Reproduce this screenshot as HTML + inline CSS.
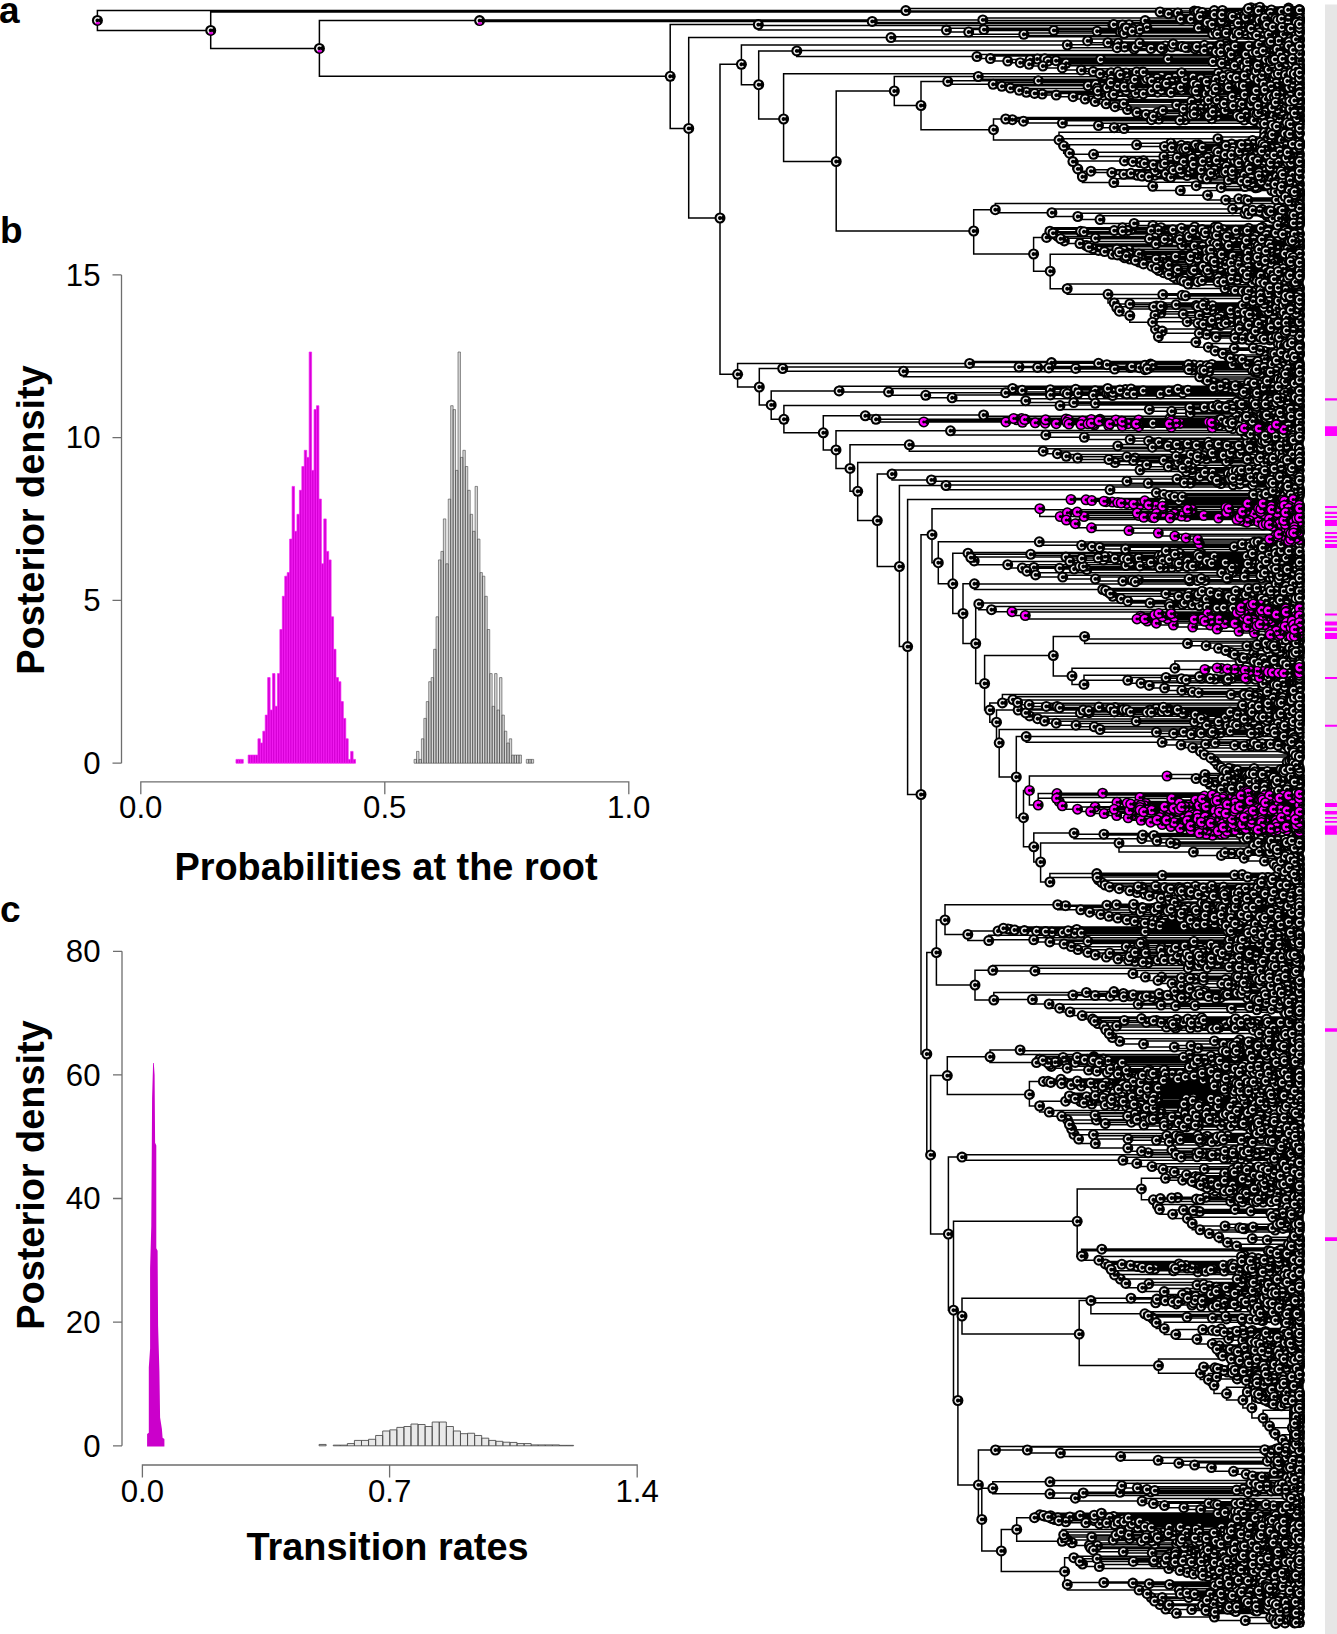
<!DOCTYPE html>
<html><head><meta charset="utf-8"><title>figure</title>
<style>html,body{margin:0;padding:0;background:#fff}svg{display:block}text{fill:#000}</style></head>
<body><svg width="1337" height="1634" viewBox="0 0 1337 1634">
<defs>
<marker id="n" markerUnits="userSpaceOnUse" markerWidth="13" markerHeight="13" refX="0" refY="0" viewBox="-6.5 -6.5 13 13" overflow="visible"><circle r="5.5" fill="#000"/><path d="M2.01 -1.81A2.7 2.7 0 1 0 2.01 1.81" fill="none" stroke="#ececec" stroke-width="1.5"/></marker>
<marker id="m" markerUnits="userSpaceOnUse" markerWidth="13" markerHeight="13" refX="0" refY="0" viewBox="-6.5 -6.5 13 13" overflow="visible"><circle r="5.5" fill="#000"/><path d="M2.11 -1.77A2.75 2.75 0 1 0 2.11 1.77" fill="none" stroke="#ff00ff" stroke-width="2.5"/></marker>
<marker id="w" markerUnits="userSpaceOnUse" markerWidth="13" markerHeight="13" refX="0" refY="0" viewBox="-6.5 -6.5 13 13" overflow="visible"><circle r="5.5" fill="#000"/><path d="M2.01 -1.81A2.7 2.7 0 1 0 2.01 1.81" fill="none" stroke="#ececec" stroke-width="1.5"/><path d="M-1.6 2.3A2.8 2.8 0 0 0 2 2" fill="none" stroke="#e000e0" stroke-width="2.2"/></marker>
</defs>
<rect width="1337" height="1634" fill="#fff"/>
<text x="-1" y="22.6" font-family="Liberation Sans, sans-serif" font-weight="bold" font-size="37">a</text>
<text x="0" y="243" font-family="Liberation Sans, sans-serif" font-weight="bold" font-size="37">b</text>
<text x="0" y="922" font-family="Liberation Sans, sans-serif" font-weight="bold" font-size="37">c</text>
<path d="M121.5 274.9V763.2M121.5 274.9h-9M121.5 437.6h-9M121.5 600.4h-9M121.5 763.2h-9" stroke="#6e6e6e" stroke-width="1.3" fill="none"/>
<path d="M140.8 794.2V781.8H628.8V794.2M384.8 781.8V794.2" stroke="#6e6e6e" stroke-width="1.3" fill="none"/>
<text x="100.5" y="285.7" text-anchor="end" font-family="Liberation Sans, sans-serif" font-size="31.2">15</text>
<text x="100.5" y="448.40000000000003" text-anchor="end" font-family="Liberation Sans, sans-serif" font-size="31.2">10</text>
<text x="100.5" y="611.1999999999999" text-anchor="end" font-family="Liberation Sans, sans-serif" font-size="31.2">5</text>
<text x="100.5" y="774.0" text-anchor="end" font-family="Liberation Sans, sans-serif" font-size="31.2">0</text>
<text x="140.8" y="818" text-anchor="middle" font-family="Liberation Sans, sans-serif" font-size="31.2">0.0</text>
<text x="384.8" y="818" text-anchor="middle" font-family="Liberation Sans, sans-serif" font-size="31.2">0.5</text>
<text x="628.8" y="818" text-anchor="middle" font-family="Liberation Sans, sans-serif" font-size="31.2">1.0</text>
<text x="386" y="879.5" text-anchor="middle" font-family="Liberation Sans, sans-serif" font-weight="bold" font-size="37.9">Probabilities at the root</text>
<text transform="translate(43.5 520) rotate(-90)" text-anchor="middle" font-family="Liberation Sans, sans-serif" font-weight="bold" font-size="37.9">Posterior density</text>
<path d="M235.96 763.2v-3.8h2.44v3.8zM238.40 763.2v-3.8h2.44v3.8zM240.84 763.2v-3.8h2.44v3.8zM248.16 763.2v-8.1h2.44v8.1zM250.60 763.2v-8.1h2.44v8.1zM253.04 763.2v-8.1h2.44v8.1zM255.48 763.2v-8.1h2.44v8.1zM257.92 763.2v-24.4h2.44v24.4zM260.36 763.2v-20.2h2.44v20.2zM262.80 763.2v-32.0h2.44v32.0zM265.24 763.2v-48.1h2.44v48.1zM267.68 763.2v-85.6h2.44v85.6zM270.12 763.2v-53.2h2.44v53.2zM272.56 763.2v-89.6h2.44v89.6zM275.00 763.2v-56.9h2.44v56.9zM277.44 763.2v-89.6h2.44v89.6zM279.88 763.2v-133.7h2.44v133.7zM282.32 763.2v-166.9h2.44v166.9zM284.76 763.2v-187.0h2.44v187.0zM287.20 763.2v-190.6h2.44v190.6zM289.64 763.2v-224.1h2.44v224.1zM292.08 763.2v-276.8h2.44v276.8zM294.52 763.2v-231.9h2.44v231.9zM296.96 763.2v-248.9h2.44v248.9zM299.40 763.2v-272.9h2.44v272.9zM301.84 763.2v-296.7h2.44v296.7zM304.28 763.2v-312.9h2.44v312.9zM306.72 763.2v-305.8h2.44v305.8zM309.16 763.2v-411.2h2.44v411.2zM311.60 763.2v-292.8h2.44v292.8zM314.04 763.2v-353.6h2.44v353.6zM316.48 763.2v-357.5h2.44v357.5zM318.92 763.2v-264.1h2.44v264.1zM321.36 763.2v-199.4h2.44v199.4zM323.80 763.2v-244.3h2.44v244.3zM326.24 763.2v-211.8h2.44v211.8zM328.68 763.2v-203.3h2.44v203.3zM331.12 763.2v-146.4h2.44v146.4zM333.56 763.2v-113.9h2.44v113.9zM336.00 763.2v-85.6h2.44v85.6zM338.44 763.2v-81.5h2.44v81.5zM340.88 763.2v-61.6h2.44v61.6zM343.32 763.2v-44.8h2.44v44.8zM345.76 763.2v-24.4h2.44v24.4zM348.20 763.2v-3.8h2.44v3.8zM350.64 763.2v-11.8h2.44v11.8zM353.08 763.2v-3.8h2.44v3.8z" fill="#d600d6" stroke="#f520f5" stroke-width="0.7"/>
<path d="M531.20 763.2v-3.8h2.44v3.8zM528.76 763.2v-3.8h2.44v3.8zM526.32 763.2v-3.8h2.44v3.8zM519.00 763.2v-8.1h2.44v8.1zM516.56 763.2v-8.1h2.44v8.1zM514.12 763.2v-8.1h2.44v8.1zM511.68 763.2v-8.1h2.44v8.1zM509.24 763.2v-24.4h2.44v24.4zM506.80 763.2v-20.2h2.44v20.2zM504.36 763.2v-32.0h2.44v32.0zM501.92 763.2v-48.1h2.44v48.1zM499.48 763.2v-85.6h2.44v85.6zM497.04 763.2v-53.2h2.44v53.2zM494.60 763.2v-89.6h2.44v89.6zM492.16 763.2v-56.9h2.44v56.9zM489.72 763.2v-89.6h2.44v89.6zM487.28 763.2v-133.7h2.44v133.7zM484.84 763.2v-166.9h2.44v166.9zM482.40 763.2v-187.0h2.44v187.0zM479.96 763.2v-190.6h2.44v190.6zM477.52 763.2v-224.1h2.44v224.1zM475.08 763.2v-276.8h2.44v276.8zM472.64 763.2v-231.9h2.44v231.9zM470.20 763.2v-248.9h2.44v248.9zM467.76 763.2v-272.9h2.44v272.9zM465.32 763.2v-296.7h2.44v296.7zM462.88 763.2v-312.9h2.44v312.9zM460.44 763.2v-305.8h2.44v305.8zM458.00 763.2v-411.2h2.44v411.2zM455.56 763.2v-292.8h2.44v292.8zM453.12 763.2v-353.6h2.44v353.6zM450.68 763.2v-357.5h2.44v357.5zM448.24 763.2v-264.1h2.44v264.1zM445.80 763.2v-199.4h2.44v199.4zM443.36 763.2v-244.3h2.44v244.3zM440.92 763.2v-211.8h2.44v211.8zM438.48 763.2v-203.3h2.44v203.3zM436.04 763.2v-146.4h2.44v146.4zM433.60 763.2v-113.9h2.44v113.9zM431.16 763.2v-85.6h2.44v85.6zM428.72 763.2v-81.5h2.44v81.5zM426.28 763.2v-61.6h2.44v61.6zM423.84 763.2v-44.8h2.44v44.8zM421.40 763.2v-24.4h2.44v24.4zM418.96 763.2v-3.8h2.44v3.8zM416.52 763.2v-11.8h2.44v11.8zM414.08 763.2v-3.8h2.44v3.8z" fill="#d6d6d6" stroke="#4a4a4a" stroke-width="0.62"/>
<path d="M122 951.3V1445.8M122 951.3h-9M122 1074.9h-9M122 1198.5h-9M122 1322.1h-9M122 1445.8h-9" stroke="#6e6e6e" stroke-width="1.3" fill="none"/>
<path d="M142.4 1477.4V1465H637.2V1477.4M389.6 1465V1477.4" stroke="#6e6e6e" stroke-width="1.3" fill="none"/>
<text x="100.5" y="962.0999999999999" text-anchor="end" font-family="Liberation Sans, sans-serif" font-size="31.2">80</text>
<text x="100.5" y="1085.7" text-anchor="end" font-family="Liberation Sans, sans-serif" font-size="31.2">60</text>
<text x="100.5" y="1209.3" text-anchor="end" font-family="Liberation Sans, sans-serif" font-size="31.2">40</text>
<text x="100.5" y="1332.8999999999999" text-anchor="end" font-family="Liberation Sans, sans-serif" font-size="31.2">20</text>
<text x="100.5" y="1456.6" text-anchor="end" font-family="Liberation Sans, sans-serif" font-size="31.2">0</text>
<text x="142.4" y="1501.5" text-anchor="middle" font-family="Liberation Sans, sans-serif" font-size="31.2">0.0</text>
<text x="389.6" y="1501.5" text-anchor="middle" font-family="Liberation Sans, sans-serif" font-size="31.2">0.7</text>
<text x="637.2" y="1501.5" text-anchor="middle" font-family="Liberation Sans, sans-serif" font-size="31.2">1.4</text>
<text x="387.5" y="1560" text-anchor="middle" font-family="Liberation Sans, sans-serif" font-weight="bold" font-size="37.9">Transition rates</text>
<text transform="translate(43.5 1175) rotate(-90)" text-anchor="middle" font-family="Liberation Sans, sans-serif" font-weight="bold" font-size="37.9">Posterior density</text>
<polygon points="147.1,1446.5 147.1,1434 148.8,1432.7 148.8,1367.4 150.1,1348.6 150.1,1268.3 151.3,1225.7 152.1,1097.7 153.1,1063 153.8,1063 154.6,1075 155.1,1142.8 156.3,1145.4 156.3,1248.2 157.6,1250.8 158.1,1326 159.4,1371.2 160.1,1417.6 161.9,1428.9 162.6,1437.7 164.4,1439 164.4,1446.5" fill="#cb00cb"/>
<path d="M319.07 1445.8v-1.35h7.07v1.35zM333.21 1445.8v-0.67h7.07v0.67zM340.28 1445.8v-0.67h7.07v0.67zM347.35 1445.8v-2.24h7.07v2.24zM354.42 1445.8v-5.38h7.07v5.38zM361.49 1445.8v-5.38h7.07v5.38zM368.56 1445.8v-6.51h7.07v6.51zM375.63 1445.8v-10.32h7.07v10.32zM382.70 1445.8v-14.81h7.07v14.81zM389.77 1445.8v-15.93h7.07v15.93zM396.84 1445.8v-18.40h7.07v18.40zM403.91 1445.8v-19.30h7.07v19.30zM410.98 1445.8v-21.76h7.07v21.76zM418.05 1445.8v-21.31h7.07v21.31zM425.12 1445.8v-19.30h7.07v19.30zM432.19 1445.8v-23.78h7.07v23.78zM439.26 1445.8v-23.78h7.07v23.78zM446.33 1445.8v-19.30h7.07v19.30zM453.40 1445.8v-14.81h7.07v14.81zM460.47 1445.8v-12.12h7.07v12.12zM467.54 1445.8v-12.56h7.07v12.56zM474.61 1445.8v-10.32h7.07v10.32zM481.68 1445.8v-7.63h7.07v7.63zM488.75 1445.8v-5.38h7.07v5.38zM495.82 1445.8v-4.49h7.07v4.49zM502.89 1445.8v-3.59h7.07v3.59zM509.96 1445.8v-3.37h7.07v3.37zM517.03 1445.8v-2.24h7.07v2.24zM524.10 1445.8v-2.24h7.07v2.24zM531.17 1445.8v-0.90h7.07v0.90zM538.24 1445.8v-0.90h7.07v0.90zM545.31 1445.8v-0.90h7.07v0.90zM552.38 1445.8v-0.90h7.07v0.90zM559.45 1445.8v-0.45h7.07v0.45zM566.52 1445.8v-0.45h7.07v0.45z" fill="#e9e9e9" stroke="#505050" stroke-width="0.9"/>
<rect x="1325" y="4.5" width="12" height="1630" fill="#e6e6e6"/>
<path d="M1325 398.2h12v2.2h-12zM1325 426.3h12v9.7h-12zM1325 505.9h12v2.2h-12zM1325 511.8h12v2.2h-12zM1325 516h12v1.9h-12zM1325 520h12v6.1h-12zM1325 531.9h12v2.2h-12zM1325 536h12v2.2h-12zM1325 540h12v2.0h-12zM1325 544h12v4.1h-12zM1325 613.4h12v2.1h-12zM1325 621.5h12v3.9h-12zM1325 627.4h12v3.7h-12zM1325 633h12v6.0h-12zM1325 676.9h12v2.0h-12zM1325 724.8h12v2.0h-12zM1325 803h12v3.9h-12zM1325 811h12v3.5h-12zM1325 816.9h12v1.9h-12zM1325 820.9h12v1.9h-12zM1325 825.4h12v9.3h-12zM1325 1028.2h12v3.6h-12zM1325 1237.3h12v3.8h-12z" fill="#ff00ff"/>
<path d="M97.4 10.6V30.4M97.4 10.6H905.8M97.4 30.4H210.7M905.8 8.5V11.1M905.8 8.5H1248.5M905.8 11.1H1194.3M1248.5 7.8V9.2M1248.5 7.8H1251M1248.5 9.2H1302.6M1251 7.2V8.4M1251 7.2H1259.9M1251 8.4H1256.6M1259.9 7V7.4M1259.9 7H1302.6M1259.9 7.4H1302.6M1256.6 8.1V8.7M1256.6 8.1H1288.6M1256.6 8.7H1302.6M1288.6 7.9V8.3M1288.6 7.9H1302.6M1288.6 8.3H1302.6M1194.3 10.4V11.8M1194.3 10.4H1222.4M1194.3 11.8H1302.6M1222.4 9.8V11M1222.4 9.8H1288M1222.4 11H1246.7M1288 9.6V10.1M1288 9.6H1302.6M1288 10.1H1302.6M1246.7 10.7V11.4M1246.7 10.7H1250M1246.7 11.4H1302.6M1250 10.5V10.9M1250 10.5H1302.6M1250 10.9H1302.6M210.7 12V48.4M210.7 12H1160M210.7 48.4H319.4M1160 12V16.2M1160 13.8H1168.5M1160 16.2H1302.6M1168.5 12.8V14.7M1168.5 12.8H1196.2M1168.5 14.7H1214.2M1196.2 12.5V13.2M1196.2 12.5H1202.2M1196.2 13.2H1302.6M1202.2 12.3V12.7M1202.2 12.3H1302.6M1202.2 12.7H1302.6M1214.2 14.1V15.2M1214.2 14.1H1216.8M1214.2 15.2H1230.6M1216.8 13.8V14.5M1216.8 13.8H1269.2M1216.8 14.5H1302.6M1269.2 13.6V14M1269.2 13.6H1302.6M1269.2 14H1302.6M1230.6 14.9V15.5M1230.6 14.9H1302.6M1230.6 15.5H1235.6M1235.6 15.3V15.8M1235.6 15.3H1302.6M1235.6 15.8H1302.6M319.4 20.6V76.3M319.4 20.6H479.6M319.4 76.3H670.2M479.6 19.9V21.4M479.6 19.9H982.8M479.6 21.4H872.2M982.8 17.9V20.6M982.8 17.9H1264.5M982.8 20.6H1145.1M1264.5 17.2V18.6M1264.5 17.2H1286.5M1264.5 18.6H1275.6M1286.5 17V17.4M1286.5 17H1302.6M1286.5 17.4H1302.6M1275.6 18.1V19M1275.6 18.1H1284.7M1275.6 19H1277.3M1284.7 17.9V18.3M1284.7 17.9H1302.6M1284.7 18.3H1302.6M1277.3 18.8V19.2M1277.3 18.8H1302.6M1277.3 19.2H1302.6M1145.1 20.2V21M1145.1 20.2H1277.6M1145.1 21H1302.6M1277.6 19.9V20.6M1277.6 19.9H1287.8M1277.6 20.6H1302.6M1287.8 19.7V20.1M1287.8 19.7H1302.6M1287.8 20.1H1302.6M872.2 21.4V23.6M872.2 22.4H1207.2M872.2 23.6H1302.6M1207.2 21.9V22.9M1207.2 21.9H1213.4M1207.2 22.9H1237.9M1213.4 21.6V22.1M1213.4 21.6H1302.6M1213.4 22.1H1302.6M1237.9 22.6V23.1M1237.9 22.6H1302.6M1237.9 23.1H1302.6M670.2 24.6V128.4M670.2 24.6H758.3M670.2 128.4H688.7M758.3 24.6V30.1M758.3 25.4H1269.1M758.3 30.1H946.4M1269.1 24.6V26.3M1269.1 24.6H1278.5M1269.1 26.3H1271.3M1278.5 24.2V24.9M1278.5 24.2H1281M1278.5 24.9H1302.6M1281 24V24.4M1281 24H1302.6M1281 24.4H1302.6M1271.3 25.5V27M1271.3 25.5H1288.4M1271.3 27H1272.6M1288.4 25.3V25.8M1288.4 25.3H1302.6M1288.4 25.8H1302.6M1272.6 26.5V27.5M1272.6 26.5H1278.4M1272.6 27.5H1302.6M1278.4 26.2V26.9M1278.4 26.2H1302.6M1278.4 26.9H1288.5M1288.5 26.7V27.1M1288.5 26.7H1302.6M1288.5 27.1H1302.6M946.4 28.2V32M946.4 28.2H1273.6M946.4 32H968.7M1273.6 28V28.4M1273.6 28H1302.6M1273.6 28.4H1302.6M968.7 29.6V34.3M968.7 29.6H983.9M968.7 34.3H1023.8M983.9 28.9V30.4M983.9 28.9H1302.6M983.9 30.4H1053.8M1053.8 29.5V31.2M1053.8 29.5H1273.5M1053.8 31.2H1097.1M1273.5 29.3V29.8M1273.5 29.3H1302.6M1273.5 29.8H1302.6M1097.1 30.7V31.7M1097.1 30.7H1126.9M1097.1 31.7H1137.4M1126.9 30.4V31.1M1126.9 30.4H1215.5M1126.9 31.1H1302.6M1215.5 30.2V30.6M1215.5 30.2H1302.6M1215.5 30.6H1302.6M1137.4 31.5V32M1137.4 31.5H1302.6M1137.4 32H1302.6M1023.8 33.1V35.5M1023.8 33.1H1226M1023.8 35.5H1302.6M1226 32.4V33.7M1226 32.4H1302.6M1226 33.7H1239M1239 33.1V34.4M1239 33.1H1265M1239 34.4H1246.8M1265 32.8V33.3M1265 32.8H1302.6M1265 33.3H1302.6M1246.8 34V34.8M1246.8 34H1251.9M1246.8 34.8H1253M1251.9 33.7V34.2M1251.9 33.7H1302.6M1251.9 34.2H1302.6M1253 34.6V35.1M1253 34.6H1302.6M1253 35.1H1302.6M688.7 37.6V218M688.7 37.6H891M688.7 218H720M891 36.8V40.9M891 36.8H1233.6M891 40.9H1087.6M1233.6 36.3V37.3M1233.6 36.3H1269.8M1233.6 37.3H1302.6M1269.8 36V36.7M1269.8 36H1302.6M1269.8 36.7H1285M1285 36.4V36.9M1285 36.4H1302.6M1285 36.9H1302.6M1087.6 39V42.7M1087.6 39H1289.1M1087.6 42.7H1107.8M1289.1 38V40M1289.1 38H1292.4M1289.1 40H1290.3M1292.4 37.8V38.2M1292.4 37.8H1302.6M1292.4 38.2H1302.6M1290.3 39.2V40.9M1290.3 39.2H1292.8M1290.3 40.9H1302.6M1292.8 38.6V39.8M1292.8 38.6H1302.6M1292.8 39.8H1293.4M1293.4 39.3V40.2M1293.4 39.3H1295.9M1293.4 40.2H1293.4M1295.9 39.1V39.5M1295.9 39.1H1302.6M1295.9 39.5H1302.6M1293.4 40V40.4M1293.4 40H1302.6M1293.4 40.4H1302.6M1107.8 42.1V43.3M1107.8 42.1H1262.9M1107.8 43.3H1118.2M1262.9 41.6V42.6M1262.9 41.6H1282.2M1262.9 42.6H1302.6M1282.2 41.3V42M1282.2 41.3H1302.6M1282.2 42H1289M1289 41.7V42.2M1289 41.7H1302.6M1289 42.2H1302.6M1118.2 43.1V43.5M1118.2 43.1H1302.6M1118.2 43.5H1302.6M720 64.3V374.3M720 64.3H741.4M720 374.3H737.6M741.4 45V84.7M741.4 45H1067.3M741.4 84.7H758.7M1067.3 44.7V47.7M1067.3 44.7H1271.7M1067.3 47.7H1117.1M1271.7 44V45.4M1271.7 44H1302.6M1271.7 45.4H1274.6M1274.6 45V45.8M1274.6 45H1277.1M1274.6 45.8H1302.6M1277.1 44.7V45.4M1277.1 44.7H1294.4M1277.1 45.4H1302.6M1294.4 44.5V44.9M1294.4 44.5H1302.6M1294.4 44.9H1302.6M1117.1 46.3V49M1117.1 46.3H1302.6M1117.1 49H1134.2M1134.2 48.5V49.5M1134.2 48.5H1150.9M1134.2 49.5H1302.6M1150.9 48V49M1150.9 48H1161.2M1150.9 49H1302.6M1161.2 47.4V48.6M1161.2 47.4H1188.1M1161.2 48.6H1302.6M1188.1 47V47.9M1188.1 47H1198.5M1188.1 47.9H1210.2M1198.5 46.8V47.2M1198.5 46.8H1302.6M1198.5 47.2H1302.6M1210.2 47.7V48.1M1210.2 47.7H1302.6M1210.2 48.1H1302.6M758.7 50.9V119M758.7 50.9H796.8M758.7 119H783.6M796.8 50.6V56.6M796.8 50.6H1204.1M796.8 56.6H976.9M1204.1 50V51.2M1204.1 50H1302.6M1204.1 51.2H1212.8M1212.8 50.7V51.8M1212.8 50.7H1263M1212.8 51.8H1216.1M1263 50.4V50.9M1263 50.4H1302.6M1263 50.9H1302.6M1216.1 51.3V52.3M1216.1 51.3H1302.6M1216.1 52.3H1220.7M1220.7 51.8V52.8M1220.7 51.8H1302.6M1220.7 52.8H1224.2M1224.2 52.5V53.1M1224.2 52.5H1272.8M1224.2 53.1H1302.6M1272.8 52.2V52.7M1272.8 52.2H1302.6M1272.8 52.7H1302.6M976.9 54.5V58.6M976.9 54.5H1231.1M976.9 58.6H990.4M1231.1 54.2V54.9M1231.1 54.2H1245.8M1231.1 54.9H1302.6M1245.8 53.8V54.5M1245.8 53.8H1278.5M1245.8 54.5H1302.6M1278.5 53.6V54M1278.5 53.6H1302.6M1278.5 54H1302.6M990.4 56.1V61.1M990.4 56.1H1258.9M990.4 61.1H1007.7M1258.9 55.4V56.8M1258.9 55.4H1302.6M1258.9 56.8H1266.3M1266.3 56.2V57.4M1266.3 56.2H1273.1M1266.3 57.4H1273M1273.1 55.8V56.5M1273.1 55.8H1302.6M1273.1 56.5H1285.6M1285.6 56.3V56.7M1285.6 56.3H1302.6M1285.6 56.7H1302.6M1273 57.2V57.6M1273 57.2H1302.6M1273 57.6H1302.6M1007.7 59.6V62.7M1007.7 59.6H1030.1M1007.7 62.7H1020.2M1030.1 58.8V60.3M1030.1 58.8H1044.8M1030.1 60.3H1302.6M1044.8 58.1V59.5M1044.8 58.1H1302.6M1044.8 59.5H1100.6M1100.6 59.1V59.9M1100.6 59.1H1167.9M1100.6 59.9H1302.6M1167.9 58.8V59.4M1167.9 58.8H1282.4M1167.9 59.4H1302.6M1282.4 58.5V59M1282.4 58.5H1302.6M1282.4 59H1302.6M1020.2 61.2V64.3M1020.2 61.2H1224.9M1020.2 64.3H1029.1M1224.9 60.8V61.6M1224.9 60.8H1302.6M1224.9 61.6H1240.3M1240.3 61.2V61.9M1240.3 61.2H1302.6M1240.3 61.9H1247M1247 61.7V62.1M1247 61.7H1302.6M1247 62.1H1302.6M1029.1 62.6V66M1029.1 62.6H1302.6M1029.1 66H1042.9M1042.9 64V67.9M1042.9 64H1228.6M1042.9 67.9H1062.3M1228.6 63.6V64.4M1228.6 63.6H1272M1228.6 64.4H1302.6M1272 63.2V63.9M1272 63.2H1292.3M1272 63.9H1302.6M1292.3 63V63.5M1292.3 63H1302.6M1292.3 63.5H1302.6M1062.3 65.7V70.1M1062.3 65.7H1234.5M1062.3 70.1H1081.3M1234.5 64.8V66.6M1234.5 64.8H1302.6M1234.5 66.6H1244.2M1244.2 66.2V67.1M1244.2 66.2H1255.5M1244.2 67.1H1302.6M1255.5 65.8V66.6M1255.5 65.8H1267.3M1255.5 66.6H1302.6M1267.3 65.5V66.2M1267.3 65.5H1279.2M1267.3 66.2H1302.6M1279.2 65.3V65.7M1279.2 65.3H1302.6M1279.2 65.7H1302.6M1081.3 68.7V71.6M1081.3 68.7H1288.1M1081.3 71.6H1093.2M1288.1 67.7V69.6M1288.1 67.7H1291.2M1288.1 69.6H1290.9M1291.2 67.5V68M1291.2 67.5H1302.6M1291.2 68H1302.6M1290.9 69.1V70.2M1290.9 69.1H1293.6M1290.9 70.2H1302.6M1293.6 68.6V69.5M1293.6 68.6H1295.9M1293.6 69.5H1293.6M1295.9 68.4V68.9M1295.9 68.4H1302.6M1295.9 68.9H1302.6M1293.6 69.3V69.8M1293.6 69.3H1302.6M1293.6 69.8H1302.6M1093.2 71.2V72M1093.2 71.2H1273.5M1093.2 72H1302.6M1273.5 70.9V71.6M1273.5 70.9H1278.9M1273.5 71.6H1302.6M1278.9 70.7V71.1M1278.9 70.7H1302.6M1278.9 71.1H1302.6M783.6 73.8V161.5M783.6 73.8H1100M783.6 161.5H836.2M1100 73V74.6M1100 73H1126M1100 74.6H1136.5M1126 72.7V73.3M1126 72.7H1181.6M1126 73.3H1302.6M1181.6 72.5V72.9M1181.6 72.5H1302.6M1181.6 72.9H1302.6M1136.5 74.3V75M1136.5 74.3H1275M1136.5 75H1302.6M1275 74V74.6M1275 74H1294.3M1275 74.6H1302.6M1294.3 73.8V74.2M1294.3 73.8H1302.6M1294.3 74.2H1302.6M836.2 91V231M836.2 91H894.3M836.2 231H973.7M894.3 76.5V105.5M894.3 76.5H978.3M894.3 105.5H921M978.3 76.5V79.3M978.3 76.8H1223.1M978.3 79.3H1111.1M1223.1 75.7V77.8M1223.1 75.7H1244.3M1223.1 77.8H1236.4M1244.3 75.5V75.9M1244.3 75.5H1302.6M1244.3 75.9H1302.6M1236.4 76.9V78.6M1236.4 76.9H1238.9M1236.4 78.6H1302.6M1238.9 76.4V77.5M1238.9 76.4H1302.6M1238.9 77.5H1244.7M1244.7 77.1V77.9M1244.7 77.1H1277.6M1244.7 77.9H1248.2M1277.6 76.8V77.3M1277.6 76.8H1302.6M1277.6 77.3H1302.6M1248.2 77.7V78.2M1248.2 77.7H1302.6M1248.2 78.2H1302.6M1111.1 79.1V79.5M1111.1 79.1H1302.6M1111.1 79.5H1302.6M921 81.4V129.7M921 81.4H947.7M921 129.7H993.5M947.7 80.7V84.3M947.7 80.7H1038.3M947.7 84.3H993.1M1038.3 80.2V81.1M1038.3 80.2H1258.1M1038.3 81.1H1151.6M1258.1 80V80.5M1258.1 80H1302.6M1258.1 80.5H1302.6M1151.6 80.9V81.4M1151.6 80.9H1302.6M1151.6 81.4H1302.6M993.1 82.4V86.3M993.1 82.4H1132M993.1 86.3H1001.9M1132 81.8V82.9M1132 81.8H1302.6M1132 82.9H1171.8M1171.8 82.3V83.5M1171.8 82.3H1302.6M1171.8 83.5H1193.8M1193.8 83V84.1M1193.8 83H1228.4M1193.8 84.1H1302.6M1228.4 82.7V83.4M1228.4 82.7H1302.6M1228.4 83.4H1276.2M1276.2 83.2V83.6M1276.2 83.2H1302.6M1276.2 83.6H1302.6M1001.9 84.5V88.1M1001.9 84.5H1302.6M1001.9 88.1H1010.4M1010.4 85.8V90.3M1010.4 85.8H1088M1010.4 90.3H1019.2M1088 85.2V86.4M1088 85.2H1214.4M1088 86.4H1157.3M1214.4 85V85.4M1214.4 85H1302.6M1214.4 85.4H1302.6M1157.3 86.1V86.8M1157.3 86.1H1213.6M1157.3 86.8H1302.6M1213.6 85.9V86.3M1213.6 85.9H1302.6M1213.6 86.3H1302.6M1019.2 88.4V92.3M1019.2 88.4H1097.1M1019.2 92.3H1026.4M1097.1 87.4V89.4M1097.1 87.4H1208.2M1097.1 89.4H1153.7M1208.2 87.2V87.7M1208.2 87.2H1302.6M1208.2 87.7H1302.6M1153.7 88.7V90M1153.7 88.7H1174.3M1153.7 90H1181.8M1174.3 88.3V89M1174.3 88.3H1198M1174.3 89H1302.6M1198 88.1V88.6M1198 88.1H1302.6M1198 88.6H1302.6M1181.8 89.7V90.4M1181.8 89.7H1264.5M1181.8 90.4H1302.6M1264.5 89.5V89.9M1264.5 89.5H1302.6M1264.5 89.9H1302.6M1026.4 91.2V93.4M1026.4 91.2H1098.1M1026.4 93.4H1034.6M1098.1 90.8V91.6M1098.1 90.8H1302.6M1098.1 91.6H1119.4M1119.4 91.3V91.9M1119.4 91.3H1302.6M1119.4 91.9H1130.8M1130.8 91.7V92.2M1130.8 91.7H1302.6M1130.8 92.2H1302.6M1034.6 92.6V94.1M1034.6 92.6H1302.6M1034.6 94.1H1042.2M1042.2 93.1V95.1M1042.2 93.1H1302.6M1042.2 95.1H1056.2M1056.2 93.5V96.7M1056.2 93.5H1302.6M1056.2 96.7H1073.1M1073.1 94.5V99M1073.1 94.5H1276.3M1073.1 99H1085.1M1276.3 94.2V94.9M1276.3 94.2H1294.4M1276.3 94.9H1302.6M1294.4 94V94.4M1294.4 94H1302.6M1294.4 94.4H1302.6M1085.1 96.3V101.6M1085.1 96.3H1270.5M1085.1 101.6H1095.1M1270.5 95.5V97.1M1270.5 95.5H1292.6M1270.5 97.1H1274.3M1292.6 95.3V95.8M1292.6 95.3H1302.6M1292.6 95.8H1302.6M1274.3 96.4V97.7M1274.3 96.4H1290.2M1274.3 97.7H1276.7M1290.2 96.2V96.7M1290.2 96.2H1302.6M1290.2 96.7H1302.6M1276.7 97.3V98M1276.7 97.3H1294.2M1276.7 98H1302.6M1294.2 97.1V97.6M1294.2 97.1H1302.6M1294.2 97.6H1302.6M1095.1 99.4V103.8M1095.1 99.4H1251.5M1095.1 103.8H1106.1M1251.5 99V99.8M1251.5 99H1254.6M1251.5 99.8H1302.6M1254.6 98.7V99.4M1254.6 98.7H1293.2M1254.6 99.4H1302.6M1293.2 98.5V98.9M1293.2 98.5H1302.6M1293.2 98.9H1302.6M1106.1 101V106.7M1106.1 101H1287.4M1106.1 106.7H1115M1287.4 100.5V101.4M1287.4 100.5H1294.4M1287.4 101.4H1289.8M1294.4 100.3V100.7M1294.4 100.3H1302.6M1294.4 100.7H1302.6M1289.8 101.2V101.6M1289.8 101.2H1302.6M1289.8 101.6H1302.6M1115 103.7V109.6M1115 103.7H1123.6M1115 109.6H1127.4M1123.6 102.3V105.1M1123.6 102.3H1242.7M1123.6 105.1H1176.6M1242.7 102.1V102.5M1242.7 102.1H1302.6M1242.7 102.5H1302.6M1176.6 104.5V105.7M1176.6 104.5H1205M1176.6 105.7H1302.6M1205 103.7V105.2M1205 103.7H1225.6M1205 105.2H1302.6M1225.6 103.2V104.2M1225.6 103.2H1237.2M1225.6 104.2H1241.8M1237.2 103V103.4M1237.2 103H1302.6M1237.2 103.4H1302.6M1241.8 103.9V104.6M1241.8 103.9H1302.6M1241.8 104.6H1246.4M1246.4 104.3V104.8M1246.4 104.3H1302.6M1246.4 104.8H1302.6M1127.4 106.9V112.4M1127.4 106.9H1270.8M1127.4 112.4H1136.8M1270.8 106.1V107.6M1270.8 106.1H1302.6M1270.8 107.6H1272.1M1272.1 106.8V108.3M1272.1 106.8H1294.4M1272.1 108.3H1274.3M1294.4 106.6V107M1294.4 106.6H1302.6M1294.4 107H1302.6M1274.3 107.7V109M1274.3 107.7H1278.3M1274.3 109H1277.4M1278.3 107.5V107.9M1278.3 107.5H1302.6M1278.3 107.9H1302.6M1277.4 108.6V109.3M1277.4 108.6H1285.2M1277.4 109.3H1302.6M1285.2 108.4V108.8M1285.2 108.4H1302.6M1285.2 108.8H1302.6M1136.8 110.4V114.5M1136.8 110.4H1162.8M1136.8 114.5H1146M1162.8 110V110.9M1162.8 110H1276.5M1162.8 110.9H1224.3M1276.5 109.7V110.2M1276.5 109.7H1302.6M1276.5 110.2H1302.6M1224.3 110.6V111.1M1224.3 110.6H1302.6M1224.3 111.1H1302.6M1146 112.7V116.3M1146 112.7H1157.5M1146 116.3H1153.2M1157.5 111.8V113.5M1157.5 111.8H1212.6M1157.5 113.5H1183.8M1212.6 111.5V112M1212.6 111.5H1302.6M1212.6 112H1302.6M1183.8 112.4V114.7M1183.8 112.4H1302.6M1183.8 114.7H1197.6M1197.6 113.7V115.6M1197.6 113.7H1253.8M1197.6 115.6H1302.6M1253.8 113.1V114.3M1253.8 113.1H1294.4M1253.8 114.3H1259.7M1294.4 112.9V113.3M1294.4 112.9H1302.6M1294.4 113.3H1302.6M1259.7 113.8V114.8M1259.7 113.8H1302.6M1259.7 114.8H1262.5M1262.5 114.5V115.1M1262.5 114.5H1266.3M1262.5 115.1H1302.6M1266.3 114.2V114.7M1266.3 114.2H1302.6M1266.3 114.7H1302.6M1153.2 116V116.5M1153.2 116H1302.6M1153.2 116.5H1302.6M993.5 119V139.9M993.5 119H1005.7M993.5 139.9H1059M1005.7 117.5V119.7M1005.7 117.5H1302.6M1005.7 119.7H1012.4M1012.4 118.3V121.2M1012.4 118.3H1279.1M1012.4 121.2H1023.4M1279.1 117.9V118.6M1279.1 117.9H1302.6M1279.1 118.6H1288.1M1288.1 118.4V118.8M1288.1 118.4H1302.6M1288.1 118.8H1302.6M1023.4 119.3V123.1M1023.4 119.3H1302.6M1023.4 123.1H1062.4M1062.4 120.7V125.5M1062.4 120.7H1255.2M1062.4 125.5H1098.5M1255.2 119.9V121.4M1255.2 119.9H1285.3M1255.2 121.4H1265.5M1285.3 119.7V120.2M1285.3 119.7H1302.6M1285.3 120.2H1302.6M1265.5 120.8V122M1265.5 120.8H1294.4M1265.5 122H1270.4M1294.4 120.6V121M1294.4 120.6H1302.6M1294.4 121H1302.6M1270.4 121.7V122.4M1270.4 121.7H1275M1270.4 122.4H1302.6M1275 121.5V121.9M1275 121.5H1302.6M1275 121.9H1302.6M1098.5 123.3V127.7M1098.5 123.3H1260.1M1098.5 127.7H1114.2M1260.1 122.8V123.8M1260.1 122.8H1302.6M1260.1 123.8H1264.4M1264.4 123.2V124.4M1264.4 123.2H1302.6M1264.4 124.4H1266.6M1266.6 123.9V124.9M1266.6 123.9H1269.3M1266.6 124.9H1270.9M1269.3 123.7V124.1M1269.3 123.7H1302.6M1269.3 124.1H1302.6M1270.9 124.6V125.2M1270.9 124.6H1302.6M1270.9 125.2H1272.5M1272.5 125V125.5M1272.5 125H1302.6M1272.5 125.5H1302.6M1114.2 126.8V128.6M1114.2 126.8H1264.6M1114.2 128.6H1124M1264.6 126.5V127.2M1264.6 126.5H1276.6M1264.6 127.2H1302.6M1276.6 126.1V126.8M1276.6 126.1H1293.3M1276.6 126.8H1302.6M1293.3 125.9V126.3M1293.3 125.9H1302.6M1293.3 126.3H1302.6M1124 128.2V129M1124 128.2H1279.1M1124 129H1302.6M1279.1 127.9V128.6M1279.1 127.9H1283.2M1279.1 128.6H1302.6M1283.2 127.7V128.1M1283.2 127.7H1302.6M1283.2 128.1H1302.6M1059 132.2V145.9M1059 132.2H1264.6M1059 145.9H1063.7M1264.6 131.2V133.3M1264.6 131.2H1271M1264.6 133.3H1266.3M1271 131V131.4M1271 131H1302.6M1271 131.4H1302.6M1266.3 132.5V134.1M1266.3 132.5H1270.5M1266.3 134.1H1269.6M1270.5 132.1V132.8M1270.5 132.1H1286.4M1270.5 132.8H1302.6M1286.4 131.9V132.3M1286.4 131.9H1302.6M1286.4 132.3H1302.6M1269.6 133.5V134.7M1269.6 133.5H1284.9M1269.6 134.7H1272.1M1284.9 133.2V133.7M1284.9 133.2H1302.6M1284.9 133.7H1302.6M1272.1 134.4V135M1272.1 134.4H1286.5M1272.1 135H1302.6M1286.5 134.1V134.6M1286.5 134.1H1302.6M1286.5 134.6H1302.6M1063.7 138.7V153.2M1063.7 138.7H1217.9M1063.7 153.2H1069.5M1217.9 136.9V140.5M1217.9 136.9H1264.3M1217.9 140.5H1252.6M1264.3 136V137.7M1264.3 136H1288.8M1264.3 137.7H1267.9M1288.8 135.7V136.4M1288.8 135.7H1294.4M1288.8 136.4H1302.6M1294.4 135.5V135.9M1294.4 135.5H1302.6M1294.4 135.9H1302.6M1267.9 137.1V138.3M1267.9 137.1H1292M1267.9 138.3H1271.2M1292 136.8V137.3M1292 136.8H1302.6M1292 137.3H1302.6M1271.2 138V138.6M1271.2 138H1290.7M1271.2 138.6H1302.6M1290.7 137.7V138.2M1290.7 137.7H1302.6M1290.7 138.2H1302.6M1252.6 140V140.9M1252.6 140H1281.6M1252.6 140.9H1302.6M1281.6 139.6V140.4M1281.6 139.6H1291.8M1281.6 140.4H1302.6M1291.8 139.3V140M1291.8 139.3H1294.3M1291.8 140H1302.6M1294.3 139.1V139.5M1294.3 139.1H1302.6M1294.3 139.5H1302.6M1069.5 144.8V161.6M1069.5 144.8H1136.6M1069.5 161.6H1072.9M1136.6 143.2V146.4M1136.6 143.2H1170.8M1136.6 146.4H1164.5M1170.8 142.3V144M1170.8 142.3H1260.4M1170.8 144H1302.6M1260.4 141.5V143.1M1260.4 141.5H1293.8M1260.4 143.1H1264.6M1293.8 141.3V141.8M1293.8 141.3H1302.6M1293.8 141.8H1302.6M1264.6 142.6V143.6M1264.6 142.6H1268.6M1264.6 143.6H1302.6M1268.6 142.2V142.9M1268.6 142.2H1302.6M1268.6 142.9H1284.6M1284.6 142.7V143.1M1284.6 142.7H1302.6M1284.6 143.1H1302.6M1164.5 145V147.7M1164.5 145H1195.6M1164.5 147.7H1171.7M1195.6 144.7V145.4M1195.6 144.7H1241.6M1195.6 145.4H1302.6M1241.6 144.5V144.9M1241.6 144.5H1302.6M1241.6 144.9H1302.6M1171.7 146.5V148.9M1171.7 146.5H1187.3M1171.7 148.9H1180.9M1187.3 146V147M1187.3 146H1285.7M1187.3 147H1200.1M1285.7 145.8V146.3M1285.7 145.8H1302.6M1285.7 146.3H1302.6M1200.1 146.7V147.4M1200.1 146.7H1302.6M1200.1 147.4H1202.3M1202.3 147.2V147.6M1202.3 147.2H1302.6M1202.3 147.6H1302.6M1180.9 148.3V149.6M1180.9 148.3H1260.8M1180.9 149.6H1183.6M1260.8 148.1V148.5M1260.8 148.1H1302.6M1260.8 148.5H1302.6M1183.6 149.2V150.1M1183.6 149.2H1191M1183.6 150.1H1188.9M1191 148.9V149.4M1191 148.9H1302.6M1191 149.4H1302.6M1188.9 149.8V150.3M1188.9 149.8H1302.6M1188.9 150.3H1302.6M1072.9 154.3V168.9M1072.9 154.3H1093.5M1072.9 168.9H1077.8M1093.5 152.3V156.4M1093.5 152.3H1218M1093.5 156.4H1163.9M1218 151.1V153.5M1218 151.1H1239.2M1218 153.5H1240.8M1239.2 150.7V151.4M1239.2 150.7H1302.6M1239.2 151.4H1279.6M1279.6 151.2V151.6M1279.6 151.2H1302.6M1279.6 151.6H1302.6M1240.8 153V153.9M1240.8 153H1268.3M1240.8 153.9H1302.6M1268.3 152.7V153.4M1268.3 152.7H1277.8M1268.3 153.4H1302.6M1277.8 152.3V153M1277.8 152.3H1287.3M1277.8 153H1302.6M1287.3 152.1V152.5M1287.3 152.1H1302.6M1287.3 152.5H1302.6M1163.9 155.3V157.5M1163.9 155.3H1267.2M1163.9 157.5H1177.2M1267.2 154.9V155.7M1267.2 154.9H1287.5M1267.2 155.7H1302.6M1287.5 154.6V155.2M1287.5 154.6H1294.4M1287.5 155.2H1302.6M1294.4 154.3V154.8M1294.4 154.3H1302.6M1294.4 154.8H1302.6M1177.2 156.5V158.5M1177.2 156.5H1191.6M1177.2 158.5H1192.1M1191.6 156.1V156.8M1191.6 156.1H1302.6M1191.6 156.8H1265.4M1265.4 156.6V157M1265.4 156.6H1302.6M1265.4 157H1302.6M1192.1 157.7V159.3M1192.1 157.7H1251.1M1192.1 159.3H1201.6M1251.1 157.5V157.9M1251.1 157.5H1302.6M1251.1 157.9H1302.6M1201.6 158.9V159.7M1201.6 158.9H1246M1201.6 159.7H1302.6M1246 158.6V159.3M1246 158.6H1252.5M1246 159.3H1302.6M1252.5 158.4V158.8M1252.5 158.4H1302.6M1252.5 158.8H1302.6M1077.8 160.9V176.8M1077.8 160.9H1124.4M1077.8 176.8H1082.4M1124.4 160.2V161.7M1124.4 160.2H1302.6M1124.4 161.7H1132.8M1132.8 160.8V162.5M1132.8 160.8H1143.5M1132.8 162.5H1139.9M1143.5 160.6V161.1M1143.5 160.6H1302.6M1143.5 161.1H1302.6M1139.9 161.5V163.5M1139.9 161.5H1302.6M1139.9 163.5H1144.4M1144.4 162.2V164.7M1144.4 162.2H1278.3M1144.4 164.7H1153.2M1278.3 162V162.4M1278.3 162H1302.6M1278.3 162.4H1302.6M1153.2 163.4V166.1M1153.2 163.4H1164.6M1153.2 166.1H1161.1M1164.6 162.9V164M1164.6 162.9H1302.6M1164.6 164H1184.1M1184.1 163.5V164.4M1184.1 163.5H1205.4M1184.1 164.4H1193.2M1205.4 163.3V163.8M1205.4 163.3H1302.6M1205.4 163.8H1302.6M1193.2 164.2V164.7M1193.2 164.2H1302.6M1193.2 164.7H1302.6M1161.1 165.3V166.8M1161.1 165.3H1195.7M1161.1 166.8H1167.3M1195.7 165.1V165.6M1195.7 165.1H1302.6M1195.7 165.6H1302.6M1167.3 166V167.7M1167.3 166H1302.6M1167.3 167.7H1170.8M1170.8 167V168.3M1170.8 167H1175.7M1170.8 168.3H1175.5M1175.7 166.7V167.3M1175.7 166.7H1186.9M1175.7 167.3H1302.6M1186.9 166.4V166.9M1186.9 166.4H1302.6M1186.9 166.9H1302.6M1175.5 167.8V168.8M1175.5 167.8H1302.6M1175.5 168.8H1179.6M1179.6 168.5V169.1M1179.6 168.5H1284.8M1179.6 169.1H1302.6M1284.8 168.2V168.7M1284.8 168.2H1302.6M1284.8 168.7H1302.6M1082.4 171.2V182.5M1082.4 171.2H1090.9M1082.4 182.5H1113.8M1090.9 169.8V172.5M1090.9 169.8H1201.1M1090.9 172.5H1111.8M1201.1 169.6V170M1201.1 169.6H1302.6M1201.1 170H1302.6M1111.8 170.7V174.3M1111.8 170.7H1155M1111.8 174.3H1123.7M1155 170.5V170.9M1155 170.5H1302.6M1155 170.9H1302.6M1123.7 173.3V175.3M1123.7 173.3H1130.9M1123.7 175.3H1137.4M1130.9 172.5V174.1M1130.9 172.5H1158.1M1130.9 174.1H1302.6M1158.1 171.9V173.1M1158.1 171.9H1188.8M1158.1 173.1H1223.5M1188.8 171.6V172.3M1188.8 171.6H1219.8M1188.8 172.3H1302.6M1219.8 171.4V171.8M1219.8 171.4H1302.6M1219.8 171.8H1302.6M1223.5 172.7V173.4M1223.5 172.7H1302.6M1223.5 173.4H1238.4M1238.4 173.2V173.6M1238.4 173.2H1302.6M1238.4 173.6H1302.6M1137.4 174.5V176M1137.4 174.5H1302.6M1137.4 176H1141.9M1141.9 175.2V176.8M1141.9 175.2H1259.4M1141.9 176.8H1148.7M1259.4 175V175.4M1259.4 175H1302.6M1259.4 175.4H1302.6M1148.7 176.4V177.2M1148.7 176.4H1167.5M1148.7 177.2H1302.6M1167.5 176.1V176.8M1167.5 176.1H1263.9M1167.5 176.8H1302.6M1263.9 175.9V176.3M1263.9 175.9H1302.6M1263.9 176.3H1302.6M1113.8 178.8V186.3M1113.8 178.8H1206.9M1113.8 186.3H1152.7M1206.9 177.7V179.9M1206.9 177.7H1302.6M1206.9 179.9H1228.4M1228.4 179V180.9M1228.4 179H1240.8M1228.4 180.9H1241.2M1240.8 178.3V179.6M1240.8 178.3H1250.3M1240.8 179.6H1254.8M1250.3 178.1V178.6M1250.3 178.1H1302.6M1250.3 178.6H1302.6M1254.8 179.2V179.9M1254.8 179.2H1287.3M1254.8 179.9H1302.6M1287.3 179V179.5M1287.3 179H1302.6M1287.3 179.5H1302.6M1241.2 180.4V181.4M1241.2 180.4H1302.6M1241.2 181.4H1247.2M1247.2 181V181.7M1247.2 181H1261.3M1247.2 181.7H1302.6M1261.3 180.8V181.3M1261.3 180.8H1302.6M1261.3 181.3H1302.6M1152.7 182.2V190.4M1152.7 182.2H1302.6M1152.7 190.4H1180.3M1180.3 185.7V195.2M1180.3 185.7H1196.2M1180.3 195.2H1207.5M1196.2 183.6V187.7M1196.2 183.6H1259M1196.2 187.7H1221.1M1259 182.8V184.3M1259 182.8H1282.7M1259 184.3H1265.8M1282.7 182.6V183.1M1282.7 182.6H1302.6M1282.7 183.1H1302.6M1265.8 183.8V184.8M1265.8 183.8H1288.3M1265.8 184.8H1302.6M1288.3 183.5V184.2M1288.3 183.5H1302.6M1288.3 184.2H1290.5M1290.5 183.9V184.4M1290.5 183.9H1302.6M1290.5 184.4H1302.6M1221.1 186.6V188.9M1221.1 186.6H1244.9M1221.1 188.9H1302.6M1244.9 185.3V187.8M1244.9 185.3H1302.6M1244.9 187.8H1255.6M1255.6 187.2V188.4M1255.6 187.2H1275.8M1255.6 188.4H1302.6M1275.8 186.7V187.8M1275.8 186.7H1281.4M1275.8 187.8H1279.1M1281.4 186.3V187.1M1281.4 186.3H1285M1281.4 187.1H1302.6M1285 186V186.6M1285 186H1293.4M1285 186.6H1302.6M1293.4 185.7V186.2M1293.4 185.7H1302.6M1293.4 186.2H1302.6M1279.1 187.5V188M1279.1 187.5H1302.6M1279.1 188H1302.6M1207.5 190.6V199.9M1207.5 190.6H1271.9M1207.5 199.9H1225.6M1271.9 189.3V191.8M1271.9 189.3H1302.6M1271.9 191.8H1275.1M1275.1 190.1V193.5M1275.1 190.1H1277.6M1275.1 193.5H1278.1M1277.6 189.8V190.5M1277.6 189.8H1302.6M1277.6 190.5H1289.3M1289.3 190.2V190.7M1289.3 190.2H1302.6M1289.3 190.7H1302.6M1278.1 192.1V194.9M1278.1 192.1H1280.6M1278.1 194.9H1280.8M1280.6 191.7V192.5M1280.6 191.7H1294.4M1280.6 192.5H1302.6M1294.4 191.4V192M1294.4 191.4H1295.9M1294.4 192H1302.6M1295.9 191.1V191.6M1295.9 191.1H1302.6M1295.9 191.6H1302.6M1280.8 193.7V196.1M1280.8 193.7H1294.4M1280.8 196.1H1283.6M1294.4 193.1V194.2M1294.4 193.1H1295.9M1294.4 194.2H1294.4M1295.9 192.9V193.4M1295.9 192.9H1302.6M1295.9 193.4H1302.6M1294.4 193.8V194.5M1294.4 193.8H1302.6M1294.4 194.5H1294.4M1294.4 194.3V194.7M1294.4 194.3H1302.6M1294.4 194.7H1302.6M1283.6 195.4V196.7M1283.6 195.4H1289.1M1283.6 196.7H1285.3M1289.1 195.2V195.6M1289.1 195.2H1302.6M1289.1 195.6H1302.6M1285.3 196.3V197.2M1285.3 196.3H1287.8M1285.3 197.2H1287.4M1287.8 196.1V196.5M1287.8 196.1H1302.6M1287.8 196.5H1302.6M1287.4 197V197.4M1287.4 197H1302.6M1287.4 197.4H1302.6M1225.6 198.8V201M1225.6 198.8H1238.7M1225.6 201H1302.6M1238.7 198.1V199.5M1238.7 198.1H1284.1M1238.7 199.5H1245.2M1284.1 197.9V198.3M1284.1 197.9H1302.6M1284.1 198.3H1302.6M1245.2 198.8V200.2M1245.2 198.8H1302.6M1245.2 200.2H1247.9M1247.9 199.8V200.6M1247.9 199.8H1276.1M1247.9 200.6H1302.6M1276.1 199.4V200.1M1276.1 199.4H1282.6M1276.1 200.1H1302.6M1282.6 199.2V199.7M1282.6 199.2H1302.6M1282.6 199.7H1302.6M973.7 209.7V254M973.7 209.7H995.3M973.7 254H1033.6M995.3 203.6V212.7M995.3 203.6H1286M995.3 212.7H1051.9M1286 202.7V204.4M1286 202.7H1288.5M1286 204.4H1288.6M1288.5 202.5V203M1288.5 202.5H1302.6M1288.5 203H1302.6M1288.6 203.4V205.4M1288.6 203.4H1302.6M1288.6 205.4H1291.9M1291.9 204.1V206.7M1291.9 204.1H1294.4M1291.9 206.7H1293.3M1294.4 203.9V204.3M1294.4 203.9H1302.6M1294.4 204.3H1302.6M1293.3 206V207.5M1293.3 206H1295.8M1293.3 207.5H1302.6M1295.8 205.3V206.7M1295.8 205.3H1295.9M1295.8 206.7H1295.8M1295.9 205V205.7M1295.9 205H1295.9M1295.9 205.7H1302.6M1295.9 204.8V205.2M1295.9 204.8H1302.6M1295.9 205.2H1302.6M1295.8 206.3V207M1295.8 206.3H1295.9M1295.8 207H1302.6M1295.9 206.1V206.6M1295.9 206.1H1302.6M1295.9 206.6H1302.6M1051.9 208.9V216.5M1051.9 208.9H1232.6M1051.9 216.5H1077.8M1232.6 208.1V209.6M1232.6 208.1H1278.3M1232.6 209.6H1246.2M1278.3 207.9V208.4M1278.3 207.9H1302.6M1278.3 208.4H1302.6M1246.2 208.8V210.3M1246.2 208.8H1302.6M1246.2 210.3H1252.6M1252.6 209.5V211.1M1252.6 209.5H1262.1M1252.6 211.1H1259.5M1262.1 209.3V209.7M1262.1 209.3H1302.6M1262.1 209.7H1302.6M1259.5 210.7V211.5M1259.5 210.7H1269.1M1259.5 211.5H1302.6M1269.1 210.4V211.1M1269.1 210.4H1282.2M1269.1 211.1H1302.6M1282.2 210.2V210.6M1282.2 210.2H1302.6M1282.2 210.6H1302.6M1077.8 213.3V219.6M1077.8 213.3H1245M1077.8 219.6H1100M1245 212.7V214M1245 212.7H1262.3M1245 214H1248.6M1262.3 212.2V213.1M1262.3 212.2H1277.3M1262.3 213.1H1268.6M1277.3 212V212.4M1277.3 212H1302.6M1277.3 212.4H1302.6M1268.6 212.9V213.3M1268.6 212.9H1302.6M1268.6 213.3H1302.6M1248.6 213.8V214.2M1248.6 213.8H1302.6M1248.6 214.2H1302.6M1100 215.7V223.4M1100 215.7H1266.9M1100 223.4H1134.1M1266.9 214.7V216.7M1266.9 214.7H1302.6M1266.9 216.7H1269.4M1269.4 215.2V218.3M1269.4 215.2H1302.6M1269.4 218.3H1272.6M1272.6 217V219.7M1272.6 217H1276.2M1272.6 219.7H1302.6M1276.2 215.8V218.1M1276.2 215.8H1282.9M1276.2 218.1H1278.9M1282.9 215.6V216.1M1282.9 215.6H1302.6M1282.9 216.1H1302.6M1278.9 217.2V219M1278.9 217.2H1292.9M1278.9 219H1281.9M1292.9 216.7V217.8M1292.9 216.7H1295.4M1292.9 217.8H1293.4M1295.4 216.5V217M1295.4 216.5H1302.6M1295.4 217H1302.6M1293.4 217.4V218.1M1293.4 217.4H1302.6M1293.4 218.1H1293.4M1293.4 217.9V218.3M1293.4 217.9H1302.6M1293.4 218.3H1302.6M1281.9 218.8V219.2M1281.9 218.8H1302.6M1281.9 219.2H1302.6M1134.1 221.3V225.6M1134.1 221.3H1291.7M1134.1 225.6H1152.9M1291.7 220.4V222.2M1291.7 220.4H1294.4M1291.7 222.2H1293.4M1294.4 220.1V220.6M1294.4 220.1H1302.6M1294.4 220.6H1302.6M1293.4 221.4V223.1M1293.4 221.4H1295.9M1293.4 223.1H1293.4M1295.9 221V221.7M1295.9 221H1302.6M1295.9 221.7H1295.9M1295.9 221.5V221.9M1295.9 221.5H1302.6M1295.9 221.9H1302.6M1293.4 222.6V223.5M1293.4 222.6H1295.9M1293.4 223.5H1293.4M1295.9 222.4V222.8M1295.9 222.4H1302.6M1295.9 222.8H1302.6M1293.4 223.3V223.7M1293.4 223.3H1302.6M1293.4 223.7H1302.6M1152.9 225.2V226M1152.9 225.2H1277.6M1152.9 226H1302.6M1277.6 224.8V225.5M1277.6 224.8H1294.4M1277.6 225.5H1302.6M1294.4 224.4V225.1M1294.4 224.4H1295.9M1294.4 225.1H1302.6M1295.9 224.2V224.6M1295.9 224.2H1302.6M1295.9 224.6H1302.6M1033.6 237.4V271.2M1033.6 237.4H1046.6M1033.6 271.2H1050.2M1046.6 227.8V237.4M1046.6 227.8H1122.5M1046.6 231.2H1049.9M1122.5 227.5V228.2M1122.5 227.5H1302.6M1122.5 228.2H1248.6M1248.6 228V228.4M1248.6 228H1302.6M1248.6 228.4H1302.6M1049.9 229.3V233.1M1049.9 229.3H1131.5M1049.9 233.1H1053M1131.5 228.9V229.8M1131.5 228.9H1302.6M1131.5 229.8H1172.8M1172.8 229.3V230.3M1172.8 229.3H1302.6M1172.8 230.3H1192.9M1192.9 229.8V230.8M1192.9 229.8H1302.6M1192.9 230.8H1211.9M1211.9 230.4V231.1M1211.9 230.4H1250.4M1211.9 231.1H1302.6M1250.4 230.2V230.7M1250.4 230.2H1302.6M1250.4 230.7H1302.6M1053 231.8V234.4M1053 231.8H1083.9M1053 234.4H1055.1M1083.9 231.6V232M1083.9 231.6H1302.6M1083.9 232H1302.6M1055.1 232.5V236.4M1055.1 232.5H1302.6M1055.1 236.4H1057.8M1057.8 234V238.8M1057.8 234H1229.5M1057.8 238.8H1060.6M1229.5 233.2V234.8M1229.5 233.2H1290.8M1229.5 234.8H1242.1M1290.8 232.9V233.4M1290.8 232.9H1302.6M1290.8 233.4H1302.6M1242.1 234.4V235.2M1242.1 234.4H1258.5M1242.1 235.2H1302.6M1258.5 234.1V234.8M1258.5 234.1H1294.4M1258.5 234.8H1302.6M1294.4 233.9V234.3M1294.4 233.9H1302.6M1294.4 234.3H1302.6M1060.6 236.6V240.9M1060.6 236.6H1226.7M1060.6 240.9H1064.4M1226.7 236.2V237M1226.7 236.2H1278.5M1226.7 237H1302.6M1278.5 235.9V236.6M1278.5 235.9H1285.8M1278.5 236.6H1302.6M1285.8 235.7V236.1M1285.8 235.7H1302.6M1285.8 236.1H1302.6M1064.4 238.2V243.5M1064.4 238.2H1095.4M1064.4 243.5H1079.9M1095.4 237.7V238.8M1095.4 237.7H1154.8M1095.4 238.8H1149.4M1154.8 237.5V237.9M1154.8 237.5H1302.6M1154.8 237.9H1302.6M1149.4 238.4V239.2M1149.4 238.4H1302.6M1149.4 239.2H1164.5M1164.5 238.8V239.5M1164.5 238.8H1302.6M1164.5 239.5H1179.6M1179.6 239.3V239.8M1179.6 239.3H1302.6M1179.6 239.8H1302.6M1079.9 241.5V245.6M1079.9 241.5H1289.8M1079.9 245.6H1086.2M1289.8 240.8V242.1M1289.8 240.8H1292.3M1289.8 242.1H1293M1292.3 240.4V241.1M1292.3 240.4H1294.8M1292.3 241.1H1302.6M1294.8 240.2V240.7M1294.8 240.2H1302.6M1294.8 240.7H1302.6M1293 241.8V242.5M1293 241.8H1295.5M1293 242.5H1302.6M1295.5 241.6V242M1295.5 241.6H1302.6M1295.5 242H1302.6M1086.2 244V247.1M1086.2 244H1155.8M1086.2 247.1H1088.7M1155.8 243.2V244.8M1155.8 243.2H1214.6M1155.8 244.8H1217.1M1214.6 242.9V243.4M1214.6 242.9H1302.6M1214.6 243.4H1302.6M1217.1 244.4V245.2M1217.1 244.4H1245.6M1217.1 245.2H1302.6M1245.6 244.1V244.7M1245.6 244.1H1269.4M1245.6 244.7H1302.6M1269.4 243.8V244.3M1269.4 243.8H1302.6M1269.4 244.3H1302.6M1088.7 245.6V248.6M1088.7 245.6H1302.6M1088.7 248.6H1092.7M1092.7 246.8V250.4M1092.7 246.8H1229.3M1092.7 250.4H1098.5M1229.3 246.3V247.2M1229.3 246.3H1271.6M1229.3 247.2H1261.7M1271.6 246.1V246.6M1271.6 246.1H1302.6M1271.6 246.6H1302.6M1261.7 247V247.5M1261.7 247H1302.6M1261.7 247.5H1302.6M1098.5 249.3V251.6M1098.5 249.3H1259M1098.5 251.6H1104.5M1259 248.4V250.2M1259 248.4H1270.7M1259 250.2H1302.6M1270.7 247.9V248.9M1270.7 247.9H1302.6M1270.7 248.9H1273.8M1273.8 248.4V249.4M1273.8 248.4H1302.6M1273.8 249.4H1276.9M1276.9 249.1V249.7M1276.9 249.1H1279.4M1276.9 249.7H1302.6M1279.4 248.8V249.3M1279.4 248.8H1302.6M1279.4 249.3H1302.6M1104.5 251.2V252M1104.5 251.2H1206.2M1104.5 252H1302.6M1206.2 250.9V251.5M1206.2 250.9H1265.7M1206.2 251.5H1302.6M1265.7 250.6V251.1M1265.7 250.6H1302.6M1265.7 251.1H1302.6M1050.2 254.3V288.7M1050.2 254.3H1112.3M1050.2 288.7H1067.2M1112.3 253V254.9M1112.3 253H1302.6M1112.3 254.9H1117.4M1117.4 253.7V256.1M1117.4 253.7H1284.7M1117.4 256.1H1122.4M1284.7 253.5V253.9M1284.7 253.5H1302.6M1284.7 253.9H1302.6M1122.4 254.4V257.8M1122.4 254.4H1302.6M1122.4 257.8H1124.8M1124.8 256.6V259M1124.8 256.6H1204.1M1124.8 259H1129.9M1204.1 256.1V257.1M1204.1 256.1H1233M1204.1 257.1H1302.6M1233 255.7V256.6M1233 255.7H1270.4M1233 256.6H1302.6M1270.4 255.2V256.2M1270.4 255.2H1286.3M1270.4 256.2H1302.6M1286.3 254.8V255.5M1286.3 254.8H1302.6M1286.3 255.5H1290.4M1290.4 255.3V255.7M1290.4 255.3H1302.6M1290.4 255.7H1302.6M1129.9 257.5V260.4M1129.9 257.5H1302.6M1129.9 260.4H1135.3M1135.3 258.8V262M1135.3 258.8H1163.1M1135.3 262H1139.1M1163.1 258.3V259.3M1163.1 258.3H1197.7M1163.1 259.3H1302.6M1197.7 258V258.7M1197.7 258H1302.6M1197.7 258.7H1266.5M1266.5 258.4V258.9M1266.5 258.4H1302.6M1266.5 258.9H1302.6M1139.1 260.1V263.9M1139.1 260.1H1189.5M1139.1 263.9H1143.5M1189.5 259.8V260.5M1189.5 259.8H1302.6M1189.5 260.5H1265.1M1265.1 260.2V260.7M1265.1 260.2H1302.6M1265.1 260.7H1302.6M1143.5 261.7V266.2M1143.5 261.7H1273M1143.5 266.2H1151.6M1273 261.2V262.2M1273 261.2H1302.6M1273 262.2H1274.5M1274.5 261.8V262.5M1274.5 261.8H1289.9M1274.5 262.5H1302.6M1289.9 261.6V262.1M1289.9 261.6H1302.6M1289.9 262.1H1302.6M1151.6 263.9V268.5M1151.6 263.9H1159.7M1151.6 268.5H1156.3M1159.7 263V264.8M1159.7 263H1302.6M1159.7 264.8H1195.5M1195.5 263.9V265.7M1195.5 263.9H1214.1M1195.5 265.7H1302.6M1214.1 263.4V264.4M1214.1 263.4H1302.6M1214.1 264.4H1229.1M1229.1 263.9V264.9M1229.1 263.9H1302.6M1229.1 264.9H1238.4M1238.4 264.6V265.2M1238.4 264.6H1269.5M1238.4 265.2H1302.6M1269.5 264.3V264.8M1269.5 264.3H1302.6M1269.5 264.8H1302.6M1156.3 266.5V270.5M1156.3 266.5H1202.9M1156.3 270.5H1158.9M1202.9 266.1V266.9M1202.9 266.1H1302.6M1202.9 266.9H1214.6M1214.6 266.6V267.3M1214.6 266.6H1302.6M1214.6 267.3H1220.4M1220.4 267V267.5M1220.4 267H1302.6M1220.4 267.5H1302.6M1158.9 268.3V272.7M1158.9 268.3H1237.9M1158.9 272.7H1163.6M1237.9 268V268.6M1237.9 268H1302.6M1237.9 268.6H1277.1M1277.1 268.4V268.9M1277.1 268.4H1302.6M1277.1 268.9H1302.6M1163.6 270.7V274.6M1163.6 270.7H1169.3M1163.6 274.6H1168.7M1169.3 270V271.4M1169.3 270H1207.4M1169.3 271.4H1217.8M1207.4 269.5V270.4M1207.4 269.5H1229.3M1207.4 270.4H1232.2M1229.3 269.3V269.8M1229.3 269.3H1302.6M1229.3 269.8H1302.6M1232.2 270.2V270.7M1232.2 270.2H1302.6M1232.2 270.7H1302.6M1217.8 271.1V271.6M1217.8 271.1H1302.6M1217.8 271.6H1302.6M1168.7 272.6V276.7M1168.7 272.6H1172.7M1168.7 276.7H1173M1172.7 272.3V272.9M1172.7 272.3H1272.8M1172.7 272.9H1302.6M1272.8 272V272.5M1272.8 272H1302.6M1272.8 272.5H1302.6M1173 274.3V279.1M1173 274.3H1230.4M1173 279.1H1176.5M1230.4 273.6V275M1230.4 273.6H1244M1230.4 275H1250.2M1244 273.4V273.8M1244 273.4H1302.6M1244 273.8H1302.6M1250.2 274.5V275.4M1250.2 274.5H1261.8M1250.2 275.4H1260.6M1261.8 274.3V274.8M1261.8 274.3H1302.6M1261.8 274.8H1302.6M1260.6 275.2V275.7M1260.6 275.2H1302.6M1260.6 275.7H1302.6M1176.5 277.9V280.3M1176.5 277.9H1218.4M1176.5 280.3H1181.3M1218.4 277.4V278.4M1218.4 277.4H1229.9M1218.4 278.4H1302.6M1229.9 276.8V277.9M1229.9 276.8H1249.6M1229.9 277.9H1302.6M1249.6 276.3V277.2M1249.6 276.3H1273.3M1249.6 277.2H1264.6M1273.3 276.1V276.6M1273.3 276.1H1302.6M1273.3 276.6H1302.6M1264.6 277V277.5M1264.6 277H1302.6M1264.6 277.5H1302.6M1181.3 279.4V281.3M1181.3 279.4H1262.4M1181.3 281.3H1183.9M1262.4 279.1V279.7M1262.4 279.1H1273.9M1262.4 279.7H1302.6M1273.9 278.8V279.3M1273.9 278.8H1302.6M1273.9 279.3H1302.6M1183.9 280.8V281.8M1183.9 280.8H1217.9M1183.9 281.8H1186M1217.9 280.4V281.1M1217.9 280.4H1256.6M1217.9 281.1H1302.6M1256.6 280.2V280.6M1256.6 280.2H1302.6M1256.6 280.6H1302.6M1186 281.5V282M1186 281.5H1302.6M1186 282H1302.6M1067.2 284V294.3M1067.2 284H1188M1067.2 294.3H1108M1188 284V288.5M1188 284.8H1294.4M1188 288.5H1225M1294.4 284.1V285.5M1294.4 284.1H1295.9M1294.4 285.5H1294.4M1295.9 283.6V284.6M1295.9 283.6H1295.9M1295.9 284.6H1295.9M1295.9 283.2V283.9M1295.9 283.2H1295.9M1295.9 283.9H1302.6M1295.9 283V283.4M1295.9 283H1302.6M1295.9 283.4H1302.6M1295.9 284.4V284.8M1295.9 284.4H1302.6M1295.9 284.8H1302.6M1294.4 285.2V285.7M1294.4 285.2H1302.6M1294.4 285.7H1302.6M1225 286.6V290.4M1225 286.6H1264.2M1225 290.4H1235M1264.2 286.1V287.1M1264.2 286.1H1302.6M1264.2 287.1H1267.2M1267.2 286.6V287.6M1267.2 286.6H1302.6M1267.2 287.6H1269.7M1269.7 287.1V288.1M1269.7 287.1H1302.6M1269.7 288.1H1272.7M1272.7 287.7V288.4M1272.7 287.7H1277.9M1272.7 288.4H1302.6M1277.9 287.5V287.9M1277.9 287.5H1302.6M1277.9 287.9H1302.6M1235 289.5V291.3M1235 289.5H1282M1235 291.3H1242.4M1282 289.1V290M1282 289.1H1284.5M1282 290H1285.5M1284.5 288.9V289.3M1284.5 288.9H1302.6M1284.5 289.3H1302.6M1285.5 289.8V290.2M1285.5 289.8H1302.6M1285.5 290.2H1302.6M1242.4 290.9V291.8M1242.4 290.9H1248.3M1242.4 291.8H1246.5M1248.3 290.6V291.1M1248.3 290.6H1302.6M1248.3 291.1H1302.6M1246.5 291.6V292M1246.5 291.6H1302.6M1246.5 292H1302.6M1108 294.3V302.9M1108 294.6H1162.8M1108 302.9H1114.2M1162.8 293.8V295.3M1162.8 293.8H1263.7M1162.8 295.3H1182.1M1263.7 293.3V294.3M1263.7 293.3H1288.5M1263.7 294.3H1302.6M1288.5 293V293.7M1288.5 293H1302.6M1288.5 293.7H1290.3M1290.3 293.4V293.9M1290.3 293.4H1302.6M1290.3 293.9H1302.6M1182.1 294.8V295.8M1182.1 294.8H1302.6M1182.1 295.8H1185.5M1185.5 295.5V296.1M1185.5 295.5H1285.6M1185.5 296.1H1302.6M1285.6 295.2V295.7M1285.6 295.2H1302.6M1285.6 295.7H1302.6M1114.2 298.4V307.5M1114.2 298.4H1246.2M1114.2 307.5H1116.7M1246.2 296.8V299.9M1246.2 296.8H1289.2M1246.2 299.9H1249.3M1289.2 296.6V297M1289.2 296.6H1302.6M1289.2 297H1302.6M1249.3 298.5V301.3M1249.3 298.5H1283.6M1249.3 301.3H1252.9M1283.6 298.1V298.8M1283.6 298.1H1287M1283.6 298.8H1302.6M1287 297.7V298.4M1287 297.7H1293.1M1287 298.4H1302.6M1293.1 297.5V297.9M1293.1 297.5H1302.6M1293.1 297.9H1302.6M1252.9 300.5V302.1M1252.9 300.5H1260.6M1252.9 302.1H1256M1260.6 300V301.1M1260.6 300H1280.4M1260.6 301.1H1302.6M1280.4 299.5V300.4M1280.4 299.5H1286.8M1280.4 300.4H1284.9M1286.8 299.3V299.7M1286.8 299.3H1302.6M1286.8 299.7H1302.6M1284.9 300.2V300.6M1284.9 300.2H1302.6M1284.9 300.6H1302.6M1256 301.8V302.4M1256 301.8H1268.9M1256 302.4H1302.6M1268.9 301.5V302M1268.9 301.5H1302.6M1268.9 302H1302.6M1116.7 303.9V311.2M1116.7 303.9H1129.8M1116.7 311.2H1119.3M1129.8 303.1V304.7M1129.8 303.1H1204.9M1129.8 304.7H1176M1204.9 302.9V303.3M1204.9 302.9H1302.6M1204.9 303.3H1302.6M1176 304V305.4M1176 304H1249.2M1176 305.4H1196.2M1249.2 303.8V304.2M1249.2 303.8H1302.6M1249.2 304.2H1302.6M1196.2 304.9V305.8M1196.2 304.9H1202.9M1196.2 305.8H1212.6M1202.9 304.7V305.1M1202.9 304.7H1302.6M1202.9 305.1H1302.6M1212.6 305.6V306M1212.6 305.6H1302.6M1212.6 306H1302.6M1119.3 306.7V315.6M1119.3 306.7H1153.6M1119.3 315.6H1129.8M1153.6 306.5V306.9M1153.6 306.5H1302.6M1153.6 306.9H1302.6M1129.8 309V322.2M1129.8 309H1206.9M1129.8 322.2H1152.5M1206.9 308.1V309.9M1206.9 308.1H1212.8M1206.9 309.9H1238.4M1212.8 307.6V308.5M1212.8 307.6H1282.1M1212.8 308.5H1246.2M1282.1 307.4V307.8M1282.1 307.4H1302.6M1282.1 307.8H1302.6M1246.2 308.3V308.7M1246.2 308.3H1302.6M1246.2 308.7H1302.6M1238.4 309.2V310.6M1238.4 309.2H1302.6M1238.4 310.6H1246.2M1246.2 310.2V311M1246.2 310.2H1281M1246.2 311H1302.6M1281 309.9V310.5M1281 309.9H1290.5M1281 310.5H1302.6M1290.5 309.6V310.1M1290.5 309.6H1302.6M1290.5 310.1H1302.6M1152.5 315.2V329.2M1152.5 315.2H1155M1152.5 329.2H1155.5M1155 312.9V317.5M1155 312.9H1160.9M1155 317.5H1223.1M1160.9 311.7V314.1M1160.9 311.7H1268.8M1160.9 314.1H1183.2M1268.8 311.4V311.9M1268.8 311.4H1302.6M1268.8 311.9H1302.6M1183.2 312.9V315.4M1183.2 312.9H1265.7M1183.2 315.4H1199.4M1265.7 312.6V313.2M1265.7 312.6H1283.8M1265.7 313.2H1302.6M1283.8 312.3V312.8M1283.8 312.3H1302.6M1283.8 312.8H1302.6M1199.4 314.3V316.4M1199.4 314.3H1216.8M1199.4 316.4H1302.6M1216.8 313.7V315M1216.8 313.7H1302.6M1216.8 315H1222.3M1222.3 314.4V315.6M1222.3 314.4H1249.4M1222.3 315.6H1223.6M1249.4 314.1V314.6M1249.4 314.1H1302.6M1249.4 314.6H1302.6M1223.6 315.3V315.9M1223.6 315.3H1292.1M1223.6 315.9H1302.6M1292.1 315V315.5M1292.1 315H1302.6M1292.1 315.5H1302.6M1223.1 316.8V318.2M1223.1 316.8H1302.6M1223.1 318.2H1228.4M1228.4 317.8V318.6M1228.4 317.8H1264.4M1228.4 318.6H1302.6M1264.4 317.5V318.2M1264.4 317.5H1289.8M1264.4 318.2H1302.6M1289.8 317.3V317.7M1289.8 317.3H1302.6M1289.8 317.7H1302.6M1155.5 321.7V336.6M1155.5 321.7H1187.1M1155.5 336.6H1158.4M1187.1 320.3V323.1M1187.1 320.3H1211.8M1187.1 323.1H1197.9M1211.8 319.6V321M1211.8 319.6H1275.6M1211.8 321H1226.9M1275.6 319.3V320M1275.6 319.3H1284.7M1275.6 320H1302.6M1284.7 319.1V319.5M1284.7 319.1H1302.6M1284.7 319.5H1302.6M1226.9 320.7V321.3M1226.9 320.7H1267.7M1226.9 321.3H1302.6M1267.7 320.4V320.9M1267.7 320.4H1302.6M1267.7 320.9H1302.6M1197.9 322V324.3M1197.9 322H1250.6M1197.9 324.3H1203.1M1250.6 321.8V322.2M1250.6 321.8H1302.6M1250.6 322.2H1302.6M1203.1 323.2V325.3M1203.1 323.2H1278.1M1203.1 325.3H1206M1278.1 322.9V323.6M1278.1 322.9H1285.9M1278.1 323.6H1302.6M1285.9 322.7V323.1M1285.9 322.7H1302.6M1285.9 323.1H1302.6M1206 324.6V325.9M1206 324.6H1221.4M1206 325.9H1209.3M1221.4 324.3V324.9M1221.4 324.3H1260.4M1221.4 324.9H1302.6M1260.4 324V324.5M1260.4 324H1302.6M1260.4 324.5H1302.6M1209.3 325.6V326.3M1209.3 325.6H1220.4M1209.3 326.3H1302.6M1220.4 325.4V325.8M1220.4 325.4H1302.6M1220.4 325.8H1302.6M1158.4 331.1V342.2M1158.4 331.1H1162.2M1158.4 342.2H1195.8M1162.2 328.9V333.3M1162.2 328.9H1239.3M1162.2 333.3H1199.2M1239.3 327.6V330.2M1239.3 327.6H1270.7M1239.3 330.2H1251.6M1270.7 326.9V328.2M1270.7 326.9H1274.8M1270.7 328.2H1274.2M1274.8 326.7V327.2M1274.8 326.7H1302.6M1274.8 327.2H1302.6M1274.2 327.8V328.5M1274.2 327.8H1292.4M1274.2 328.5H1302.6M1292.4 327.6V328.1M1292.4 327.6H1302.6M1292.4 328.1H1302.6M1251.6 329.2V331.1M1251.6 329.2H1290.2M1251.6 331.1H1255.2M1290.2 329V329.4M1290.2 329H1302.6M1290.2 329.4H1302.6M1255.2 330.5V331.7M1255.2 330.5H1286.4M1255.2 331.7H1302.6M1286.4 330.1V331M1286.4 330.1H1294.4M1286.4 331H1289.6M1294.4 329.9V330.3M1294.4 329.9H1302.6M1294.4 330.3H1302.6M1289.6 330.8V331.2M1289.6 330.8H1302.6M1289.6 331.2H1302.6M1199.2 332.1V334.4M1199.2 332.1H1302.6M1199.2 334.4H1206.6M1206.6 333.6V335.3M1206.6 333.6H1235.3M1206.6 335.3H1302.6M1235.3 332.8V334.4M1235.3 332.8H1285.1M1235.3 334.4H1245.4M1285.1 332.6V333M1285.1 332.6H1302.6M1285.1 333H1302.6M1245.4 334V334.8M1245.4 334H1253.9M1245.4 334.8H1302.6M1253.9 333.7V334.4M1253.9 333.7H1290.4M1253.9 334.4H1302.6M1290.4 333.5V333.9M1290.4 333.5H1302.6M1290.4 333.9H1302.6M1195.8 337.2V347.2M1195.8 337.2H1216.1M1195.8 347.2H1208.3M1216.1 336.3V338.1M1216.1 336.3H1276.5M1216.1 338.1H1234.8M1276.5 335.9V336.6M1276.5 335.9H1283.8M1276.5 336.6H1302.6M1283.8 335.7V336.2M1283.8 335.7H1302.6M1283.8 336.2H1302.6M1234.8 337.3V339M1234.8 337.3H1260.7M1234.8 339H1242.1M1260.7 337.1V337.5M1260.7 337.1H1302.6M1260.7 337.5H1302.6M1242.1 338V340M1242.1 338H1302.6M1242.1 340H1248.9M1248.9 339.3V340.7M1248.9 339.3H1264M1248.9 340.7H1302.6M1264 338.6V339.9M1264 338.6H1278.1M1264 339.9H1269.9M1278.1 338.4V338.9M1278.1 338.4H1302.6M1278.1 338.9H1302.6M1269.9 339.5V340.2M1269.9 339.5H1291.6M1269.9 340.2H1302.6M1291.6 339.3V339.8M1291.6 339.3H1302.6M1291.6 339.8H1302.6M1208.3 343.4V350.9M1208.3 343.4H1278.2M1208.3 350.9H1215M1278.2 341.9V344.9M1278.2 341.9H1280.7M1278.2 344.9H1281M1280.7 341.3V342.5M1280.7 341.3H1291.3M1280.7 342.5H1282.2M1291.3 341.1V341.6M1291.3 341.1H1302.6M1291.3 341.6H1302.6M1282.2 342V343M1282.2 342H1302.6M1282.2 343H1284.1M1284.1 342.7V343.4M1284.1 342.7H1291.8M1284.1 343.4H1302.6M1291.8 342.5V342.9M1291.8 342.5H1302.6M1291.8 342.9H1302.6M1281 343.8V346M1281 343.8H1302.6M1281 346H1283.5M1283.5 345V347.1M1283.5 345H1287.7M1283.5 347.1H1286.3M1287.7 344.3V345.7M1287.7 344.3H1302.6M1287.7 345.7H1290.9M1290.9 345.3V346.1M1290.9 345.3H1293.4M1290.9 346.1H1302.6M1293.4 344.9V345.6M1293.4 344.9H1295.9M1293.4 345.6H1302.6M1295.9 344.7V345.2M1295.9 344.7H1302.6M1295.9 345.2H1302.6M1286.3 346.7V347.4M1286.3 346.7H1294.4M1286.3 347.4H1302.6M1294.4 346.5V347M1294.4 346.5H1302.6M1294.4 347H1302.6M1215 348.4V353.5M1215 348.4H1234.2M1215 353.5H1222.8M1234.2 348.1V348.8M1234.2 348.1H1253.2M1234.2 348.8H1302.6M1253.2 347.9V348.3M1253.2 347.9H1302.6M1253.2 348.3H1302.6M1222.8 350.3V356.6M1222.8 350.3H1259.8M1222.8 356.6H1228.4M1259.8 349.2V351.3M1259.8 349.2H1302.6M1259.8 351.3H1264.2M1264.2 350.2V352.4M1264.2 350.2H1290.6M1264.2 352.4H1267.3M1290.6 349.9V350.6M1290.6 349.9H1293.1M1290.6 350.6H1302.6M1293.1 349.7V350.1M1293.1 349.7H1302.6M1293.1 350.1H1302.6M1267.3 351.6V353.3M1267.3 351.6H1281.8M1267.3 353.3H1271.9M1281.8 351.2V351.9M1281.8 351.2H1287.1M1281.8 351.9H1302.6M1287.1 351V351.5M1287.1 351H1302.6M1287.1 351.5H1302.6M1271.9 352.6V353.9M1271.9 352.6H1281M1271.9 353.9H1274.5M1281 352.4V352.8M1281 352.4H1302.6M1281 352.8H1302.6M1274.5 353.5V354.4M1274.5 353.5H1292.7M1274.5 354.4H1276.4M1292.7 353.3V353.7M1292.7 353.3H1302.6M1292.7 353.7H1302.6M1276.4 354.2V354.6M1276.4 354.2H1302.6M1276.4 354.6H1302.6M1228.4 355.1V358.2M1228.4 355.1H1302.6M1228.4 358.2H1230.2M1230.2 356.7V359.8M1230.2 356.7H1272.2M1230.2 359.8H1235.8M1272.2 355.7V357.7M1272.2 355.7H1294.4M1272.2 357.7H1274.9M1294.4 355.5V356M1294.4 355.5H1302.6M1294.4 356H1302.6M1274.9 356.6V358.7M1274.9 356.6H1291M1274.9 358.7H1277.5M1291 356.4V356.9M1291 356.4H1302.6M1291 356.9H1302.6M1277.5 358.3V359.1M1277.5 358.3H1280.2M1277.5 359.1H1302.6M1280.2 357.9V358.7M1280.2 357.9H1284.8M1280.2 358.7H1302.6M1284.8 357.5V358.2M1284.8 357.5H1294.4M1284.8 358.2H1302.6M1294.4 357.3V357.8M1294.4 357.3H1302.6M1294.4 357.8H1302.6M1235.8 359.6V360M1235.8 359.6H1302.6M1235.8 360H1302.6M737.6 363.4V387M737.6 363.4H969.6M737.6 387H759.3M969.6 361.5V363.4M969.6 361.5H1302.6M969.6 362.6H1051.5M1051.5 361.9V363.3M1051.5 361.9H1302.6M1051.5 363.3H1098.5M1098.5 362.6V364.1M1098.5 362.6H1268.4M1098.5 364.1H1150.5M1268.4 362.4V362.9M1268.4 362.4H1302.6M1268.4 362.9H1302.6M1150.5 363.5V364.6M1150.5 363.5H1263.9M1150.5 364.6H1188.6M1263.9 363.3V363.8M1263.9 363.3H1302.6M1263.9 363.8H1302.6M1188.6 364.2V365M1188.6 364.2H1302.6M1188.6 365H1193.9M1193.9 364.6V365.4M1193.9 364.6H1302.6M1193.9 365.4H1200.3M1200.3 365.1V365.8M1200.3 365.1H1302.6M1200.3 365.8H1206.8M1206.8 365.6V366M1206.8 365.6H1302.6M1206.8 366H1302.6M759.3 368.5V404.9M759.3 368.5H782.7M759.3 404.9H771.2M782.7 367V371.3M782.7 367H1019M782.7 371.3H903.5M1019 366.5V367.4M1019 366.5H1302.6M1019 367.4H1037.6M1037.6 366.9V367.9M1037.6 366.9H1302.6M1037.6 367.9H1048.8M1048.8 367.4V368.4M1048.8 367.4H1302.6M1048.8 368.4H1075.7M1075.7 367.8V369.1M1075.7 367.8H1302.6M1075.7 369.1H1114.6M1114.6 368.5V369.7M1114.6 368.5H1278.6M1114.6 369.7H1145M1278.6 368.2V368.7M1278.6 368.2H1302.6M1278.6 368.7H1302.6M1145 369.3V370M1145 369.3H1293.2M1145 370H1302.6M1293.2 369.1V369.6M1293.2 369.1H1302.6M1293.2 369.6H1302.6M903.5 371.3V376.8M903.5 371.8H1255M903.5 376.8H1199.7M1255 371.1V372.5M1255 371.1H1275.8M1255 372.5H1257.8M1275.8 370.7V371.4M1275.8 370.7H1285.7M1275.8 371.4H1302.6M1285.7 370.5V370.9M1285.7 370.5H1302.6M1285.7 370.9H1302.6M1257.8 372.1V373M1257.8 372.1H1270.3M1257.8 373H1260.9M1270.3 371.9V372.3M1270.3 371.9H1302.6M1270.3 372.3H1302.6M1260.9 372.8V373.2M1260.9 372.8H1302.6M1260.9 373.2H1302.6M1199.7 374.7V378.9M1199.7 374.7H1282.9M1199.7 378.9H1205.1M1282.9 373.9V375.6M1282.9 373.9H1285.4M1282.9 375.6H1284.5M1285.4 373.6V374.1M1285.4 373.6H1302.6M1285.4 374.1H1302.6M1284.5 375.1V376.1M1284.5 375.1H1287M1284.5 376.1H1286.4M1287 374.8V375.4M1287 374.8H1289.5M1287 375.4H1302.6M1289.5 374.6V375M1289.5 374.6H1302.6M1289.5 375H1302.6M1286.4 375.9V376.4M1286.4 375.9H1302.6M1286.4 376.4H1302.6M1205.1 377V380.7M1205.1 377H1283.3M1205.1 380.7H1207.4M1283.3 376.8V377.2M1283.3 376.8H1302.6M1283.3 377.2H1302.6M1207.4 379.1V382.4M1207.4 379.1H1278.3M1207.4 382.4H1213M1278.3 378.4V379.7M1278.3 378.4H1281.8M1278.3 379.7H1281.4M1281.8 377.9V378.8M1281.8 377.9H1291.7M1281.8 378.8H1284.3M1291.7 377.7V378.1M1291.7 377.7H1302.6M1291.7 378.1H1302.6M1284.3 378.6V379.1M1284.3 378.6H1302.6M1284.3 379.1H1302.6M1281.4 379.5V379.9M1281.4 379.5H1302.6M1281.4 379.9H1302.6M1213 381.2V383.7M1213 381.2H1276.5M1213 383.7H1216.3M1276.5 380.4V381.9M1276.5 380.4H1302.6M1276.5 381.9H1278.9M1278.9 381.2V382.6M1278.9 381.2H1281.4M1278.9 382.6H1302.6M1281.4 380.9V381.6M1281.4 380.9H1302.6M1281.4 381.6H1284.9M1284.9 381.3V382M1284.9 381.3H1302.6M1284.9 382H1286.6M1286.6 381.8V382.2M1286.6 381.8H1302.6M1286.6 382.2H1302.6M1216.3 383.3V384M1216.3 383.3H1294.4M1216.3 384H1302.6M1294.4 383.1V383.6M1294.4 383.1H1302.6M1294.4 383.6H1302.6M771.2 390.9V419.3M771.2 390.9H839.1M771.2 419.3H783.9M839.1 386.3V391.9M839.1 386.3H1255.3M839.1 391.9H888.5M1255.3 385.7V387M1255.3 385.7H1293.8M1255.3 387H1263.5M1293.8 385.5V385.9M1293.8 385.5H1302.6M1293.8 385.9H1302.6M1263.5 386.6V387.3M1263.5 386.6H1266.3M1263.5 387.3H1302.6M1266.3 386.4V386.9M1266.3 386.4H1302.6M1266.3 386.9H1302.6M888.5 388.5V395.3M888.5 388.5H1012.6M888.5 395.3H925.7M1012.6 387.8V389.3M1012.6 387.8H1302.6M1012.6 389.3H1075.7M1075.7 388.5V390.1M1075.7 388.5H1107.7M1075.7 390.1H1119.9M1107.7 388.2V388.9M1107.7 388.2H1302.6M1107.7 388.9H1246.9M1246.9 388.6V389.1M1246.9 388.6H1302.6M1246.9 389.1H1302.6M1119.9 389.6V390.7M1119.9 389.6H1302.6M1119.9 390.7H1143.2M1143.2 390.2V391.1M1143.2 390.2H1187.9M1143.2 391.1H1168.7M1187.9 390V390.4M1187.9 390H1302.6M1187.9 390.4H1302.6M1168.7 390.9V391.4M1168.7 390.9H1302.6M1168.7 391.4H1302.6M925.7 392.8V397.8M925.7 392.8H1005.6M925.7 397.8H952.1M1005.6 392V393.7M1005.6 392H1243.6M1005.6 393.7H1067.3M1243.6 391.8V392.2M1243.6 391.8H1302.6M1243.6 392.2H1302.6M1067.3 393.3V394.1M1067.3 393.3H1078.2M1067.3 394.1H1302.6M1078.2 392.9V393.6M1078.2 392.9H1182.8M1078.2 393.6H1302.6M1182.8 392.7V393.1M1182.8 392.7H1302.6M1182.8 393.1H1302.6M952.1 394.9V400.7M952.1 394.9H1050.4M952.1 400.7H1025.7M1050.4 394.5V395.3M1050.4 394.5H1302.6M1050.4 395.3H1093.1M1093.1 394.9V395.6M1093.1 394.9H1302.6M1093.1 395.6H1112.6M1112.6 395.4V395.9M1112.6 395.4H1302.6M1112.6 395.9H1302.6M1025.7 398.8V402.6M1025.7 398.8H1266.1M1025.7 402.6H1073.7M1266.1 398.1V399.4M1266.1 398.1H1271M1266.1 399.4H1302.6M1271 397.2V399M1271 397.2H1274.6M1271 399H1302.6M1274.6 396.3V398.1M1274.6 396.3H1302.6M1274.6 398.1H1277M1277 397.6V398.6M1277 397.6H1287.5M1277 398.6H1302.6M1287.5 397.1V398.1M1287.5 397.1H1290.2M1287.5 398.1H1302.6M1290.2 396.8V397.4M1290.2 396.8H1302.6M1290.2 397.4H1292.8M1292.8 397.2V397.6M1292.8 397.2H1302.6M1292.8 397.6H1302.6M1073.7 402V403.3M1073.7 402H1236.4M1073.7 403.3H1095.2M1236.4 401.4V402.6M1236.4 401.4H1253.2M1236.4 402.6H1302.6M1253.2 400.6V402.1M1253.2 400.6H1269.3M1253.2 402.1H1302.6M1269.3 400.1V401.1M1269.3 400.1H1287M1269.3 401.1H1279.1M1287 399.9V400.4M1287 399.9H1302.6M1287 400.4H1302.6M1279.1 400.8V401.5M1279.1 400.8H1302.6M1279.1 401.5H1280.7M1280.7 401.2V401.7M1280.7 401.2H1302.6M1280.7 401.7H1302.6M1095.2 403.1V403.5M1095.2 403.1H1302.6M1095.2 403.5H1302.6M783.9 405.6V432.8M783.9 405.6H1060M783.9 432.8H823.3M1060 404.9V409.4M1060 404.9H1229.6M1060 409.4H1149.3M1229.6 404.5V405.3M1229.6 404.5H1302.6M1229.6 405.3H1243.2M1243.2 405V405.6M1243.2 405H1302.6M1243.2 405.6H1246.1M1246.1 405.4V405.9M1246.1 405.4H1302.6M1246.1 405.9H1302.6M1149.3 407.6V411.3M1149.3 407.6H1189.7M1149.3 411.3H1171.6M1189.7 407V408.1M1189.7 407H1216.6M1189.7 408.1H1302.6M1216.6 406.5V407.4M1216.6 406.5H1256.5M1216.6 407.4H1226M1256.5 406.3V406.8M1256.5 406.3H1302.6M1256.5 406.8H1302.6M1226 407.2V407.7M1226 407.2H1302.6M1226 407.7H1302.6M1171.6 409.4V413.2M1171.6 409.4H1290.5M1171.6 413.2H1190.3M1290.5 408.6V410.3M1290.5 408.6H1302.6M1290.5 410.3H1293.4M1293.4 409.6V410.9M1293.4 409.6H1295.9M1293.4 410.9H1293.4M1295.9 409.2V409.9M1295.9 409.2H1295.9M1295.9 409.9H1302.6M1295.9 409V409.5M1295.9 409H1302.6M1295.9 409.5H1302.6M1293.4 410.6V411.3M1293.4 410.6H1295.9M1293.4 411.3H1302.6M1295.9 410.4V410.8M1295.9 410.4H1302.6M1295.9 410.8H1302.6M1190.3 412.5V414M1190.3 412.5H1279.9M1190.3 414H1302.6M1279.9 412V413M1279.9 412H1283.3M1279.9 413H1283.3M1283.3 411.7V412.2M1283.3 411.7H1302.6M1283.3 412.2H1302.6M1283.3 412.6V413.3M1283.3 412.6H1302.6M1283.3 413.3H1284.9M1284.9 413.1V413.5M1284.9 413.1H1302.6M1284.9 413.5H1302.6M823.3 415.8V449.9M823.3 415.8H865.3M823.3 449.9H836M865.3 415V419.3M865.3 415H983.6M865.3 419.3H876M983.6 415V418.3M983.6 416.3H1238.3M983.6 418.3H1170M1238.3 415.4V417.2M1238.3 415.4H1265.9M1238.3 417.2H1250.5M1265.9 415.1V415.8M1265.9 415.1H1281.8M1265.9 415.8H1302.6M1281.8 414.7V415.4M1281.8 414.7H1284.3M1281.8 415.4H1302.6M1284.3 414.5V414.9M1284.3 414.5H1302.6M1284.3 414.9H1302.6M1250.5 416.8V417.6M1250.5 416.8H1253M1250.5 417.6H1302.6M1253 416.5V417.2M1253 416.5H1291M1253 417.2H1302.6M1291 416.3V416.7M1291 416.3H1302.6M1291 416.7H1302.6M1170 418.1V418.5M1170 418.1H1302.6M1170 418.5H1302.6M876 419.2V421.9M876 419.2H1100M876 421.9H923.8M1100 419.2V420M1100 419.2H1221.1M1100 420H1302.6M1221.1 419V419.5M1221.1 419H1302.6M1221.1 419.5H1302.6M923.8 420.7V421.9M923.8 420.7H1231.5M923.8 421.9H1005.9M1231.5 420.5V420.9M1231.5 420.5H1302.6M1231.5 420.9H1302.6M1005.9 421.4V422.3M1005.9 421.4H1302.6M1005.9 422.3H1022.5M1022.5 421.9V422.8M1022.5 421.9H1302.6M1022.5 422.8H1035.2M1035.2 422.3V423.2M1035.2 422.3H1302.6M1035.2 423.2H1045.2M1045.2 422.8V423.7M1045.2 422.8H1302.6M1045.2 423.7H1056.2M1056.2 423.2V424.1M1056.2 423.2H1302.6M1056.2 424.1H1069M1069 423.6V424.6M1069 423.6H1302.6M1069 424.6H1081M1081 424.1V425M1081 424.1H1302.6M1081 425H1094.4M1094.4 424.6V425.5M1094.4 424.6H1302.6M1094.4 425.5H1108.7M1108.7 425V426.1M1108.7 425H1302.6M1108.7 426.1H1122.2M1122.2 425.4V426.7M1122.2 425.4H1302.6M1122.2 426.7H1138.7M1138.7 426.1V427.2M1138.7 426.1H1288.3M1138.7 427.2H1171.3M1288.3 425.9V426.4M1288.3 425.9H1302.6M1288.3 426.4H1302.6M1171.3 426.8V427.7M1171.3 426.8H1302.6M1171.3 427.7H1212.2M1212.2 427.2V428.1M1212.2 427.2H1302.6M1212.2 428.1H1244.2M1244.2 427.7V428.5M1244.2 427.7H1302.6M1244.2 428.5H1258.7M1258.7 428.1V428.9M1258.7 428.1H1302.6M1258.7 428.9H1271.6M1271.6 428.6V429.3M1271.6 428.6H1302.6M1271.6 429.3H1283.6M1283.6 429.1V429.5M1283.6 429.1H1302.6M1283.6 429.5H1302.6M836 430.8V468.4M836 430.8H950.5M836 468.4H850M950.5 430.4V434.9M950.5 430.4H1240.9M950.5 434.9H1045.8M1240.9 430V430.8M1240.9 430H1302.6M1240.9 430.8H1243.2M1243.2 430.4V431.1M1243.2 430.4H1302.6M1243.2 431.1H1245M1245 430.9V431.4M1245 430.9H1302.6M1245 431.4H1302.6M1045.8 432.5V437.3M1045.8 432.5H1245.8M1045.8 437.3H1084.3M1245.8 432V433M1245.8 432H1292.3M1245.8 433H1261M1292.3 431.8V432.2M1292.3 431.8H1302.6M1292.3 432.2H1302.6M1261 432.7V433.4M1261 432.7H1302.6M1261 433.4H1266.5M1266.5 433.1V433.6M1266.5 433.1H1302.6M1266.5 433.6H1302.6M1084.3 435V439.6M1084.3 435H1245.7M1084.3 439.6H1130.1M1245.7 434.3V435.8M1245.7 434.3H1274.1M1245.7 435.8H1258.9M1274.1 434.1V434.5M1274.1 434.1H1302.6M1274.1 434.5H1302.6M1258.9 435.2V436.4M1258.9 435.2H1276.5M1258.9 436.4H1266.1M1276.5 434.9V435.4M1276.5 434.9H1302.6M1276.5 435.4H1302.6M1266.1 435.9V436.9M1266.1 435.9H1302.6M1266.1 436.9H1271.3M1271.3 436.5V437.2M1271.3 436.5H1275.9M1271.3 437.2H1302.6M1275.9 436.3V436.8M1275.9 436.3H1302.6M1275.9 436.8H1302.6M1130.1 438.3V440.9M1130.1 438.3H1275.5M1130.1 440.9H1148.6M1275.5 437.9V438.8M1275.5 437.9H1292.3M1275.5 438.8H1278.5M1292.3 437.6V438.1M1292.3 437.6H1302.6M1292.3 438.1H1302.6M1278.5 438.6V439M1278.5 438.6H1302.6M1278.5 439H1302.6M1148.6 439.4V442.3M1148.6 439.4H1302.6M1148.6 442.3H1158.8M1158.8 441.4V443.2M1158.8 441.4H1259.6M1158.8 443.2H1170M1259.6 440.7V442.1M1259.6 440.7H1283.8M1259.6 442.1H1302.6M1283.8 440.1V441.4M1283.8 440.1H1293.3M1283.8 441.4H1286.8M1293.3 439.9V440.4M1293.3 439.9H1302.6M1293.3 440.4H1302.6M1286.8 441V441.7M1286.8 441H1289.3M1286.8 441.7H1302.6M1289.3 440.8V441.2M1289.3 440.8H1302.6M1289.3 441.2H1302.6M1170 442.8V443.5M1170 442.8H1261.1M1170 443.5H1302.6M1261.1 442.6V443.1M1261.1 442.6H1302.6M1261.1 443.1H1302.6M850 444.8V491.3M850 444.8H909.3M850 491.3H857.7M909.3 444.8V451.2M909.3 445.9H1117.8M909.3 451.2H1043.1M1117.8 444.6V447.2M1117.8 444.6H1171.5M1117.8 447.2H1152.3M1171.5 444V445.2M1171.5 444H1302.6M1171.5 445.2H1196.4M1196.4 444.7V445.7M1196.4 444.7H1211.6M1196.4 445.7H1209.2M1211.6 444.4V444.9M1211.6 444.4H1302.6M1211.6 444.9H1302.6M1209.2 445.3V446M1209.2 445.3H1302.6M1209.2 446H1215.9M1215.9 445.8V446.2M1215.9 445.8H1302.6M1215.9 446.2H1302.6M1152.3 446.9V447.6M1152.3 446.9H1233.5M1152.3 447.6H1302.6M1233.5 446.7V447.1M1233.5 446.7H1302.6M1233.5 447.1H1302.6M1043.1 448.7V453.7M1043.1 448.7H1263.6M1043.1 453.7H1057.4M1263.6 448V449.4M1263.6 448H1302.6M1263.6 449.4H1266.6M1266.6 449V449.8M1266.6 449H1269.1M1266.6 449.8H1302.6M1269.1 448.7V449.4M1269.1 448.7H1287.9M1269.1 449.4H1302.6M1287.9 448.5V448.9M1287.9 448.5H1302.6M1287.9 448.9H1302.6M1057.4 451.1V456.3M1057.4 451.1H1253.8M1057.4 456.3H1066.3M1253.8 450.3V451.9M1253.8 450.3H1302.6M1253.8 451.9H1265.9M1265.9 451.2V452.5M1265.9 451.2H1283.4M1265.9 452.5H1302.6M1283.4 450.7V451.7M1283.4 450.7H1302.6M1283.4 451.7H1285.8M1285.8 451.4V452.1M1285.8 451.4H1291.7M1285.8 452.1H1302.6M1291.7 451.2V451.6M1291.7 451.2H1302.6M1291.7 451.6H1302.6M1066.3 454.5V458.1M1066.3 454.5H1190.7M1066.3 458.1H1077.6M1190.7 453.8V455.3M1190.7 453.8H1198M1190.7 455.3H1223.3M1198 453.3V454.3M1198 453.3H1244.6M1198 454.3H1302.6M1244.6 452.9V453.6M1244.6 452.9H1302.6M1244.6 453.6H1278.5M1278.5 453.4V453.8M1278.5 453.4H1302.6M1278.5 453.8H1302.6M1223.3 455V455.6M1223.3 455H1291.2M1223.3 455.6H1302.6M1291.2 454.7V455.2M1291.2 454.7H1302.6M1291.2 455.2H1302.6M1077.6 456.8V459.5M1077.6 456.8H1126.8M1077.6 459.5H1108.9M1126.8 456.3V457.2M1126.8 456.3H1176.1M1126.8 457.2H1213.5M1176.1 456.1V456.5M1176.1 456.1H1302.6M1176.1 456.5H1302.6M1213.5 457V457.4M1213.5 457H1302.6M1213.5 457.4H1302.6M1108.9 458.4V460.6M1108.9 458.4H1252.1M1108.9 460.6H1133.4M1252.1 457.9V458.9M1252.1 457.9H1302.6M1252.1 458.9H1260.6M1260.6 458.5V459.2M1260.6 458.5H1272.9M1260.6 459.2H1302.6M1272.9 458.3V458.8M1272.9 458.3H1302.6M1272.9 458.8H1302.6M1133.4 460.2V461M1133.4 460.2H1284.7M1133.4 461H1302.6M1284.7 459.9V460.6M1284.7 459.9H1287.2M1284.7 460.6H1302.6M1287.2 459.7V460.1M1287.2 459.7H1302.6M1287.2 460.1H1302.6M857.7 462.6V520.6M857.7 462.6H1115M857.7 520.6H877.3M1115 461.5V464.7M1115 461.5H1302.6M1115 464.7H1146.6M1146.6 462.8V466.7M1146.6 462.8H1274.3M1146.6 466.7H1168.3M1274.3 462.2V463.4M1274.3 462.2H1288M1274.3 463.4H1276.6M1288 461.9V462.4M1288 461.9H1302.6M1288 462.4H1302.6M1276.6 463V463.7M1276.6 463H1279.6M1276.6 463.7H1302.6M1279.6 462.8V463.2M1279.6 462.8H1302.6M1279.6 463.2H1302.6M1168.3 465.2V468.1M1168.3 465.2H1276.8M1168.3 468.1H1182.4M1276.8 464.5V465.9M1276.8 464.5H1284.1M1276.8 465.9H1279M1284.1 464.1V464.8M1284.1 464.1H1302.6M1284.1 464.8H1288.6M1288.6 464.6V465M1288.6 464.6H1302.6M1288.6 465H1302.6M1279 465.4V466.4M1279 465.4H1302.6M1279 466.4H1280.7M1280.7 466.1V466.8M1280.7 466.1H1283.2M1280.7 466.8H1302.6M1283.2 465.9V466.3M1283.2 465.9H1302.6M1283.2 466.3H1302.6M1182.4 467.7V468.5M1182.4 467.7H1292M1182.4 468.5H1302.6M1292 467.4V468.1M1292 467.4H1294.5M1292 468.1H1302.6M1294.5 467.2V467.6M1294.5 467.2H1302.6M1294.5 467.6H1302.6M877.3 474V566.5M877.3 474H892M877.3 566.5H899.4M892 470V479.9M892 470H1140M892 479.9H931.4M1140 469.6V471.5M1140 469.6H1192.2M1140 471.5H1186.3M1192.2 469.2V469.9M1192.2 469.2H1259M1192.2 469.9H1302.6M1259 469V469.4M1259 469H1302.6M1259 469.4H1302.6M1186.3 470.6V472.4M1186.3 470.6H1264.1M1186.3 472.4H1204.7M1264.1 470.3V470.8M1264.1 470.3H1302.6M1264.1 470.8H1302.6M1204.7 471.9V473M1204.7 471.9H1277.9M1204.7 473H1302.6M1277.9 471.4V472.3M1277.9 471.4H1293.9M1277.9 472.3H1282.3M1293.9 471.2V471.7M1293.9 471.2H1302.6M1293.9 471.7H1302.6M1282.3 472.1V472.6M1282.3 472.1H1302.6M1282.3 472.6H1302.6M931.4 476.4V481.2M931.4 476.4H1199.8M931.4 481.2H1126.9M1199.8 475.6V477.2M1199.8 475.6H1246.2M1199.8 477.2H1230.9M1246.2 475.2V475.9M1246.2 475.2H1266.7M1246.2 475.9H1302.6M1266.7 475V475.4M1266.7 475H1302.6M1266.7 475.4H1302.6M1230.9 476.7V477.7M1230.9 476.7H1240.2M1230.9 477.7H1302.6M1240.2 476.4V477M1240.2 476.4H1302.6M1240.2 477H1279.7M1279.7 476.8V477.2M1279.7 476.8H1302.6M1279.7 477.2H1302.6M1126.9 479.1V483.3M1126.9 479.1H1176.9M1126.9 483.3H1148.1M1176.9 478.4V479.9M1176.9 478.4H1216.5M1176.9 479.9H1217M1216.5 478.1V478.6M1216.5 478.1H1302.6M1216.5 478.6H1302.6M1217 479.3V480.5M1217 479.3H1229M1217 480.5H1234.3M1229 479.1V479.5M1229 479.1H1302.6M1229 479.5H1302.6M1234.3 480.2V480.9M1234.3 480.2H1270.5M1234.3 480.9H1302.6M1270.5 479.9V480.4M1270.5 479.9H1302.6M1270.5 480.4H1302.6M1148.1 482.5V484M1148.1 482.5H1268.9M1148.1 484H1302.6M1268.9 481.9V483.2M1268.9 481.9H1274.3M1268.9 483.2H1272.8M1274.3 481.5V482.2M1274.3 481.5H1287.1M1274.3 482.2H1302.6M1287.1 481.3V481.8M1287.1 481.3H1302.6M1287.1 481.8H1302.6M1272.8 482.9V483.6M1272.8 482.9H1286.5M1272.8 483.6H1302.6M1286.5 482.6V483.1M1286.5 482.6H1302.6M1286.5 483.1H1302.6M899.4 485.5V646.6M899.4 485.5H946M899.4 646.6H907.6M946 485.1V489.8M946 485.1H1252.6M946 489.8H1110M1252.6 484.7V485.4M1252.6 484.7H1291.4M1252.6 485.4H1302.6M1291.4 484.5V484.9M1291.4 484.5H1302.6M1291.4 484.9H1302.6M1110 486.9V492.7M1110 486.9H1282M1110 492.7H1156.3M1282 486.2V487.7M1282 486.2H1286.5M1282 487.7H1283.4M1286.5 485.9V486.5M1286.5 485.9H1302.6M1286.5 486.5H1290M1290 486.3V486.8M1290 486.3H1302.6M1290 486.8H1302.6M1283.4 487.2V488.2M1283.4 487.2H1302.6M1283.4 488.2H1286.4M1286.4 487.9V488.6M1286.4 487.9H1291.1M1286.4 488.6H1302.6M1291.1 487.6V488.1M1291.1 487.6H1302.6M1291.1 488.1H1302.6M1156.3 490.8V494.5M1156.3 490.8H1272.9M1156.3 494.5H1163.9M1272.9 490V491.6M1272.9 490H1287.3M1272.9 491.6H1276.5M1287.3 489.6V490.4M1287.3 489.6H1289.8M1287.3 490.4H1302.6M1289.8 489.2V489.9M1289.8 489.2H1294.4M1289.8 489.9H1302.6M1294.4 489V489.4M1294.4 489H1302.6M1294.4 489.4H1302.6M1276.5 491.1V492.1M1276.5 491.1H1288.5M1276.5 492.1H1302.6M1288.5 490.8V491.5M1288.5 490.8H1302.6M1288.5 491.5H1290.5M1290.5 491.2V491.7M1290.5 491.2H1302.6M1290.5 491.7H1302.6M1163.9 493.4V495.6M1163.9 493.4H1258.8M1163.9 495.6H1169.6M1258.8 492.9V493.9M1258.8 492.9H1266.5M1258.8 493.9H1302.6M1266.5 492.6V493.3M1266.5 492.6H1302.6M1266.5 493.3H1285.9M1285.9 493.1V493.5M1285.9 493.1H1302.6M1285.9 493.5H1302.6M1169.6 494.4V496.7M1169.6 494.4H1302.6M1169.6 496.7H1174.6M1174.6 495.7V497.8M1174.6 495.7H1262.8M1174.6 497.8H1180.5M1262.8 495.1V496.3M1262.8 495.1H1290.7M1262.8 496.3H1265.9M1290.7 494.9V495.3M1290.7 494.9H1302.6M1290.7 495.3H1302.6M1265.9 495.8V496.8M1265.9 495.8H1302.6M1265.9 496.8H1269.3M1269.3 496.4V497.1M1269.3 496.4H1294.4M1269.3 497.1H1302.6M1294.4 496.2V496.6M1294.4 496.2H1302.6M1294.4 496.6H1302.6M1180.5 497.6V498M1180.5 497.6H1302.6M1180.5 498H1302.6M907.6 499.5V794.5M907.6 499.5H1071M907.6 794.5H921M1071 498.5V499.8M1071 498.5H1302.6M1071 499.8H1086M1086 498.9V500.6M1086 498.9H1302.6M1086 500.6H1091.8M1091.8 500V501.2M1091.8 500H1283M1091.8 501.2H1103.9M1283 499.6V500.3M1283 499.6H1293.1M1283 500.3H1302.6M1293.1 499.4V499.9M1293.1 499.4H1302.6M1293.1 499.9H1302.6M1103.9 500.8V501.7M1103.9 500.8H1302.6M1103.9 501.7H1106.1M1106.1 501.2V502.1M1106.1 501.2H1302.6M1106.1 502.1H1112.3M1112.3 501.6V502.6M1112.3 501.6H1302.6M1112.3 502.6H1117.8M1117.8 502.1V503M1117.8 502.1H1302.6M1117.8 503H1121.2M1121.2 502.6V503.5M1121.2 502.6H1302.6M1121.2 503.5H1126.9M1126.9 503V504M1126.9 503H1302.6M1126.9 504H1133.6M1133.6 503.4V504.6M1133.6 503.4H1302.6M1133.6 504.6H1139.8M1139.8 503.9V505.2M1139.8 503.9H1302.6M1139.8 505.2H1148.5M1148.5 504.4V506.1M1148.5 504.4H1302.6M1148.5 506.1H1155.8M1155.8 505.1V507.1M1155.8 505.1H1260.9M1155.8 507.1H1163.4M1260.9 504.8V505.5M1260.9 504.8H1302.6M1260.9 505.5H1284.2M1284.2 505.2V505.7M1284.2 505.2H1302.6M1284.2 505.7H1302.6M1163.4 506.7V507.5M1163.4 506.7H1266.9M1163.4 507.5H1302.6M1266.9 506.4V507.1M1266.9 506.4H1282.9M1266.9 507.1H1302.6M1282.9 506.1V506.6M1282.9 506.1H1302.6M1282.9 506.6H1302.6M921 534.7V1054M921 534.7H932M921 1054H926.8M932 508.7V562.7M932 508.7H1039.8M932 562.7H938.3M1039.8 508.7V516.5M1039.8 509.8H1244.4M1039.8 516.5H1060.2M1244.4 508.9V510.7M1244.4 508.9H1260.9M1244.4 510.7H1302.6M1260.9 508.2V509.6M1260.9 508.2H1288.7M1260.9 509.6H1271.4M1288.7 508V508.5M1288.7 508H1302.6M1288.7 508.5H1302.6M1271.4 509.1V510M1271.4 509.1H1289.6M1271.4 510H1274.8M1289.6 508.9V509.4M1289.6 508.9H1302.6M1289.6 509.4H1302.6M1274.8 509.8V510.3M1274.8 509.8H1302.6M1274.8 510.3H1302.6M1060.2 512.8V520.1M1060.2 512.8H1067.3M1060.2 520.1H1066.3M1067.3 512.1V513.5M1067.3 512.1H1077.2M1067.3 513.5H1156.6M1077.2 511.7V512.5M1077.2 511.7H1227.7M1077.2 512.5H1302.6M1227.7 511.4V512.1M1227.7 511.4H1242.3M1227.7 512.1H1302.6M1242.3 511.2V511.6M1242.3 511.2H1302.6M1242.3 511.6H1302.6M1156.6 513V514M1156.6 513H1302.6M1156.6 514H1174.4M1174.4 513.6V514.3M1174.4 513.6H1261.5M1174.4 514.3H1302.6M1261.5 513.4V513.9M1261.5 513.4H1302.6M1261.5 513.9H1302.6M1066.3 516.5V523.7M1066.3 516.5H1084M1066.3 523.7H1075.3M1084 515.4V517.7M1084 515.4H1138.5M1084 517.7H1154.3M1138.5 514.8V516.1M1138.5 514.8H1302.6M1138.5 516.1H1170.4M1170.4 515.5V516.6M1170.4 515.5H1203.7M1170.4 516.6H1302.6M1203.7 515.2V515.9M1203.7 515.2H1302.6M1203.7 515.9H1270.1M1270.1 515.7V516.1M1270.1 515.7H1302.6M1270.1 516.1H1302.6M1154.3 517.2V518.1M1154.3 517.2H1239.9M1154.3 518.1H1170M1239.9 517V517.5M1239.9 517H1302.6M1239.9 517.5H1302.6M1170 517.9V518.4M1170 517.9H1302.6M1170 518.4H1302.6M1075.3 519.6V527.8M1075.3 519.6H1237M1075.3 527.8H1091.5M1237 518.8V520.3M1237 518.8H1302.6M1237 520.3H1240.3M1240.3 519.3V521.3M1240.3 519.3H1302.6M1240.3 521.3H1244M1244 520.4V522.2M1244 520.4H1283.7M1244 522.2H1246.9M1283.7 519.7V521.1M1283.7 519.7H1302.6M1283.7 521.1H1286M1286 520.7V521.5M1286 520.7H1294.1M1286 521.5H1302.6M1294.1 520.4V521.1M1294.1 520.4H1295.9M1294.1 521.1H1302.6M1295.9 520.2V520.6M1295.9 520.2H1302.6M1295.9 520.6H1302.6M1246.9 522V522.4M1246.9 522H1302.6M1246.9 522.4H1302.6M1091.5 525V530.6M1091.5 525H1263.1M1091.5 530.6H1128.9M1263.1 523.8V526.3M1263.1 523.8H1266.3M1263.1 526.3H1272.7M1266.3 522.9V524.8M1266.3 522.9H1302.6M1266.3 524.8H1269.2M1269.2 524V525.6M1269.2 524H1278M1269.2 525.6H1302.6M1278 523.3V524.7M1278 523.3H1302.6M1278 524.7H1280M1280 524.3V525.1M1280 524.3H1285.3M1280 525.1H1302.6M1285.3 524V524.7M1285.3 524H1294.4M1285.3 524.7H1302.6M1294.4 523.8V524.2M1294.4 523.8H1302.6M1294.4 524.2H1302.6M1272.7 526V526.5M1272.7 526H1302.6M1272.7 526.5H1302.6M1128.9 528.2V533M1128.9 528.2H1283.6M1128.9 533H1158.3M1283.6 527.6V528.7M1283.6 527.6H1288.9M1283.6 528.7H1302.6M1288.9 527.2V528.1M1288.9 527.2H1294.4M1288.9 528.1H1292M1294.4 526.9V527.4M1294.4 526.9H1302.6M1294.4 527.4H1302.6M1292 527.8V528.3M1292 527.8H1302.6M1292 528.3H1302.6M1158.3 529.9V536.1M1158.3 529.9H1277M1158.3 536.1H1174.8M1277 529.2V530.5M1277 529.2H1302.6M1277 530.5H1280.5M1280.5 529.9V531.2M1280.5 529.9H1294.4M1280.5 531.2H1283.8M1294.4 529.6V530.1M1294.4 529.6H1302.6M1294.4 530.1H1302.6M1283.8 530.8V531.7M1283.8 530.8H1289.3M1283.8 531.7H1285.3M1289.3 530.5V531M1289.3 530.5H1302.6M1289.3 531H1302.6M1285.3 531.4V531.9M1285.3 531.4H1302.6M1285.3 531.9H1302.6M1174.8 534.3V537.9M1174.8 534.3H1278.7M1174.8 537.9H1185.9M1278.7 533.7V534.8M1278.7 533.7H1288.4M1278.7 534.8H1282.5M1288.4 533.3V534.1M1288.4 533.3H1290.9M1288.4 534.1H1302.6M1290.9 532.9V533.7M1290.9 532.9H1293.6M1290.9 533.7H1302.6M1293.6 532.6V533.2M1293.6 532.6H1295.9M1293.6 533.2H1302.6M1295.9 532.3V532.8M1295.9 532.3H1302.6M1295.9 532.8H1302.6M1282.5 534.6V535M1282.5 534.6H1302.6M1282.5 535H1302.6M1185.9 536.1V539.6M1185.9 536.1H1275.6M1185.9 539.6H1197.7M1275.6 535.5V536.8M1275.6 535.5H1302.6M1275.6 536.8H1279M1279 536.2V537.4M1279 536.2H1285M1279 537.4H1282.1M1285 535.9V536.4M1285 535.9H1302.6M1285 536.4H1302.6M1282.1 537.1V537.7M1282.1 537.1H1289.8M1282.1 537.7H1302.6M1289.8 536.8V537.3M1289.8 536.8H1302.6M1289.8 537.3H1302.6M1197.7 539.2V540M1197.7 539.2H1269.5M1197.7 540H1302.6M1269.5 538.8V539.5M1269.5 538.8H1272M1269.5 539.5H1302.6M1272 538.4V539.1M1272 538.4H1289.4M1272 539.1H1302.6M1289.4 538.2V538.6M1289.4 538.2H1302.6M1289.4 538.6H1302.6M938.3 541.8V583.8M938.3 541.8H1039.3M938.3 583.8H952.8M1039.3 541.8V545.3M1039.3 542H1258.1M1039.3 545.3H1081.6M1258.1 541.5V542.5M1258.1 541.5H1302.6M1258.1 542.5H1268.8M1268.8 542.2V542.9M1268.8 542.2H1294.4M1268.8 542.9H1302.6M1294.4 542V542.4M1294.4 542H1302.6M1294.4 542.4H1302.6M1081.6 544V546.6M1081.6 544H1242.1M1081.6 546.6H1091.9M1242.1 543.3V544.8M1242.1 543.3H1302.6M1242.1 544.8H1248.8M1248.8 544.4V545.2M1248.8 544.4H1265M1248.8 545.2H1302.6M1265 544V544.7M1265 544H1281M1265 544.7H1302.6M1281 543.8V544.2M1281 543.8H1302.6M1281 544.2H1302.6M1091.9 545.6V547.5M1091.9 545.6H1302.6M1091.9 547.5H1099.6M1099.6 546.1V549M1099.6 546.1H1302.6M1099.6 549H1125.5M1125.5 547.2V550.8M1125.5 547.2H1261.2M1125.5 550.8H1166M1261.2 546.5V547.8M1261.2 546.5H1302.6M1261.2 547.8H1263.6M1263.6 547.3V548.3M1263.6 547.3H1266.1M1263.6 548.3H1302.6M1266.1 547V547.7M1266.1 547H1302.6M1266.1 547.7H1286M1286 547.4V547.9M1286 547.4H1302.6M1286 547.9H1302.6M1166 549.6V552M1166 549.6H1275.5M1166 552H1302.6M1275.5 548.8V550.4M1275.5 548.8H1302.6M1275.5 550.4H1278.9M1278.9 549.6V551.2M1278.9 549.6H1281.4M1278.9 551.2H1280.9M1281.4 549.3V549.9M1281.4 549.3H1302.6M1281.4 549.9H1287.5M1287.5 549.7V550.2M1287.5 549.7H1302.6M1287.5 550.2H1302.6M1280.9 550.9V551.5M1280.9 550.9H1288.8M1280.9 551.5H1302.6M1288.8 550.6V551.1M1288.8 550.6H1302.6M1288.8 551.1H1302.6M952.8 553.2V613.5M952.8 553.2H968M952.8 613.5H963M968 552.5V557.6M968 552.5H1302.6M968 557.6H970.8M970.8 554.3V560.9M970.8 554.3H1030.7M970.8 560.9H974.2M1030.7 553.3V555.2M1030.7 553.3H1179.5M1030.7 555.2H1162.3M1179.5 552.9V553.6M1179.5 552.9H1302.6M1179.5 553.6H1264M1264 553.4V553.8M1264 553.4H1302.6M1264 553.8H1302.6M1162.3 554.8V555.6M1162.3 554.8H1197.6M1162.3 555.6H1302.6M1197.6 554.5V555.2M1197.6 554.5H1264.8M1197.6 555.2H1302.6M1264.8 554.3V554.7M1264.8 554.3H1302.6M1264.8 554.7H1302.6M974.2 557.1V564.7M974.2 557.1H1065.9M974.2 564.7H1007.7M1065.9 556.3V557.9M1065.9 556.3H1246.6M1065.9 557.9H1098.1M1246.6 556.1V556.5M1246.6 556.1H1302.6M1246.6 556.5H1302.6M1098.1 557.2V558.7M1098.1 557.2H1199.7M1098.1 558.7H1114.8M1199.7 557V557.4M1199.7 557H1302.6M1199.7 557.4H1302.6M1114.8 558.1V559.3M1114.8 558.1H1138.6M1114.8 559.3H1127.9M1138.6 557.9V558.3M1138.6 557.9H1302.6M1138.6 558.3H1302.6M1127.9 559V559.7M1127.9 559H1164.5M1127.9 559.7H1302.6M1164.5 558.8V559.2M1164.5 558.8H1302.6M1164.5 559.2H1302.6M1007.7 561.4V568M1007.7 561.4H1069.8M1007.7 568H1022.3M1069.8 560.3V562.4M1069.8 560.3H1175.7M1069.8 562.4H1150.8M1175.7 560.1V560.5M1175.7 560.1H1302.6M1175.7 560.5H1302.6M1150.8 561.6V563.3M1150.8 561.6H1169.6M1150.8 563.3H1193.4M1169.6 561.2V561.9M1169.6 561.2H1179.5M1169.6 561.9H1302.6M1179.5 561V561.4M1179.5 561H1302.6M1179.5 561.4H1302.6M1193.4 562.9V563.7M1193.4 562.9H1195.9M1193.4 563.7H1302.6M1195.9 562.6V563.2M1195.9 562.6H1225.3M1195.9 563.2H1302.6M1225.3 562.3V562.8M1225.3 562.3H1302.6M1225.3 562.8H1302.6M1022.3 564.7V571.2M1022.3 564.7H1184M1022.3 571.2H1026.8M1184 564.1V565.3M1184 564.1H1302.6M1184 565.3H1191.7M1191.7 564.6V566M1191.7 564.6H1302.6M1191.7 566H1195M1195 565.6V566.4M1195 565.6H1262.9M1195 566.4H1302.6M1262.9 565.2V565.9M1262.9 565.2H1279.5M1262.9 565.9H1302.6M1279.5 565V565.5M1279.5 565H1302.6M1279.5 565.5H1302.6M1026.8 567.5V574.9M1026.8 567.5H1033.9M1026.8 574.9H1035.6M1033.9 566.8V568.2M1033.9 566.8H1302.6M1033.9 568.2H1059.6M1059.6 567.5V569M1059.6 567.5H1164.6M1059.6 569H1074.1M1164.6 567.2V567.7M1164.6 567.2H1302.6M1164.6 567.7H1302.6M1074.1 568.4V569.6M1074.1 568.4H1262.5M1074.1 569.6H1086.8M1262.5 568.1V568.6M1262.5 568.1H1302.6M1262.5 568.6H1302.6M1086.8 569.3V569.9M1086.8 569.3H1270.3M1086.8 569.9H1302.6M1270.3 569V569.5M1270.3 569H1302.6M1270.3 569.5H1302.6M1035.6 572.8V577.1M1035.6 572.8H1221.6M1035.6 577.1H1062.7M1221.6 572V573.5M1221.6 572H1232.9M1221.6 573.5H1302.6M1232.9 571.3V572.7M1232.9 571.3H1245.5M1232.9 572.7H1264.6M1245.5 570.9V571.7M1245.5 570.9H1264.2M1245.5 571.7H1302.6M1264.2 570.6V571.3M1264.2 570.6H1289.2M1264.2 571.3H1302.6M1289.2 570.4V570.8M1289.2 570.4H1302.6M1289.2 570.8H1302.6M1264.6 572.4V573.1M1264.6 572.4H1271.4M1264.6 573.1H1302.6M1271.4 572.2V572.6M1271.4 572.2H1302.6M1271.4 572.6H1302.6M1062.7 575.2V578.9M1062.7 575.2H1279.6M1062.7 578.9H1095.4M1279.6 574.6V575.7M1279.6 574.6H1285.7M1279.6 575.7H1302.6M1285.7 574.2V575.1M1285.7 574.2H1292.3M1285.7 575.1H1287.7M1292.3 574V574.4M1292.3 574H1302.6M1292.3 574.4H1302.6M1287.7 574.8V575.3M1287.7 574.8H1302.6M1287.7 575.3H1302.6M1095.4 576.9V581M1095.4 576.9H1269M1095.4 581H1122.8M1269 576.2V577.6M1269 576.2H1302.6M1269 577.6H1272.3M1272.3 576.9V578.3M1272.3 576.9H1291.8M1272.3 578.3H1273.8M1291.8 576.6V577.1M1291.8 576.6H1302.6M1291.8 577.1H1302.6M1273.8 577.8V578.8M1273.8 577.8H1287M1273.8 578.8H1275.8M1287 577.5V578M1287 577.5H1302.6M1287 578H1302.6M1275.8 578.4V579.1M1275.8 578.4H1302.6M1275.8 579.1H1278.8M1278.8 578.9V579.3M1278.8 578.9H1302.6M1278.8 579.3H1302.6M1122.8 580.3V581.8M1122.8 580.3H1132.3M1122.8 581.8H1135.2M1132.3 579.8V580.8M1132.3 579.8H1302.6M1132.3 580.8H1189.6M1189.6 580.4V581.1M1189.6 580.4H1205.1M1189.6 581.1H1302.6M1205.1 580.2V580.7M1205.1 580.2H1302.6M1205.1 580.7H1302.6M1135.2 581.6V582M1135.2 581.6H1302.6M1135.2 582H1302.6M963 583.8V643.5M963 583.8H974.4M963 643.5H975.7M974.4 583.8V589.5M974.4 584H1276.1M974.4 589.5H1102.7M1276.1 583.2V584.8M1276.1 583.2H1293.2M1276.1 584.8H1278.5M1293.2 583V583.5M1293.2 583H1302.6M1293.2 583.5H1302.6M1278.5 584.1V585.4M1278.5 584.1H1294.4M1278.5 585.4H1281.4M1294.4 583.9V584.4M1294.4 583.9H1302.6M1294.4 584.4H1302.6M1281.4 584.8V585.9M1281.4 584.8H1302.6M1281.4 585.9H1282.8M1282.8 585.5V586.4M1282.8 585.5H1286.2M1282.8 586.4H1286.1M1286.2 585.3V585.7M1286.2 585.3H1302.6M1286.2 585.7H1302.6M1286.1 586.2V586.6M1286.1 586.2H1302.6M1286.1 586.6H1302.6M1102.7 588.4V590.5M1102.7 588.4H1248.4M1102.7 590.5H1105.7M1248.4 587.9V588.9M1248.4 587.9H1256.7M1248.4 588.9H1302.6M1256.7 587.4V588.4M1256.7 587.4H1269.1M1256.7 588.4H1302.6M1269.1 587.1V587.8M1269.1 587.1H1302.6M1269.1 587.8H1284.8M1284.8 587.5V588M1284.8 587.5H1302.6M1284.8 588H1302.6M1105.7 589.3V591.7M1105.7 589.3H1302.6M1105.7 591.7H1107.5M1107.5 589.8V593.6M1107.5 589.8H1302.6M1107.5 593.6H1110.2M1110.2 590.9V596.3M1110.2 590.9H1270.6M1110.2 596.3H1112.8M1270.6 590.2V591.7M1270.6 590.2H1302.6M1270.6 591.7H1273.3M1273.3 591V592.3M1273.3 591H1275.9M1273.3 592.3H1276.8M1275.9 590.7V591.4M1275.9 590.7H1302.6M1275.9 591.4H1288.8M1288.8 591.1V591.6M1288.8 591.1H1302.6M1288.8 591.6H1302.6M1276.8 592V592.5M1276.8 592H1302.6M1276.8 592.5H1302.6M1112.8 593.7V598.8M1112.8 593.7H1165.7M1112.8 598.8H1121.1M1165.7 593.2V594.3M1165.7 593.2H1238.8M1165.7 594.3H1198.5M1238.8 593V593.4M1238.8 593H1302.6M1238.8 593.4H1302.6M1198.5 593.9V594.6M1198.5 593.9H1302.6M1198.5 594.6H1209.1M1209.1 594.3V595M1209.1 594.3H1302.6M1209.1 595H1218.4M1218.4 594.8V595.2M1218.4 594.8H1302.6M1218.4 595.2H1302.6M1121.1 596.3V601.2M1121.1 596.3H1178.5M1121.1 601.2H1127.8M1178.5 595.7V597M1178.5 595.7H1302.6M1178.5 597H1189.7M1189.7 596.1V597.9M1189.7 596.1H1302.6M1189.7 597.9H1196.7M1196.7 596.9V598.9M1196.7 596.9H1203.6M1196.7 598.9H1206.3M1203.6 596.6V597.2M1203.6 596.6H1302.6M1203.6 597.2H1269M1269 597V597.5M1269 597H1302.6M1269 597.5H1302.6M1206.3 598.5V599.3M1206.3 598.5H1261.4M1206.3 599.3H1302.6M1261.4 598.2V598.8M1261.4 598.2H1270.7M1261.4 598.8H1302.6M1270.7 597.9V598.4M1270.7 597.9H1302.6M1270.7 598.4H1302.6M1127.8 600.5V602M1127.8 600.5H1265.4M1127.8 602H1302.6M1265.4 600V601M1265.4 600H1280.1M1265.4 601H1273.5M1280.1 599.7V600.2M1280.1 599.7H1302.6M1280.1 600.2H1302.6M1273.5 600.6V601.3M1273.5 600.6H1302.6M1273.5 601.3H1276.5M1276.5 601.1V601.5M1276.5 601.1H1302.6M1276.5 601.5H1302.6M975.7 603.9V683.5M975.7 603.9H978.8M975.7 683.5H984.6M978.8 603V609.7M978.8 603H1150M978.8 609.7H991.5M1150 602.5V603.8M1150 602.5H1302.6M1150 603.8H1169.1M1169.1 603.1V604.4M1169.1 603.1H1284.1M1169.1 604.4H1182.3M1284.1 602.9V603.3M1284.1 602.9H1302.6M1284.1 603.3H1302.6M1182.3 604V604.8M1182.3 604H1287.1M1182.3 604.8H1192.3M1287.1 603.8V604.2M1287.1 603.8H1302.6M1287.1 604.2H1302.6M1192.3 604.6V605M1192.3 604.6H1302.6M1192.3 605H1302.6M991.5 606.5V611.7M991.5 606.5H1170M991.5 611.7H1012M1170 605.7V607.1M1170 605.7H1293.2M1170 607.1H1207M1293.2 605.5V605.9M1293.2 605.5H1302.6M1293.2 605.9H1302.6M1207 606.5V607.7M1207 606.5H1287.4M1207 607.7H1223.6M1287.4 606.3V606.8M1287.4 606.3H1302.6M1287.4 606.8H1302.6M1223.6 607.4V608M1223.6 607.4H1284.7M1223.6 608H1302.6M1284.7 607.2V607.6M1284.7 607.2H1302.6M1284.7 607.6H1302.6M1012 609.5V615.5M1012 609.5H1250M1012 615.5H1025.3M1250 608.8V610.1M1250 608.8H1285.7M1250 610.1H1261.4M1285.7 608.5V609M1285.7 608.5H1302.6M1285.7 609H1302.6M1261.4 609.8V610.5M1261.4 609.8H1268.7M1261.4 610.5H1302.6M1268.7 609.5V610M1268.7 609.5H1302.6M1268.7 610H1302.6M1025.3 612V618.9M1025.3 612H1260M1025.3 618.9H1137M1260 611.2V612.6M1260 611.2H1286.5M1260 612.6H1272.5M1286.5 611V611.5M1286.5 611H1302.6M1286.5 611.5H1302.6M1272.5 612.2V613M1272.5 612.2H1285.9M1272.5 613H1302.6M1285.9 612V612.5M1285.9 612H1302.6M1285.9 612.5H1302.6M1137 613.7V618.9M1137 613.7H1171.2M1137 616.2H1140.6M1171.2 613.5V614M1171.2 613.5H1302.6M1171.2 614H1302.6M1140.6 615V617.5M1140.6 615H1154.7M1140.6 617.5H1142M1154.7 614.6V615.3M1154.7 614.6H1276.2M1154.7 615.3H1302.6M1276.2 614.4V614.9M1276.2 614.4H1302.6M1276.2 614.9H1302.6M1142 616V619M1142 616H1279.4M1142 619H1144.8M1279.4 615.8V616.2M1279.4 615.8H1302.6M1279.4 616.2H1302.6M1144.8 617V621M1144.8 617H1174.4M1144.8 621H1147.3M1174.4 616.7V617.3M1174.4 616.7H1302.6M1174.4 617.3H1263.3M1263.3 617.1V617.6M1263.3 617.1H1302.6M1263.3 617.6H1302.6M1147.3 618.8V623.2M1147.3 618.8H1167.5M1147.3 623.2H1156.3M1167.5 618.2V619.4M1167.5 618.2H1193.6M1167.5 619.4H1194M1193.6 618V618.5M1193.6 618H1302.6M1193.6 618.5H1302.6M1194 618.9V619.9M1194 618.9H1302.6M1194 619.9H1202.5M1202.5 619.6V620.3M1202.5 619.6H1218.9M1202.5 620.3H1302.6M1218.9 619.4V619.8M1218.9 619.4H1302.6M1218.9 619.8H1302.6M1156.3 621.3V625.1M1156.3 621.3H1204.8M1156.3 625.1H1173.4M1204.8 621V621.6M1204.8 621H1271.6M1204.8 621.6H1302.6M1271.6 620.7V621.2M1271.6 620.7H1302.6M1271.6 621.2H1302.6M1173.4 623V627.1M1173.4 623H1254.2M1173.4 627.1H1192.7M1254.2 622.7V623.4M1254.2 622.7H1268.3M1254.2 623.4H1302.6M1268.3 622.3V623M1268.3 622.3H1286.6M1268.3 623H1302.6M1286.6 622.1V622.5M1286.6 622.1H1302.6M1286.6 622.5H1302.6M1192.7 625V629.1M1192.7 625H1210.4M1192.7 629.1H1217.1M1210.4 624.5V625.5M1210.4 624.5H1264.8M1210.4 625.5H1219M1264.8 624.1V624.8M1264.8 624.1H1286.9M1264.8 624.8H1302.6M1286.9 623.9V624.3M1286.9 623.9H1302.6M1286.9 624.3H1302.6M1219 625.2V625.7M1219 625.2H1302.6M1219 625.7H1302.6M1217.1 627V631.3M1217.1 627H1282.4M1217.1 631.3H1238.9M1282.4 626.4V627.6M1282.4 626.4H1285M1282.4 627.6H1284.7M1285 626.2V626.6M1285 626.2H1302.6M1285 626.6H1302.6M1284.7 627.1V628.1M1284.7 627.1H1302.6M1284.7 628.1H1287.4M1287.4 627.7V628.4M1287.4 627.7H1291M1287.4 628.4H1302.6M1291 627.5V628M1291 627.5H1302.6M1291 628H1302.6M1238.9 629.5V633.1M1238.9 629.5H1294.4M1238.9 633.1H1254.4M1294.4 629.1V630M1294.4 629.1H1295.9M1294.4 630H1294.4M1295.9 628.9V629.3M1295.9 628.9H1302.6M1295.9 629.3H1302.6M1294.4 629.8V630.2M1294.4 629.8H1302.6M1294.4 630.2H1302.6M1254.4 631.6V634.6M1254.4 631.6H1269.7M1254.4 634.6H1270.2M1269.7 630.9V632.3M1269.7 630.9H1276.4M1269.7 632.3H1276.6M1276.4 630.7V631.1M1276.4 630.7H1302.6M1276.4 631.1H1302.6M1276.6 631.8V632.7M1276.6 631.8H1279.1M1276.6 632.7H1278.3M1279.1 631.6V632M1279.1 631.6H1302.6M1279.1 632H1302.6M1278.3 632.5V632.9M1278.3 632.5H1302.6M1278.3 632.9H1302.6M1270.2 633.6V635.5M1270.2 633.6H1273.6M1270.2 635.5H1278M1273.6 633.4V633.8M1273.6 633.4H1302.6M1273.6 633.8H1302.6M1278 634.5V636.6M1278 634.5H1280.5M1278 636.6H1290.8M1280.5 634.3V634.7M1280.5 634.3H1302.6M1280.5 634.7H1302.6M1290.8 636.2V637M1290.8 636.2H1294.4M1290.8 637H1302.6M1294.4 635.8V636.5M1294.4 635.8H1295.9M1294.4 636.5H1302.6M1295.9 635.4V636.1M1295.9 635.4H1295.9M1295.9 636.1H1302.6M1295.9 635.2V635.6M1295.9 635.2H1302.6M1295.9 635.6H1302.6M984.6 655.5V710.1M984.6 655.5H1053.3M984.6 710.1H989.8M1053.3 636.4V675.9M1053.3 636.4H1084.6M1053.3 675.9H1072M1084.6 636.4V643.5M1084.6 638.9H1261.4M1084.6 643.5H1187.5M1261.4 638V639.9M1261.4 638H1271M1261.4 639.9H1271.9M1271 637.5V638.5M1271 637.5H1302.6M1271 638.5H1273.9M1273.9 638.2V638.8M1273.9 638.2H1294.4M1273.9 638.8H1302.6M1294.4 637.9V638.4M1294.4 637.9H1302.6M1294.4 638.4H1302.6M1271.9 639.5V640.2M1271.9 639.5H1286M1271.9 640.2H1302.6M1286 639.3V639.7M1286 639.3H1302.6M1286 639.7H1302.6M1187.5 641.3V645.7M1187.5 641.3H1288.5M1187.5 645.7H1206.1M1288.5 640.9V641.8M1288.5 640.9H1291M1288.5 641.8H1290M1291 640.6V641.1M1291 640.6H1302.6M1291 641.1H1302.6M1290 641.5V642M1290 641.5H1302.6M1290 642H1302.6M1206.1 643.1V648.3M1206.1 643.1H1282.5M1206.1 648.3H1218.5M1282.5 642.4V643.8M1282.5 642.4H1302.6M1282.5 643.8H1285.3M1285.3 643.4V644.2M1285.3 643.4H1294.4M1285.3 644.2H1302.6M1294.4 643.1V643.8M1294.4 643.1H1295.9M1294.4 643.8H1302.6M1295.9 642.9V643.3M1295.9 642.9H1302.6M1295.9 643.3H1302.6M1218.5 646V650.5M1218.5 646H1246.8M1218.5 650.5H1225.7M1246.8 645.2V646.7M1246.8 645.2H1271.2M1246.8 646.7H1266.6M1271.2 644.9V645.6M1271.2 644.9H1275.7M1271.2 645.6H1302.6M1275.7 644.7V645.1M1275.7 644.7H1302.6M1275.7 645.1H1302.6M1266.6 646.2V647.1M1266.6 646.2H1288.8M1266.6 647.1H1273.5M1288.8 646V646.5M1288.8 646H1302.6M1288.8 646.5H1302.6M1273.5 646.9V647.4M1273.5 646.9H1302.6M1273.5 647.4H1302.6M1225.7 648.5V652.5M1225.7 648.5H1267.4M1225.7 652.5H1231.1M1267.4 648V649.1M1267.4 648H1294.4M1267.4 649.1H1275.9M1294.4 647.8V648.3M1294.4 647.8H1302.6M1294.4 648.3H1302.6M1275.9 648.7V649.4M1275.9 648.7H1302.6M1275.9 649.4H1280.5M1280.5 649.2V649.6M1280.5 649.2H1302.6M1280.5 649.6H1302.6M1231.1 650.6V654.4M1231.1 650.6H1291.7M1231.1 654.4H1234.4M1291.7 650.1V651.2M1291.7 650.1H1302.6M1291.7 651.2H1293.4M1293.4 650.5V651.8M1293.4 650.5H1302.6M1293.4 651.8H1293.4M1293.4 651.2V652.4M1293.4 651.2H1295.9M1293.4 652.4H1293.4M1295.9 651V651.4M1295.9 651H1302.6M1295.9 651.4H1302.6M1293.4 652.1V652.8M1293.4 652.1H1295.9M1293.4 652.8H1302.6M1295.9 651.9V652.3M1295.9 651.9H1302.6M1295.9 652.3H1302.6M1234.4 653.9V655M1234.4 653.9H1290.8M1234.4 655H1302.6M1290.8 653.4V654.3M1290.8 653.4H1293.3M1290.8 654.3H1293.4M1293.3 653.2V653.7M1293.3 653.2H1302.6M1293.3 653.7H1302.6M1293.4 654.1V654.6M1293.4 654.1H1302.6M1293.4 654.6H1302.6M1072 668.2V684.4M1072 668.2H1174.9M1072 684.4H1084M1174.9 661V669.5M1174.9 661H1240M1174.9 669.5H1204.9M1240 656.2V661M1240 656.2H1292.7M1240 657.4H1241.8M1292.7 656V656.5M1292.7 656H1302.6M1292.7 656.5H1302.6M1241.8 656.9V657.9M1241.8 656.9H1302.6M1241.8 657.9H1243.8M1243.8 657.4V658.5M1243.8 657.4H1302.6M1243.8 658.5H1247.2M1247.2 657.8V659.2M1247.2 657.8H1302.6M1247.2 659.2H1250.2M1250.2 658.3V660.1M1250.2 658.3H1302.6M1250.2 660.1H1252.5M1252.5 659V661.3M1252.5 659H1261.5M1252.5 661.3H1254.1M1261.5 658.7V659.2M1261.5 658.7H1302.6M1261.5 659.2H1302.6M1254.1 660V662.7M1254.1 660H1291.3M1254.1 662.7H1256.9M1291.3 659.7V660.3M1291.3 659.7H1302.6M1291.3 660.3H1293.2M1293.2 660.1V660.6M1293.2 660.1H1302.6M1293.2 660.6H1302.6M1256.9 661.6V663.7M1256.9 661.6H1266.8M1256.9 663.7H1258.7M1266.8 661.2V661.9M1266.8 661.2H1285.5M1266.8 661.9H1302.6M1285.5 661V661.5M1285.5 661H1302.6M1285.5 661.5H1302.6M1258.7 663V664.5M1258.7 663H1267.5M1258.7 664.5H1260.2M1267.5 662.6V663.3M1267.5 662.6H1275.6M1267.5 663.3H1302.6M1275.6 662.4V662.8M1275.6 662.4H1302.6M1275.6 662.8H1302.6M1260.2 663.8V665.2M1260.2 663.8H1302.6M1260.2 665.2H1261.5M1261.5 664.6V665.9M1261.5 664.6H1265.7M1261.5 665.9H1263.3M1265.7 664.2V664.9M1265.7 664.2H1302.6M1265.7 664.9H1283.8M1283.8 664.7V665.1M1283.8 664.7H1302.6M1283.8 665.1H1302.6M1263.3 665.6V666.3M1263.3 665.6H1302.6M1263.3 666.3H1266.4M1266.4 666V666.5M1266.4 666H1302.6M1266.4 666.5H1302.6M1204.9 667V669.5M1204.9 667H1302.6M1204.9 667.9H1217.1M1217.1 667.5V668.4M1217.1 667.5H1302.6M1217.1 668.4H1221.5M1221.5 667.9V668.9M1221.5 667.9H1302.6M1221.5 668.9H1227.4M1227.4 668.4V669.3M1227.4 668.4H1302.6M1227.4 669.3H1234.7M1234.7 668.9V669.8M1234.7 668.9H1302.6M1234.7 669.8H1240.2M1240.2 669.3V670.2M1240.2 669.3H1302.6M1240.2 670.2H1245.1M1245.1 669.8V670.7M1245.1 669.8H1302.6M1245.1 670.7H1249.8M1249.8 670.2V671.2M1249.8 670.2H1302.6M1249.8 671.2H1257.2M1257.2 670.7V671.6M1257.2 670.7H1302.6M1257.2 671.6H1263.4M1263.4 671.2V672.1M1263.4 671.2H1302.6M1263.4 672.1H1268.3M1268.3 671.6V672.5M1268.3 671.6H1302.6M1268.3 672.5H1272.4M1272.4 672.1V672.9M1272.4 672.1H1302.6M1272.4 672.9H1278.5M1278.5 672.6V673.3M1278.5 672.6H1302.6M1278.5 673.3H1283.6M1283.6 673V673.5M1283.6 673H1302.6M1283.6 673.5H1302.6M1084 675.3V684.4M1084 675.3H1253M1084 680.3H1127.7M1253 674.8V675.9M1253 674.8H1268.3M1253 675.9H1302.6M1268.3 674.5V675.2M1268.3 674.5H1302.6M1268.3 675.2H1286.3M1286.3 675V675.4M1286.3 675H1302.6M1286.3 675.4H1302.6M1127.7 677.5V683.2M1127.7 677.5H1166M1127.7 683.2H1140.9M1166 676.6V678.3M1166 676.6H1199.4M1166 678.3H1201.2M1199.4 676.3V677M1199.4 676.3H1302.6M1199.4 677H1267.7M1267.7 676.8V677.2M1267.7 676.8H1302.6M1267.7 677.2H1302.6M1201.2 677.7V679M1201.2 677.7H1302.6M1201.2 679H1214.9M1214.9 678.3V679.6M1214.9 678.3H1231.8M1214.9 679.6H1226.4M1231.8 678.1V678.6M1231.8 678.1H1302.6M1231.8 678.6H1302.6M1226.4 679.2V679.9M1226.4 679.2H1247.1M1226.4 679.9H1302.6M1247.1 679V679.5M1247.1 679H1302.6M1247.1 679.5H1302.6M1140.9 681V685.4M1140.9 681H1278.8M1140.9 685.4H1149.3M1278.8 680.6V681.5M1278.8 680.6H1294.4M1278.8 681.5H1280.8M1294.4 680.4V680.8M1294.4 680.4H1302.6M1294.4 680.8H1302.6M1280.8 681.3V681.7M1280.8 681.3H1302.6M1280.8 681.7H1302.6M1149.3 682.7V688.1M1149.3 682.7H1273.8M1149.3 688.1H1164.6M1273.8 682.2V683.2M1273.8 682.2H1302.6M1273.8 683.2H1280.6M1280.6 682.8V683.5M1280.6 682.8H1286.2M1280.6 683.5H1302.6M1286.2 682.6V683.1M1286.2 682.6H1302.6M1286.2 683.1H1302.6M1164.6 685.7V690.4M1164.6 685.7H1262.6M1164.6 690.4H1181.8M1262.6 684.7V686.7M1262.6 684.7H1274.4M1262.6 686.7H1302.6M1274.4 684.2V685.3M1274.4 684.2H1280M1274.4 685.3H1277.4M1280 684V684.4M1280 684H1302.6M1280 684.4H1302.6M1277.4 684.9V685.7M1277.4 684.9H1302.6M1277.4 685.7H1279.2M1279.2 685.3V686M1279.2 685.3H1302.6M1279.2 686H1281.7M1281.7 685.8V686.2M1281.7 685.8H1302.6M1281.7 686.2H1302.6M1181.8 688.8V692M1181.8 688.8H1291.8M1181.8 692H1192.4M1291.8 687.6V690M1291.8 687.6H1294.4M1291.8 690H1293.2M1294.4 687.1V688.1M1294.4 687.1H1302.6M1294.4 688.1H1294.4M1294.4 687.8V688.5M1294.4 687.8H1295.9M1294.4 688.5H1302.6M1295.9 687.6V688M1295.9 687.6H1302.6M1295.9 688H1302.6M1293.2 689.5V690.5M1293.2 689.5H1295.7M1293.2 690.5H1293.4M1295.7 689.2V689.8M1295.7 689.2H1295.9M1295.7 689.8H1302.6M1295.9 688.9V689.4M1295.9 688.9H1302.6M1295.9 689.4H1302.6M1293.4 690.3V690.7M1293.4 690.3H1302.6M1293.4 690.7H1302.6M1192.4 691.4V692.7M1192.4 691.4H1267.1M1192.4 692.7H1198.5M1267.1 691.2V691.6M1267.1 691.2H1302.6M1267.1 691.6H1302.6M1198.5 692.3V693M1198.5 692.3H1269.6M1198.5 693H1302.6M1269.6 692.1V692.5M1269.6 692.1H1302.6M1269.6 692.5H1302.6M989.8 702.9V722.2M989.8 702.9H1002.4M989.8 722.2H996.5M1002.4 694.4V702.9M1002.4 694.4H1231M1002.4 699.6H1012.9M1231 694V694.8M1231 694H1302.6M1231 694.8H1244.1M1244.1 694.5V695.1M1244.1 694.5H1302.6M1244.1 695.1H1249.1M1249.1 694.9V695.4M1249.1 694.9H1302.6M1249.1 695.4H1302.6M1012.9 696.8V702.5M1012.9 696.8H1254.5M1012.9 702.5H1017.6M1254.5 695.8V697.8M1254.5 695.8H1302.6M1254.5 697.8H1258M1258 697.1V698.5M1258 697.1H1280.4M1258 698.5H1302.6M1280.4 696.5V697.7M1280.4 696.5H1283.3M1280.4 697.7H1282.7M1283.3 696.3V696.7M1283.3 696.3H1302.6M1283.3 696.7H1302.6M1282.7 697.4V698.1M1282.7 697.4H1294.4M1282.7 698.1H1302.6M1294.4 697.2V697.6M1294.4 697.2H1302.6M1294.4 697.6H1302.6M1017.6 700.1V704.8M1017.6 700.1H1278M1017.6 704.8H1029.1M1278 699.3V700.9M1278 699.3H1280.5M1278 700.9H1282M1280.5 699V699.6M1280.5 699H1302.6M1280.5 699.6H1288.9M1288.9 699.4V699.9M1288.9 699.4H1302.6M1288.9 699.9H1302.6M1282 700.5V701.2M1282 700.5H1291.3M1282 701.2H1302.6M1291.3 700.3V700.8M1291.3 700.3H1302.6M1291.3 700.8H1302.6M1029.1 703.2V706.4M1029.1 703.2H1267.7M1029.1 706.4H1046.3M1267.7 702.5V703.9M1267.7 702.5H1276.7M1267.7 703.9H1302.6M1276.7 701.9V703.1M1276.7 701.9H1292.8M1276.7 703.1H1278.6M1292.8 701.7V702.1M1292.8 701.7H1302.6M1292.8 702.1H1302.6M1278.6 702.8V703.5M1278.6 702.8H1281.1M1278.6 703.5H1302.6M1281.1 702.6V703M1281.1 702.6H1302.6M1281.1 703H1302.6M1046.3 705.1V707.8M1046.3 705.1H1242.5M1046.3 707.8H1059.6M1242.5 704.4V705.8M1242.5 704.4H1302.6M1242.5 705.8H1252.3M1252.3 704.8V706.7M1252.3 704.8H1302.6M1252.3 706.7H1258.6M1258.6 706.2V707.1M1258.6 706.2H1262M1258.6 707.1H1302.6M1262 705.9V706.6M1262 705.9H1265.9M1262 706.6H1302.6M1265.9 705.5V706.2M1265.9 705.5H1292.9M1265.9 706.2H1302.6M1292.9 705.3V705.7M1292.9 705.3H1302.6M1292.9 705.7H1302.6M1059.6 707.5V708M1059.6 707.5H1302.6M1059.6 708H1302.6M996.5 710.1V742.8M996.5 710.1H1018.1M996.5 742.8H999.2M1018.1 709V712.9M1018.1 709H1302.6M1018.1 712.9H1025.7M1025.7 710V715.9M1025.7 710H1083.3M1025.7 715.9H1029.6M1083.3 709.5V710.5M1083.3 709.5H1302.6M1083.3 710.5H1122.6M1122.6 710.1V710.8M1122.6 710.1H1149.8M1122.6 710.8H1302.6M1149.8 709.9V710.4M1149.8 709.9H1302.6M1149.8 710.4H1302.6M1029.6 713.1V718.7M1029.6 713.1H1080.4M1029.6 718.7H1037.6M1080.4 711.9V714.3M1080.4 711.9H1114.4M1080.4 714.3H1195.3M1114.4 711.5V712.4M1114.4 711.5H1167.6M1114.4 712.4H1151.3M1167.6 711.2V711.7M1167.6 711.2H1302.6M1167.6 711.7H1302.6M1151.3 712.1V712.6M1151.3 712.1H1302.6M1151.3 712.6H1302.6M1195.3 713.7V714.9M1195.3 713.7H1276.5M1195.3 714.9H1302.6M1276.5 713.3V714.2M1276.5 713.3H1280.7M1276.5 714.2H1278.7M1280.7 713V713.5M1280.7 713H1302.6M1280.7 713.5H1302.6M1278.7 714V714.4M1278.7 714H1302.6M1278.7 714.4H1302.6M1037.6 716.3V721M1037.6 716.3H1249.1M1037.6 721H1044.5M1249.1 715.5V717M1249.1 715.5H1281.4M1249.1 717H1262.9M1281.4 715.3V715.8M1281.4 715.3H1302.6M1281.4 715.8H1302.6M1262.9 716.4V717.7M1262.9 716.4H1267.4M1262.9 717.7H1269.4M1267.4 716.2V716.6M1267.4 716.2H1302.6M1267.4 716.6H1302.6M1269.4 717.3V718M1269.4 717.3H1280.8M1269.4 718H1302.6M1280.8 717.1V717.5M1280.8 717.1H1302.6M1280.8 717.5H1302.6M1044.5 718.9V723.2M1044.5 718.9H1239.9M1044.5 723.2H1056.2M1239.9 718.5V719.3M1239.9 718.5H1302.6M1239.9 719.3H1244.2M1244.2 718.9V719.7M1244.2 718.9H1302.6M1244.2 719.7H1247M1247 719.4V720M1247 719.4H1302.6M1247 720H1251.8M1251.8 719.8V720.2M1251.8 719.8H1302.6M1251.8 720.2H1302.6M1056.2 721.2V725.2M1056.2 721.2H1136.1M1056.2 725.2H1076M1136.1 720.7V721.7M1136.1 720.7H1302.6M1136.1 721.7H1194.5M1194.5 721.4V722M1194.5 721.4H1218.4M1194.5 722H1302.6M1218.4 721.1V721.6M1218.4 721.1H1302.6M1218.4 721.6H1302.6M1076 723.6V726.8M1076 723.6H1278.1M1076 726.8H1094.3M1278.1 722.7V724.4M1278.1 722.7H1286.2M1278.1 724.4H1280.5M1286.2 722.5V723M1286.2 722.5H1302.6M1286.2 723H1302.6M1280.5 723.6V725.1M1280.5 723.6H1294.4M1280.5 725.1H1282.1M1294.4 723.4V723.9M1294.4 723.4H1302.6M1294.4 723.9H1302.6M1282.1 724.5V725.8M1282.1 724.5H1292.5M1282.1 725.8H1284.4M1292.5 724.3V724.8M1292.5 724.3H1302.6M1292.5 724.8H1302.6M1284.4 725.4V726.1M1284.4 725.4H1294.4M1284.4 726.1H1302.6M1294.4 725.2V725.6M1294.4 725.2H1302.6M1294.4 725.6H1302.6M1094.3 726.5V727M1094.3 726.5H1302.6M1094.3 727H1302.6M999.2 729.5V777M999.2 729.5H1100M999.2 777H1016.3M1100 728.9V732.2M1100 728.9H1258.8M1100 732.2H1156.4M1258.8 728.2V729.6M1258.8 728.2H1282.6M1258.8 729.6H1267.7M1282.6 728V728.5M1282.6 728H1302.6M1282.6 728.5H1302.6M1267.7 729.2V730.1M1267.7 729.2H1283.3M1267.7 730.1H1269.5M1283.3 728.9V729.4M1283.3 728.9H1302.6M1283.3 729.4H1302.6M1269.5 729.9V730.3M1269.5 729.9H1302.6M1269.5 730.3H1302.6M1156.4 731V733.4M1156.4 731H1230.2M1156.4 733.4H1173.6M1230.2 730.8V731.2M1230.2 730.8H1302.6M1230.2 731.2H1302.6M1173.6 732.6V734.3M1173.6 732.6H1193.6M1173.6 734.3H1191.1M1193.6 731.9V733.2M1193.6 731.9H1212.2M1193.6 733.2H1210.6M1212.2 731.7V732.2M1212.2 731.7H1302.6M1212.2 732.2H1302.6M1210.6 732.9V733.6M1210.6 732.9H1274.6M1210.6 733.6H1302.6M1274.6 732.6V733.1M1274.6 732.6H1302.6M1274.6 733.1H1302.6M1191.1 734V734.5M1191.1 734H1302.6M1191.1 734.5H1302.6M1016.3 736.6V817.7M1016.3 736.6H1026.2M1016.3 817.7H1023.5M1026.2 736.5V742.3M1026.2 736.5H1278.7M1026.2 742.3H1162.1M1278.7 735.5V737.6M1278.7 735.5H1302.6M1278.7 737.6H1281.3M1281.3 736.5V738.7M1281.3 736.5H1283.8M1281.3 738.7H1302.6M1283.8 736V737.1M1283.8 736H1302.6M1283.8 737.1H1286.9M1286.9 736.4V737.8M1286.9 736.4H1302.6M1286.9 737.8H1288.4M1288.4 737.4V738.2M1288.4 737.4H1294.3M1288.4 738.2H1302.6M1294.3 737.1V737.8M1294.3 737.1H1295.9M1294.3 737.8H1302.6M1295.9 736.9V737.3M1295.9 736.9H1302.6M1295.9 737.3H1302.6M1162.1 739.8V744.9M1162.1 739.8H1284.2M1162.1 744.9H1181M1284.2 739.1V740.4M1284.2 739.1H1302.6M1284.2 740.4H1286.9M1286.9 739.8V741M1286.9 739.8H1294.2M1286.9 741H1288.6M1294.2 739.6V740M1294.2 739.6H1302.6M1294.2 740H1302.6M1288.6 740.7V741.4M1288.6 740.7H1294.4M1288.6 741.4H1302.6M1294.4 740.5V740.9M1294.4 740.5H1302.6M1294.4 740.9H1302.6M1181 742V747.7M1181 742H1287.3M1181 747.7H1192.7M1287.3 741.8V742.3M1287.3 741.8H1302.6M1287.3 742.3H1302.6M1192.7 744.1V751.4M1192.7 744.1H1205.5M1192.7 751.4H1200.5M1205.5 742.9V745.2M1205.5 742.9H1215.1M1205.5 745.2H1234.6M1215.1 742.7V743.2M1215.1 742.7H1302.6M1215.1 743.2H1302.6M1234.6 744.6V745.9M1234.6 744.6H1249.4M1234.6 745.9H1244.1M1249.4 744.2V745M1249.4 744.2H1258.5M1249.4 745H1302.6M1258.5 743.8V744.5M1258.5 743.8H1262.1M1258.5 744.5H1302.6M1262.1 743.6V744.1M1262.1 743.6H1302.6M1262.1 744.1H1302.6M1244.1 745.4V746.4M1244.1 745.4H1302.6M1244.1 746.4H1251M1251 746.1V746.8M1251 746.1H1263.7M1251 746.8H1302.6M1263.7 745.9V746.3M1263.7 745.9H1302.6M1263.7 746.3H1302.6M1200.5 748.1V754.7M1200.5 748.1H1284M1200.5 754.7H1204.3M1284 747.2V748.9M1284 747.2H1302.6M1284 748.9H1286.1M1286.1 748.2V749.6M1286.1 748.2H1288.8M1286.1 749.6H1289.2M1288.8 747.9V748.6M1288.8 747.9H1292.1M1288.8 748.6H1302.6M1292.1 747.7V748.1M1292.1 747.7H1302.6M1292.1 748.1H1302.6M1289.2 749.2V749.9M1289.2 749.2H1294.4M1289.2 749.9H1302.6M1294.4 749V749.5M1294.4 749H1302.6M1294.4 749.5H1302.6M1204.3 751.5V757.9M1204.3 751.5H1291.7M1204.3 757.9H1210.7M1291.7 750.6V752.4M1291.7 750.6H1294.2M1291.7 752.4H1293.4M1294.2 750.4V750.8M1294.2 750.4H1302.6M1294.2 750.8H1302.6M1293.4 751.5V753.2M1293.4 751.5H1295.9M1293.4 753.2H1293.4M1295.9 751.3V751.7M1295.9 751.3H1302.6M1295.9 751.7H1302.6M1293.4 752.4V754M1293.4 752.4H1295.9M1293.4 754H1293.4M1295.9 752.2V752.6M1295.9 752.2H1302.6M1295.9 752.6H1302.6M1293.4 753.6V754.4M1293.4 753.6H1295.9M1293.4 754.4H1302.6M1295.9 753.3V754M1295.9 753.3H1295.9M1295.9 754H1302.6M1295.9 753.1V753.5M1295.9 753.1H1302.6M1295.9 753.5H1302.6M1210.7 754.9V760.9M1210.7 754.9H1302.6M1210.7 760.9H1214.5M1214.5 757V764.8M1214.5 757H1292M1214.5 764.8H1217.8M1292 756.3V757.8M1292 756.3H1294.5M1292 757.8H1293.4M1294.5 755.9V756.7M1294.5 755.9H1295.9M1294.5 756.7H1302.6M1295.9 755.6V756.2M1295.9 755.6H1295.9M1295.9 756.2H1302.6M1295.9 755.3V755.8M1295.9 755.3H1302.6M1295.9 755.8H1302.6M1293.4 757.1V758.4M1293.4 757.1H1302.6M1293.4 758.4H1293.4M1293.4 757.8V759M1293.4 757.8H1295.9M1293.4 759H1293.4M1295.9 757.6V758M1295.9 757.6H1302.6M1295.9 758H1302.6M1293.4 758.7V759.4M1293.4 758.7H1295.9M1293.4 759.4H1302.6M1295.9 758.5V758.9M1295.9 758.5H1302.6M1295.9 758.9H1302.6M1217.8 762.1V767.5M1217.8 762.1H1287.2M1217.8 767.5H1221.1M1287.2 760.8V763.4M1287.2 760.8H1289.7M1287.2 763.4H1302.6M1289.7 760.1V761.6M1289.7 760.1H1292.2M1289.7 761.6H1291.3M1292.2 759.8V760.3M1292.2 759.8H1302.6M1292.2 760.3H1302.6M1291.3 761V762.3M1291.3 761H1294.4M1291.3 762.3H1292.9M1294.4 760.7V761.2M1294.4 760.7H1302.6M1294.4 761.2H1302.6M1292.9 761.9V762.8M1292.9 761.9H1295.4M1292.9 762.8H1293.4M1295.4 761.6V762.1M1295.4 761.6H1302.6M1295.4 762.1H1302.6M1293.4 762.5V763M1293.4 762.5H1302.6M1293.4 763H1302.6M1221.1 765V770M1221.1 765H1293.9M1221.1 770H1223.7M1293.9 764.1V765.8M1293.9 764.1H1295.9M1293.9 765.8H1293.9M1295.9 763.9V764.3M1295.9 763.9H1302.6M1295.9 764.3H1302.6M1293.9 765V766.6M1293.9 765H1295.9M1293.9 766.6H1293.9M1295.9 764.8V765.2M1295.9 764.8H1302.6M1295.9 765.2H1302.6M1293.9 766.3V767M1293.9 766.3H1295.9M1293.9 767H1302.6M1295.9 765.9V766.6M1295.9 765.9H1295.9M1295.9 766.6H1302.6M1295.9 765.7V766.1M1295.9 765.7H1302.6M1295.9 766.1H1302.6M1223.7 768.3V771.8M1223.7 768.3H1228.8M1223.7 771.8H1226.5M1228.8 767.5V769.1M1228.8 767.5H1302.6M1228.8 769.1H1232.2M1232.2 767.9V770.3M1232.2 767.9H1302.6M1232.2 770.3H1234.3M1234.3 769.4V771.1M1234.3 769.4H1280.9M1234.3 771.1H1302.6M1280.9 768.7V770.1M1280.9 768.7H1286.9M1280.9 770.1H1283.9M1286.9 768.4V769.1M1286.9 768.4H1302.6M1286.9 769.1H1290.3M1290.3 768.8V769.3M1290.3 768.8H1302.6M1290.3 769.3H1302.6M1283.9 769.7V770.4M1283.9 769.7H1302.6M1283.9 770.4H1287M1287 770.2V770.6M1287 770.2H1302.6M1287 770.6H1302.6M1226.5 771.5V772M1226.5 771.5H1302.6M1226.5 772H1302.6M1023.5 790.4V846.8M1023.5 790.4H1029.4M1023.5 846.8H1033.8M1029.4 776V805M1029.4 776H1167M1029.4 805H1038.2M1167 774.4V778.5M1167 774.4H1205M1167 778.5H1196M1205 773.6V775.3M1205 773.6H1249.8M1205 775.3H1235.1M1249.8 773.2V774.1M1249.8 773.2H1293M1249.8 774.1H1253.4M1293 773V773.4M1293 773H1302.6M1293 773.4H1302.6M1253.4 773.9V774.3M1253.4 773.9H1302.6M1253.4 774.3H1302.6M1235.1 775V775.6M1235.1 775H1246.2M1235.1 775.6H1302.6M1246.2 774.7V775.2M1246.2 774.7H1302.6M1246.2 775.2H1302.6M1196 777.5V780.8M1196 777.5H1273.4M1196 780.8H1204.6M1273.4 777.1V777.9M1273.4 777.1H1285.4M1273.4 777.9H1302.6M1285.4 776.7V777.4M1285.4 776.7H1290.8M1285.4 777.4H1302.6M1290.8 776.5V777M1290.8 776.5H1302.6M1290.8 777H1302.6M1204.6 779V782.5M1204.6 779H1273.4M1204.6 782.5H1208.7M1273.4 778.5V779.4M1273.4 778.5H1277.6M1273.4 779.4H1276.7M1277.6 778.3V778.8M1277.6 778.3H1302.6M1277.6 778.8H1302.6M1276.7 779.2V779.7M1276.7 779.2H1302.6M1276.7 779.7H1302.6M1208.7 780.8V784.3M1208.7 780.8H1274.5M1208.7 784.3H1209.9M1274.5 780.3V781.2M1274.5 780.3H1277M1274.5 781.2H1278.8M1277 780.1V780.6M1277 780.1H1302.6M1277 780.6H1302.6M1278.8 781V781.5M1278.8 781H1302.6M1278.8 781.5H1302.6M1209.9 782.9V785.7M1209.9 782.9H1274.9M1209.9 785.7H1214.2M1274.9 782.5V783.3M1274.9 782.5H1291.5M1274.9 783.3H1302.6M1291.5 782.1V782.8M1291.5 782.1H1294.4M1291.5 782.8H1302.6M1294.4 781.9V782.4M1294.4 781.9H1302.6M1294.4 782.4H1302.6M1214.2 784.3V787M1214.2 784.3H1275.6M1214.2 787H1216.8M1275.6 783.9V784.6M1275.6 783.9H1278.4M1275.6 784.6H1302.6M1278.4 783.7V784.2M1278.4 783.7H1302.6M1278.4 784.2H1302.6M1216.8 785.8V788.3M1216.8 785.8H1237.1M1216.8 788.3H1218.8M1237.1 785.3V786.2M1237.1 785.3H1287.9M1237.1 786.2H1264.5M1287.9 785.1V785.5M1287.9 785.1H1302.6M1287.9 785.5H1302.6M1264.5 786V786.4M1264.5 786H1302.6M1264.5 786.4H1302.6M1218.8 787.1V789.6M1218.8 787.1H1287.3M1218.8 789.6H1221M1287.3 786.9V787.3M1287.3 786.9H1302.6M1287.3 787.3H1302.6M1221 788.1V791M1221 788.1H1247M1221 791H1226M1247 787.8V788.5M1247 787.8H1302.6M1247 788.5H1280.1M1280.1 788.2V788.7M1280.1 788.2H1302.6M1280.1 788.7H1302.6M1226 790.1V791.9M1226 790.1H1284.5M1226 791.9H1228M1284.5 789.7V790.5M1284.5 789.7H1287M1284.5 790.5H1302.6M1287 789.4V790M1287 789.4H1294.4M1287 790H1302.6M1294.4 789.1V789.6M1294.4 789.1H1302.6M1294.4 789.6H1302.6M1228 791.5V792.3M1228 791.5H1264.2M1228 792.3H1302.6M1264.2 791.2V791.8M1264.2 791.2H1285.4M1264.2 791.8H1302.6M1285.4 790.9V791.4M1285.4 790.9H1302.6M1285.4 791.4H1302.6M1038.2 793.6V805M1038.2 793.6H1057M1038.2 798.3H1056.5M1057 793.2V793.9M1057 793.2H1102.6M1057 793.9H1302.6M1102.6 793V793.4M1102.6 793H1302.6M1102.6 793.4H1302.6M1056.5 795V801.7M1056.5 795H1212.4M1056.5 801.7H1059.3M1212.4 794.3V795.6M1212.4 794.3H1302.6M1212.4 795.6H1240.9M1240.9 795.1V796.1M1240.9 795.1H1283.7M1240.9 796.1H1302.6M1283.7 794.8V795.5M1283.7 794.8H1302.6M1283.7 795.5H1288.4M1288.4 795.2V795.7M1288.4 795.2H1302.6M1288.4 795.7H1302.6M1059.3 797.6V805.8M1059.3 797.6H1139.9M1059.3 805.8H1062.3M1139.9 796.6V798.6M1139.9 796.6H1302.6M1139.9 798.6H1171.7M1171.7 797.3V800M1171.7 797.3H1217.5M1171.7 800H1195.6M1217.5 797V797.5M1217.5 797H1302.6M1217.5 797.5H1302.6M1195.6 798.9V801.1M1195.6 798.9H1202.2M1195.6 801.1H1302.6M1202.2 798.2V799.7M1202.2 798.2H1261.8M1202.2 799.7H1223.4M1261.8 797.9V798.4M1261.8 797.9H1302.6M1261.8 798.4H1302.6M1223.4 799.1V800.3M1223.4 799.1H1292.7M1223.4 800.3H1235.4M1292.7 798.8V799.3M1292.7 798.8H1302.6M1292.7 799.3H1302.6M1235.4 799.9V800.6M1235.4 799.9H1262.7M1235.4 800.6H1302.6M1262.7 799.7V800.2M1262.7 799.7H1302.6M1262.7 800.2H1302.6M1062.3 802.3V809.2M1062.3 802.3H1117M1062.3 809.2H1077.5M1117 801.5V803.1M1117 801.5H1302.6M1117 803.1H1127.1M1127.1 802.2V804.1M1127.1 802.2H1253.8M1127.1 804.1H1130.7M1253.8 802V802.4M1253.8 802H1302.6M1253.8 802.4H1302.6M1130.7 803.4V804.7M1130.7 803.4H1145.9M1130.7 804.7H1138.6M1145.9 803.1V803.8M1145.9 803.1H1179.4M1145.9 803.8H1302.6M1179.4 802.9V803.3M1179.4 802.9H1302.6M1179.4 803.3H1302.6M1138.6 804.2V805.2M1138.6 804.2H1302.6M1138.6 805.2H1140.8M1140.8 804.7V805.7M1140.8 804.7H1302.6M1140.8 805.7H1144.5M1144.5 805.3V806M1144.5 805.3H1188.6M1144.5 806H1302.6M1188.6 805.1V805.6M1188.6 805.1H1302.6M1188.6 805.6H1302.6M1077.5 807V811.5M1077.5 807H1095.1M1077.5 811.5H1090.6M1095.1 806.7V807.3M1095.1 806.7H1239.7M1095.1 807.3H1302.6M1239.7 806.4V806.9M1239.7 806.4H1302.6M1239.7 806.9H1302.6M1090.6 809.3V813.6M1090.6 809.3H1114.2M1090.6 813.6H1104.1M1114.2 808.7V809.9M1114.2 808.7H1169M1114.2 809.9H1147M1169 808.4V809.1M1169 808.4H1173.6M1169 809.1H1302.6M1173.6 808V808.7M1173.6 808H1281.1M1173.6 808.7H1302.6M1281.1 807.8V808.2M1281.1 807.8H1302.6M1281.1 808.2H1302.6M1147 809.6V810.3M1147 809.6H1302.6M1147 810.3H1151.6M1151.6 810V810.5M1151.6 810H1302.6M1151.6 810.5H1302.6M1104.1 811.8V815.5M1104.1 811.8H1143.6M1104.1 815.5H1116.7M1143.6 811.2V812.4M1143.6 811.2H1234.1M1143.6 812.4H1164M1234.1 810.9V811.4M1234.1 810.9H1302.6M1234.1 811.4H1302.6M1164 812.1V812.7M1164 812.1H1231.9M1164 812.7H1302.6M1231.9 811.8V812.3M1231.9 811.8H1302.6M1231.9 812.3H1302.6M1116.7 813.2V817.8M1116.7 813.2H1302.6M1116.7 817.8H1128.2M1128.2 815.3V820.3M1128.2 815.3H1132M1128.2 820.3H1141.1M1132 814.3V816.3M1132 814.3H1169.9M1132 816.3H1189.1M1169.9 813.8V814.7M1169.9 813.8H1259.1M1169.9 814.7H1197.3M1259.1 813.6V814.1M1259.1 813.6H1302.6M1259.1 814.1H1302.6M1197.3 814.5V815M1197.3 814.5H1302.6M1197.3 815H1302.6M1189.1 815.6V817M1189.1 815.6H1288M1189.1 817H1205.2M1288 815.4V815.9M1288 815.4H1302.6M1288 815.9H1302.6M1205.2 816.5V817.4M1205.2 816.5H1243.7M1205.2 817.4H1216M1243.7 816.3V816.8M1243.7 816.3H1302.6M1243.7 816.8H1302.6M1216 817.2V817.7M1216 817.2H1302.6M1216 817.7H1302.6M1141.1 818.3V822.2M1141.1 818.3H1197.4M1141.1 822.2H1150.6M1197.4 818.1V818.6M1197.4 818.1H1302.6M1197.4 818.6H1302.6M1150.6 820V824.5M1150.6 820H1157M1150.6 824.5H1162.2M1157 819.2V820.7M1157 819.2H1165.1M1157 820.7H1187.2M1165.1 819V819.4M1165.1 819H1302.6M1165.1 819.4H1302.6M1187.2 820.2V821.2M1187.2 820.2H1261.5M1187.2 821.2H1302.6M1261.5 819.9V820.6M1261.5 819.9H1302.6M1261.5 820.6H1283.6M1283.6 820.3V820.8M1283.6 820.3H1302.6M1283.6 820.8H1302.6M1162.2 822.4V826.5M1162.2 822.4H1174M1162.2 826.5H1170.9M1174 821.7V823.1M1174 821.7H1302.6M1174 823.1H1210.7M1210.7 822.4V823.9M1210.7 822.4H1261.5M1210.7 823.9H1231.5M1261.5 822.1V822.6M1261.5 822.1H1302.6M1261.5 822.6H1302.6M1231.5 823.4V824.4M1231.5 823.4H1236.4M1231.5 824.4H1302.6M1236.4 823V823.7M1236.4 823H1302.6M1236.4 823.7H1276.6M1276.6 823.5V823.9M1276.6 823.5H1302.6M1276.6 823.9H1302.6M1170.9 824.8V828.3M1170.9 824.8H1302.6M1170.9 828.3H1180.1M1180.1 826.4V830.1M1180.1 826.4H1182.8M1180.1 830.1H1190.8M1182.8 825.8V827.1M1182.8 825.8H1189.5M1182.8 827.1H1302.6M1189.5 825.3V826.3M1189.5 825.3H1302.6M1189.5 826.3H1210.2M1210.2 825.9V826.6M1210.2 825.9H1264.3M1210.2 826.6H1302.6M1264.3 825.7V826.2M1264.3 825.7H1302.6M1264.3 826.2H1302.6M1190.8 828.6V831.7M1190.8 828.6H1203.7M1190.8 831.7H1198.6M1203.7 827.7V829.4M1203.7 827.7H1236.6M1203.7 829.4H1226.4M1236.6 827.5V828M1236.6 827.5H1302.6M1236.6 828H1302.6M1226.4 828.6V830.2M1226.4 828.6H1274.1M1226.4 830.2H1234.9M1274.1 828.4V828.9M1274.1 828.4H1302.6M1274.1 828.9H1302.6M1234.9 829.6V830.7M1234.9 829.6H1270.4M1234.9 830.7H1302.6M1270.4 829.3V830M1270.4 829.3H1302.6M1270.4 830H1286.8M1286.8 829.8V830.2M1286.8 829.8H1302.6M1286.8 830.2H1302.6M1198.6 831.3V832M1198.6 831.3H1227.2M1198.6 832H1302.6M1227.2 831.1V831.6M1227.2 831.1H1302.6M1227.2 831.6H1302.6M1033.8 833V862M1033.8 833H1074M1033.8 862H1040.6M1074 833V838.7M1074 834.2H1103.9M1074 838.7H1141.9M1103.9 833.4V834.9M1103.9 833.4H1239.8M1103.9 834.9H1142.7M1239.8 833.1V833.8M1239.8 833.1H1250.1M1239.8 833.8H1302.6M1250.1 832.7V833.4M1250.1 832.7H1277.6M1250.1 833.4H1302.6M1277.6 832.5V832.9M1277.6 832.5H1302.6M1277.6 832.9H1302.6M1142.7 834.5V835.4M1142.7 834.5H1284.1M1142.7 835.4H1153.9M1284.1 834.3V834.7M1284.1 834.3H1302.6M1284.1 834.7H1302.6M1153.9 835.2V835.6M1153.9 835.2H1302.6M1153.9 835.6H1302.6M1141.9 836.6V840.9M1141.9 836.6H1285.6M1141.9 840.9H1156.9M1285.6 836.3V836.9M1285.6 836.3H1289.4M1285.6 836.9H1302.6M1289.4 836V836.5M1289.4 836H1302.6M1289.4 836.5H1302.6M1156.9 838.9V842.8M1156.9 838.9H1243.9M1156.9 842.8H1170.5M1243.9 837.9V839.9M1243.9 837.9H1258.4M1243.9 839.9H1260.9M1258.4 837.6V838.2M1258.4 837.6H1294.4M1258.4 838.2H1302.6M1294.4 837.4V837.8M1294.4 837.4H1302.6M1294.4 837.8H1302.6M1260.9 839.2V840.6M1260.9 839.2H1285.3M1260.9 840.6H1268.3M1285.3 838.9V839.6M1285.3 838.9H1289.3M1285.3 839.6H1302.6M1289.3 838.7V839.1M1289.3 838.7H1302.6M1289.3 839.1H1302.6M1268.3 840.2V840.9M1268.3 840.2H1294.4M1268.3 840.9H1302.6M1294.4 840V840.5M1294.4 840H1302.6M1294.4 840.5H1302.6M1170.5 842V843.7M1170.5 842H1284M1170.5 843.7H1175.7M1284 841.6V842.5M1284 841.6H1291.1M1284 842.5H1286.5M1291.1 841.3V841.8M1291.1 841.3H1302.6M1291.1 841.8H1302.6M1286.5 842.2V842.7M1286.5 842.2H1302.6M1286.5 842.7H1302.6M1175.7 843.3V844M1175.7 843.3H1280M1175.7 844H1302.6M1280 843.1V843.6M1280 843.1H1302.6M1280 843.6H1302.6M1040.6 843V882M1040.6 843H1119M1040.6 882H1049.9M1119 843V852M1119 846.1H1265.4M1119 852H1193.4M1265.4 845.2V847M1265.4 845.2H1285.5M1265.4 847H1276.8M1285.5 844.5V845.9M1285.5 844.5H1302.6M1285.5 845.9H1288.6M1288.6 845.5V846.3M1288.6 845.5H1291.1M1288.6 846.3H1302.6M1291.1 845.2V845.9M1291.1 845.2H1293.7M1291.1 845.9H1302.6M1293.7 845V845.4M1293.7 845H1302.6M1293.7 845.4H1302.6M1276.8 846.8V847.2M1276.8 846.8H1302.6M1276.8 847.2H1302.6M1193.4 848.6V855.4M1193.4 848.6H1280.6M1193.4 855.4H1221.4M1280.6 847.9V849.4M1280.6 847.9H1294.4M1280.6 849.4H1284M1294.4 847.7V848.1M1294.4 847.7H1302.6M1294.4 848.1H1302.6M1284 848.8V850M1284 848.8H1294.4M1284 850H1286.2M1294.4 848.6V849M1294.4 848.6H1302.6M1294.4 849H1302.6M1286.2 849.7V850.4M1286.2 849.7H1289.9M1286.2 850.4H1302.6M1289.9 849.5V849.9M1289.9 849.5H1302.6M1289.9 849.9H1302.6M1221.4 852.6V858.2M1221.4 852.6H1224.9M1221.4 858.2H1244.1M1224.9 851.8V853.5M1224.9 851.8H1248.2M1224.9 853.5H1231.5M1248.2 851.4V852.2M1248.2 851.4H1259.1M1248.2 852.2H1302.6M1259.1 851V851.7M1259.1 851H1278M1259.1 851.7H1302.6M1278 850.8V851.3M1278 850.8H1302.6M1278 851.3H1302.6M1231.5 853V854M1231.5 853H1240.5M1231.5 854H1302.6M1240.5 852.6V853.3M1240.5 852.6H1302.6M1240.5 853.3H1277.6M1277.6 853.1V853.5M1277.6 853.1H1302.6M1277.6 853.5H1302.6M1244.1 855.3V861.1M1244.1 855.3H1282.9M1244.1 861.1H1264.4M1282.9 854.4V856.2M1282.9 854.4H1302.6M1282.9 856.2H1284.9M1284.9 855.3V857.1M1284.9 855.3H1294.4M1284.9 857.1H1302.6M1294.4 854.9V855.7M1294.4 854.9H1302.6M1294.4 855.7H1294.4M1294.4 855.3V856.1M1294.4 855.3H1302.6M1294.4 856.1H1294.4M1294.4 855.8V856.4M1294.4 855.8H1302.6M1294.4 856.4H1294.4M1294.4 856.2V856.7M1294.4 856.2H1302.6M1294.4 856.7H1302.6M1264.4 858.3V864M1264.4 858.3H1290.5M1264.4 864H1274M1290.5 857.8V858.8M1290.5 857.8H1294.4M1290.5 858.8H1292.9M1294.4 857.6V858M1294.4 857.6H1302.6M1294.4 858H1302.6M1292.9 858.5V859.2M1292.9 858.5H1302.6M1292.9 859.2H1293.4M1293.4 858.9V859.4M1293.4 858.9H1302.6M1293.4 859.4H1302.6M1274 861V866.9M1274 861H1281.1M1274 866.9H1276.8M1281.1 860.1V862M1281.1 860.1H1292.1M1281.1 862H1283.4M1292.1 859.8V860.3M1292.1 859.8H1302.6M1292.1 860.3H1302.6M1283.4 861.4V862.5M1283.4 861.4H1294.4M1283.4 862.5H1302.6M1294.4 861V861.9M1294.4 861H1295.9M1294.4 861.9H1294.4M1295.9 860.7V861.2M1295.9 860.7H1302.6M1295.9 861.2H1302.6M1294.4 861.6V862.1M1294.4 861.6H1302.6M1294.4 862.1H1302.6M1276.8 864.3V869.5M1276.8 864.3H1294.4M1276.8 869.5H1278.7M1294.4 863V865.7M1294.4 863H1302.6M1294.4 865.7H1294.4M1294.4 864.7V866.6M1294.4 864.7H1295.9M1294.4 866.6H1302.6M1295.9 864V865.5M1295.9 864H1295.9M1295.9 865.5H1295.9M1295.9 863.7V864.3M1295.9 863.7H1295.9M1295.9 864.3H1302.6M1295.9 863.4V863.9M1295.9 863.4H1302.6M1295.9 863.9H1302.6M1295.9 865V865.9M1295.9 865H1295.9M1295.9 865.9H1295.9M1295.9 864.8V865.2M1295.9 864.8H1302.6M1295.9 865.2H1302.6M1295.9 865.7V866.1M1295.9 865.7H1302.6M1295.9 866.1H1302.6M1278.7 868.4V870.5M1278.7 868.4H1285.2M1278.7 870.5H1281.2M1285.2 867.7V869.1M1285.2 867.7H1289.1M1285.2 869.1H1287.2M1289.1 867.3V868.2M1289.1 867.3H1294.4M1289.1 868.2H1292M1294.4 867V867.5M1294.4 867H1302.6M1294.4 867.5H1302.6M1292 867.9V868.4M1292 867.9H1302.6M1292 868.4H1302.6M1287.2 868.8V869.3M1287.2 868.8H1302.6M1287.2 869.3H1302.6M1281.2 869.7V871.4M1281.2 869.7H1302.6M1281.2 871.4H1284.7M1284.7 870.7V872M1284.7 870.7H1289.1M1284.7 872H1302.6M1289.1 870.2V871.2M1289.1 870.2H1302.6M1289.1 871.2H1292.1M1292.1 870.9V871.5M1292.1 870.9H1294.6M1292.1 871.5H1302.6M1294.6 870.6V871.1M1294.6 870.6H1302.6M1294.6 871.1H1302.6M1049.9 873.6V882M1049.9 873.6H1096.8M1049.9 877.6H1097.1M1096.8 873.2V873.9M1096.8 873.2H1282.5M1096.8 873.9H1302.6M1282.5 873V873.4M1282.5 873H1302.6M1282.5 873.4H1302.6M1097.1 875.3V879.8M1097.1 875.3H1162.2M1097.1 879.8H1098.4M1162.2 874.9V875.7M1162.2 874.9H1234.5M1162.2 875.7H1302.6M1234.5 874.6V875.2M1234.5 874.6H1242.1M1234.5 875.2H1302.6M1242.1 874.3V874.8M1242.1 874.3H1302.6M1242.1 874.8H1302.6M1098.4 877V882.7M1098.4 877H1247.6M1098.4 882.7H1101.9M1247.6 876.4V877.6M1247.6 876.4H1289.7M1247.6 877.6H1268M1289.7 876.1V876.6M1289.7 876.1H1302.6M1289.7 876.6H1302.6M1268 877.3V877.9M1268 877.3H1279.6M1268 877.9H1302.6M1279.6 877V877.5M1279.6 877H1302.6M1279.6 877.5H1302.6M1101.9 880.3V885.1M1101.9 880.3H1278.9M1101.9 885.1H1105.1M1278.9 879.4V881.3M1278.9 879.4H1294.4M1278.9 881.3H1280.7M1294.4 878.6V880.2M1294.4 878.6H1295.9M1294.4 880.2H1294.4M1295.9 878.4V878.8M1295.9 878.4H1302.6M1295.9 878.8H1302.6M1294.4 879.8V880.6M1294.4 879.8H1295.9M1294.4 880.6H1302.6M1295.9 879.5V880.2M1295.9 879.5H1295.9M1295.9 880.2H1302.6M1295.9 879.3V879.7M1295.9 879.3H1302.6M1295.9 879.7H1302.6M1280.7 881.1V881.5M1280.7 881.1H1302.6M1280.7 881.5H1302.6M1105.1 883.2V886.9M1105.1 883.2H1258.8M1105.1 886.9H1109.5M1258.8 882.6V883.7M1258.8 882.6H1261.3M1258.8 883.7H1302.6M1261.3 882.2V883.1M1261.3 882.2H1289.8M1261.3 883.1H1270.9M1289.8 882V882.4M1289.8 882H1302.6M1289.8 882.4H1302.6M1270.9 882.9V883.3M1270.9 882.9H1302.6M1270.9 883.3H1302.6M1109.5 885.1V888.7M1109.5 885.1H1286.4M1109.5 888.7H1119.2M1286.4 884.8V885.5M1286.4 884.8H1290.6M1286.4 885.5H1302.6M1290.6 884.4V885.1M1290.6 884.4H1294.4M1290.6 885.1H1302.6M1294.4 884.2V884.6M1294.4 884.2H1302.6M1294.4 884.6H1302.6M1119.2 886.7V890.8M1119.2 886.7H1138.1M1119.2 890.8H1129.8M1138.1 886.2V887.1M1138.1 886.2H1195.4M1138.1 887.1H1223.6M1195.4 886V886.4M1195.4 886H1302.6M1195.4 886.4H1302.6M1223.6 886.9V887.3M1223.6 886.9H1302.6M1223.6 887.3H1302.6M1129.8 889.1V892.6M1129.8 889.1H1170.6M1129.8 892.6H1137M1170.6 888.6V889.6M1170.6 888.6H1252.1M1170.6 889.6H1302.6M1252.1 888.1V889.1M1252.1 888.1H1266.3M1252.1 889.1H1302.6M1266.3 887.8V888.4M1266.3 887.8H1302.6M1266.3 888.4H1284.1M1284.1 888.2V888.7M1284.1 888.2H1302.6M1284.1 888.7H1302.6M1137 891V894.1M1137 891H1181.4M1137 894.1H1144.8M1181.4 890.6V891.4M1181.4 890.6H1253.3M1181.4 891.4H1302.6M1253.3 890.2V890.9M1253.3 890.2H1261.4M1253.3 890.9H1302.6M1261.4 890V890.5M1261.4 890H1302.6M1261.4 890.5H1302.6M1144.8 892.4V895.9M1144.8 892.4H1182.1M1144.8 895.9H1149.4M1182.1 892V892.7M1182.1 892H1188.8M1182.1 892.7H1302.6M1188.8 891.8V892.3M1188.8 891.8H1302.6M1188.8 892.3H1302.6M1149.4 893.5V898.3M1149.4 893.5H1194.4M1149.4 898.3H1160.9M1194.4 893.1V893.8M1194.4 893.1H1302.6M1194.4 893.8H1267.8M1267.8 893.6V894M1267.8 893.6H1302.6M1267.8 894H1302.6M1160.9 896.1V900.6M1160.9 896.1H1167.7M1160.9 900.6H1169.5M1167.7 895V897.2M1167.7 895H1189.7M1167.7 897.2H1302.6M1189.7 894.5V895.4M1189.7 894.5H1302.6M1189.7 895.4H1203.9M1203.9 894.9V895.9M1203.9 894.9H1302.6M1203.9 895.9H1213.3M1213.3 895.4V896.4M1213.3 895.4H1302.6M1213.3 896.4H1223.3M1223.3 896.1V896.7M1223.3 896.1H1282.7M1223.3 896.7H1302.6M1282.7 895.8V896.3M1282.7 895.8H1302.6M1282.7 896.3H1302.6M1169.5 898.8V902.5M1169.5 898.8H1266M1169.5 902.5H1174.4M1266 898.1V899.4M1266 898.1H1268.9M1266 899.4H1302.6M1268.9 897.6V898.6M1268.9 897.6H1302.6M1268.9 898.6H1272.3M1272.3 898.3V899M1272.3 898.3H1277.8M1272.3 899H1302.6M1277.8 898.1V898.5M1277.8 898.1H1302.6M1277.8 898.5H1302.6M1174.4 901.9V903M1174.4 901.9H1243.2M1174.4 903H1302.6M1243.2 901.3V902.6M1243.2 901.3H1260.1M1243.2 902.6H1302.6M1260.1 900.6V902.1M1260.1 900.6H1262.6M1260.1 902.1H1302.6M1262.6 899.9V901.3M1262.6 899.9H1302.6M1262.6 901.3H1265M1265 900.9V901.7M1265 900.9H1267.5M1265 901.7H1302.6M1267.5 900.5V901.2M1267.5 900.5H1291.4M1267.5 901.2H1302.6M1291.4 900.3V900.8M1291.4 900.3H1302.6M1291.4 900.8H1302.6M926.8 952.5V1154.9M926.8 952.5H936.4M926.8 1154.9H930.6M936.4 920V985M936.4 920H945M936.4 985H975M945 904.7V934.4M945 904.7H1057.7M945 934.4H967.8M1057.7 904.7V909.8M1057.7 905.7H1065.6M1057.7 909.8H1080.7M1065.6 905.2V906.2M1065.6 905.2H1106.8M1065.6 906.2H1302.6M1106.8 904.7V905.8M1106.8 904.7H1116.4M1106.8 905.8H1302.6M1116.4 904.2V905.1M1116.4 904.2H1133.6M1116.4 905.1H1210M1133.6 904V904.4M1133.6 904H1302.6M1133.6 904.4H1302.6M1210 904.9V905.3M1210 904.9H1302.6M1210 905.3H1302.6M1080.7 907.5V912.2M1080.7 907.5H1183.9M1080.7 912.2H1089.6M1183.9 906.7V908.2M1183.9 906.7H1302.6M1183.9 908.2H1222.6M1222.6 907.7V908.7M1222.6 907.7H1246.2M1222.6 908.7H1249M1246.2 907.4V908M1246.2 907.4H1252.8M1246.2 908H1302.6M1252.8 907.1V907.6M1252.8 907.1H1302.6M1252.8 907.6H1302.6M1249 908.5V908.9M1249 908.5H1302.6M1249 908.9H1302.6M1089.6 909.9V914.4M1089.6 909.9H1134.8M1089.6 914.4H1100.6M1134.8 909.4V910.5M1134.8 909.4H1302.6M1134.8 910.5H1154.6M1154.6 910.1V911M1154.6 910.1H1222.3M1154.6 911H1167.6M1222.3 909.8V910.3M1222.3 909.8H1302.6M1222.3 910.3H1302.6M1167.6 910.7V911.2M1167.6 910.7H1302.6M1167.6 911.2H1302.6M1100.6 912.5V916.3M1100.6 912.5H1268.4M1100.6 916.3H1108.9M1268.4 911.6V913.3M1268.4 911.6H1302.6M1268.4 913.3H1270.9M1270.9 912.8V913.9M1270.9 912.8H1275.3M1270.9 913.9H1302.6M1275.3 912.3V913.2M1275.3 912.3H1291.8M1275.3 913.2H1277.9M1291.8 912.1V912.5M1291.8 912.1H1302.6M1291.8 912.5H1302.6M1277.9 913V913.4M1277.9 913H1302.6M1277.9 913.4H1302.6M1108.9 914.6V918.1M1108.9 914.6H1276.1M1108.9 918.1H1117.7M1276.1 914.3V914.8M1276.1 914.3H1302.6M1276.1 914.8H1302.6M1117.7 916.3V919.9M1117.7 916.3H1247.9M1117.7 919.9H1126.8M1247.9 915.8V916.8M1247.9 915.8H1264.1M1247.9 916.8H1259.8M1264.1 915.4V916.1M1264.1 915.4H1280.4M1264.1 916.1H1302.6M1280.4 915.2V915.7M1280.4 915.2H1302.6M1280.4 915.7H1302.6M1259.8 916.6V917M1259.8 916.6H1302.6M1259.8 917H1302.6M1126.8 918.4V921.3M1126.8 918.4H1230.8M1126.8 921.3H1134.6M1230.8 918V918.8M1230.8 918H1239.8M1230.8 918.8H1302.6M1239.8 917.7V918.4M1239.8 917.7H1264.8M1239.8 918.4H1302.6M1264.8 917.5V917.9M1264.8 917.5H1302.6M1264.8 917.9H1302.6M1134.6 920.2V922.4M1134.6 920.2H1153.1M1134.6 922.4H1139.7M1153.1 919.8V920.6M1153.1 919.8H1190.2M1153.1 920.6H1302.6M1190.2 919.5V920.2M1190.2 919.5H1222.8M1190.2 920.2H1302.6M1222.8 919.3V919.7M1222.8 919.3H1302.6M1222.8 919.7H1302.6M1139.7 921.6V923.1M1139.7 921.6H1257.3M1139.7 923.1H1144.8M1257.3 921.3V922M1257.3 921.3H1276.1M1257.3 922H1302.6M1276.1 921.1V921.5M1276.1 921.1H1302.6M1276.1 921.5H1302.6M1144.8 922.4V923.8M1144.8 922.4H1302.6M1144.8 923.8H1147.6M1147.6 922.9V924.7M1147.6 922.9H1302.6M1147.6 924.7H1152.1M1152.1 923.9V925.5M1152.1 923.9H1255.4M1152.1 925.5H1156.6M1255.4 923.5V924.2M1255.4 923.5H1287.2M1255.4 924.2H1302.6M1287.2 923.3V923.8M1287.2 923.3H1302.6M1287.2 923.8H1302.6M1156.6 925V926M1156.6 925H1196.5M1156.6 926H1302.6M1196.5 924.7V925.3M1196.5 924.7H1302.6M1196.5 925.3H1266.2M1266.2 925.1V925.6M1266.2 925.1H1302.6M1266.2 925.6H1302.6M967.8 931V940.6M967.8 931H998M967.8 940.6H988.7M998 927V931M998 927H1302.6M998 928.3H1003.4M1003.4 927.7V928.9M1003.4 927.7H1231.4M1003.4 928.9H1008M1231.4 927.5V927.9M1231.4 927.5H1302.6M1231.4 927.9H1302.6M1008 928.4V929.4M1008 928.4H1302.6M1008 929.4H1010.4M1010.4 928.9V930M1010.4 928.9H1302.6M1010.4 930H1014.5M1014.5 929.3V930.6M1014.5 929.3H1302.6M1014.5 930.6H1024.4M1024.4 930V931.2M1024.4 930H1259.8M1024.4 931.2H1036.5M1259.8 929.8V930.2M1259.8 929.8H1302.6M1259.8 930.2H1302.6M1036.5 930.7V931.6M1036.5 930.7H1302.6M1036.5 931.6H1045.5M1045.5 931.2V932.1M1045.5 931.2H1302.6M1045.5 932.1H1051.9M1051.9 931.6V932.5M1051.9 931.6H1302.6M1051.9 932.5H1062.5M1062.5 932.1V932.9M1062.5 932.1H1302.6M1062.5 932.9H1069.4M1069.4 932.6V933.3M1069.4 932.6H1302.6M1069.4 933.3H1074.6M1074.6 933V933.5M1074.6 933H1302.6M1074.6 933.5H1302.6M988.7 935.2V940.6M988.7 935.2H1261.8M988.7 939.8H1033.7M1261.8 934.5V935.9M1261.8 934.5H1302.6M1261.8 935.9H1271.8M1271.8 935.5V936.3M1271.8 935.5H1278.2M1271.8 936.3H1302.6M1278.2 935.2V935.9M1278.2 935.2H1291.5M1278.2 935.9H1302.6M1291.5 935V935.4M1291.5 935H1302.6M1291.5 935.4H1302.6M1033.7 937.7V941.9M1033.7 937.7H1242.6M1033.7 941.9H1049.8M1242.6 937V938.4M1242.6 937H1274M1242.6 938.4H1254.5M1274 936.8V937.2M1274 936.8H1302.6M1274 937.2H1302.6M1254.5 937.7V939.1M1254.5 937.7H1302.6M1254.5 939.1H1261.6M1261.6 938.7V939.5M1261.6 938.7H1287.1M1261.6 939.5H1302.6M1287.1 938.3V939M1287.1 938.3H1293.6M1287.1 939H1302.6M1293.6 938.1V938.6M1293.6 938.1H1302.6M1293.6 938.6H1302.6M1049.8 939.9V943.9M1049.8 939.9H1302.6M1049.8 943.9H1064M1064 941.2V946.6M1064 941.2H1087.8M1064 946.6H1071.2M1087.8 940.6V941.9M1087.8 940.6H1246.5M1087.8 941.9H1141.8M1246.5 940.4V940.8M1246.5 940.4H1302.6M1246.5 940.8H1302.6M1141.8 941.5V942.2M1141.8 941.5H1193.9M1141.8 942.2H1302.6M1193.9 941.3V941.7M1193.9 941.3H1302.6M1193.9 941.7H1302.6M1071.2 943.6V949.6M1071.2 943.6H1276.4M1071.2 949.6H1077.8M1276.4 942.9V944.3M1276.4 942.9H1279.4M1276.4 944.3H1279M1279.4 942.6V943.1M1279.4 942.6H1302.6M1279.4 943.1H1302.6M1279 943.8V944.8M1279 943.8H1294.4M1279 944.8H1281.9M1294.4 943.5V944M1294.4 943.5H1302.6M1294.4 944H1302.6M1281.9 944.5V945.1M1281.9 944.5H1302.6M1281.9 945.1H1283.9M1283.9 944.9V945.4M1283.9 944.9H1302.6M1283.9 945.4H1302.6M1077.8 946.8V952.4M1077.8 946.8H1126.2M1077.8 952.4H1087.8M1126.2 945.8V947.8M1126.2 945.8H1302.6M1126.2 947.8H1161.6M1161.6 947.2V948.3M1161.6 947.2H1228.8M1161.6 948.3H1176.8M1228.8 946.8V947.6M1228.8 946.8H1236M1228.8 947.6H1302.6M1236 946.5V947.2M1236 946.5H1269.3M1236 947.2H1302.6M1269.3 946.3V946.7M1269.3 946.3H1302.6M1269.3 946.7H1302.6M1176.8 948.1V948.5M1176.8 948.1H1302.6M1176.8 948.5H1302.6M1087.8 949.8V955M1087.8 949.8H1160.8M1087.8 955H1095.3M1160.8 949.2V950.4M1160.8 949.2H1286.5M1160.8 950.4H1201.5M1286.5 949V949.4M1286.5 949H1302.6M1286.5 949.4H1302.6M1201.5 949.9V951M1201.5 949.9H1302.6M1201.5 951H1217M1217 950.6V951.5M1217 950.6H1284.6M1217 951.5H1233.4M1284.6 950.3V950.8M1284.6 950.3H1302.6M1284.6 950.8H1302.6M1233.4 951.2V951.7M1233.4 951.2H1302.6M1233.4 951.7H1302.6M1095.3 953V957.1M1095.3 953H1109.7M1095.3 957.1H1106.3M1109.7 952.4V953.6M1109.7 952.4H1134.9M1109.7 953.6H1187M1134.9 952.1V952.6M1134.9 952.1H1302.6M1134.9 952.6H1302.6M1187 953.3V954M1187 953.3H1197.6M1187 954H1302.6M1197.6 953V953.5M1197.6 953H1302.6M1197.6 953.5H1302.6M1106.3 955.3V959M1106.3 955.3H1290.4M1106.3 959H1118M1290.4 954.6V955.9M1290.4 954.6H1294.4M1290.4 955.9H1292.6M1294.4 954.4V954.9M1294.4 954.4H1302.6M1294.4 954.9H1302.6M1292.6 955.5V956.2M1292.6 955.5H1295.1M1292.6 956.2H1302.6M1295.1 955.3V955.8M1295.1 955.3H1302.6M1295.1 955.8H1302.6M1118 957.6V960.4M1118 957.6H1132.8M1118 960.4H1128.6M1132.8 956.9V958.2M1132.8 956.9H1231.2M1132.8 958.2H1185.1M1231.2 956.7V957.1M1231.2 956.7H1302.6M1231.2 957.1H1302.6M1185.1 957.8V958.7M1185.1 957.8H1238.9M1185.1 958.7H1206.7M1238.9 957.6V958M1238.9 957.6H1302.6M1238.9 958H1302.6M1206.7 958.5V958.9M1206.7 958.5H1302.6M1206.7 958.9H1302.6M1128.6 959.4V961.3M1128.6 959.4H1302.6M1128.6 961.3H1134.9M1134.9 960.4V962.3M1134.9 960.4H1164.1M1134.9 962.3H1142.9M1164.1 960.1V960.7M1164.1 960.1H1190M1164.1 960.7H1302.6M1190 959.8V960.3M1190 959.8H1302.6M1190 960.3H1302.6M1142.9 961.8V962.8M1142.9 961.8H1247.1M1142.9 962.8H1148.2M1247.1 961.4V962.1M1247.1 961.4H1262.7M1247.1 962.1H1302.6M1262.7 961.2V961.6M1262.7 961.2H1302.6M1262.7 961.6H1302.6M1148.2 962.5V963M1148.2 962.5H1302.6M1148.2 963H1302.6M975 970.3V1000M975 970.3H992.8M975 1000H993.8M992.8 965.4V970.9M992.8 965.4H1271.9M992.8 970.9H1034.9M1271.9 964.7V966.1M1271.9 964.7H1280.3M1271.9 966.1H1273.1M1280.3 964.2V965.1M1280.3 964.2H1282.8M1280.3 965.1H1282.3M1282.8 964V964.4M1282.8 964H1302.6M1282.8 964.4H1302.6M1282.3 964.9V965.3M1282.3 964.9H1302.6M1282.3 965.3H1302.6M1273.1 965.8V966.5M1273.1 965.8H1302.6M1273.1 966.5H1275M1275 966.2V966.7M1275 966.2H1302.6M1275 966.7H1302.6M1034.9 968.2V973.7M1034.9 968.2H1188.3M1034.9 973.7H1132.9M1188.3 967.7V968.7M1188.3 967.7H1207.3M1188.3 968.7H1245.1M1207.3 967.4V968M1207.3 967.4H1238.8M1207.3 968H1302.6M1238.8 967.1V967.6M1238.8 967.1H1302.6M1238.8 967.6H1302.6M1245.1 968.5V968.9M1245.1 968.5H1302.6M1245.1 968.9H1302.6M1132.9 970.4V977M1132.9 970.4H1253M1132.9 977H1145.3M1253 969.6V971.2M1253 969.6H1294.1M1253 971.2H1266M1294.1 969.4V969.8M1294.1 969.4H1302.6M1294.1 969.8H1302.6M1266 970.5V971.8M1266 970.5H1285.3M1266 971.8H1271.5M1285.3 970.3V970.7M1285.3 970.3H1302.6M1285.3 970.7H1302.6M1271.5 971.4V972.3M1271.5 971.4H1283.1M1271.5 972.3H1273.9M1283.1 971.2V971.6M1283.1 971.2H1302.6M1283.1 971.6H1302.6M1273.9 972.1V972.5M1273.9 972.1H1302.6M1273.9 972.5H1302.6M1145.3 973.6V980.4M1145.3 973.6H1264.9M1145.3 980.4H1157.9M1264.9 973V974.2M1264.9 973H1302.6M1264.9 974.2H1269.4M1269.4 973.6V974.8M1269.4 973.6H1294.4M1269.4 974.8H1273.1M1294.4 973.4V973.9M1294.4 973.4H1302.6M1294.4 973.9H1302.6M1273.1 974.3V975.3M1273.1 974.3H1302.6M1273.1 975.3H1275.7M1275.7 975V975.7M1275.7 975H1288.3M1275.7 975.7H1302.6M1288.3 974.8V975.2M1288.3 974.8H1302.6M1288.3 975.2H1302.6M1157.9 977.1V983.6M1157.9 977.1H1161.7M1157.9 983.6H1172M1161.7 976.3V977.8M1161.7 976.3H1236M1161.7 977.8H1181.3M1236 976.1V976.6M1236 976.1H1302.6M1236 976.6H1302.6M1181.3 977.2V978.4M1181.3 977.2H1245.2M1181.3 978.4H1190M1245.2 977V977.4M1245.2 977H1302.6M1245.2 977.4H1302.6M1190 977.9V978.9M1190 977.9H1302.6M1190 978.9H1195M1195 978.6V979.2M1195 978.6H1256.5M1195 979.2H1302.6M1256.5 978.3V978.8M1256.5 978.3H1302.6M1256.5 978.8H1302.6M1172 981V986.3M1172 981H1262.6M1172 986.3H1181M1262.6 980V982M1262.6 980H1267.4M1262.6 982H1272.8M1267.4 979.7V980.4M1267.4 979.7H1302.6M1267.4 980.4H1284.2M1284.2 980.1V980.6M1284.2 980.1H1302.6M1284.2 980.6H1302.6M1272.8 981.4V982.6M1272.8 981.4H1285.6M1272.8 982.6H1278.3M1285.6 981V981.7M1285.6 981H1302.6M1285.6 981.7H1290.4M1290.4 981.5V981.9M1290.4 981.5H1302.6M1290.4 981.9H1302.6M1278.3 982.4V982.8M1278.3 982.4H1302.6M1278.3 982.8H1302.6M1181 983.8V988.8M1181 983.8H1221.7M1181 988.8H1189.5M1221.7 983.3V984.3M1221.7 983.3H1302.6M1221.7 984.3H1228.2M1228.2 983.7V984.9M1228.2 983.7H1302.6M1228.2 984.9H1232.2M1232.2 984.4V985.4M1232.2 984.4H1260.1M1232.2 985.4H1236.6M1260.1 984.2V984.6M1260.1 984.2H1302.6M1260.1 984.6H1302.6M1236.6 985.1V985.7M1236.6 985.1H1302.6M1236.6 985.7H1238.6M1238.6 985.5V986M1238.6 985.5H1302.6M1238.6 986H1302.6M1189.5 987.5V990M1189.5 987.5H1275.4M1189.5 990H1302.6M1275.4 986.4V988.7M1275.4 986.4H1302.6M1275.4 988.7H1278.9M1278.9 987.8V989.6M1278.9 987.8H1281.4M1278.9 989.6H1302.6M1281.4 986.9V988.7M1281.4 986.9H1302.6M1281.4 988.7H1284.4M1284.4 988.3V989.1M1284.4 988.3H1288.3M1284.4 989.1H1302.6M1288.3 987.9V988.7M1288.3 987.9H1291.7M1288.3 988.7H1302.6M1291.7 987.5V988.2M1291.7 987.5H1294.2M1291.7 988.2H1302.6M1294.2 987.3V987.8M1294.2 987.3H1302.6M1294.2 987.8H1302.6M993.8 992.5V1000M993.8 992.5H1086.4M993.8 999.5H1032.4M1086.4 991.6V993.5M1086.4 991.6H1113.9M1086.4 993.5H1123.4M1113.9 991.2V991.9M1113.9 991.2H1174.4M1113.9 991.9H1302.6M1174.4 991V991.4M1174.4 991H1302.6M1174.4 991.4H1302.6M1123.4 992.9V994.1M1123.4 992.9H1203.5M1123.4 994.1H1302.6M1203.5 992.3V993.4M1203.5 992.3H1302.6M1203.5 993.4H1224.2M1224.2 993V993.7M1224.2 993H1237M1224.2 993.7H1302.6M1237 992.8V993.2M1237 992.8H1302.6M1237 993.2H1302.6M1032.4 995.1V1004M1032.4 995.1H1072.9M1032.4 1004H1049.1M1072.9 994.6V995.6M1072.9 994.6H1302.6M1072.9 995.6H1095.2M1095.2 995V996.2M1095.2 995H1302.6M1095.2 996.2H1110.3M1110.3 995.5V996.8M1110.3 995.5H1302.6M1110.3 996.8H1123.6M1123.6 996.2V997.5M1123.6 996.2H1176.4M1123.6 997.5H1141.9M1176.4 995.9V996.4M1176.4 995.9H1302.6M1176.4 996.4H1302.6M1141.9 997.1V998M1141.9 997.1H1151.8M1141.9 998H1155.3M1151.8 996.8V997.3M1151.8 996.8H1302.6M1151.8 997.3H1302.6M1155.3 997.7V998.2M1155.3 997.7H1302.6M1155.3 998.2H1302.6M1049.1 999.8V1008.2M1049.1 999.8H1256.2M1049.1 1008.2H1059.6M1256.2 999V1000.6M1256.2 999H1270.9M1256.2 1000.6H1258.7M1270.9 998.6V999.3M1270.9 998.6H1302.6M1270.9 999.3H1285.2M1285.2 999.1V999.5M1285.2 999.1H1302.6M1285.2 999.5H1302.6M1258.7 1000V1001.2M1258.7 1000H1302.6M1258.7 1001.2H1261M1261 1000.4V1001.9M1261 1000.4H1302.6M1261 1001.9H1262.9M1262.9 1001.1V1002.6M1262.9 1001.1H1273.5M1262.9 1002.6H1266M1273.5 1000.9V1001.3M1273.5 1000.9H1302.6M1273.5 1001.3H1302.6M1266 1002.1V1003.1M1266 1002.1H1276.5M1266 1003.1H1302.6M1276.5 1001.8V1002.5M1276.5 1001.8H1302.6M1276.5 1002.5H1288.6M1288.6 1002.2V1002.7M1288.6 1002.2H1302.6M1288.6 1002.7H1302.6M1059.6 1004.3V1012M1059.6 1004.3H1138.1M1059.6 1012H1070M1138.1 1003.6V1005.1M1138.1 1003.6H1302.6M1138.1 1005.1H1161M1161 1004.3V1005.9M1161 1004.3H1258.1M1161 1005.9H1175.5M1258.1 1004V1004.5M1258.1 1004H1302.6M1258.1 1004.5H1302.6M1175.5 1005.5V1006.3M1175.5 1005.5H1195M1175.5 1006.3H1302.6M1195 1005.2V1005.8M1195 1005.2H1256.8M1195 1005.8H1302.6M1256.8 1004.9V1005.4M1256.8 1004.9H1302.6M1256.8 1005.4H1302.6M1070 1008.4V1015.6M1070 1008.4H1231.4M1070 1015.6H1082.2M1231.4 1007.1V1009.8M1231.4 1007.1H1249.7M1231.4 1009.8H1256.9M1249.7 1006.7V1007.4M1249.7 1006.7H1302.6M1249.7 1007.4H1279.8M1279.8 1007.2V1007.6M1279.8 1007.2H1302.6M1279.8 1007.6H1302.6M1256.9 1009.2V1010.3M1256.9 1009.2H1271.4M1256.9 1010.3H1302.6M1271.4 1008.5V1009.9M1271.4 1008.5H1286.4M1271.4 1009.9H1302.6M1286.4 1008.1V1008.9M1286.4 1008.1H1302.6M1286.4 1008.9H1289.5M1289.5 1008.5V1009.2M1289.5 1008.5H1302.6M1289.5 1009.2H1292.1M1292.1 1009V1009.4M1292.1 1009H1302.6M1292.1 1009.4H1302.6M1082.2 1012.2V1019.1M1082.2 1012.2H1284.5M1082.2 1019.1H1092.6M1284.5 1011V1013.4M1284.5 1011H1288.8M1284.5 1013.4H1285.9M1288.8 1010.8V1011.2M1288.8 1010.8H1302.6M1288.8 1011.2H1302.6M1285.9 1011.9V1014.8M1285.9 1011.9H1289.4M1285.9 1014.8H1288.4M1289.4 1011.7V1012.1M1289.4 1011.7H1302.6M1289.4 1012.1H1302.6M1288.4 1014V1015.7M1288.4 1014H1291.1M1288.4 1015.7H1290.4M1291.1 1013.5V1014.4M1291.1 1013.5H1293.6M1291.1 1014.4H1302.6M1293.6 1013.1V1013.9M1293.6 1013.1H1295.9M1293.6 1013.9H1302.6M1295.9 1012.8V1013.5M1295.9 1012.8H1295.9M1295.9 1013.5H1302.6M1295.9 1012.6V1013M1295.9 1012.6H1302.6M1295.9 1013H1302.6M1290.4 1015.1V1016.3M1290.4 1015.1H1294.1M1290.4 1016.3H1292M1294.1 1014.8V1015.3M1294.1 1014.8H1302.6M1294.1 1015.3H1302.6M1292 1016V1016.6M1292 1016H1294.5M1292 1016.6H1302.6M1294.5 1015.7V1016.2M1294.5 1015.7H1302.6M1294.5 1016.2H1302.6M1092.6 1017.1V1021M1092.6 1017.1H1302.6M1092.6 1021H1094.5M1094.5 1018.6V1023.5M1094.5 1018.6H1141.5M1094.5 1023.5H1097.9M1141.5 1017.8V1019.4M1141.5 1017.8H1201.6M1141.5 1019.4H1176.6M1201.6 1017.5V1018M1201.6 1017.5H1302.6M1201.6 1018H1302.6M1176.6 1019V1019.8M1176.6 1019H1187.9M1176.6 1019.8H1302.6M1187.9 1018.7V1019.3M1187.9 1018.7H1235.5M1187.9 1019.3H1302.6M1235.5 1018.4V1018.9M1235.5 1018.4H1302.6M1235.5 1018.9H1302.6M1097.9 1020.8V1026.2M1097.9 1020.8H1153.5M1097.9 1026.2H1103.9M1153.5 1020.4V1021.1M1153.5 1020.4H1233.8M1153.5 1021.1H1302.6M1233.8 1020.2V1020.7M1233.8 1020.2H1302.6M1233.8 1020.7H1302.6M1103.9 1022.4V1029.9M1103.9 1022.4H1146.4M1103.9 1029.9H1105.9M1146.4 1021.6V1023.3M1146.4 1021.6H1302.6M1146.4 1023.3H1191.9M1191.9 1022.6V1023.9M1191.9 1022.6H1198.6M1191.9 1023.9H1225.2M1198.6 1022.2V1022.9M1198.6 1022.2H1267.8M1198.6 1022.9H1302.6M1267.8 1022V1022.5M1267.8 1022H1302.6M1267.8 1022.5H1302.6M1225.2 1023.6V1024.3M1225.2 1023.6H1229.9M1225.2 1024.3H1302.6M1229.9 1023.4V1023.8M1229.9 1023.4H1302.6M1229.9 1023.8H1302.6M1105.9 1026V1033.8M1105.9 1026H1116.6M1105.9 1033.8H1109.2M1116.6 1024.9V1027.1M1116.6 1024.9H1258.1M1116.6 1027.1H1166.4M1258.1 1024.7V1025.2M1258.1 1024.7H1302.6M1258.1 1025.2H1302.6M1166.4 1026.2V1028.1M1166.4 1026.2H1178.1M1166.4 1028.1H1190.4M1178.1 1025.8V1026.5M1178.1 1025.8H1257.4M1178.1 1026.5H1302.6M1257.4 1025.6V1026.1M1257.4 1025.6H1302.6M1257.4 1026.1H1302.6M1190.4 1027.3V1028.9M1190.4 1027.3H1219.2M1190.4 1028.9H1211.9M1219.2 1027V1027.6M1219.2 1027H1302.6M1219.2 1027.6H1273.1M1273.1 1027.4V1027.9M1273.1 1027.4H1302.6M1273.1 1027.9H1302.6M1211.9 1028.5V1029.2M1211.9 1028.5H1282M1211.9 1029.2H1302.6M1282 1028.3V1028.8M1282 1028.3H1302.6M1282 1028.8H1302.6M1109.2 1030.2V1037.5M1109.2 1030.2H1253.5M1109.2 1037.5H1112.4M1253.5 1029.9V1030.6M1253.5 1029.9H1285M1253.5 1030.6H1302.6M1285 1029.7V1030.1M1285 1029.7H1302.6M1285 1030.1H1302.6M1112.4 1033.6V1041.3M1112.4 1033.6H1259.2M1112.4 1041.3H1119.7M1259.2 1031.7V1035.5M1259.2 1031.7H1262.7M1259.2 1035.5H1266.6M1262.7 1031V1032.4M1262.7 1031H1302.6M1262.7 1032.4H1268.8M1268.8 1032V1032.8M1268.8 1032H1285.1M1268.8 1032.8H1302.6M1285.1 1031.7V1032.4M1285.1 1031.7H1294.4M1285.1 1032.4H1302.6M1294.4 1031.5V1031.9M1294.4 1031.5H1302.6M1294.4 1031.9H1302.6M1266.6 1034.6V1036.4M1266.6 1034.6H1286.1M1266.6 1036.4H1269.8M1286.1 1034.1V1035.1M1286.1 1034.1H1289.7M1286.1 1035.1H1302.6M1289.7 1033.6V1034.6M1289.7 1033.6H1292.2M1289.7 1034.6H1302.6M1292.2 1033.3V1033.9M1292.2 1033.3H1302.6M1292.2 1033.9H1293.4M1293.4 1033.7V1034.2M1293.4 1033.7H1302.6M1293.4 1034.2H1302.6M1269.8 1035.7V1037M1269.8 1035.7H1283.4M1269.8 1037H1272.9M1283.4 1035.5V1036M1283.4 1035.5H1302.6M1283.4 1036H1302.6M1272.9 1036.4V1037.5M1272.9 1036.4H1302.6M1272.9 1037.5H1276M1276 1037.1V1038M1276 1037.1H1282.8M1276 1038H1277.4M1282.8 1036.9V1037.3M1282.8 1036.9H1302.6M1282.8 1037.3H1302.6M1277.4 1037.8V1038.2M1277.4 1037.8H1302.6M1277.4 1038.2H1302.6M1119.7 1038.7V1044M1119.7 1038.7H1302.6M1119.7 1044H1143.5M1143.5 1040.9V1047.1M1143.5 1040.9H1214.4M1143.5 1047.1H1174.3M1214.4 1039.7V1042.1M1214.4 1039.7H1239.9M1214.4 1042.1H1251.1M1239.9 1039.3V1040M1239.9 1039.3H1275M1239.9 1040H1302.6M1275 1039.1V1039.6M1275 1039.1H1302.6M1275 1039.6H1302.6M1251.1 1041.5V1042.7M1251.1 1041.5H1264.2M1251.1 1042.7H1302.6M1264.2 1041V1042M1264.2 1041H1274.5M1264.2 1042H1273.9M1274.5 1040.7V1041.4M1274.5 1040.7H1294.4M1274.5 1041.4H1302.6M1294.4 1040.5V1040.9M1294.4 1040.5H1302.6M1294.4 1040.9H1302.6M1273.9 1041.8V1042.3M1273.9 1041.8H1302.6M1273.9 1042.3H1302.6M1174.3 1045.6V1048.6M1174.3 1045.6H1190.9M1174.3 1048.6H1192.9M1190.9 1044V1047.2M1190.9 1044H1223.6M1190.9 1047.2H1302.6M1223.6 1043.2V1044.9M1223.6 1043.2H1302.6M1223.6 1044.9H1231.2M1231.2 1043.8V1046M1231.2 1043.8H1264.3M1231.2 1046H1233.9M1264.3 1043.6V1044.1M1264.3 1043.6H1302.6M1264.3 1044.1H1302.6M1233.9 1045.5V1046.5M1233.9 1045.5H1277.8M1233.9 1046.5H1247.3M1277.8 1045.1V1045.9M1277.8 1045.1H1281.3M1277.8 1045.9H1302.6M1281.3 1044.7V1045.4M1281.3 1044.7H1285.4M1281.3 1045.4H1302.6M1285.4 1044.5V1045M1285.4 1044.5H1302.6M1285.4 1045H1302.6M1247.3 1046.3V1046.8M1247.3 1046.3H1302.6M1247.3 1046.8H1302.6M1192.9 1048.2V1049M1192.9 1048.2H1198M1192.9 1049H1302.6M1198 1047.9V1048.6M1198 1047.9H1247.1M1198 1048.6H1302.6M1247.1 1047.7V1048.1M1247.1 1047.7H1302.6M1247.1 1048.1H1302.6M930.6 1075.6V1234M930.6 1075.6H947.3M930.6 1234H948.4M947.3 1056.8V1094.4M947.3 1056.8H990M947.3 1094.4H1029.4M990 1050V1062.6M990 1050H1020.1M990 1062.6H1036.5M1020.1 1050V1054.6M1020.1 1050.8H1222.9M1020.1 1054.6H1189.3M1222.9 1049.8V1051.7M1222.9 1049.8H1237.2M1222.9 1051.7H1226.4M1237.2 1049.5V1050.2M1237.2 1049.5H1302.6M1237.2 1050.2H1276.4M1276.4 1050V1050.4M1276.4 1050H1302.6M1276.4 1050.4H1302.6M1226.4 1051.1V1052.3M1226.4 1051.1H1280.3M1226.4 1052.3H1230.7M1280.3 1050.9V1051.3M1280.3 1050.9H1302.6M1280.3 1051.3H1302.6M1230.7 1051.8V1052.8M1230.7 1051.8H1302.6M1230.7 1052.8H1234M1234 1052.5V1053.2M1234 1052.5H1249.7M1234 1053.2H1302.6M1249.7 1052.2V1052.7M1249.7 1052.2H1302.6M1249.7 1052.7H1302.6M1189.3 1054.2V1055M1189.3 1054.2H1273.7M1189.3 1055H1302.6M1273.7 1053.9V1054.5M1273.7 1053.9H1279.4M1273.7 1054.5H1302.6M1279.4 1053.6V1054.1M1279.4 1053.6H1302.6M1279.4 1054.1H1302.6M1036.5 1056.6V1062.6M1036.5 1056.6H1093.9M1036.5 1059.3H1039.7M1093.9 1056.2V1056.9M1093.9 1056.2H1211M1093.9 1056.9H1302.6M1211 1056V1056.4M1211 1056H1302.6M1211 1056.4H1302.6M1039.7 1058.3V1060.2M1039.7 1058.3H1280.2M1039.7 1060.2H1042.7M1280.2 1057.9V1058.7M1280.2 1057.9H1283.6M1280.2 1058.7H1302.6M1283.6 1057.6V1058.2M1283.6 1057.6H1294.4M1283.6 1058.2H1302.6M1294.4 1057.3V1057.8M1294.4 1057.3H1302.6M1294.4 1057.8H1302.6M1042.7 1059.1V1061.3M1042.7 1059.1H1302.6M1042.7 1061.3H1046M1046 1059.8V1062.9M1046 1059.8H1084.6M1046 1062.9H1047.9M1084.6 1059.6V1060M1084.6 1059.6H1302.6M1084.6 1060H1302.6M1047.9 1061.2V1064.6M1047.9 1061.2H1091.2M1047.9 1064.6H1049.6M1091.2 1060.7V1061.6M1091.2 1060.7H1108.2M1091.2 1061.6H1200.9M1108.2 1060.5V1060.9M1108.2 1060.5H1302.6M1108.2 1060.9H1302.6M1200.9 1061.4V1061.8M1200.9 1061.4H1302.6M1200.9 1061.8H1302.6M1049.6 1062.8V1066.4M1049.6 1062.8H1248.3M1049.6 1066.4H1051.3M1248.3 1062.5V1063.2M1248.3 1062.5H1276.1M1248.3 1063.2H1302.6M1276.1 1062.3V1062.7M1276.1 1062.3H1302.6M1276.1 1062.7H1302.6M1051.3 1064.5V1068.2M1051.3 1064.5H1280.1M1051.3 1068.2H1067.1M1280.1 1064V1065M1280.1 1064H1286.8M1280.1 1065H1302.6M1286.8 1063.6V1064.3M1286.8 1063.6H1302.6M1286.8 1064.3H1291.4M1291.4 1064.1V1064.5M1291.4 1064.1H1302.6M1291.4 1064.5H1302.6M1067.1 1066.3V1070.1M1067.1 1066.3H1225.8M1067.1 1070.1H1088.5M1225.8 1065.7V1067M1225.8 1065.7H1252.6M1225.8 1067H1242.5M1252.6 1065.4V1065.9M1252.6 1065.4H1302.6M1252.6 1065.9H1302.6M1242.5 1066.6V1067.4M1242.5 1066.6H1286.7M1242.5 1067.4H1250.3M1286.7 1066.3V1066.8M1286.7 1066.3H1302.6M1286.7 1066.8H1302.6M1250.3 1067.2V1067.7M1250.3 1067.2H1302.6M1250.3 1067.7H1302.6M1088.5 1069.1V1071.2M1088.5 1069.1H1110.2M1088.5 1071.2H1096.8M1110.2 1068.7V1069.5M1110.2 1068.7H1261.3M1110.2 1069.5H1302.6M1261.3 1068.3V1069M1261.3 1068.3H1271.7M1261.3 1069H1302.6M1271.7 1068.1V1068.6M1271.7 1068.1H1302.6M1271.7 1068.6H1302.6M1096.8 1069.9V1072.5M1096.8 1069.9H1302.6M1096.8 1072.5H1107.3M1107.3 1071V1074M1107.3 1071H1147.4M1107.3 1074H1117.9M1147.4 1070.6V1071.5M1147.4 1070.6H1201.7M1147.4 1071.5H1211.1M1201.7 1070.4V1070.8M1201.7 1070.4H1302.6M1201.7 1070.8H1302.6M1211.1 1071.3V1071.7M1211.1 1071.3H1302.6M1211.1 1071.7H1302.6M1117.9 1072.5V1075.5M1117.9 1072.5H1254.2M1117.9 1075.5H1128.2M1254.2 1072.2V1072.8M1254.2 1072.2H1302.6M1254.2 1072.8H1280.9M1280.9 1072.6V1073.1M1280.9 1072.6H1302.6M1280.9 1073.1H1302.6M1128.2 1074.2V1076.8M1128.2 1074.2H1172.1M1128.2 1076.8H1139.2M1172.1 1073.7V1074.6M1172.1 1073.7H1268.3M1172.1 1074.6H1202.4M1268.3 1073.5V1074M1268.3 1073.5H1302.6M1268.3 1074H1302.6M1202.4 1074.4V1074.9M1202.4 1074.4H1302.6M1202.4 1074.9H1302.6M1139.2 1076.1V1077.4M1139.2 1076.1H1194M1139.2 1077.4H1147.2M1194 1075.6V1076.7M1194 1075.6H1219.3M1194 1076.7H1302.6M1219.3 1075.3V1076M1219.3 1075.3H1302.6M1219.3 1076H1272.5M1272.5 1075.8V1076.2M1272.5 1075.8H1302.6M1272.5 1076.2H1302.6M1147.2 1077.1V1077.8M1147.2 1077.1H1302.6M1147.2 1077.8H1149M1149 1077.6V1078M1149 1077.6H1302.6M1149 1078H1302.6M1029.4 1081.4V1106M1029.4 1081.4H1043.4M1029.4 1106H1039.6M1043.4 1079.3V1081.4M1043.4 1079.3H1060.9M1043.4 1081.3H1048.1M1060.9 1079V1079.7M1060.9 1079H1302.6M1060.9 1079.7H1232.9M1232.9 1079.4V1079.9M1232.9 1079.4H1302.6M1232.9 1079.9H1302.6M1048.1 1080.3V1082.4M1048.1 1080.3H1302.6M1048.1 1082.4H1050.8M1050.8 1081V1083.7M1050.8 1081H1077.3M1050.8 1083.7H1061.5M1077.3 1080.8V1081.2M1077.3 1080.8H1302.6M1077.3 1081.2H1302.6M1061.5 1082.5V1084.9M1061.5 1082.5H1248.1M1061.5 1084.9H1071.1M1248.1 1082V1083M1248.1 1082H1253.3M1248.1 1083H1302.6M1253.3 1081.7V1082.4M1253.3 1081.7H1302.6M1253.3 1082.4H1282.2M1282.2 1082.1V1082.6M1282.2 1082.1H1302.6M1282.2 1082.6H1302.6M1071.1 1083.7V1086M1071.1 1083.7H1249.4M1071.1 1086H1081.3M1249.4 1083.5V1083.9M1249.4 1083.5H1302.6M1249.4 1083.9H1302.6M1081.3 1084.7V1087.3M1081.3 1084.7H1094.3M1081.3 1087.3H1095M1094.3 1084.4V1085.1M1094.3 1084.4H1302.6M1094.3 1085.1H1241.4M1241.4 1084.8V1085.3M1241.4 1084.8H1302.6M1241.4 1085.3H1302.6M1095 1086.3V1088.3M1095 1086.3H1214.1M1095 1088.3H1106.8M1214.1 1085.9V1086.6M1214.1 1085.9H1288.7M1214.1 1086.6H1302.6M1288.7 1085.7V1086.2M1288.7 1085.7H1302.6M1288.7 1086.2H1302.6M1106.8 1087.3V1089.3M1106.8 1087.3H1130.1M1106.8 1089.3H1118.4M1130.1 1087.1V1087.5M1130.1 1087.1H1302.6M1130.1 1087.5H1302.6M1118.4 1088.2V1090.4M1118.4 1088.2H1250.7M1118.4 1090.4H1130.9M1250.7 1088V1088.4M1250.7 1088H1302.6M1250.7 1088.4H1302.6M1130.9 1089.5V1091.3M1130.9 1089.5H1246.9M1130.9 1091.3H1140.3M1246.9 1089.1V1090M1246.9 1089.1H1255.1M1246.9 1090H1265M1255.1 1088.9V1089.3M1255.1 1088.9H1302.6M1255.1 1089.3H1302.6M1265 1089.8V1090.2M1265 1089.8H1302.6M1265 1090.2H1302.6M1140.3 1090.9V1091.8M1140.3 1090.9H1264.8M1140.3 1091.8H1146.9M1264.8 1090.7V1091.1M1264.8 1090.7H1302.6M1264.8 1091.1H1302.6M1146.9 1091.6V1092M1146.9 1091.6H1302.6M1146.9 1092H1302.6M1039.6 1101.2V1112.1M1039.6 1101.2H1065.6M1039.6 1112.1H1049.2M1065.6 1093.2V1101.2M1065.6 1093.2H1260.4M1065.6 1095.9H1069.4M1260.4 1093V1093.5M1260.4 1093H1302.6M1260.4 1093.5H1302.6M1069.4 1094.5V1097.3M1069.4 1094.5H1255.9M1069.4 1097.3H1072.5M1255.9 1094.1V1094.8M1255.9 1094.1H1262.4M1255.9 1094.8H1302.6M1262.4 1093.9V1094.4M1262.4 1093.9H1302.6M1262.4 1094.4H1302.6M1072.5 1095.8V1098.7M1072.5 1095.8H1095.2M1072.5 1098.7H1075.1M1095.2 1095.5V1096.2M1095.2 1095.5H1105.8M1095.2 1096.2H1302.6M1105.8 1095.3V1095.7M1105.8 1095.3H1302.6M1105.8 1095.7H1302.6M1075.1 1097.2V1100.2M1075.1 1097.2H1285.9M1075.1 1100.2H1079.3M1285.9 1096.9V1097.5M1285.9 1096.9H1293M1285.9 1097.5H1302.6M1293 1096.6V1097.1M1293 1096.6H1302.6M1293 1097.1H1302.6M1079.3 1098.7V1101.6M1079.3 1098.7H1186.2M1079.3 1101.6H1080.7M1186.2 1098.2V1099.1M1186.2 1098.2H1280.8M1186.2 1099.1H1220.5M1280.8 1098V1098.5M1280.8 1098H1302.6M1280.8 1098.5H1302.6M1220.5 1098.9V1099.4M1220.5 1098.9H1302.6M1220.5 1099.4H1302.6M1080.7 1100.4V1102.9M1080.7 1100.4H1287.1M1080.7 1102.9H1083.7M1287.1 1100V1100.7M1287.1 1100H1293M1287.1 1100.7H1302.6M1293 1099.8V1100.3M1293 1099.8H1302.6M1293 1100.3H1302.6M1083.7 1101.8V1104.1M1083.7 1101.8H1117.2M1083.7 1104.1H1091.8M1117.2 1101.4V1102.1M1117.2 1101.4H1271.9M1117.2 1102.1H1302.6M1271.9 1101.2V1101.6M1271.9 1101.2H1302.6M1271.9 1101.6H1302.6M1091.8 1103.1V1105M1091.8 1103.1H1244.5M1091.8 1105H1105.1M1244.5 1102.8V1103.5M1244.5 1102.8H1261.8M1244.5 1103.5H1302.6M1261.8 1102.5V1103M1261.8 1102.5H1302.6M1261.8 1103H1302.6M1105.1 1104.1V1105.8M1105.1 1104.1H1199.8M1105.1 1105.8H1115.2M1199.8 1103.9V1104.4M1199.8 1103.9H1302.6M1199.8 1104.4H1302.6M1115.2 1105V1106.6M1115.2 1105H1220.4M1115.2 1106.6H1126.6M1220.4 1104.8V1105.3M1220.4 1104.8H1302.6M1220.4 1105.3H1302.6M1126.6 1106V1107.3M1126.6 1106H1264.9M1126.6 1107.3H1137.2M1264.9 1105.7V1106.2M1264.9 1105.7H1302.6M1264.9 1106.2H1302.6M1137.2 1106.9V1107.8M1137.2 1106.9H1230.1M1137.2 1107.8H1146.5M1230.1 1106.6V1107.1M1230.1 1106.6H1302.6M1230.1 1107.1H1302.6M1146.5 1107.5V1108M1146.5 1107.5H1302.6M1146.5 1108H1302.6M1049.2 1110.5V1116.3M1049.2 1110.5H1273.4M1049.2 1116.3H1061.7M1273.4 1109.7V1111.4M1273.4 1109.7H1276.2M1273.4 1111.4H1275.2M1276.2 1109.2V1110.1M1276.2 1109.2H1284.8M1276.2 1110.1H1280.9M1284.8 1109V1109.4M1284.8 1109H1302.6M1284.8 1109.4H1302.6M1280.9 1109.9V1110.3M1280.9 1109.9H1302.6M1280.9 1110.3H1302.6M1275.2 1111V1111.7M1275.2 1111H1293.1M1275.2 1111.7H1302.6M1293.1 1110.8V1111.2M1293.1 1110.8H1302.6M1293.1 1111.2H1302.6M1061.7 1112.7V1119.8M1061.7 1112.7H1130M1061.7 1119.8H1067.5M1130 1112.4V1113M1130 1112.4H1193.1M1130 1113H1302.6M1193.1 1112.1V1112.6M1193.1 1112.1H1302.6M1193.1 1112.6H1302.6M1067.5 1115.1V1124.5M1067.5 1115.1H1095M1067.5 1124.5H1069.4M1095 1113.8V1116.3M1095 1113.8H1226.5M1095 1116.3H1127.6M1226.5 1113.5V1114.2M1226.5 1113.5H1302.6M1226.5 1114.2H1274.9M1274.9 1113.9V1114.4M1274.9 1113.9H1302.6M1274.9 1114.4H1302.6M1127.6 1115.1V1117.6M1127.6 1115.1H1223.2M1127.6 1117.6H1146.1M1223.2 1114.8V1115.3M1223.2 1114.8H1302.6M1223.2 1115.3H1302.6M1146.1 1116.7V1118.4M1146.1 1116.7H1196.4M1146.1 1118.4H1302.6M1196.4 1116V1117.5M1196.4 1116H1276.6M1196.4 1117.5H1231.4M1276.6 1115.7V1116.2M1276.6 1115.7H1302.6M1276.6 1116.2H1302.6M1231.4 1117V1118M1231.4 1117H1249.5M1231.4 1118H1302.6M1249.5 1116.6V1117.3M1249.5 1116.6H1302.6M1249.5 1117.3H1282.2M1282.2 1117.1V1117.5M1282.2 1117.1H1302.6M1282.2 1117.5H1302.6M1069.4 1120V1129M1069.4 1120H1096.4M1069.4 1129H1071.6M1096.4 1119.4V1120.6M1096.4 1119.4H1136.9M1096.4 1120.6H1180.5M1136.9 1119.1V1119.8M1136.9 1119.1H1153.1M1136.9 1119.8H1302.6M1153.1 1118.9V1119.3M1153.1 1118.9H1302.6M1153.1 1119.3H1302.6M1180.5 1120.2V1121M1180.5 1120.2H1302.6M1180.5 1121H1198.7M1198.7 1120.7V1121.3M1198.7 1120.7H1302.6M1198.7 1121.3H1216.2M1216.2 1121.1V1121.6M1216.2 1121.1H1302.6M1216.2 1121.6H1302.6M1071.6 1123.6V1134.4M1071.6 1123.6H1105.3M1071.6 1134.4H1074M1105.3 1122.4V1124.8M1105.3 1122.4H1163.9M1105.3 1124.8H1143.9M1163.9 1122V1122.7M1163.9 1122H1302.6M1163.9 1122.7H1258.7M1258.7 1122.5V1122.9M1258.7 1122.5H1302.6M1258.7 1122.9H1302.6M1143.9 1123.6V1126M1143.9 1123.6H1189.1M1143.9 1126H1164.3M1189.1 1123.4V1123.8M1189.1 1123.4H1302.6M1189.1 1123.8H1302.6M1164.3 1125.1V1127M1164.3 1125.1H1195.2M1164.3 1127H1302.6M1195.2 1124.5V1125.7M1195.2 1124.5H1226.1M1195.2 1125.7H1221.3M1226.1 1124.3V1124.7M1226.1 1124.3H1302.6M1226.1 1124.7H1302.6M1221.3 1125.2V1126.2M1221.3 1125.2H1302.6M1221.3 1126.2H1230.7M1230.7 1125.8V1126.5M1230.7 1125.8H1258.4M1230.7 1126.5H1302.6M1258.4 1125.6V1126.1M1258.4 1125.6H1302.6M1258.4 1126.1H1302.6M1074 1129.8V1139.1M1074 1129.8H1250.7M1074 1139.1H1078.6M1250.7 1128.6V1131M1250.7 1128.6H1254M1250.7 1131H1258.3M1254 1127.9V1129.2M1254 1127.9H1287M1254 1129.2H1302.6M1287 1127.4V1128.4M1287 1127.4H1302.6M1287 1128.4H1290.2M1290.2 1128.1V1128.8M1290.2 1128.1H1294.4M1290.2 1128.8H1302.6M1294.4 1127.9V1128.3M1294.4 1127.9H1302.6M1294.4 1128.3H1302.6M1258.3 1130.2V1131.8M1258.3 1130.2H1260.9M1258.3 1131.8H1261.8M1260.9 1129.9V1130.6M1260.9 1129.9H1267.6M1260.9 1130.6H1302.6M1267.6 1129.7V1130.1M1267.6 1129.7H1302.6M1267.6 1130.1H1302.6M1261.8 1131.3V1132.3M1261.8 1131.3H1270.1M1261.8 1132.3H1302.6M1270.1 1131V1131.7M1270.1 1131H1302.6M1270.1 1131.7H1287.5M1287.5 1131.4V1131.9M1287.5 1131.4H1302.6M1287.5 1131.9H1302.6M1078.6 1134.7V1143.5M1078.6 1134.7H1093.4M1078.6 1143.5H1095.3M1093.4 1133.6V1135.7M1093.4 1133.6H1256.7M1093.4 1135.7H1166.7M1256.7 1133V1134.3M1256.7 1133H1294.4M1256.7 1134.3H1269.8M1294.4 1132.8V1133.2M1294.4 1132.8H1302.6M1294.4 1133.2H1302.6M1269.8 1133.9V1134.6M1269.8 1133.9H1281.9M1269.8 1134.6H1302.6M1281.9 1133.7V1134.1M1281.9 1133.7H1302.6M1281.9 1134.1H1302.6M1166.7 1135V1136.4M1166.7 1135H1302.6M1166.7 1136.4H1180.2M1180.2 1136.1V1136.8M1180.2 1136.1H1221.4M1180.2 1136.8H1302.6M1221.4 1135.7V1136.4M1221.4 1135.7H1283.7M1221.4 1136.4H1302.6M1283.7 1135.5V1135.9M1283.7 1135.5H1302.6M1283.7 1135.9H1302.6M1095.3 1138.9V1148.1M1095.3 1138.9H1128M1095.3 1148.1H1127.8M1128 1137.5V1140.3M1128 1137.5H1247.5M1128 1140.3H1156.4M1247.5 1137.3V1137.7M1247.5 1137.3H1302.6M1247.5 1137.7H1302.6M1156.4 1138.9V1141.7M1156.4 1138.9H1179.9M1156.4 1141.7H1169.2M1179.9 1138.4V1139.4M1179.9 1138.4H1211.1M1179.9 1139.4H1214.2M1211.1 1138.2V1138.6M1211.1 1138.2H1302.6M1211.1 1138.6H1302.6M1214.2 1139.1V1139.8M1214.2 1139.1H1302.6M1214.2 1139.8H1223.5M1223.5 1139.5V1140M1223.5 1139.5H1302.6M1223.5 1140H1302.6M1169.2 1141.1V1142.2M1169.2 1141.1H1269.2M1169.2 1142.2H1302.6M1269.2 1140.7V1141.6M1269.2 1140.7H1284.7M1269.2 1141.6H1272.3M1284.7 1140.4V1140.9M1284.7 1140.4H1302.6M1284.7 1140.9H1302.6M1272.3 1141.3V1141.8M1272.3 1141.3H1302.6M1272.3 1141.8H1302.6M1127.8 1145V1151.3M1127.8 1145H1278.7M1127.8 1151.3H1141.5M1278.7 1143.5V1146.4M1278.7 1143.5H1281.5M1278.7 1146.4H1281M1281.5 1143V1144M1281.5 1143H1284.5M1281.5 1144H1302.6M1284.5 1142.7V1143.3M1284.5 1142.7H1302.6M1284.5 1143.3H1289.5M1289.5 1143.1V1143.6M1289.5 1143.1H1302.6M1289.5 1143.6H1302.6M1281 1145.8V1147.1M1281 1145.8H1294.4M1281 1147.1H1282.4M1294.4 1145.3V1146.3M1294.4 1145.3H1295.9M1294.4 1146.3H1302.6M1295.9 1144.8V1145.8M1295.9 1144.8H1295.9M1295.9 1145.8H1302.6M1295.9 1144.5V1145.1M1295.9 1144.5H1302.6M1295.9 1145.1H1295.9M1295.9 1144.9V1145.4M1295.9 1144.9H1302.6M1295.9 1145.4H1302.6M1282.4 1146.7V1147.4M1282.4 1146.7H1302.6M1282.4 1147.4H1285.3M1285.3 1147.2V1147.6M1285.3 1147.2H1302.6M1285.3 1147.6H1302.6M1141.5 1149.9V1152.8M1141.5 1149.9H1171.9M1141.5 1152.8H1148.2M1171.9 1148.6V1151.1M1171.9 1148.6H1240.7M1171.9 1151.1H1224.7M1240.7 1148.3V1149M1240.7 1148.3H1249.7M1240.7 1149H1302.6M1249.7 1148.1V1148.5M1249.7 1148.1H1302.6M1249.7 1148.5H1302.6M1224.7 1150.2V1152.1M1224.7 1150.2H1234M1224.7 1152.1H1302.6M1234 1149.6V1150.7M1234 1149.6H1279.6M1234 1150.7H1245.3M1279.6 1149.4V1149.9M1279.6 1149.4H1302.6M1279.6 1149.9H1302.6M1245.3 1150.3V1151.1M1245.3 1150.3H1302.6M1245.3 1151.1H1248.2M1248.2 1150.8V1151.4M1248.2 1150.8H1302.6M1248.2 1151.4H1251.1M1251.1 1151.2V1151.7M1251.1 1151.2H1302.6M1251.1 1151.7H1302.6M1148.2 1152.6V1153M1148.2 1152.6H1302.6M1148.2 1153H1302.6M948.4 1157.1V1310.2M948.4 1157.1H962M948.4 1310.2H953.5M962 1154.7V1160.3M962 1154.7H1212.1M962 1160.3H1122.9M1212.1 1154.2V1155.1M1212.1 1154.2H1217.7M1212.1 1155.1H1249.3M1217.7 1154V1154.5M1217.7 1154H1302.6M1217.7 1154.5H1302.6M1249.3 1154.9V1155.4M1249.3 1154.9H1302.6M1249.3 1155.4H1302.6M1122.9 1157.2V1163.4M1122.9 1157.2H1181.1M1122.9 1163.4H1136.8M1181.1 1156.4V1158M1181.1 1156.4H1210.1M1181.1 1158H1224M1210.1 1156V1156.7M1210.1 1156H1248.3M1210.1 1156.7H1302.6M1248.3 1155.8V1156.3M1248.3 1155.8H1302.6M1248.3 1156.3H1302.6M1224 1157.4V1158.6M1224 1157.4H1234.2M1224 1158.6H1240.9M1234.2 1157.2V1157.6M1234.2 1157.2H1302.6M1234.2 1157.6H1302.6M1240.9 1158.3V1159M1240.9 1158.3H1274.3M1240.9 1159H1302.6M1274.3 1158.1V1158.5M1274.3 1158.1H1302.6M1274.3 1158.5H1302.6M1136.8 1160.3V1166.5M1136.8 1160.3H1271.7M1136.8 1166.5H1152M1271.7 1159.6V1160.9M1271.7 1159.6H1282.4M1271.7 1160.9H1274.9M1282.4 1159.4V1159.9M1282.4 1159.4H1302.6M1282.4 1159.9H1302.6M1274.9 1160.3V1161.5M1274.9 1160.3H1302.6M1274.9 1161.5H1277.7M1277.7 1161V1162M1277.7 1161H1294.4M1277.7 1162H1279.7M1294.4 1160.8V1161.2M1294.4 1160.8H1302.6M1294.4 1161.2H1302.6M1279.7 1161.7V1162.3M1279.7 1161.7H1302.6M1279.7 1162.3H1282.4M1282.4 1162.1V1162.6M1282.4 1162.1H1302.6M1282.4 1162.6H1302.6M1152 1163.7V1169.3M1152 1163.7H1285.7M1152 1169.3H1163M1285.7 1163V1164.4M1285.7 1163H1302.6M1285.7 1164.4H1288.8M1288.8 1163.7V1165M1288.8 1163.7H1294.4M1288.8 1165H1290.9M1294.4 1163.5V1163.9M1294.4 1163.5H1302.6M1294.4 1163.9H1302.6M1290.9 1164.6V1165.5M1290.9 1164.6H1293.4M1290.9 1165.5H1292.3M1293.4 1164.4V1164.8M1293.4 1164.4H1302.6M1293.4 1164.8H1302.6M1292.3 1165.3V1165.7M1292.3 1165.3H1302.6M1292.3 1165.7H1302.6M1163 1166.7V1171.9M1163 1166.7H1258.5M1163 1171.9H1174.3M1258.5 1166.2V1167.1M1258.5 1166.2H1302.6M1258.5 1167.1H1265.4M1265.4 1166.6V1167.6M1265.4 1166.6H1302.6M1265.4 1167.6H1268.8M1268.8 1167.3V1168M1268.8 1167.3H1280.5M1268.8 1168H1302.6M1280.5 1167.1V1167.5M1280.5 1167.1H1302.6M1280.5 1167.5H1302.6M1174.3 1169V1174.8M1174.3 1169H1204.3M1174.3 1174.8H1186.4M1204.3 1168.4V1169.6M1204.3 1168.4H1302.6M1204.3 1169.6H1233M1233 1169.1V1170M1233 1169.1H1262.8M1233 1170H1246.7M1262.8 1168.9V1169.3M1262.8 1168.9H1302.6M1262.8 1169.3H1302.6M1246.7 1169.8V1170.2M1246.7 1169.8H1302.6M1246.7 1170.2H1302.6M1186.4 1173.2V1176.4M1186.4 1173.2H1224.8M1186.4 1176.4H1195.6M1224.8 1172.5V1173.8M1224.8 1172.5H1242M1224.8 1173.8H1302.6M1242 1171.6V1173.4M1242 1171.6H1280.9M1242 1173.4H1302.6M1280.9 1170.9V1172.3M1280.9 1170.9H1294M1280.9 1172.3H1284.4M1294 1170.7V1171.1M1294 1170.7H1302.6M1294 1171.1H1302.6M1284.4 1171.8V1172.7M1284.4 1171.8H1292.6M1284.4 1172.7H1285.7M1292.6 1171.6V1172M1292.6 1171.6H1302.6M1292.6 1172H1302.6M1285.7 1172.5V1172.9M1285.7 1172.5H1302.6M1285.7 1172.9H1302.6M1195.6 1175.8V1177M1195.6 1175.8H1270.6M1195.6 1177H1302.6M1270.6 1175.1V1176.5M1270.6 1175.1H1276.9M1270.6 1176.5H1302.6M1276.9 1174.5V1175.8M1276.9 1174.5H1289.8M1276.9 1175.8H1280.2M1289.8 1174.3V1174.7M1289.8 1174.3H1302.6M1289.8 1174.7H1302.6M1280.2 1175.4V1176.1M1280.2 1175.4H1287.5M1280.2 1176.1H1302.6M1287.5 1175.2V1175.6M1287.5 1175.2H1302.6M1287.5 1175.6H1302.6M953.5 1221.3V1400.5M953.5 1221.3H1077.2M953.5 1400.5H957.9M1077.2 1188.9V1256.2M1077.2 1188.9H1141.4M1077.2 1256.2H1081.6M1141.4 1178.3V1199.8M1141.4 1178.3H1165.4M1141.4 1199.8H1153.4M1165.4 1177.7V1180.2M1165.4 1177.7H1270.6M1165.4 1180.2H1182.6M1270.6 1177.5V1178M1270.6 1177.5H1302.6M1270.6 1178H1302.6M1182.6 1179V1181.4M1182.6 1179H1242.3M1182.6 1181.4H1192M1242.3 1178.6V1179.3M1242.3 1178.6H1258.8M1242.3 1179.3H1302.6M1258.8 1178.4V1178.9M1258.8 1178.4H1302.6M1258.8 1178.9H1302.6M1192 1180.3V1182.6M1192 1180.3H1242.5M1192 1182.6H1195.4M1242.5 1180V1180.7M1242.5 1180H1290M1242.5 1180.7H1302.6M1290 1179.8V1180.2M1290 1179.8H1302.6M1290 1180.2H1302.6M1195.4 1181.3V1183.8M1195.4 1181.3H1285.9M1195.4 1183.8H1198.3M1285.9 1181.1V1181.6M1285.9 1181.1H1302.6M1285.9 1181.6H1302.6M1198.3 1182.6V1185M1198.3 1182.6H1263.9M1198.3 1185H1200.4M1263.9 1182.2V1182.9M1263.9 1182.2H1273.5M1263.9 1182.9H1302.6M1273.5 1182V1182.5M1273.5 1182H1302.6M1273.5 1182.5H1302.6M1200.4 1183.7V1186.3M1200.4 1183.7H1259.1M1200.4 1186.3H1204M1259.1 1183.4V1184M1259.1 1183.4H1302.6M1259.1 1184H1283.8M1283.8 1183.8V1184.3M1283.8 1183.8H1302.6M1283.8 1184.3H1302.6M1204 1184.9V1187.7M1204 1184.9H1218M1204 1187.7H1207.1M1218 1184.7V1185.2M1218 1184.7H1302.6M1218 1185.2H1302.6M1207.1 1186.2V1189.2M1207.1 1186.2H1261.7M1207.1 1189.2H1210.3M1261.7 1185.8V1186.5M1261.7 1185.8H1276.5M1261.7 1186.5H1302.6M1276.5 1185.6V1186.1M1276.5 1185.6H1302.6M1276.5 1186.1H1302.6M1210.3 1187.5V1190.9M1210.3 1187.5H1282.1M1210.3 1190.9H1215.1M1282.1 1187.2V1187.9M1282.1 1187.2H1287.2M1282.1 1187.9H1302.6M1287.2 1187V1187.4M1287.2 1187H1302.6M1287.2 1187.4H1302.6M1215.1 1189.1V1192.7M1215.1 1189.1H1254.1M1215.1 1192.7H1220.1M1254.1 1188.6V1189.6M1254.1 1188.6H1263.8M1254.1 1189.6H1266.3M1263.8 1188.3V1188.8M1263.8 1188.3H1302.6M1263.8 1188.8H1302.6M1266.3 1189.2V1189.9M1266.3 1189.2H1302.6M1266.3 1189.9H1269.4M1269.4 1189.7V1190.1M1269.4 1189.7H1302.6M1269.4 1190.1H1302.6M1220.1 1191.3V1194.1M1220.1 1191.3H1241.7M1220.1 1194.1H1224.3M1241.7 1190.8V1191.7M1241.7 1190.8H1270.3M1241.7 1191.7H1262.2M1270.3 1190.6V1191M1270.3 1190.6H1302.6M1270.3 1191H1302.6M1262.2 1191.5V1191.9M1262.2 1191.5H1302.6M1262.2 1191.9H1302.6M1224.3 1192.8V1195.4M1224.3 1192.8H1231.1M1224.3 1195.4H1229.4M1231.1 1192.4V1193.2M1231.1 1192.4H1302.6M1231.1 1193.2H1243.3M1243.3 1192.8V1193.5M1243.3 1192.8H1302.6M1243.3 1193.5H1246.1M1246.1 1193.3V1193.7M1246.1 1193.3H1302.6M1246.1 1193.7H1302.6M1229.4 1194.9V1196M1229.4 1194.9H1252.3M1229.4 1196H1302.6M1252.3 1194.4V1195.3M1252.3 1194.4H1281.5M1252.3 1195.3H1269M1281.5 1194.2V1194.6M1281.5 1194.2H1302.6M1281.5 1194.6H1302.6M1269 1195.1V1195.5M1269 1195.1H1302.6M1269 1195.5H1302.6M1153.4 1198.6V1205.4M1153.4 1198.6H1160.4M1153.4 1205.4H1157.5M1160.4 1198V1199.1M1160.4 1198H1171.7M1160.4 1199.1H1196.5M1171.7 1197.6V1198.4M1171.7 1197.6H1177.6M1171.7 1198.4H1302.6M1177.6 1197.2V1197.9M1177.6 1197.2H1206.1M1177.6 1197.9H1302.6M1206.1 1197V1197.5M1206.1 1197H1302.6M1206.1 1197.5H1302.6M1196.5 1198.8V1199.5M1196.5 1198.8H1302.6M1196.5 1199.5H1200.3M1200.3 1199.3V1199.7M1200.3 1199.3H1302.6M1200.3 1199.7H1302.6M1157.5 1201.4V1209.3M1157.5 1201.4H1230.8M1157.5 1209.3H1159.4M1230.8 1200.7V1202.1M1230.8 1200.7H1238.7M1230.8 1202.1H1242.3M1238.7 1200.4V1201.1M1238.7 1200.4H1276.2M1238.7 1201.1H1302.6M1276.2 1200.2V1200.6M1276.2 1200.2H1302.6M1276.2 1200.6H1302.6M1242.3 1201.7V1202.4M1242.3 1201.7H1256.6M1242.3 1202.4H1302.6M1256.6 1201.5V1202M1256.6 1201.5H1302.6M1256.6 1202H1302.6M1159.4 1204.5V1214.2M1159.4 1204.5H1282.7M1159.4 1214.2H1172.6M1282.7 1203.1V1205.9M1282.7 1203.1H1287.7M1282.7 1205.9H1284.2M1287.7 1202.9V1203.3M1287.7 1202.9H1302.6M1287.7 1203.3H1302.6M1284.2 1204.1V1207.8M1284.2 1204.1H1294.4M1284.2 1207.8H1287M1294.4 1203.8V1204.4M1294.4 1203.8H1302.6M1294.4 1204.4H1294.4M1294.4 1204.2V1204.7M1294.4 1204.2H1302.6M1294.4 1204.7H1302.6M1287 1206.8V1208.7M1287 1206.8H1290.6M1287 1208.7H1302.6M1290.6 1206V1207.6M1290.6 1206H1294.4M1290.6 1207.6H1293.4M1294.4 1205.5V1206.5M1294.4 1205.5H1295.9M1294.4 1206.5H1302.6M1295.9 1205.1V1205.8M1295.9 1205.1H1302.6M1295.9 1205.8H1295.9M1295.9 1205.6V1206M1295.9 1205.6H1302.6M1295.9 1206H1302.6M1293.4 1207.2V1208.1M1293.4 1207.2H1295.9M1293.4 1208.1H1293.4M1295.9 1206.9V1207.4M1295.9 1206.9H1302.6M1295.9 1207.4H1302.6M1293.4 1207.8V1208.3M1293.4 1207.8H1302.6M1293.4 1208.3H1302.6M1172.6 1210V1218.4M1172.6 1210H1183.4M1172.6 1218.4H1187.4M1183.4 1209.4V1210.6M1183.4 1209.4H1234.9M1183.4 1210.6H1193.2M1234.9 1209.2V1209.6M1234.9 1209.2H1302.6M1234.9 1209.6H1302.6M1193.2 1210.1V1211M1193.2 1210.1H1302.6M1193.2 1211H1197M1197 1210.5V1211.6M1197 1210.5H1302.6M1197 1211.6H1199.7M1199.7 1211.2V1211.9M1199.7 1211.2H1250.7M1199.7 1211.9H1302.6M1250.7 1211V1211.4M1250.7 1211H1302.6M1250.7 1211.4H1302.6M1187.4 1213.3V1223.5M1187.4 1213.3H1270.8M1187.4 1223.5H1192.2M1270.8 1212.3V1214.2M1270.8 1212.3H1302.6M1270.8 1214.2H1273.5M1273.5 1213.4V1215M1273.5 1213.4H1276M1273.5 1215H1275.8M1276 1213V1213.7M1276 1213H1282.8M1276 1213.7H1302.6M1282.8 1212.8V1213.2M1282.8 1212.8H1302.6M1282.8 1213.2H1302.6M1275.8 1214.4V1215.6M1275.8 1214.4H1291.4M1275.8 1215.6H1277.7M1291.4 1214.2V1214.6M1291.4 1214.2H1302.6M1291.4 1214.6H1302.6M1277.7 1215.3V1216M1277.7 1215.3H1293.8M1277.7 1216H1302.6M1293.8 1215.1V1215.5M1293.8 1215.1H1302.6M1293.8 1215.5H1302.6M1192.2 1217.2V1229.8M1192.2 1217.2H1272.4M1192.2 1229.8H1200M1272.4 1216.4V1218M1272.4 1216.4H1302.6M1272.4 1218H1275.3M1275.3 1217.1V1219M1275.3 1217.1H1294.4M1275.3 1219H1277.3M1294.4 1216.9V1217.3M1294.4 1216.9H1302.6M1294.4 1217.3H1302.6M1277.3 1218V1219.9M1277.3 1218H1294.1M1277.3 1219.9H1280.8M1294.1 1217.8V1218.2M1294.1 1217.8H1302.6M1294.1 1218.2H1302.6M1280.8 1218.9V1220.9M1280.8 1218.9H1283.9M1280.8 1220.9H1283.7M1283.9 1218.7V1219.1M1283.9 1218.7H1302.6M1283.9 1219.1H1302.6M1283.7 1219.9V1222M1283.7 1219.9H1288.1M1283.7 1222H1286.3M1288.1 1219.6V1220.2M1288.1 1219.6H1302.6M1288.1 1220.2H1290.6M1290.6 1220V1220.5M1290.6 1220H1302.6M1290.6 1220.5H1302.6M1286.3 1221.5V1222.5M1286.3 1221.5H1294.4M1286.3 1222.5H1288.9M1294.4 1221.1V1221.8M1294.4 1221.1H1295.9M1294.4 1221.8H1302.6M1295.9 1220.9V1221.4M1295.9 1220.9H1302.6M1295.9 1221.4H1302.6M1288.9 1222.3V1222.7M1288.9 1222.3H1302.6M1288.9 1222.7H1302.6M1200 1226V1233.6M1200 1226H1225M1200 1233.6H1209.2M1225 1224.2V1227.7M1225 1224.2H1277.2M1225 1227.7H1239.7M1277.2 1223.4V1225.1M1277.2 1223.4H1280.9M1277.2 1225.1H1280.4M1280.9 1223.2V1223.6M1280.9 1223.2H1302.6M1280.9 1223.6H1302.6M1280.4 1224.4V1225.8M1280.4 1224.4H1284.7M1280.4 1225.8H1282.2M1284.7 1224.1V1224.8M1284.7 1224.1H1302.6M1284.7 1224.8H1290.8M1290.8 1224.5V1225M1290.8 1224.5H1302.6M1290.8 1225H1302.6M1282.2 1225.4V1226.1M1282.2 1225.4H1302.6M1282.2 1226.1H1285.2M1285.2 1225.9V1226.3M1285.2 1225.9H1302.6M1285.2 1226.3H1302.6M1239.7 1227V1228.4M1239.7 1227H1253M1239.7 1228.4H1242.7M1253 1226.8V1227.2M1253 1226.8H1302.6M1253 1227.2H1302.6M1242.7 1227.9V1228.8M1242.7 1227.9H1272.3M1242.7 1228.8H1244.3M1272.3 1227.7V1228.1M1272.3 1227.7H1302.6M1272.3 1228.1H1302.6M1244.3 1228.6V1229M1244.3 1228.6H1302.6M1244.3 1229H1302.6M1209.2 1230.1V1237.2M1209.2 1230.1H1275.2M1209.2 1237.2H1218.8M1275.2 1229.7V1230.4M1275.2 1229.7H1294.4M1275.2 1230.4H1302.6M1294.4 1229.5V1229.9M1294.4 1229.5H1302.6M1294.4 1229.9H1302.6M1218.8 1231.9V1242.4M1218.8 1231.9H1294.4M1218.8 1242.4H1227.4M1294.4 1230.8V1233M1294.4 1230.8H1302.6M1294.4 1233H1294.4M1294.4 1231.9V1234.2M1294.4 1231.9H1295.9M1294.4 1234.2H1294.4M1295.9 1231.5V1232.2M1295.9 1231.5H1295.9M1295.9 1232.2H1302.6M1295.9 1231.3V1231.8M1295.9 1231.3H1302.6M1295.9 1231.8H1302.6M1294.4 1233.2V1235.1M1294.4 1233.2H1295.9M1294.4 1235.1H1294.4M1295.9 1232.9V1233.6M1295.9 1232.9H1295.9M1295.9 1233.6H1302.6M1295.9 1232.7V1233.1M1295.9 1232.7H1302.6M1295.9 1233.1H1302.6M1294.4 1234.2V1236M1294.4 1234.2H1295.9M1294.4 1236H1294.4M1295.9 1234V1234.5M1295.9 1234H1302.6M1295.9 1234.5H1302.6M1294.4 1235.5V1236.5M1294.4 1235.5H1295.9M1294.4 1236.5H1294.4M1295.9 1235.1V1235.8M1295.9 1235.1H1295.9M1295.9 1235.8H1302.6M1295.9 1234.9V1235.4M1295.9 1234.9H1302.6M1295.9 1235.4H1302.6M1294.4 1236.3V1236.7M1294.4 1236.3H1302.6M1294.4 1236.7H1302.6M1227.4 1238.6V1246.1M1227.4 1238.6H1252.3M1227.4 1246.1H1236.6M1252.3 1237.2V1240.1M1252.3 1237.2H1302.6M1252.3 1240.1H1267.1M1267.1 1239.5V1240.8M1267.1 1239.5H1292M1267.1 1240.8H1302.6M1292 1238.6V1240.3M1292 1238.6H1294.5M1292 1240.3H1302.6M1294.5 1237.8V1239.4M1294.5 1237.8H1295.9M1294.5 1239.4H1294.5M1295.9 1237.6V1238.1M1295.9 1237.6H1302.6M1295.9 1238.1H1302.6M1294.5 1238.9V1239.9M1294.5 1238.9H1295.9M1294.5 1239.9H1302.6M1295.9 1238.5V1239.2M1295.9 1238.5H1302.6M1295.9 1239.2H1295.9M1295.9 1239V1239.4M1295.9 1239H1302.6M1295.9 1239.4H1302.6M1236.6 1244.2V1248M1236.6 1244.2H1288.5M1236.6 1248H1302.6M1288.5 1242.4V1246.1M1288.5 1242.4H1294.4M1288.5 1246.1H1291.3M1294.4 1241.5V1243.3M1294.4 1241.5H1295.9M1294.4 1243.3H1294.4M1295.9 1241.2V1241.7M1295.9 1241.2H1302.6M1295.9 1241.7H1302.6M1294.4 1242.6V1243.9M1294.4 1242.6H1295.9M1294.4 1243.9H1302.6M1295.9 1242.1V1243.1M1295.9 1242.1H1302.6M1295.9 1243.1H1295.9M1295.9 1242.8V1243.5M1295.9 1242.8H1295.9M1295.9 1243.5H1302.6M1295.9 1242.6V1243M1295.9 1242.6H1302.6M1295.9 1243H1302.6M1291.3 1245.1V1247M1291.3 1245.1H1293.8M1291.3 1247H1293.3M1293.8 1244.6V1245.5M1293.8 1244.6H1295.9M1293.8 1245.5H1293.8M1295.9 1244.4V1244.8M1295.9 1244.4H1302.6M1295.9 1244.8H1302.6M1293.8 1245.3V1245.7M1293.8 1245.3H1302.6M1293.8 1245.7H1302.6M1293.3 1246.5V1247.5M1293.3 1246.5H1295.8M1293.3 1247.5H1302.6M1295.8 1246.2V1246.9M1295.8 1246.2H1302.6M1295.8 1246.9H1295.8M1295.8 1246.6V1247.1M1295.8 1246.6H1302.6M1295.8 1247.1H1302.6M1081.6 1249.2V1256.2M1081.6 1249.2H1101.8M1081.6 1255.4H1083.1M1101.8 1249V1249.4M1101.8 1249H1302.6M1101.8 1249.4H1302.6M1083.1 1250.7V1260.2M1083.1 1250.7H1268.3M1083.1 1260.2H1098.8M1268.3 1249.9V1251.5M1268.3 1249.9H1302.6M1268.3 1251.5H1270.6M1270.6 1250.7V1252.3M1270.6 1250.7H1279.2M1270.6 1252.3H1272.8M1279.2 1250.3V1251M1279.2 1250.3H1302.6M1279.2 1251H1289.6M1289.6 1250.8V1251.2M1289.6 1250.8H1302.6M1289.6 1251.2H1302.6M1272.8 1251.7V1252.8M1272.8 1251.7H1302.6M1272.8 1252.8H1275.3M1275.3 1252.1V1253.5M1275.3 1252.1H1302.6M1275.3 1253.5H1277M1277 1252.8V1254.2M1277 1252.8H1287.7M1277 1254.2H1278.5M1287.7 1252.6V1253M1287.7 1252.6H1302.6M1287.7 1253H1302.6M1278.5 1253.7V1254.6M1278.5 1253.7H1287M1278.5 1254.6H1280.1M1287 1253.5V1253.9M1287 1253.5H1302.6M1287 1253.9H1302.6M1280.1 1254.4V1254.8M1280.1 1254.4H1302.6M1280.1 1254.8H1302.6M1098.8 1256.5V1263.9M1098.8 1256.5H1241.5M1098.8 1263.9H1105.3M1241.5 1255.5V1257.5M1241.5 1255.5H1244.3M1241.5 1257.5H1252.1M1244.3 1255.3V1255.7M1244.3 1255.3H1302.6M1244.3 1255.7H1302.6M1252.1 1256.4V1258.6M1252.1 1256.4H1285.7M1252.1 1258.6H1258.4M1285.7 1256.2V1256.6M1285.7 1256.2H1302.6M1285.7 1256.6H1302.6M1258.4 1257.7V1259.4M1258.4 1257.7H1270.5M1258.4 1259.4H1262.3M1270.5 1257.3V1258.2M1270.5 1257.3H1293.9M1270.5 1258.2H1278.3M1293.9 1257.1V1257.5M1293.9 1257.1H1302.6M1293.9 1257.5H1302.6M1278.3 1258V1258.4M1278.3 1258H1302.6M1278.3 1258.4H1302.6M1262.3 1258.9V1259.9M1262.3 1258.9H1302.6M1262.3 1259.9H1264.1M1264.1 1259.5V1260.2M1264.1 1259.5H1292.8M1264.1 1260.2H1302.6M1292.8 1259.3V1259.8M1292.8 1259.3H1302.6M1292.8 1259.8H1302.6M1105.3 1261.5V1266.2M1105.3 1261.5H1241.7M1105.3 1266.2H1109.1M1241.7 1260.9V1262.1M1241.7 1260.9H1250.3M1241.7 1262.1H1263.6M1250.3 1260.7V1261.1M1250.3 1260.7H1302.6M1250.3 1261.1H1302.6M1263.6 1261.8V1262.5M1263.6 1261.8H1279.2M1263.6 1262.5H1302.6M1279.2 1261.6V1262M1279.2 1261.6H1302.6M1279.2 1262H1302.6M1109.1 1262.9V1269.6M1109.1 1262.9H1302.6M1109.1 1269.6H1111.2M1111.2 1264.3V1274.9M1111.2 1264.3H1121.8M1111.2 1274.9H1114.6M1121.8 1263.4V1265.2M1121.8 1263.4H1302.6M1121.8 1265.2H1130.5M1130.5 1264V1266.4M1130.5 1264H1232.1M1130.5 1266.4H1137.1M1232.1 1263.8V1264.3M1232.1 1263.8H1302.6M1232.1 1264.3H1302.6M1137.1 1265.3V1267.5M1137.1 1265.3H1223M1137.1 1267.5H1142.3M1223 1264.9V1265.6M1223 1264.9H1260.7M1223 1265.6H1302.6M1260.7 1264.7V1265.1M1260.7 1264.7H1302.6M1260.7 1265.1H1302.6M1142.3 1266.6V1268.5M1142.3 1266.6H1172.7M1142.3 1268.5H1149.7M1172.7 1266.3V1266.9M1172.7 1266.3H1178.9M1172.7 1266.9H1302.6M1178.9 1266V1266.5M1178.9 1266H1302.6M1178.9 1266.5H1302.6M1149.7 1268V1269M1149.7 1268H1232.9M1149.7 1269H1154.8M1232.9 1267.6V1268.3M1232.9 1267.6H1278.3M1232.9 1268.3H1302.6M1278.3 1267.4V1267.8M1278.3 1267.4H1302.6M1278.3 1267.8H1302.6M1154.8 1268.7V1269.2M1154.8 1268.7H1302.6M1154.8 1269.2H1302.6M1114.6 1270.8V1279M1114.6 1270.8H1173.6M1114.6 1279H1120.3M1173.6 1269.6V1271.9M1173.6 1269.6H1302.6M1173.6 1271.9H1197.9M1197.9 1271V1272.8M1197.9 1271H1224.3M1197.9 1272.8H1302.6M1224.3 1270.3V1271.7M1224.3 1270.3H1258.5M1224.3 1271.7H1252.3M1258.5 1270.1V1270.5M1258.5 1270.1H1302.6M1258.5 1270.5H1302.6M1252.3 1271.2V1272.1M1252.3 1271.2H1272.8M1252.3 1272.1H1262.6M1272.8 1271V1271.4M1272.8 1271H1302.6M1272.8 1271.4H1302.6M1262.6 1271.9V1272.3M1262.6 1271.9H1302.6M1262.6 1272.3H1302.6M1120.3 1274.6V1283.4M1120.3 1274.6H1282M1120.3 1283.4H1125.8M1282 1273.2V1275.9M1282 1273.2H1302.6M1282 1275.9H1284.3M1284.3 1274.6V1277.3M1284.3 1274.6H1288.5M1284.3 1277.3H1287.2M1288.5 1273.9V1275.2M1288.5 1273.9H1292.2M1288.5 1275.2H1291.6M1292.2 1273.7V1274.1M1292.2 1273.7H1302.6M1292.2 1274.1H1302.6M1291.6 1274.8V1275.7M1291.6 1274.8H1294.4M1291.6 1275.7H1293.2M1294.4 1274.6V1275M1294.4 1274.6H1302.6M1294.4 1275H1302.6M1293.2 1275.5V1275.9M1293.2 1275.5H1302.6M1293.2 1275.9H1302.6M1287.2 1276.9V1277.7M1287.2 1276.9H1292.9M1287.2 1277.7H1302.6M1292.9 1276.6V1277.3M1292.9 1276.6H1295.4M1292.9 1277.3H1302.6M1295.4 1276.4V1276.8M1295.4 1276.4H1302.6M1295.4 1276.8H1302.6M1125.8 1279.1V1287.7M1125.8 1279.1H1237.1M1125.8 1287.7H1142.3M1237.1 1278.2V1280.1M1237.1 1278.2H1302.6M1237.1 1280.1H1240M1240 1279.3V1280.9M1240 1279.3H1260.3M1240 1280.9H1302.6M1260.3 1278.6V1280M1260.3 1278.6H1302.6M1260.3 1280H1263.3M1263.3 1279.6V1280.4M1263.3 1279.6H1266.9M1263.3 1280.4H1302.6M1266.9 1279.3V1280M1266.9 1279.3H1277.2M1266.9 1280H1302.6M1277.2 1279.1V1279.5M1277.2 1279.1H1302.6M1277.2 1279.5H1302.6M1142.3 1283.8V1291.6M1142.3 1283.8H1148.8M1142.3 1291.6H1164.2M1148.8 1282.5V1285.1M1148.8 1282.5H1241.8M1148.8 1285.1H1197M1241.8 1281.9V1283.2M1241.8 1281.9H1260.5M1241.8 1283.2H1261.3M1260.5 1281.5V1282.2M1260.5 1281.5H1263M1260.5 1282.2H1302.6M1263 1281.3V1281.7M1263 1281.3H1302.6M1263 1281.7H1302.6M1261.3 1282.9V1283.5M1261.3 1282.9H1268.6M1261.3 1283.5H1302.6M1268.6 1282.6V1283.1M1268.6 1282.6H1302.6M1268.6 1283.1H1302.6M1197 1284.3V1285.9M1197 1284.3H1203.7M1197 1285.9H1209.2M1203.7 1284V1284.7M1203.7 1284H1302.6M1203.7 1284.7H1268.4M1268.4 1284.4V1284.9M1268.4 1284.4H1302.6M1268.4 1284.9H1302.6M1209.2 1285.6V1286.2M1209.2 1285.6H1287.5M1209.2 1286.2H1302.6M1287.5 1285.3V1285.8M1287.5 1285.3H1302.6M1287.5 1285.8H1302.6M1164.2 1288.6V1294.6M1164.2 1288.6H1204.2M1164.2 1294.6H1182.5M1204.2 1287.7V1289.5M1204.2 1287.7H1251.9M1204.2 1289.5H1224.9M1251.9 1287.2V1288.3M1251.9 1287.2H1263.8M1251.9 1288.3H1275.3M1263.8 1286.9V1287.6M1263.8 1286.9H1284.9M1263.8 1287.6H1302.6M1284.9 1286.7V1287.1M1284.9 1286.7H1302.6M1284.9 1287.1H1302.6M1275.3 1288V1288.5M1275.3 1288H1302.6M1275.3 1288.5H1302.6M1224.9 1289.1V1289.8M1224.9 1289.1H1291.8M1224.9 1289.8H1302.6M1291.8 1288.9V1289.4M1291.8 1288.9H1302.6M1291.8 1289.4H1302.6M1182.5 1292.8V1296.4M1182.5 1292.8H1187M1182.5 1296.4H1195.6M1187 1291.2V1294.3M1187 1291.2H1216.2M1187 1294.3H1210.8M1216.2 1290.8V1291.6M1216.2 1290.8H1238.4M1216.2 1291.6H1302.6M1238.4 1290.5V1291.2M1238.4 1290.5H1252.5M1238.4 1291.2H1302.6M1252.5 1290.3V1290.7M1252.5 1290.3H1302.6M1252.5 1290.7H1302.6M1210.8 1293.9V1294.8M1210.8 1293.9H1228M1210.8 1294.8H1302.6M1228 1293.4V1294.3M1228 1293.4H1266.6M1228 1294.3H1302.6M1266.6 1293V1293.9M1266.6 1293H1275.8M1266.6 1293.9H1302.6M1275.8 1292.6V1293.4M1275.8 1292.6H1282.3M1275.8 1293.4H1302.6M1282.3 1292.3V1293M1282.3 1292.3H1294.4M1282.3 1293H1302.6M1294.4 1292.1V1292.5M1294.4 1292.1H1302.6M1294.4 1292.5H1302.6M1195.6 1295.7V1297M1195.6 1295.7H1285.5M1195.6 1297H1302.6M1285.5 1295.2V1296.2M1285.5 1295.2H1302.6M1285.5 1296.2H1288M1288 1295.9V1296.6M1288 1295.9H1294.4M1288 1296.6H1302.6M1294.4 1295.7V1296.1M1294.4 1295.7H1302.6M1294.4 1296.1H1302.6M957.9 1316V1484.9M957.9 1316H962M957.9 1484.9H978.4M962 1298.2V1334.1M962 1298.2H1131M962 1334.1H1079.2M1131 1297.8V1299.1M1131 1297.8H1264M1131 1299.1H1156.8M1264 1297.6V1298M1264 1297.6H1302.6M1264 1298H1302.6M1156.8 1298.5V1299.7M1156.8 1298.5H1302.6M1156.8 1299.7H1165.3M1165.3 1299.1V1300.3M1165.3 1299.1H1276.3M1165.3 1300.3H1177M1276.3 1298.9V1299.3M1276.3 1298.9H1302.6M1276.3 1299.3H1302.6M1177 1300V1300.6M1177 1300H1279.9M1177 1300.6H1302.6M1279.9 1299.7V1300.2M1279.9 1299.7H1302.6M1279.9 1300.2H1302.6M1079.2 1300.6V1365.6M1079.2 1300.6H1090.9M1079.2 1365.6H1158.5M1090.9 1300.6V1313.8M1090.9 1302.8H1155.7M1090.9 1313.8H1144.8M1155.7 1301.7V1303.9M1155.7 1301.7H1261.3M1155.7 1303.9H1176.4M1261.3 1301.5V1302M1261.3 1301.5H1302.6M1261.3 1302H1302.6M1176.4 1302.6V1305.1M1176.4 1302.6H1224.4M1176.4 1305.1H1191.9M1224.4 1302.4V1302.9M1224.4 1302.4H1302.6M1224.4 1302.9H1302.6M1191.9 1304V1306.2M1191.9 1304H1225.7M1191.9 1306.2H1201.1M1225.7 1303.5V1304.4M1225.7 1303.5H1244.6M1225.7 1304.4H1251.5M1244.6 1303.3V1303.8M1244.6 1303.3H1302.6M1244.6 1303.8H1302.6M1251.5 1304.2V1304.7M1251.5 1304.2H1302.6M1251.5 1304.7H1302.6M1201.1 1305.3V1307.1M1201.1 1305.3H1217M1201.1 1307.1H1212.8M1217 1305.1V1305.6M1217 1305.1H1302.6M1217 1305.6H1302.6M1212.8 1306.3V1307.9M1212.8 1306.3H1237.7M1212.8 1307.9H1222.3M1237.7 1306V1306.7M1237.7 1306H1302.6M1237.7 1306.7H1277.4M1277.4 1306.5V1306.9M1277.4 1306.5H1302.6M1277.4 1306.9H1302.6M1222.3 1307.6V1308.3M1222.3 1307.6H1267.6M1222.3 1308.3H1302.6M1267.6 1307.4V1307.8M1267.6 1307.4H1302.6M1267.6 1307.8H1302.6M1144.8 1311.8V1315.8M1144.8 1311.8H1254.7M1144.8 1315.8H1148.3M1254.7 1310.3V1313.3M1254.7 1310.3H1267.6M1254.7 1313.3H1260.2M1267.6 1309.1V1311.6M1267.6 1309.1H1285.6M1267.6 1311.6H1273.5M1285.6 1308.7V1309.4M1285.6 1308.7H1302.6M1285.6 1309.4H1288.7M1288.7 1309.2V1309.6M1288.7 1309.2H1302.6M1288.7 1309.6H1302.6M1273.5 1310.9V1312.3M1273.5 1310.9H1290.9M1273.5 1312.3H1302.6M1290.9 1310.3V1311.5M1290.9 1310.3H1294.4M1290.9 1311.5H1292.9M1294.4 1310.1V1310.5M1294.4 1310.1H1302.6M1294.4 1310.5H1302.6M1292.9 1311.2V1311.9M1292.9 1311.2H1295.4M1292.9 1311.9H1302.6M1295.4 1311V1311.4M1295.4 1311H1302.6M1295.4 1311.4H1302.6M1260.2 1312.8V1313.8M1260.2 1312.8H1302.6M1260.2 1313.8H1262.8M1262.8 1313.4V1314.1M1262.8 1313.4H1283.7M1262.8 1314.1H1302.6M1283.7 1313.2V1313.7M1283.7 1313.2H1302.6M1283.7 1313.7H1302.6M1148.3 1314.6V1317.1M1148.3 1314.6H1302.6M1148.3 1317.1H1151.3M1151.3 1315V1319.1M1151.3 1315H1302.6M1151.3 1319.1H1153.3M1153.3 1315.5V1322.7M1153.3 1315.5H1302.6M1153.3 1322.7H1156.2M1156.2 1317.1V1328.4M1156.2 1317.1H1187M1156.2 1328.4H1164.3M1187 1316.2V1318M1187 1316.2H1225.5M1187 1318H1212.4M1225.5 1315.9V1316.4M1225.5 1315.9H1302.6M1225.5 1316.4H1302.6M1212.4 1317.1V1318.9M1212.4 1317.1H1274.5M1212.4 1318.9H1226.5M1274.5 1316.8V1317.3M1274.5 1316.8H1302.6M1274.5 1317.3H1302.6M1226.5 1317.7V1320.2M1226.5 1317.7H1302.6M1226.5 1320.2H1242.2M1242.2 1319V1321.3M1242.2 1319H1250.2M1242.2 1321.3H1302.6M1250.2 1318.4V1319.6M1250.2 1318.4H1262.7M1250.2 1319.6H1256.3M1262.7 1318.2V1318.6M1262.7 1318.2H1302.6M1262.7 1318.6H1302.6M1256.3 1319.1V1320M1256.3 1319.1H1302.6M1256.3 1320H1261.2M1261.2 1319.5V1320.5M1261.2 1319.5H1302.6M1261.2 1320.5H1263M1263 1320.2V1320.9M1263 1320.2H1275.3M1263 1320.9H1302.6M1275.3 1320V1320.4M1275.3 1320H1302.6M1275.3 1320.4H1302.6M1164.3 1322.3V1334.4M1164.3 1322.3H1284.9M1164.3 1334.4H1175.7M1284.9 1321.8V1322.9M1284.9 1321.8H1302.6M1284.9 1322.9H1286.2M1286.2 1322.2V1323.6M1286.2 1322.2H1302.6M1286.2 1323.6H1289.2M1289.2 1322.9V1324.2M1289.2 1322.9H1294.4M1289.2 1324.2H1291.7M1294.4 1322.7V1323.1M1294.4 1322.7H1302.6M1294.4 1323.1H1302.6M1291.7 1323.6V1324.8M1291.7 1323.6H1302.6M1291.7 1324.8H1293.4M1293.4 1324V1325.5M1293.4 1324H1302.6M1293.4 1325.5H1293.4M1293.4 1324.7V1326.4M1293.4 1324.7H1295.9M1293.4 1326.4H1293.4M1295.9 1324.5V1324.9M1295.9 1324.5H1302.6M1295.9 1324.9H1302.6M1293.4 1325.6V1327.1M1293.4 1325.6H1295.9M1293.4 1327.1H1293.4M1295.9 1325.4V1325.8M1295.9 1325.4H1302.6M1295.9 1325.8H1302.6M1293.4 1326.5V1327.8M1293.4 1326.5H1295.9M1293.4 1327.8H1293.4M1295.9 1326.3V1326.7M1295.9 1326.3H1302.6M1295.9 1326.7H1302.6M1293.4 1327.4V1328.1M1293.4 1327.4H1295.9M1293.4 1328.1H1302.6M1295.9 1327.2V1327.6M1295.9 1327.2H1302.6M1295.9 1327.6H1302.6M1175.7 1329.5V1339.2M1175.7 1329.5H1202.7M1175.7 1339.2H1196.9M1202.7 1328.8V1330.3M1202.7 1328.8H1221M1202.7 1330.3H1212.4M1221 1328.5V1329M1221 1328.5H1302.6M1221 1329H1302.6M1212.4 1329.5V1331.1M1212.4 1329.5H1302.6M1212.4 1331.1H1216.9M1216.9 1330.1V1332.2M1216.9 1330.1H1242.7M1216.9 1332.2H1224.1M1242.7 1329.9V1330.4M1242.7 1329.9H1302.6M1242.7 1330.4H1302.6M1224.1 1331.5V1332.8M1224.1 1331.5H1242.6M1224.1 1332.8H1229.8M1242.6 1331V1331.9M1242.6 1331H1290.5M1242.6 1331.9H1250.7M1290.5 1330.8V1331.3M1290.5 1330.8H1302.6M1290.5 1331.3H1302.6M1250.7 1331.7V1332.2M1250.7 1331.7H1302.6M1250.7 1332.2H1302.6M1229.8 1332.6V1333.1M1229.8 1332.6H1302.6M1229.8 1333.1H1302.6M1196.9 1334.5V1343.9M1196.9 1334.5H1285.3M1196.9 1343.9H1212.2M1285.3 1333.7V1335.3M1285.3 1333.7H1288.5M1285.3 1335.3H1288.5M1288.5 1333.5V1334M1288.5 1333.5H1302.6M1288.5 1334H1302.6M1288.5 1334.6V1336M1288.5 1334.6H1294.4M1288.5 1336H1291M1294.4 1334.4V1334.9M1294.4 1334.4H1302.6M1294.4 1334.9H1302.6M1291 1335.5V1336.4M1291 1335.5H1294.4M1291 1336.4H1293M1294.4 1335.3V1335.8M1294.4 1335.3H1302.6M1294.4 1335.8H1302.6M1293 1336.2V1336.7M1293 1336.2H1302.6M1293 1336.7H1302.6M1212.2 1338.7V1349.2M1212.2 1338.7H1228.6M1212.2 1349.2H1216.9M1228.6 1337.1V1340.3M1228.6 1337.1H1302.6M1228.6 1340.3H1242.6M1242.6 1338.9V1341.6M1242.6 1338.9H1260.3M1242.6 1341.6H1251.6M1260.3 1338.1V1339.8M1260.3 1338.1H1264M1260.3 1339.8H1263.2M1264 1337.8V1338.5M1264 1337.8H1276.4M1264 1338.5H1302.6M1276.4 1337.6V1338M1276.4 1337.6H1302.6M1276.4 1338H1302.6M1263.2 1339.3V1340.3M1263.2 1339.3H1275M1263.2 1340.3H1302.6M1275 1338.9V1339.6M1275 1338.9H1302.6M1275 1339.6H1288M1288 1339.4V1339.8M1288 1339.4H1302.6M1288 1339.8H1302.6M1251.6 1340.7V1342.5M1251.6 1340.7H1302.6M1251.6 1342.5H1255.8M1255.8 1341.7V1343.3M1255.8 1341.7H1260.1M1255.8 1343.3H1261.7M1260.1 1341.4V1342.1M1260.1 1341.4H1269.8M1260.1 1342.1H1302.6M1269.8 1341.2V1341.6M1269.8 1341.2H1302.6M1269.8 1341.6H1302.6M1261.7 1342.8V1343.8M1261.7 1342.8H1285.1M1261.7 1343.8H1266M1285.1 1342.5V1343M1285.1 1342.5H1302.6M1285.1 1343H1302.6M1266 1343.4V1344.1M1266 1343.4H1302.6M1266 1344.1H1267.8M1267.8 1343.9V1344.3M1267.8 1343.9H1302.6M1267.8 1344.3H1302.6M1216.9 1345.8V1352.6M1216.9 1345.8H1219.4M1216.9 1352.6H1220.2M1219.4 1345V1346.5M1219.4 1345H1289.9M1219.4 1346.5H1242.6M1289.9 1344.8V1345.2M1289.9 1344.8H1302.6M1289.9 1345.2H1302.6M1242.6 1345.9V1347.1M1242.6 1345.9H1279.6M1242.6 1347.1H1250.1M1279.6 1345.7V1346.1M1279.6 1345.7H1302.6M1279.6 1346.1H1302.6M1250.1 1346.8V1347.5M1250.1 1346.8H1260.9M1250.1 1347.5H1302.6M1260.9 1346.6V1347M1260.9 1346.6H1302.6M1260.9 1347H1302.6M1220.2 1349.3V1355.9M1220.2 1349.3H1230.2M1220.2 1355.9H1222.5M1230.2 1348.2V1350.4M1230.2 1348.2H1288.5M1230.2 1350.4H1235.7M1288.5 1347.9V1348.4M1288.5 1347.9H1302.6M1288.5 1348.4H1302.6M1235.7 1349.1V1351.7M1235.7 1349.1H1291.3M1235.7 1351.7H1237.8M1291.3 1348.8V1349.3M1291.3 1348.8H1302.6M1291.3 1349.3H1302.6M1237.8 1350.3V1353.1M1237.8 1350.3H1255M1237.8 1353.1H1240.6M1255 1349.7V1350.9M1255 1349.7H1302.6M1255 1350.9H1264.8M1264.8 1350.4V1351.3M1264.8 1350.4H1294.4M1264.8 1351.3H1268.5M1294.4 1350.2V1350.6M1294.4 1350.2H1302.6M1294.4 1350.6H1302.6M1268.5 1351.1V1351.5M1268.5 1351.1H1302.6M1268.5 1351.5H1302.6M1240.6 1352.4V1353.8M1240.6 1352.4H1268.1M1240.6 1353.8H1302.6M1268.1 1352V1352.8M1268.1 1352H1302.6M1268.1 1352.8H1270.5M1270.5 1352.4V1353.1M1270.5 1352.4H1302.6M1270.5 1353.1H1273.7M1273.7 1352.9V1353.3M1273.7 1352.9H1302.6M1273.7 1353.3H1302.6M1222.5 1355.3V1356.5M1222.5 1355.3H1282.5M1222.5 1356.5H1302.6M1282.5 1354.8V1355.8M1282.5 1354.8H1286.5M1282.5 1355.8H1285.1M1286.5 1354.5V1355.1M1286.5 1354.5H1294.4M1286.5 1355.1H1302.6M1294.4 1354.2V1354.7M1294.4 1354.2H1302.6M1294.4 1354.7H1302.6M1285.1 1355.6V1356M1285.1 1355.6H1302.6M1285.1 1356H1302.6M1158.5 1359V1373.2M1158.5 1359H1231.2M1158.5 1373.2H1200.3M1231.2 1357.6V1360.5M1231.2 1357.6H1236.4M1231.2 1360.5H1239.6M1236.4 1357.2V1357.9M1236.4 1357.2H1254.1M1236.4 1357.9H1302.6M1254.1 1357V1357.4M1254.1 1357H1302.6M1254.1 1357.4H1302.6M1239.6 1359.3V1361.7M1239.6 1359.3H1256.5M1239.6 1361.7H1243.1M1256.5 1358.7V1359.9M1256.5 1358.7H1265.2M1256.5 1359.9H1264M1265.2 1358.3V1359M1265.2 1358.3H1302.6M1265.2 1359H1283.8M1283.8 1358.8V1359.2M1283.8 1358.8H1302.6M1283.8 1359.2H1302.6M1264 1359.7V1360.1M1264 1359.7H1302.6M1264 1360.1H1302.6M1243.1 1360.9V1362.5M1243.1 1360.9H1288.1M1243.1 1362.5H1246.2M1288.1 1360.6V1361.3M1288.1 1360.6H1302.6M1288.1 1361.3H1290.9M1290.9 1361V1361.5M1290.9 1361H1302.6M1290.9 1361.5H1302.6M1246.2 1361.9V1363.1M1246.2 1361.9H1302.6M1246.2 1363.1H1248.8M1248.8 1362.4V1363.8M1248.8 1362.4H1302.6M1248.8 1363.8H1250.1M1250.1 1363.2V1364.4M1250.1 1363.2H1278.4M1250.1 1364.4H1252.2M1278.4 1362.8V1363.5M1278.4 1362.8H1302.6M1278.4 1363.5H1287.3M1287.3 1363.3V1363.7M1287.3 1363.3H1302.6M1287.3 1363.7H1302.6M1252.2 1364.2V1364.6M1252.2 1364.2H1302.6M1252.2 1364.6H1302.6M1200.3 1366.9V1379.5M1200.3 1366.9H1203.6M1200.3 1379.5H1208.4M1203.6 1365.9V1367.8M1203.6 1365.9H1251.8M1203.6 1367.8H1214.9M1251.8 1365.4V1366.4M1251.8 1365.4H1263.3M1251.8 1366.4H1302.6M1263.3 1365.1V1365.8M1263.3 1365.1H1302.6M1263.3 1365.8H1283.5M1283.5 1365.5V1366M1283.5 1365.5H1302.6M1283.5 1366H1302.6M1214.9 1367.1V1368.6M1214.9 1367.1H1232.3M1214.9 1368.6H1217.4M1232.3 1366.9V1367.3M1232.3 1366.9H1302.6M1232.3 1367.3H1302.6M1217.4 1367.8V1369.3M1217.4 1367.8H1302.6M1217.4 1369.3H1220.6M1220.6 1368.2V1370.4M1220.6 1368.2H1302.6M1220.6 1370.4H1224M1224 1368.9V1372M1224 1368.9H1279.3M1224 1372H1227.4M1279.3 1368.7V1369.1M1279.3 1368.7H1302.6M1279.3 1369.1H1302.6M1227.4 1371.1V1372.8M1227.4 1371.1H1236.6M1227.4 1372.8H1232.2M1236.6 1370.5V1371.6M1236.6 1370.5H1248.1M1236.6 1371.6H1243.3M1248.1 1370.1V1370.9M1248.1 1370.1H1264M1248.1 1370.9H1302.6M1264 1369.8V1370.5M1264 1369.8H1274.5M1264 1370.5H1302.6M1274.5 1369.6V1370M1274.5 1369.6H1302.6M1274.5 1370H1302.6M1243.3 1371.4V1371.8M1243.3 1371.4H1302.6M1243.3 1371.8H1302.6M1232.2 1372.5V1373.2M1232.2 1372.5H1256.7M1232.2 1373.2H1302.6M1256.7 1372.3V1372.7M1256.7 1372.3H1302.6M1256.7 1372.7H1302.6M1208.4 1373.6V1385.3M1208.4 1373.6H1302.6M1208.4 1385.3H1214M1214 1377V1393.6M1214 1377H1216.6M1214 1393.6H1226.5M1216.6 1375.2V1378.9M1216.6 1375.2H1236.9M1216.6 1378.9H1237.2M1236.9 1374.6V1375.8M1236.9 1374.6H1257.5M1236.9 1375.8H1255.1M1257.5 1374.3V1375M1257.5 1374.3H1290.8M1257.5 1375H1302.6M1290.8 1374.1V1374.5M1290.8 1374.1H1302.6M1290.8 1374.5H1302.6M1255.1 1375.4V1376.1M1255.1 1375.4H1302.6M1255.1 1376.1H1260.8M1260.8 1375.9V1376.3M1260.8 1375.9H1302.6M1260.8 1376.3H1302.6M1237.2 1377.3V1380.4M1237.2 1377.3H1266.4M1237.2 1380.4H1246.1M1266.4 1377V1377.7M1266.4 1377H1271.4M1266.4 1377.7H1302.6M1271.4 1376.8V1377.2M1271.4 1376.8H1302.6M1271.4 1377.2H1302.6M1246.1 1378.6V1382.2M1246.1 1378.6H1256.8M1246.1 1382.2H1252M1256.8 1378.1V1379.1M1256.8 1378.1H1302.6M1256.8 1379.1H1262.7M1262.7 1378.6V1379.7M1262.7 1378.6H1302.6M1262.7 1379.7H1268.2M1268.2 1379.2V1380.1M1268.2 1379.2H1279.6M1268.2 1380.1H1270.2M1279.6 1379V1379.5M1279.6 1379H1302.6M1279.6 1379.5H1302.6M1270.2 1379.9V1380.4M1270.2 1379.9H1302.6M1270.2 1380.4H1302.6M1252 1381.4V1383.1M1252 1381.4H1280.8M1252 1383.1H1256.8M1280.8 1381V1381.7M1280.8 1381H1283.9M1280.8 1381.7H1302.6M1283.9 1380.8V1381.3M1283.9 1380.8H1302.6M1283.9 1381.3H1302.6M1256.8 1382.4V1383.7M1256.8 1382.4H1275.9M1256.8 1383.7H1261.3M1275.9 1382.2V1382.6M1275.9 1382.2H1302.6M1275.9 1382.6H1302.6M1261.3 1383.3V1384.2M1261.3 1383.3H1283.7M1261.3 1384.2H1264.4M1283.7 1383.1V1383.5M1283.7 1383.1H1302.6M1283.7 1383.5H1302.6M1264.4 1384V1384.4M1264.4 1384H1302.6M1264.4 1384.4H1302.6M1226.5 1387.2V1400M1226.5 1387.2H1249.9M1226.5 1400H1242.9M1249.9 1386.1V1388.2M1249.9 1386.1H1285.7M1249.9 1388.2H1253.9M1285.7 1385.5V1386.7M1285.7 1385.5H1293.7M1285.7 1386.7H1302.6M1293.7 1385.1V1386M1293.7 1385.1H1295.9M1293.7 1386H1293.7M1295.9 1384.9V1385.3M1295.9 1384.9H1302.6M1295.9 1385.3H1302.6M1293.7 1385.8V1386.2M1293.7 1385.8H1302.6M1293.7 1386.2H1302.6M1253.9 1387.3V1389.1M1253.9 1387.3H1280.3M1253.9 1389.1H1255.5M1280.3 1387.1V1387.6M1280.3 1387.1H1302.6M1280.3 1387.6H1302.6M1255.5 1388.4V1389.9M1255.5 1388.4H1259.9M1255.5 1389.9H1259.4M1259.9 1388V1388.7M1259.9 1388H1302.6M1259.9 1388.7H1283.9M1283.9 1388.5V1388.9M1283.9 1388.5H1302.6M1283.9 1388.9H1302.6M1259.4 1389.6V1390.3M1259.4 1389.6H1271.9M1259.4 1390.3H1302.6M1271.9 1389.4V1389.8M1271.9 1389.4H1302.6M1271.9 1389.8H1302.6M1242.9 1392V1407.9M1242.9 1392H1247.3M1242.9 1407.9H1251.9M1247.3 1390.9V1393.1M1247.3 1390.9H1279.8M1247.3 1393.1H1255.2M1279.8 1390.7V1391.2M1279.8 1390.7H1302.6M1279.8 1391.2H1302.6M1255.2 1391.9V1394.3M1255.2 1391.9H1270.1M1255.2 1394.3H1258.7M1270.1 1391.6V1392.3M1270.1 1391.6H1302.6M1270.1 1392.3H1286.1M1286.1 1392.1V1392.5M1286.1 1392.1H1302.6M1286.1 1392.5H1302.6M1258.7 1393V1395.7M1258.7 1393H1302.6M1258.7 1395.7H1262M1262 1395.2V1396.1M1262 1395.2H1280.9M1262 1396.1H1302.6M1280.9 1394.8V1395.7M1280.9 1394.8H1285.3M1280.9 1395.7H1302.6M1285.3 1394.4V1395.2M1285.3 1394.4H1290.1M1285.3 1395.2H1302.6M1290.1 1394V1394.8M1290.1 1394H1293.1M1290.1 1394.8H1302.6M1293.1 1393.6V1394.3M1293.1 1393.6H1295.6M1293.1 1394.3H1302.6M1295.6 1393.4V1393.9M1295.6 1393.4H1302.6M1295.6 1393.9H1302.6M1251.9 1397.6V1418.1M1251.9 1397.6H1256.4M1251.9 1418.1H1263.1M1256.4 1396.8V1398.5M1256.4 1396.8H1274.1M1256.4 1398.5H1259.5M1274.1 1396.6V1397M1274.1 1396.6H1302.6M1274.1 1397H1302.6M1259.5 1397.7V1399.2M1259.5 1397.7H1270.6M1259.5 1399.2H1263M1270.6 1397.5V1397.9M1270.6 1397.5H1302.6M1270.6 1397.9H1302.6M1263 1398.4V1400.1M1263 1398.4H1302.6M1263 1400.1H1265M1265 1398.8V1401.5M1265 1398.8H1302.6M1265 1401.5H1268M1268 1399.9V1403M1268 1399.9H1271.2M1268 1403H1271.4M1271.2 1399.3V1400.5M1271.2 1399.3H1302.6M1271.2 1400.5H1275.6M1275.6 1399.9V1401.2M1275.6 1399.9H1284.1M1275.6 1401.2H1279.3M1284.1 1399.7V1400.2M1284.1 1399.7H1302.6M1284.1 1400.2H1302.6M1279.3 1400.8V1401.5M1279.3 1400.8H1292.3M1279.3 1401.5H1302.6M1292.3 1400.6V1401.1M1292.3 1400.6H1302.6M1292.3 1401.1H1302.6M1271.4 1401.9V1404.1M1271.4 1401.9H1302.6M1271.4 1404.1H1273.2M1273.2 1403.4V1404.9M1273.2 1403.4H1285.3M1273.2 1404.9H1275.9M1285.3 1403V1403.7M1285.3 1403H1287.8M1285.3 1403.7H1302.6M1287.8 1402.6V1403.3M1287.8 1402.6H1294.4M1287.8 1403.3H1302.6M1294.4 1402.4V1402.8M1294.4 1402.4H1302.6M1294.4 1402.8H1302.6M1275.9 1404.4V1405.4M1275.9 1404.4H1294.4M1275.9 1405.4H1278M1294.4 1404.2V1404.6M1294.4 1404.2H1302.6M1294.4 1404.6H1302.6M1278 1405.1V1405.8M1278 1405.1H1302.6M1278 1405.8H1281.4M1281.4 1405.5V1406M1281.4 1405.5H1302.6M1281.4 1406H1302.6M1263.1 1410.2V1426M1263.1 1410.2H1294.4M1263.1 1426H1269.5M1294.4 1407.4V1413.1M1294.4 1407.4H1295.9M1294.4 1413.1H1294.4M1295.9 1406.4V1408.3M1295.9 1406.4H1302.6M1295.9 1408.3H1295.9M1295.9 1407.5V1409.1M1295.9 1407.5H1295.9M1295.9 1409.1H1295.9M1295.9 1407.1V1407.8M1295.9 1407.1H1295.9M1295.9 1407.8H1302.6M1295.9 1406.9V1407.3M1295.9 1406.9H1302.6M1295.9 1407.3H1302.6M1295.9 1408.5V1409.7M1295.9 1408.5H1295.9M1295.9 1409.7H1295.9M1295.9 1408.2V1408.7M1295.9 1408.2H1302.6M1295.9 1408.7H1302.6M1295.9 1409.1V1410.3M1295.9 1409.1H1302.6M1295.9 1410.3H1295.9M1295.9 1409.8V1410.7M1295.9 1409.8H1295.9M1295.9 1410.7H1295.9M1295.9 1409.6V1410M1295.9 1409.6H1302.6M1295.9 1410H1302.6M1295.9 1410.5V1410.9M1295.9 1410.5H1302.6M1295.9 1410.9H1302.6M1294.4 1411.6V1414.5M1294.4 1411.6H1295.9M1294.4 1414.5H1294.4M1295.9 1411.4V1411.8M1295.9 1411.4H1302.6M1295.9 1411.8H1302.6M1294.4 1413.1V1415.9M1294.4 1413.1H1295.9M1294.4 1415.9H1294.4M1295.9 1412.3V1414M1295.9 1412.3H1302.6M1295.9 1414H1295.9M1295.9 1413.4V1414.5M1295.9 1413.4H1295.9M1295.9 1414.5H1302.6M1295.9 1413V1413.9M1295.9 1413H1295.9M1295.9 1413.9H1295.9M1295.9 1412.7V1413.2M1295.9 1412.7H1302.6M1295.9 1413.2H1302.6M1295.9 1413.6V1414.1M1295.9 1413.6H1302.6M1295.9 1414.1H1302.6M1294.4 1415.5V1416.3M1294.4 1415.5H1295.9M1294.4 1416.3H1302.6M1295.9 1415.2V1415.9M1295.9 1415.2H1295.9M1295.9 1415.9H1302.6M1295.9 1415V1415.4M1295.9 1415H1302.6M1295.9 1415.4H1302.6M1269.5 1418.4V1433.7M1269.5 1418.4H1294.4M1269.5 1433.7H1275M1294.4 1417.3V1419.4M1294.4 1417.3H1295.9M1294.4 1419.4H1294.4M1295.9 1417V1417.7M1295.9 1417H1295.9M1295.9 1417.7H1302.6M1295.9 1416.8V1417.2M1295.9 1416.8H1302.6M1295.9 1417.2H1302.6M1294.4 1418.4V1420.4M1294.4 1418.4H1295.9M1294.4 1420.4H1294.4M1295.9 1418.1V1418.6M1295.9 1418.1H1302.6M1295.9 1418.6H1302.6M1294.4 1419V1421.7M1294.4 1419H1302.6M1294.4 1421.7H1294.4M1294.4 1420.9V1422.6M1294.4 1420.9H1295.9M1294.4 1422.6H1294.4M1295.9 1420.4V1421.3M1295.9 1420.4H1295.9M1295.9 1421.3H1302.6M1295.9 1420V1420.8M1295.9 1420H1295.9M1295.9 1420.8H1302.6M1295.9 1419.7V1420.4M1295.9 1419.7H1295.9M1295.9 1420.4H1302.6M1295.9 1419.5V1419.9M1295.9 1419.5H1302.6M1295.9 1419.9H1302.6M1294.4 1422V1423.3M1294.4 1422H1295.9M1294.4 1423.3H1294.4M1295.9 1421.7V1422.2M1295.9 1421.7H1302.6M1295.9 1422.2H1302.6M1294.4 1422.6V1423.9M1294.4 1422.6H1302.6M1294.4 1423.9H1294.4M1294.4 1423.4V1424.4M1294.4 1423.4H1295.9M1294.4 1424.4H1302.6M1295.9 1423.1V1423.8M1295.9 1423.1H1302.6M1295.9 1423.8H1295.9M1295.9 1423.5V1424M1295.9 1423.5H1302.6M1295.9 1424H1302.6M1275 1427.7V1439.7M1275 1427.7H1292.4M1275 1439.7H1282.4M1292.4 1426.1V1429.3M1292.4 1426.1H1294.9M1292.4 1429.3H1293.4M1294.9 1424.9V1427.4M1294.9 1424.9H1302.6M1294.9 1427.4H1294.9M1294.9 1426.4V1428.5M1294.9 1426.4H1295.9M1294.9 1428.5H1302.6M1295.9 1425.5V1427.2M1295.9 1425.5H1295.9M1295.9 1427.2H1295.9M1295.9 1425.3V1425.8M1295.9 1425.3H1302.6M1295.9 1425.8H1302.6M1295.9 1426.6V1427.8M1295.9 1426.6H1295.9M1295.9 1427.8H1295.9M1295.9 1426.2V1426.9M1295.9 1426.2H1302.6M1295.9 1426.9H1295.9M1295.9 1426.7V1427.1M1295.9 1426.7H1302.6M1295.9 1427.1H1302.6M1295.9 1427.6V1428M1295.9 1427.6H1302.6M1295.9 1428H1302.6M1293.4 1428.9V1429.6M1293.4 1428.9H1302.6M1293.4 1429.6H1293.4M1293.4 1429.4V1429.8M1293.4 1429.4H1302.6M1293.4 1429.8H1302.6M1282.4 1434.7V1444.7M1282.4 1434.7H1294.4M1282.4 1444.7H1285.3M1294.4 1431.7V1437.7M1294.4 1431.7H1295.9M1294.4 1437.7H1294.4M1295.9 1430.5V1432.8M1295.9 1430.5H1295.9M1295.9 1432.8H1295.9M1295.9 1430.3V1430.7M1295.9 1430.3H1302.6M1295.9 1430.7H1302.6M1295.9 1431.4V1434.3M1295.9 1431.4H1295.9M1295.9 1434.3H1295.9M1295.9 1431.2V1431.6M1295.9 1431.2H1302.6M1295.9 1431.6H1302.6M1295.9 1433V1435.7M1295.9 1433H1295.9M1295.9 1435.7H1302.6M1295.9 1432.3V1433.6M1295.9 1432.3H1295.9M1295.9 1433.6H1295.9M1295.9 1432.1V1432.5M1295.9 1432.1H1302.6M1295.9 1432.5H1302.6M1295.9 1433V1434.3M1295.9 1433H1302.6M1295.9 1434.3H1295.9M1295.9 1433.6V1434.9M1295.9 1433.6H1295.9M1295.9 1434.9H1295.9M1295.9 1433.4V1433.9M1295.9 1433.4H1302.6M1295.9 1433.9H1302.6M1295.9 1434.5V1435.2M1295.9 1434.5H1295.9M1295.9 1435.2H1302.6M1295.9 1434.3V1434.8M1295.9 1434.3H1302.6M1295.9 1434.8H1302.6M1294.4 1436.6V1438.9M1294.4 1436.6H1295.9M1294.4 1438.9H1294.4M1295.9 1436.1V1437.1M1295.9 1436.1H1302.6M1295.9 1437.1H1295.9M1295.9 1436.8V1437.5M1295.9 1436.8H1295.9M1295.9 1437.5H1302.6M1295.9 1436.6V1437M1295.9 1436.6H1302.6M1295.9 1437H1302.6M1294.4 1438.1V1439.6M1294.4 1438.1H1295.9M1294.4 1439.6H1294.4M1295.9 1437.9V1438.4M1295.9 1437.9H1302.6M1295.9 1438.4H1302.6M1294.4 1438.8V1440.4M1294.4 1438.8H1302.6M1294.4 1440.4H1294.4M1294.4 1439.5V1441.3M1294.4 1439.5H1295.9M1294.4 1441.3H1294.4M1295.9 1439.3V1439.7M1295.9 1439.3H1302.6M1295.9 1439.7H1302.6M1294.4 1440.7V1442M1294.4 1440.7H1295.9M1294.4 1442H1302.6M1295.9 1440.2V1441.2M1295.9 1440.2H1302.6M1295.9 1441.2H1295.9M1295.9 1440.8V1441.5M1295.9 1440.8H1295.9M1295.9 1441.5H1302.6M1295.9 1440.6V1441.1M1295.9 1440.6H1302.6M1295.9 1441.1H1302.6M1285.3 1443.4V1446M1285.3 1443.4H1292.1M1285.3 1446H1302.6M1292.1 1442.6V1444.2M1292.1 1442.6H1294.6M1292.1 1444.2H1293.4M1294.6 1442.4V1442.9M1294.6 1442.4H1302.6M1294.6 1442.9H1302.6M1293.4 1443.3V1445.1M1293.4 1443.3H1302.6M1293.4 1445.1H1293.4M1293.4 1444.7V1445.6M1293.4 1444.7H1295.9M1293.4 1445.6H1302.6M1295.9 1444.3V1445.1M1295.9 1444.3H1295.9M1295.9 1445.1H1302.6M1295.9 1444V1444.7M1295.9 1444H1295.9M1295.9 1444.7H1302.6M1295.9 1443.8V1444.2M1295.9 1443.8H1302.6M1295.9 1444.2H1302.6M978.4 1450V1519.4M978.4 1450H995.5M978.4 1519.4H981.8M995.5 1446.5V1450M995.5 1446.5H1302.6M995.5 1450H1027.3M1027.3 1447V1453.1M1027.3 1447H1302.6M1027.3 1453.1H1060.4M1060.4 1449.8V1456.4M1060.4 1449.8H1264.7M1060.4 1456.4H1120.6M1264.7 1448.9V1450.7M1264.7 1448.9H1276.2M1264.7 1450.7H1266.4M1276.2 1448.4V1449.4M1276.2 1448.4H1278.7M1276.2 1449.4H1277.6M1278.7 1448V1448.8M1278.7 1448H1281.2M1278.7 1448.8H1302.6M1281.2 1447.6V1448.3M1281.2 1447.6H1293.9M1281.2 1448.3H1302.6M1293.9 1447.4V1447.8M1293.9 1447.4H1302.6M1293.9 1447.8H1302.6M1277.6 1449.2V1449.7M1277.6 1449.2H1302.6M1277.6 1449.7H1302.6M1266.4 1450.3V1451M1266.4 1450.3H1294.4M1266.4 1451H1302.6M1294.4 1450.1V1450.5M1294.4 1450.1H1302.6M1294.4 1450.5H1302.6M1120.6 1452.5V1460.3M1120.6 1452.5H1268.2M1120.6 1460.3H1158.1M1268.2 1451.7V1453.2M1268.2 1451.7H1285.1M1268.2 1453.2H1270.8M1285.1 1451.5V1451.9M1285.1 1451.5H1302.6M1285.1 1451.9H1302.6M1270.8 1452.6V1453.9M1270.8 1452.6H1273.3M1270.8 1453.9H1273.1M1273.3 1452.3V1452.8M1273.3 1452.3H1302.6M1273.3 1452.8H1302.6M1273.1 1453.5V1454.4M1273.1 1453.5H1289.3M1273.1 1454.4H1275.2M1289.3 1453.2V1453.7M1289.3 1453.2H1302.6M1289.3 1453.7H1302.6M1275.2 1454.2V1454.6M1275.2 1454.2H1302.6M1275.2 1454.6H1302.6M1158.1 1457.5V1463.2M1158.1 1457.5H1270.7M1158.1 1463.2H1178.8M1270.7 1456.5V1458.4M1270.7 1456.5H1276.4M1270.7 1458.4H1275.2M1276.4 1455.6V1457.4M1276.4 1455.6H1278.9M1276.4 1457.4H1279.9M1278.9 1455.3V1456M1278.9 1455.3H1283.5M1278.9 1456H1302.6M1283.5 1455V1455.5M1283.5 1455H1302.6M1283.5 1455.5H1302.6M1279.9 1457V1457.8M1279.9 1457H1283M1279.9 1457.8H1302.6M1283 1456.6V1457.3M1283 1456.6H1294.4M1283 1457.3H1302.6M1294.4 1456.4V1456.8M1294.4 1456.4H1302.6M1294.4 1456.8H1302.6M1275.2 1458.2V1458.7M1275.2 1458.2H1302.6M1275.2 1458.7H1302.6M1178.8 1461.2V1465.1M1178.8 1461.2H1267.3M1178.8 1465.1H1194.6M1267.3 1460.2V1462.2M1267.3 1460.2H1287.7M1267.3 1462.2H1302.6M1287.7 1459.3V1461.2M1287.7 1459.3H1294.4M1287.7 1461.2H1290M1294.4 1459.1V1459.5M1294.4 1459.1H1302.6M1294.4 1459.5H1302.6M1290 1460.5V1461.8M1290 1460.5H1292.5M1290 1461.8H1302.6M1292.5 1460V1461M1292.5 1460H1302.6M1292.5 1461H1293.4M1293.4 1460.7V1461.3M1293.4 1460.7H1295.9M1293.4 1461.3H1302.6M1295.9 1460.5V1460.9M1295.9 1460.5H1302.6M1295.9 1460.9H1302.6M1194.6 1462.7V1467.6M1194.6 1462.7H1302.6M1194.6 1467.6H1211.4M1211.4 1463.9V1471.3M1211.4 1463.9H1274.6M1211.4 1471.3H1233.5M1274.6 1463.2V1464.6M1274.6 1463.2H1302.6M1274.6 1464.6H1277.7M1277.7 1463.8V1465.4M1277.7 1463.8H1280.2M1277.7 1465.4H1279M1280.2 1463.6V1464M1280.2 1463.6H1302.6M1280.2 1464H1302.6M1279 1464.7V1466.1M1279 1464.7H1288.9M1279 1466.1H1282.5M1288.9 1464.5V1465M1288.9 1464.5H1302.6M1288.9 1465H1302.6M1282.5 1465.6V1466.5M1282.5 1465.6H1294.4M1282.5 1466.5H1284.4M1294.4 1465.4V1465.8M1294.4 1465.4H1302.6M1294.4 1465.8H1302.6M1284.4 1466.3V1466.8M1284.4 1466.3H1302.6M1284.4 1466.8H1302.6M1233.5 1468.4V1474.2M1233.5 1468.4H1287.9M1233.5 1474.2H1246.1M1287.9 1467.4V1469.4M1287.9 1467.4H1290.4M1287.9 1469.4H1289.3M1290.4 1467.2V1467.7M1290.4 1467.2H1302.6M1290.4 1467.7H1302.6M1289.3 1468.7V1470.1M1289.3 1468.7H1291.8M1289.3 1470.1H1292.5M1291.8 1468.3V1469M1291.8 1468.3H1294.4M1291.8 1469H1302.6M1294.4 1468.1V1468.5M1294.4 1468.1H1302.6M1294.4 1468.5H1302.6M1292.5 1469.7V1470.6M1292.5 1469.7H1295M1292.5 1470.6H1293.4M1295 1469.5V1469.9M1295 1469.5H1302.6M1295 1469.9H1302.6M1293.4 1470.3V1470.8M1293.4 1470.3H1302.6M1293.4 1470.8H1302.6M1246.1 1472.5V1475.9M1246.1 1472.5H1274.2M1246.1 1475.9H1252.5M1274.2 1471.9V1473M1274.2 1471.9H1279.6M1274.2 1473H1302.6M1279.6 1471.5V1472.4M1279.6 1471.5H1294.4M1279.6 1472.4H1283.2M1294.4 1471.2V1471.7M1294.4 1471.2H1302.6M1294.4 1471.7H1302.6M1283.2 1472.2V1472.6M1283.2 1472.2H1302.6M1283.2 1472.6H1302.6M1252.5 1474.4V1477.4M1252.5 1474.4H1291.8M1252.5 1477.4H1257M1291.8 1473.7V1475.1M1291.8 1473.7H1294.4M1291.8 1475.1H1293.4M1294.4 1473.5V1474M1294.4 1473.5H1302.6M1294.4 1474H1302.6M1293.4 1474.6V1475.5M1293.4 1474.6H1295.9M1293.4 1475.5H1293.4M1295.9 1474.4V1474.8M1295.9 1474.4H1302.6M1295.9 1474.8H1302.6M1293.4 1475.3V1475.8M1293.4 1475.3H1302.6M1293.4 1475.8H1302.6M1257 1476.9V1478M1257 1476.9H1261.8M1257 1478H1302.6M1261.8 1476.4V1477.3M1261.8 1476.4H1289M1261.8 1477.3H1264.9M1289 1476.2V1476.7M1289 1476.2H1302.6M1289 1476.7H1302.6M1264.9 1477.1V1477.5M1264.9 1477.1H1302.6M1264.9 1477.5H1302.6M981.8 1488.3V1550.9M981.8 1488.3H992.8M981.8 1550.9H1001.3M992.8 1481.8V1493.8M992.8 1481.8H1049.9M992.8 1493.8H1049.9M1049.9 1480.6V1485.7M1049.9 1480.6H1286.8M1049.9 1485.7H1121.6M1286.8 1479.8V1481.4M1286.8 1479.8H1294.4M1286.8 1481.4H1289.1M1294.4 1479.3V1480.3M1294.4 1479.3H1295.9M1294.4 1480.3H1302.6M1295.9 1479V1479.7M1295.9 1479H1302.6M1295.9 1479.7H1295.9M1295.9 1479.4V1479.9M1295.9 1479.4H1302.6M1295.9 1479.9H1302.6M1289.1 1481V1481.9M1289.1 1481H1294.4M1289.1 1481.9H1292.3M1294.4 1480.8V1481.2M1294.4 1480.8H1302.6M1294.4 1481.2H1302.6M1292.3 1481.7V1482.1M1292.3 1481.7H1302.6M1292.3 1482.1H1302.6M1121.6 1483.3V1488.1M1121.6 1483.3H1250.8M1121.6 1488.1H1137.3M1250.8 1482.6V1484M1250.8 1482.6H1302.6M1250.8 1484H1255.8M1255.8 1483.2V1484.8M1255.8 1483.2H1263.4M1255.8 1484.8H1259.3M1263.4 1483V1483.4M1263.4 1483H1302.6M1263.4 1483.4H1302.6M1259.3 1484.1V1485.4M1259.3 1484.1H1282.4M1259.3 1485.4H1261.5M1282.4 1483.9V1484.3M1282.4 1483.9H1302.6M1282.4 1484.3H1302.6M1261.5 1485V1485.9M1261.5 1485H1267.4M1261.5 1485.9H1264.8M1267.4 1484.8V1485.2M1267.4 1484.8H1302.6M1267.4 1485.2H1302.6M1264.8 1485.7V1486.1M1264.8 1485.7H1302.6M1264.8 1486.1H1302.6M1137.3 1486.8V1489.5M1137.3 1486.8H1271.4M1137.3 1489.5H1146.9M1271.4 1486.6V1487M1271.4 1486.6H1302.6M1271.4 1487H1302.6M1146.9 1488.4V1490.6M1146.9 1488.4H1280.1M1146.9 1490.6H1154.8M1280.1 1488V1488.8M1280.1 1488H1291.4M1280.1 1488.8H1302.6M1291.4 1487.7V1488.3M1291.4 1487.7H1293.9M1291.4 1488.3H1302.6M1293.9 1487.4V1487.9M1293.9 1487.4H1302.6M1293.9 1487.9H1302.6M1154.8 1490.2V1491M1154.8 1490.2H1275.8M1154.8 1491H1302.6M1275.8 1489.8V1490.6M1275.8 1489.8H1278.4M1275.8 1490.6H1302.6M1278.4 1489.4V1490.1M1278.4 1489.4H1285.5M1278.4 1490.1H1302.6M1285.5 1489.2V1489.7M1285.5 1489.2H1302.6M1285.5 1489.7H1302.6M1049.9 1492.9V1498.2M1049.9 1492.9H1083.3M1049.9 1498.2H1075.3M1083.3 1492.3V1493.4M1083.3 1492.3H1119.9M1083.3 1493.4H1302.6M1119.9 1492V1492.7M1119.9 1492H1302.6M1119.9 1492.7H1248M1248 1492.5V1492.9M1248 1492.5H1302.6M1248 1492.9H1302.6M1075.3 1495.4V1501.1M1075.3 1495.4H1286.7M1075.3 1501.1H1142.1M1286.7 1494.4V1496.4M1286.7 1494.4H1289.2M1286.7 1496.4H1290.1M1289.2 1494V1494.7M1289.2 1494H1292.5M1289.2 1494.7H1302.6M1292.5 1493.8V1494.3M1292.5 1493.8H1302.6M1292.5 1494.3H1302.6M1290.1 1495.8V1497.1M1290.1 1495.8H1294.4M1290.1 1497.1H1292.5M1294.4 1495.4V1496.1M1294.4 1495.4H1295.9M1294.4 1496.1H1302.6M1295.9 1495.2V1495.6M1295.9 1495.2H1302.6M1295.9 1495.6H1302.6M1292.5 1496.8V1497.5M1292.5 1496.8H1295M1292.5 1497.5H1302.6M1295 1496.5V1497M1295 1496.5H1302.6M1295 1497H1302.6M1142.1 1498.5V1503.6M1142.1 1498.5H1291M1142.1 1503.6H1153.4M1291 1497.9V1499.1M1291 1497.9H1302.6M1291 1499.1H1293.4M1293.4 1498.4V1499.9M1293.4 1498.4H1302.6M1293.4 1499.9H1293.4M1293.4 1499V1500.7M1293.4 1499H1295.9M1293.4 1500.7H1293.4M1295.9 1498.8V1499.3M1295.9 1498.8H1302.6M1295.9 1499.3H1302.6M1293.4 1500.3V1501.1M1293.4 1500.3H1295.9M1293.4 1501.1H1302.6M1295.9 1500V1500.6M1295.9 1500H1295.9M1295.9 1500.6H1302.6M1295.9 1499.7V1500.2M1295.9 1499.7H1302.6M1295.9 1500.2H1302.6M1153.4 1501.8V1505.5M1153.4 1501.8H1292.7M1153.4 1505.5H1164.5M1292.7 1501.5V1502M1292.7 1501.5H1302.6M1292.7 1502H1302.6M1164.5 1503.3V1507.7M1164.5 1503.3H1208.7M1164.5 1507.7H1183.9M1208.7 1502.5V1504.2M1208.7 1502.5H1302.6M1208.7 1504.2H1214.9M1214.9 1503.5V1504.8M1214.9 1503.5H1235.6M1214.9 1504.8H1217.5M1235.6 1503.1V1503.8M1235.6 1503.1H1240.8M1235.6 1503.8H1302.6M1240.8 1502.9V1503.4M1240.8 1502.9H1302.6M1240.8 1503.4H1302.6M1217.5 1504.5V1505.2M1217.5 1504.5H1265.9M1217.5 1505.2H1302.6M1265.9 1504.3V1504.7M1265.9 1504.3H1302.6M1265.9 1504.7H1302.6M1183.9 1505.9V1509.6M1183.9 1505.9H1286.5M1183.9 1509.6H1200.6M1286.5 1505.6V1506.1M1286.5 1505.6H1302.6M1286.5 1506.1H1302.6M1200.6 1508.1V1511.1M1200.6 1508.1H1294.4M1200.6 1511.1H1223.8M1294.4 1507.3V1508.8M1294.4 1507.3H1295.9M1294.4 1508.8H1302.6M1295.9 1506.8V1507.8M1295.9 1506.8H1295.9M1295.9 1507.8H1295.9M1295.9 1506.5V1507M1295.9 1506.5H1302.6M1295.9 1507H1302.6M1295.9 1507.5V1508.1M1295.9 1507.5H1302.6M1295.9 1508.1H1295.9M1295.9 1507.9V1508.4M1295.9 1507.9H1302.6M1295.9 1508.4H1302.6M1223.8 1510.3V1512M1223.8 1510.3H1282.8M1223.8 1512H1302.6M1282.8 1509.5V1511M1282.8 1509.5H1290.6M1282.8 1511H1284.2M1290.6 1509.3V1509.7M1290.6 1509.3H1302.6M1290.6 1509.7H1302.6M1284.2 1510.5V1511.5M1284.2 1510.5H1286.7M1284.2 1511.5H1302.6M1286.7 1510.2V1510.9M1286.7 1510.2H1302.6M1286.7 1510.9H1289.8M1289.8 1510.6V1511.1M1289.8 1510.6H1302.6M1289.8 1511.1H1302.6M1001.3 1529.4V1571.4M1001.3 1529.4H1016.7M1001.3 1571.4H1064.6M1016.7 1517.7V1541.3M1016.7 1517.7H1034.5M1016.7 1541.3H1062.2M1034.5 1513.2V1517.7M1034.5 1513.2H1101.4M1034.5 1514.8H1039.9M1101.4 1513V1513.5M1101.4 1513H1302.6M1101.4 1513.5H1302.6M1039.9 1514.1V1515.5M1039.9 1514.1H1274.2M1039.9 1515.5H1043.3M1274.2 1513.9V1514.4M1274.2 1513.9H1302.6M1274.2 1514.4H1302.6M1043.3 1514.8V1516.2M1043.3 1514.8H1302.6M1043.3 1516.2H1044.8M1044.8 1515.5V1516.9M1044.8 1515.5H1080.1M1044.8 1516.9H1048.3M1080.1 1515.3V1515.7M1080.1 1515.3H1302.6M1080.1 1515.7H1302.6M1048.3 1516.2V1517.7M1048.3 1516.2H1302.6M1048.3 1517.7H1050.5M1050.5 1516.8V1518.5M1050.5 1516.8H1260.1M1050.5 1518.5H1052.1M1260.1 1516.6V1517.1M1260.1 1516.6H1302.6M1260.1 1517.1H1302.6M1052.1 1517.5V1519.5M1052.1 1517.5H1302.6M1052.1 1519.5H1054.8M1054.8 1518.3V1520.7M1054.8 1518.3H1235.6M1054.8 1520.7H1058.7M1235.6 1518V1518.6M1235.6 1518H1302.6M1235.6 1518.6H1278.6M1278.6 1518.4V1518.9M1278.6 1518.4H1302.6M1278.6 1518.9H1302.6M1058.7 1519.5V1521.8M1058.7 1519.5H1266.9M1058.7 1521.8H1065.8M1266.9 1519.3V1519.8M1266.9 1519.3H1302.6M1266.9 1519.8H1302.6M1065.8 1520.8V1522.8M1065.8 1520.8H1259.3M1065.8 1522.8H1085.8M1259.3 1520.5V1521.1M1259.3 1520.5H1272.2M1259.3 1521.1H1302.6M1272.2 1520.2V1520.7M1272.2 1520.2H1302.6M1272.2 1520.7H1302.6M1085.8 1521.8V1523.8M1085.8 1521.8H1139.6M1085.8 1523.8H1099.6M1139.6 1521.6V1522M1139.6 1521.6H1302.6M1139.6 1522H1302.6M1099.6 1523V1524.5M1099.6 1523H1106.5M1099.6 1524.5H1114.7M1106.5 1522.7V1523.4M1106.5 1522.7H1274M1106.5 1523.4H1302.6M1274 1522.5V1522.9M1274 1522.5H1302.6M1274 1522.9H1302.6M1114.7 1523.8V1525.1M1114.7 1523.8H1302.6M1114.7 1525.1H1117.5M1117.5 1524.3V1526M1117.5 1524.3H1302.6M1117.5 1526H1122.8M1122.8 1525.3V1526.7M1122.8 1525.3H1249.6M1122.8 1526.7H1129.3M1249.6 1525V1525.6M1249.6 1525H1294.4M1249.6 1525.6H1302.6M1294.4 1524.7V1525.2M1294.4 1524.7H1302.6M1294.4 1525.2H1302.6M1129.3 1526.3V1527M1129.3 1526.3H1261.8M1129.3 1527H1302.6M1261.8 1526.1V1526.5M1261.8 1526.1H1302.6M1261.8 1526.5H1302.6M1062.2 1529.6V1541.3M1062.2 1529.6H1239.3M1062.2 1534.8H1063.7M1239.3 1528.7V1530.5M1239.3 1528.7H1279M1239.3 1530.5H1245.5M1279 1528.2V1529.1M1279 1528.2H1284.3M1279 1529.1H1282.8M1284.3 1528V1528.5M1284.3 1528H1302.6M1284.3 1528.5H1302.6M1282.8 1528.9V1529.3M1282.8 1528.9H1302.6M1282.8 1529.3H1302.6M1245.5 1530V1530.9M1245.5 1530H1293.7M1245.5 1530.9H1247.9M1293.7 1529.8V1530.2M1293.7 1529.8H1302.6M1293.7 1530.2H1302.6M1247.9 1530.7V1531.2M1247.9 1530.7H1302.6M1247.9 1531.2H1302.6M1063.7 1532.1V1537.4M1063.7 1532.1H1120.9M1063.7 1537.4H1065M1120.9 1531.6V1532.6M1120.9 1531.6H1302.6M1120.9 1532.6H1162.8M1162.8 1532V1533.2M1162.8 1532H1302.6M1162.8 1533.2H1185.7M1185.7 1532.7V1533.6M1185.7 1532.7H1213.9M1185.7 1533.6H1213.4M1213.9 1532.5V1533M1213.9 1532.5H1302.6M1213.9 1533H1302.6M1213.4 1533.4V1533.8M1213.4 1533.4H1302.6M1213.4 1533.8H1302.6M1065 1535V1539.9M1065 1535H1115.9M1065 1539.9H1067.5M1115.9 1534.5V1535.4M1115.9 1534.5H1259.3M1115.9 1535.4H1173M1259.3 1534.3V1534.8M1259.3 1534.3H1302.6M1259.3 1534.8H1302.6M1173 1535.2V1535.7M1173 1535.2H1302.6M1173 1535.7H1302.6M1067.5 1537.1V1542.8M1067.5 1537.1H1091.7M1067.5 1542.8H1072.2M1091.7 1536.1V1538M1091.7 1536.1H1302.6M1091.7 1538H1148.3M1148.3 1537.3V1538.8M1148.3 1537.3H1158.9M1148.3 1538.8H1302.6M1158.9 1536.8V1537.8M1158.9 1536.8H1215.4M1158.9 1537.8H1207.7M1215.4 1536.5V1537M1215.4 1536.5H1302.6M1215.4 1537H1302.6M1207.7 1537.5V1538.1M1207.7 1537.5H1302.6M1207.7 1538.1H1218.3M1218.3 1537.9V1538.3M1218.3 1537.9H1302.6M1218.3 1538.3H1302.6M1072.2 1540V1545.5M1072.2 1540H1113.2M1072.2 1545.5H1089.4M1113.2 1539.5V1540.5M1113.2 1539.5H1254.6M1113.2 1540.5H1177.2M1254.6 1539.2V1539.7M1254.6 1539.2H1302.6M1254.6 1539.7H1302.6M1177.2 1540.2V1540.9M1177.2 1540.2H1302.6M1177.2 1540.9H1199.5M1199.5 1540.6V1541.3M1199.5 1540.6H1302.6M1199.5 1541.3H1215.6M1215.6 1541V1541.5M1215.6 1541H1302.6M1215.6 1541.5H1302.6M1089.4 1543V1548M1089.4 1543H1278.8M1089.4 1548H1090.7M1278.8 1542.2V1543.8M1278.8 1542.2H1288.3M1278.8 1543.8H1282.8M1288.3 1542V1542.4M1288.3 1542H1302.6M1288.3 1542.4H1302.6M1282.8 1543.4V1544.2M1282.8 1543.4H1285.3M1282.8 1544.2H1302.6M1285.3 1543.1V1543.8M1285.3 1543.1H1294.4M1285.3 1543.8H1302.6M1294.4 1542.8V1543.3M1294.4 1542.8H1302.6M1294.4 1543.3H1302.6M1090.7 1545.8V1550.2M1090.7 1545.8H1097.4M1090.7 1550.2H1093.4M1097.4 1544.7V1546.9M1097.4 1544.7H1302.6M1097.4 1546.9H1184.4M1184.4 1546.5V1547.3M1184.4 1546.5H1241.8M1184.4 1547.3H1302.6M1241.8 1546.1V1546.9M1241.8 1546.1H1244.4M1241.8 1546.9H1302.6M1244.4 1545.7V1546.5M1244.4 1545.7H1284.8M1244.4 1546.5H1302.6M1284.8 1545.3V1546M1284.8 1545.3H1287.7M1284.8 1546H1302.6M1287.7 1545.1V1545.5M1287.7 1545.1H1302.6M1287.7 1545.5H1302.6M1093.4 1548.6V1551.8M1093.4 1548.6H1254.5M1093.4 1551.8H1123.2M1254.5 1548V1549.3M1254.5 1548H1257M1254.5 1549.3H1262.9M1257 1547.8V1548.2M1257 1547.8H1302.6M1257 1548.2H1302.6M1262.9 1548.9V1549.6M1262.9 1548.9H1277M1262.9 1549.6H1302.6M1277 1548.7V1549.2M1277 1548.7H1302.6M1277 1549.2H1302.6M1123.2 1550.6V1553M1123.2 1550.6H1288.5M1123.2 1553H1152.2M1288.5 1550.3V1551M1288.5 1550.3H1291M1288.5 1551H1302.6M1291 1550V1550.5M1291 1550H1302.6M1291 1550.5H1302.6M1152.2 1552V1554.1M1152.2 1552H1257.1M1152.2 1554.1H1169.8M1257.1 1551.6V1552.3M1257.1 1551.6H1277.7M1257.1 1552.3H1302.6M1277.7 1551.4V1551.8M1277.7 1551.4H1302.6M1277.7 1551.8H1302.6M1169.8 1553.4V1554.8M1169.8 1553.4H1192M1169.8 1554.8H1176.3M1192 1553V1553.9M1192 1553H1204M1192 1553.9H1223.2M1204 1552.8V1553.2M1204 1552.8H1302.6M1204 1553.2H1302.6M1223.2 1553.7V1554.1M1223.2 1553.7H1302.6M1223.2 1554.1H1302.6M1176.3 1554.5V1555M1176.3 1554.5H1302.6M1176.3 1555H1302.6M1064.6 1557.7V1584.4M1064.6 1557.7H1073.8M1064.6 1584.4H1067.3M1073.8 1556.3V1561.3M1073.8 1556.3H1184.2M1073.8 1561.3H1079.6M1184.2 1556V1556.7M1184.2 1556H1302.6M1184.2 1556.7H1264.7M1264.7 1556.4V1556.9M1264.7 1556.4H1302.6M1264.7 1556.9H1302.6M1079.6 1558.7V1564M1079.6 1558.7H1097M1079.6 1564H1082.5M1097 1557.9V1559.5M1097 1557.9H1166.2M1097 1559.5H1188.5M1166.2 1557.6V1558.2M1166.2 1557.6H1240.4M1166.2 1558.2H1302.6M1240.4 1557.3V1557.8M1240.4 1557.3H1302.6M1240.4 1557.8H1302.6M1188.5 1559V1560M1188.5 1559H1224.5M1188.5 1560H1302.6M1224.5 1558.7V1559.3M1224.5 1558.7H1302.6M1224.5 1559.3H1274.9M1274.9 1559.1V1559.6M1274.9 1559.1H1302.6M1274.9 1559.6H1302.6M1082.5 1561.4V1566.6M1082.5 1561.4H1133.2M1082.5 1566.6H1099.3M1133.2 1560.7V1562.1M1133.2 1560.7H1227.1M1133.2 1562.1H1153.6M1227.1 1560.5V1560.9M1227.1 1560.5H1302.6M1227.1 1560.9H1302.6M1153.6 1561.6V1562.6M1153.6 1561.6H1201.1M1153.6 1562.6H1159.3M1201.1 1561.4V1561.8M1201.1 1561.4H1302.6M1201.1 1561.8H1302.6M1159.3 1562.2V1562.9M1159.3 1562.2H1302.6M1159.3 1562.9H1164.8M1164.8 1562.7V1563.1M1164.8 1562.7H1302.6M1164.8 1563.1H1302.6M1099.3 1564.5V1568.6M1099.3 1564.5H1252.6M1099.3 1568.6H1168.7M1252.6 1564.1V1564.9M1252.6 1564.1H1262M1252.6 1564.9H1302.6M1262 1563.8V1564.5M1262 1563.8H1276.1M1262 1564.5H1302.6M1276.1 1563.6V1564M1276.1 1563.6H1302.6M1276.1 1564H1302.6M1168.7 1566.6V1570.5M1168.7 1566.6H1290.1M1168.7 1570.5H1179.9M1290.1 1565.9V1567.3M1290.1 1565.9H1292.6M1290.1 1567.3H1292.6M1292.6 1565.6V1566.3M1292.6 1565.6H1295.1M1292.6 1566.3H1302.6M1295.1 1565.4V1565.8M1295.1 1565.4H1302.6M1295.1 1565.8H1302.6M1292.6 1566.9V1567.6M1292.6 1566.9H1295.1M1292.6 1567.6H1302.6M1295.1 1566.7V1567.2M1295.1 1566.7H1302.6M1295.1 1567.2H1302.6M1179.9 1568.6V1572.4M1179.9 1568.6H1194.2M1179.9 1572.4H1187.3M1194.2 1568.1V1569.2M1194.2 1568.1H1302.6M1194.2 1569.2H1225.6M1225.6 1568.7V1569.6M1225.6 1568.7H1258.3M1225.6 1569.6H1240.8M1258.3 1568.5V1568.9M1258.3 1568.5H1302.6M1258.3 1568.9H1302.6M1240.8 1569.4V1569.8M1240.8 1569.4H1302.6M1240.8 1569.8H1302.6M1187.3 1570.8V1574M1187.3 1570.8H1208.4M1187.3 1574H1193.5M1208.4 1570.5V1571.2M1208.4 1570.5H1219.5M1208.4 1571.2H1302.6M1219.5 1570.3V1570.7M1219.5 1570.3H1302.6M1219.5 1570.7H1302.6M1193.5 1572.7V1575.4M1193.5 1572.7H1199.7M1193.5 1575.4H1202.6M1199.7 1571.8V1573.5M1199.7 1571.8H1285.9M1199.7 1573.5H1233.2M1285.9 1571.6V1572.1M1285.9 1571.6H1302.6M1285.9 1572.1H1302.6M1233.2 1573.1V1573.9M1233.2 1573.1H1239M1233.2 1573.9H1302.6M1239 1572.7V1573.4M1239 1572.7H1281.8M1239 1573.4H1302.6M1281.8 1572.5V1573M1281.8 1572.5H1302.6M1281.8 1573H1302.6M1202.6 1574.3V1576.6M1202.6 1574.3H1302.6M1202.6 1576.6H1208M1208 1574.8V1578.4M1208 1574.8H1302.6M1208 1578.4H1213M1213 1576.9V1579.8M1213 1576.9H1293.3M1213 1579.8H1222.4M1293.3 1576V1577.9M1293.3 1576H1295.8M1293.3 1577.9H1302.6M1295.8 1575.4V1576.6M1295.8 1575.4H1295.9M1295.8 1576.6H1295.8M1295.9 1575.2V1575.6M1295.9 1575.2H1302.6M1295.9 1575.6H1302.6M1295.8 1576.1V1577.1M1295.8 1576.1H1302.6M1295.8 1577.1H1295.8M1295.8 1576.8V1577.4M1295.8 1576.8H1295.9M1295.8 1577.4H1302.6M1295.9 1576.5V1577M1295.9 1576.5H1302.6M1295.9 1577H1302.6M1222.4 1579V1580.7M1222.4 1579H1248.8M1222.4 1580.7H1226.6M1248.8 1578.5V1579.4M1248.8 1578.5H1283.6M1248.8 1579.4H1257.4M1283.6 1578.3V1578.8M1283.6 1578.3H1302.6M1283.6 1578.8H1302.6M1257.4 1579.2V1579.7M1257.4 1579.2H1302.6M1257.4 1579.7H1302.6M1226.6 1580.3V1581M1226.6 1580.3H1238.3M1226.6 1581H1302.6M1238.3 1580.1V1580.6M1238.3 1580.1H1302.6M1238.3 1580.6H1302.6M1067.3 1582.5V1590.1M1067.3 1582.5H1103.8M1067.3 1590.1H1139M1103.8 1582V1583.1M1103.8 1582H1302.6M1103.8 1583.1H1132.9M1132.9 1582.5V1583.7M1132.9 1582.5H1302.6M1132.9 1583.7H1149.2M1149.2 1582.9V1584.5M1149.2 1582.9H1302.6M1149.2 1584.5H1169.5M1169.5 1583.8V1585.2M1169.5 1583.8H1268.6M1169.5 1585.2H1302.6M1268.6 1583.4V1584.1M1268.6 1583.4H1302.6M1268.6 1584.1H1274.9M1274.9 1583.8V1584.5M1274.9 1583.8H1302.6M1274.9 1584.5H1277.5M1277.5 1584.3V1584.7M1277.5 1584.3H1302.6M1277.5 1584.7H1302.6M1139 1586.5V1593.7M1139 1586.5H1266M1139 1593.7H1147.1M1266 1585.8V1587.1M1266 1585.8H1273.7M1266 1587.1H1267.4M1273.7 1585.6V1586.1M1273.7 1585.6H1302.6M1273.7 1586.1H1302.6M1267.4 1586.7V1587.4M1267.4 1586.7H1287.7M1267.4 1587.4H1302.6M1287.7 1586.5V1587M1287.7 1586.5H1302.6M1287.7 1587H1302.6M1147.1 1589.9V1597.5M1147.1 1589.9H1179.3M1147.1 1597.5H1151.3M1179.3 1588.8V1591M1179.3 1588.8H1268.9M1179.3 1591H1237.4M1268.9 1588.4V1589.2M1268.9 1588.4H1273.5M1268.9 1589.2H1302.6M1273.5 1588.1V1588.8M1273.5 1588.1H1294.4M1273.5 1588.8H1302.6M1294.4 1587.9V1588.3M1294.4 1587.9H1302.6M1294.4 1588.3H1302.6M1237.4 1590.5V1591.5M1237.4 1590.5H1258.7M1237.4 1591.5H1302.6M1258.7 1590V1591M1258.7 1590H1282.7M1258.7 1591H1302.6M1282.7 1589.7V1590.4M1282.7 1589.7H1302.6M1282.7 1590.4H1289.7M1289.7 1590.1V1590.6M1289.7 1590.1H1302.6M1289.7 1590.6H1302.6M1151.3 1593.9V1601.1M1151.3 1593.9H1180.4M1151.3 1601.1H1154.5M1180.4 1592.9V1594.9M1180.4 1592.9H1186.8M1180.4 1594.9H1192M1186.8 1592.5V1593.3M1186.8 1592.5H1210.6M1186.8 1593.3H1302.6M1210.6 1592.2V1592.8M1210.6 1592.2H1241.4M1210.6 1592.8H1302.6M1241.4 1591.9V1592.4M1241.4 1591.9H1302.6M1241.4 1592.4H1302.6M1192 1594.1V1595.7M1192 1594.1H1210.2M1192 1595.7H1197.1M1210.2 1593.7V1594.4M1210.2 1593.7H1302.6M1210.2 1594.4H1269.7M1269.7 1594.2V1594.6M1269.7 1594.2H1302.6M1269.7 1594.6H1302.6M1197.1 1595.3V1596M1197.1 1595.3H1268.9M1197.1 1596H1302.6M1268.9 1595.1V1595.5M1268.9 1595.1H1302.6M1268.9 1595.5H1302.6M1154.5 1597.6V1604.6M1154.5 1597.6H1162.2M1154.5 1604.6H1159.9M1162.2 1597V1598.3M1162.2 1597H1226.5M1162.2 1598.3H1302.6M1226.5 1596.5V1597.5M1226.5 1596.5H1302.6M1226.5 1597.5H1248.3M1248.3 1597.1V1597.8M1248.3 1597.1H1294.4M1248.3 1597.8H1302.6M1294.4 1596.9V1597.4M1294.4 1596.9H1302.6M1294.4 1597.4H1302.6M1159.9 1600.2V1609M1159.9 1600.2H1206.8M1159.9 1609H1165.7M1206.8 1598.9V1601.4M1206.8 1598.9H1252.7M1206.8 1601.4H1235.6M1252.7 1598.7V1599.2M1252.7 1598.7H1302.6M1252.7 1599.2H1302.6M1235.6 1600V1602.8M1235.6 1600H1242.8M1235.6 1602.8H1248M1242.8 1599.6V1600.4M1242.8 1599.6H1302.6M1242.8 1600.4H1245.5M1245.5 1600.1V1600.7M1245.5 1600.1H1302.6M1245.5 1600.7H1247.4M1247.4 1600.5V1601M1247.4 1600.5H1302.6M1247.4 1601H1302.6M1248 1602.4V1603.2M1248 1602.4H1277.4M1248 1603.2H1302.6M1277.4 1602V1602.8M1277.4 1602H1281.9M1277.4 1602.8H1302.6M1281.9 1601.6V1602.3M1281.9 1601.6H1293.3M1281.9 1602.3H1302.6M1293.3 1601.4V1601.9M1293.3 1601.4H1302.6M1293.3 1601.9H1302.6M1165.7 1604.8V1613.3M1165.7 1604.8H1169.1M1165.7 1613.3H1176.4M1169.1 1604V1605.5M1169.1 1604H1213.4M1169.1 1605.5H1202.3M1213.4 1603.7V1604.4M1213.4 1603.7H1302.6M1213.4 1604.4H1270.8M1270.8 1604.1V1604.6M1270.8 1604.1H1302.6M1270.8 1604.6H1302.6M1202.3 1605V1606M1202.3 1605H1302.6M1202.3 1606H1211.5M1211.5 1605.5V1606.4M1211.5 1605.5H1302.6M1211.5 1606.4H1219M1219 1605.9V1607M1219 1605.9H1302.6M1219 1607H1229.2M1229.2 1606.6V1607.3M1229.2 1606.6H1256.1M1229.2 1607.3H1302.6M1256.1 1606.4V1606.8M1256.1 1606.4H1302.6M1256.1 1606.8H1302.6M1176.4 1609.6V1617M1176.4 1609.6H1191.7M1176.4 1617H1214.4M1191.7 1608.7V1610.5M1191.7 1608.7H1267.5M1191.7 1610.5H1205.8M1267.5 1608.3V1609.1M1267.5 1608.3H1285.8M1267.5 1609.1H1302.6M1285.8 1608V1608.6M1285.8 1608H1288.3M1285.8 1608.6H1302.6M1288.3 1607.7V1608.2M1288.3 1607.7H1302.6M1288.3 1608.2H1302.6M1205.8 1609.8V1611.2M1205.8 1609.8H1275.4M1205.8 1611.2H1210M1275.4 1609.5V1610M1275.4 1609.5H1302.6M1275.4 1610H1302.6M1210 1610.5V1611.9M1210 1610.5H1302.6M1210 1611.9H1214.8M1214.8 1611.5V1612.3M1214.8 1611.5H1235.7M1214.8 1612.3H1302.6M1235.7 1611.1V1611.8M1235.7 1611.1H1286.1M1235.7 1611.8H1302.6M1286.1 1610.9V1611.4M1286.1 1610.9H1302.6M1286.1 1611.4H1302.6M1214.4 1613.6V1620.5M1214.4 1613.6H1294.3M1214.4 1620.5H1245.3M1294.3 1612.9V1614.3M1294.3 1612.9H1295.9M1294.3 1614.3H1294.3M1295.9 1612.7V1613.2M1295.9 1612.7H1302.6M1295.9 1613.2H1302.6M1294.3 1613.6V1614.9M1294.3 1613.6H1302.6M1294.3 1614.9H1294.3M1294.3 1614.3V1615.5M1294.3 1614.3H1295.9M1294.3 1615.5H1294.3M1295.9 1614.1V1614.5M1295.9 1614.1H1302.6M1295.9 1614.5H1302.6M1294.3 1615.2V1615.9M1294.3 1615.2H1295.9M1294.3 1615.9H1302.6M1295.9 1615V1615.4M1295.9 1615H1302.6M1295.9 1615.4H1302.6M1245.3 1617.5V1623.4M1245.3 1617.5H1270.7M1245.3 1623.4H1275.7M1270.7 1616.5V1618.4M1270.7 1616.5H1287.5M1270.7 1618.4H1273.8M1287.5 1616.3V1616.8M1287.5 1616.3H1302.6M1287.5 1616.8H1302.6M1273.8 1617.5V1619.4M1273.8 1617.5H1294.4M1273.8 1619.4H1276.9M1294.4 1617.2V1617.7M1294.4 1617.2H1302.6M1294.4 1617.7H1302.6M1276.9 1618.7V1620M1276.9 1618.7H1289.4M1276.9 1620H1279.6M1289.4 1618.4V1619M1289.4 1618.4H1291.9M1289.4 1619H1302.6M1291.9 1618.1V1618.6M1291.9 1618.1H1302.6M1291.9 1618.6H1302.6M1279.6 1619.5V1620.6M1279.6 1619.5H1302.6M1279.6 1620.6H1281.6M1281.6 1620.2V1621.1M1281.6 1620.2H1294.4M1281.6 1621.1H1284.7M1294.4 1619.9V1620.4M1294.4 1619.9H1302.6M1294.4 1620.4H1302.6M1284.7 1620.8V1621.3M1284.7 1620.8H1302.6M1284.7 1621.3H1302.6M1275.7 1622.9V1624M1275.7 1622.9H1294.4M1275.7 1624H1302.6M1294.4 1622.2V1623.5M1294.4 1622.2H1295.9M1294.4 1623.5H1302.6M1295.9 1621.7V1622.8M1295.9 1621.7H1302.6M1295.9 1622.8H1295.9M1295.9 1622.4V1623.1M1295.9 1622.4H1295.9M1295.9 1623.1H1302.6M1295.9 1622.2V1622.6M1295.9 1622.2H1302.6M1295.9 1622.6H1302.6" fill="none" stroke="#000" stroke-width="1.5" stroke-linecap="square"/>
<rect x="1294.3" y="6" width="9.3" height="1621" fill="#000"/>
<polyline points="1155.6,561.9 1279.5,565.2 1283.3,696.5 741.4,64.3 1272.1,557.7 1299.4,1297.6 1287.3,1354.5 1270.1,660.4 1207.2,170.4 1294.4,1236.5 1264.2,286.6 1213.3,894.2 1272.3,577.6 1258.8,493.4 1169.3,270.7 1233.4,1583.1 1284.7,1086.2 1225.3,1106.7 1216.5,478.4 1106.8,393.6 1299.4,1459.5 1296.6,544.2 1281.2,870.5 1235.3,567.1 1217.7,1586.4 1263.8,1521.5 1299.4,287.5 1259.3,1520.8 1283.6,298.5 1276.8,592.3 1192,1553.4 1226.5,1318.9 1286.7,891.5 1253.7,1175.4 1292.1,1009.2 1275.2,1230.1 1242.9,1400 1285.5,1348 1200.7,553 1286.7,1083.6 1168.7,1568.6 1276.2,694 1199.8,554.8 1239.8,1505.9 1257.4,1114.6 1252.9,906.5 1057.1,706.5 1268.6,1583.8 1194.6,1465.1 1105.3,1263.9 1296.4,442.2 1094,391.4 1294.2,97.3 1192.5,993.9 1293,1336.4 1230.2,1080.1 1010.4,929.4 1275.7,975.3 1046,1061.3 1080.4,713.1 1295.9,1327.4 1270.5,941.4 1260,415.8 1254.6,1297.6 1099.3,1566.6 1067.5,1119.8 1181.8,244.5 1257.9,1301.6 1199,447 1294.4,1413.1 1246.9,388.9 1042.2,94.1 1280.2,1058.3 1284.1,1299.9 1292.9,705.5 1277.1,45 1210.3,107 1250.7,1129.8 1294.6,1291.3 1223.2,1553.9 1299.4,998.2 1299.4,742.7 1208.2,954.9 1289,1476.4 1292.6,1594 1213,1578.4 1122.4,256.1 1070,1012 1244.8,1561.8 1299.4,491.7 1255.7,150.5 1217,1568.6 1263.2,1202.2 1089.4,1545.5 1261.3,1301.7 1205.9,272.5 1275.5,881.6 1284.5,366.2 1269.5,264.6 1238,1373.4 1265.6,269.9 1278.9,780.9 1181.8,1125.2 1290.8,363.6 1299.4,714 1299.4,331.7 1285.9,1571.8 1244.3,1255.5 1282.1,1187.5 1226.9,1082 1277.3,212.2 1288,1296.2 1146,1528 1211.1,1138.4 1295.9,1244.6 1282.8,1455.8 1193.5,1071 1254.6,1539.5 1294,1170.9 1263.9,363.5 1271.6,1376 1294.6,117.7 1295.4,216.7 1288.3,675.4 1274,937 1245.8,236.5 1266.3,114.5 1278.9,1586.9 1027.3,1450 1159,555.8 1253,416.8 1228.6,64 1292.1,1443.4 1124,390.7 1271,638 1288.6,240.4 1176.3,1135.7 1281.8,319.2 1258.9,56.1 1239.8,993.2 1168.3,1124.4 1087.8,952.4 1215.8,150 1262.8,495.7 1219.5,911.6 1299.4,1000.4 1295.9,1434.3 1264.9,1477.3 1277.2,1264.6 1192.2,469.6 1268.6,233.8 1262.4,279.4 1287.9,237.1 1256.3,457.6 1278.4,26.5 1197,1285.1 1295.9,284.6 1249.1,1282 1250.1,1347.1 1299.4,40.4 1250.3,178.3 1299.4,1168.4 1175.7,167 1267.9,1044 1277.5,358.7 1200.5,751.4 1123.2,1551.8 1258.1,745.6 1285.5,845.2 1293.4,1499.1 1271.7,1160.3 1295.9,205 1289.7,1034.1 1139.7,922.4 1180.3,190.4 1296.5,190.4 1216.8,388.8 1255.1,392.1 1234.3,770.3 1296.7,480.7 1122.6,710.5 1258.5,1270.3 1258.4,837.9 1223.6,887.1 1194.1,82.4 1244.1,1533.2 1204.1,1573.4 1285.7,370.7 1207.6,948.1 1285.7,1568.5 1130.3,996.1 1242.1,1300.2 1220.1,1192.7 1295.9,283.2 1279.9,1457.4 1299.4,9.6 1274,1126.4 1280,941.9 1131.4,1122.2 1299.4,1534.8 1276.2,669.2 1226.1,1124.5 1206.1,910.2 1289.1,195.4 1216.3,383.7 1274,568.7 1252.6,140.5 1229.9,1023.6 1198.6,990.7 1284.3,75.3 1269.7,1506.2 1284.2,265 1098.5,250.4 1259,183.6 1278.1,338.6 1275.8,961.3 1174.3,1047.1 1156.4,1096.8 1215.4,1536.8 1257.4,1025.8 1194.1,259.1 1211.4,306.3 1158.6,77.4 1180.5,497.8 1239.4,1052.3 1203.3,1080 1299.4,981.5 1294.5,1569.7 1266.9,1388.3 1299.4,857.6 1242.2,1320.2 1286.3,675.2 1240.8,921.4 1267.9,571.9 1299.4,887.3 1299.4,665.6 1276.8,684.5 1292.7,1258 1238.4,173.4 1294.4,1334.6 1274.2,1514.1 1215.3,609.4 1293,568.6 1260.1,984.4 1267.2,287.1 1299.4,306 1191.9,1305.1 1273.9,1042 1165.3,45.9 1146.4,1022.4 1232.2,1516 1293.9,870.7 1261.5,439.2 1292.9,860.1 1030.7,554.3 1221.7,102.2 1295.9,1432.3 968,553.2 1260.8,495.6 1283.9,1388.7 1273.5,1182.2 1214.9,1585.8 1208.4,1570.8 1245.4,334.4 1224,1531.4 1268.3,1250.7 1187.7,115.8 1094.3,1084.7 1143.5,160.8 1274.9,980 1275.3,1288.3 1169.8,952.5 1201.9,1139.4 1152.8,1119.9 1252,1371.2 1250.5,417.2 1262.9,993.9 1263,102.3 1258.3,1131 1154.6,908 1194.4,961.5 1261.8,274.5 1299.4,880.2 1043.4,1081.4 1264.6,126.8 1281,310.2 1294.4,1335.5 1264.9,973.6 1239.1,237.5 1219.6,1289.3 1234.3,51.9 1295.9,1474.6 1247.5,1137.5 1292.1,1258.5 1264.4,1384.2 1299.4,683.1 1226.4,450.7 1266.7,882.8 1289.7,1359.1 1221.3,1125.7 1235,290.4 1213.3,1081.1 1166.4,1027.1 1282.4,1439.7 1289.5,183.1 1252.2,1364.4 1293.4,1470.6 1246.3,261.3 1299.4,567.2 1295.9,1426.4 1269.4,1364.6 1265.9,451.9 1299.4,335.3 1204.5,908.1 1036.5,931.2 1295.1,955.5 1299.4,1350.6 1211.9,230.8 1299.4,556.1 1280.9,729.2 1299.4,464.1 1238.4,259.4 1276.5,1185.8 1283.9,1381 1275,40.5 1205.6,1271.3 1254.9,695.1 1188.3,919.2 1299.4,416.7 1197.4,268.2 758.7,84.7 1295.9,1242.6 1231.1,388.6 1037.6,718.7 1293.4,757.8 1288.5,265.1 1178.5,86.1 1299.4,840.9 1182.2,46.5 1296.3,196.8 1294.8,240.4 1280.9,1524.7 1155.5,886.1 1246.5,940.6 1288.5,1550.6 1286.8,441.4 1156.3,1020.5 1044.5,721 1299.4,194.3 1266.9,215.7 1231.4,476.8 1290.2,1223.8 1283.4,487.7 1237.1,1095.1 1207.9,1597.3 1126.8,919.9 1077.8,949.6 1274.6,851.6 1263.3,542.8 1269,11.3 1193.4,563.3 1258.8,264.1 1294.4,1418.4 1299.4,689.4 1285.3,643.8 1275.3,282.9 1258.5,744.2 995.5,1450 1262.5,568.4 1271.4,930.2 1282.2,41.6 1294.4,1231.9 1294.4,1217.1 1269.5,271.7 1276.2,990.5 1284.1,343 1137.1,1266.4 1288.2,1460.1 1282.3,1582.5 1159.3,1562.6 1265.7,415.9 1217.8,271.4 1249.6,154.3 1299.4,1533 1091.2,1061.2 1294.4,487.4 1078.4,930.9 1220.4,732.9 1228,1293.9 1022.1,390.3 1294.4,680.6 1261.7,1320 1171.9,1149.9 1299.4,274.8 1191,149.2 1294.4,1221.5 1274.9,357.7 1251,746.4 1237.6,777.4 1213,911.6 1289.2,737.1 1273.9,397.7 1239,1573.1 1247.5,984.9 1263.6,448.7 1248.3,1062.8 1299.4,1334.9 1293.4,1326.4 1079.4,1084.5 1273.5,71.2 1124.5,1518.8 1249.6,936.2 1252.3,282.5 1234,1094.7 1283.5,1365.8 1233.4,951.5 1159.1,562.5 1295.9,1495.4 1238.2,910.9 1273.5,264.8 1295.9,865 1299.4,940.4 1293.9,979.5 1287.3,1363.5 1299.4,717.5 1287.2,923.5 1289.4,1300.2 1228.3,74.7 1214.4,85.2 1299.4,160.6 1206,239.4 1069.5,153.2 1288.8,1164.4 1294.1,398.9 1296.8,155 1268.4,912.5 1299.4,115.1 1283.4,418.3 1191.7,1609.6 1279.2,685.7 1186.9,166.7 1251,7.8 1240.8,179 1199.8,563.3 1299.4,742.3 1225.9,43.7 1257.3,452.4 1249.4,149.3 1299.4,688.5 1295.9,410.6 1299.4,495.8 1261.5,88.4 1267.7,320.7 1284.2,739.8 952.1,397.8 1238.4,1290.8 1245,966.3 1299.4,1109.4 1293.4,651.2 1102,1096.3 1274.5,1317.1 1295.9,1415.2 1273.4,779 1264.7,888.4 1240.4,1097.7 1287.1,1100.4 1227.9,241.4 1299.4,1512 1163.6,460.3 1299.4,1479.9 1245.9,1358.5 1248.8,901.5 1139.3,367.7 1211.5,270.5 1288.9,699.6 1274.9,1559.3 1289.9,1209.9 1209,1068.5 1278.7,1260.5 1206.1,645.7 1293.7,1217.1 1294.4,837.6 1259.6,441.4 1296.3,1592 1250.7,1088.2 1289.8,882.2 1253.8,1505 1134.2,49 1276.9,1175.1 1262.9,42.1 1287.2,1039.4 1299.4,59.9 1267.5,459.2 1299.4,80 1299.4,893.6 989.8,710.1 1278.5,453.6 1279.6,170.1 1149.6,367.7 1277,904 1232.7,310 1239.8,918 1271.2,1399.9 1272.8,1381.1 1257.4,1579.4 1259.4,1389.9 1270.9,496.2 1244.2,1264.3 1241.7,325 1251.9,1287.7 1250.8,1270.7 1279.4,942.9 1198,453.8 1295.9,409.2 1227.2,45.8 1220.3,455.4 1204.5,84.5 1287.7,1545.3 1238.4,309.9 1258.1,782.9 1287,1059.7 1299.4,1195.1 1238.7,198.8 1299.4,1433 1165.3,1299.7 1268.6,121.1 1299.4,221 1299.4,1306 1283.7,1220.9 1216.6,407 1206.6,334.4 1270.2,700.9 1205,774.4 1207.1,1286.8 1271.1,37.6 1230.8,1201.4 1299.4,491.2 1214.3,271.4 1255,1295.2 1264.6,917 1299.4,849.5 1287.7,20.2 1299.4,1332.2 1222.6,444.5 1065.6,1101.2 1277.5,1584.5 1218.5,264.5 1114.2,302.9 1266.4,1377.3 1262.9,565.6 1281.9,266.4 1279.4,249.1 1192.9,1048.6 1273.5,1214.2 1262.6,1123.4 1238.1,940.6 1050.5,1515.7 1277.2,277.3 1279.3,167.8 1246.1,1474.2 1258.8,176.7 1279,1373.2 1196.6,1023.1 1163,49 1272,1577.7 1231.6,174 1266.8,845.3 1268.5,1351.3 1294.4,856.1 1294.4,1234.2 1282,789.1 1225.8,25.8 1285.6,981.4 1122.9,1160.3 1181.4,145.3 962,1157.1 1209.3,271.5 1292.8,892.5 1252.5,453.7 1294.4,1163.7 1060.4,1453.1 1204.1,1072.2 1253.5,597.5 1280.4,300 1225.7,1289.1 1213.2,447.2 1184.1,713.5 1145,951.2 1285.9,459.4 1256.8,904.7 1234.9,1209.4 1295.9,753.3 1288.5,1335.3 1251.8,1365.9 1286.7,261.7 1299.4,849 1274,1522.7 1278.6,695.3 1248.7,1272.6 1281,23.4 1228.3,473.5 1299.4,1148.1 1230.9,477.2 1299.4,116.5 1287.8,937.1 1233.1,238 1286.4,845.3 1097.9,1023.5 1228.9,459.9 1225.2,1023.9 1260.2,1515.7 1264.5,1064.3 1212.4,1318 1284.2,980.4 1236.4,402 1237.4,1591 1227.6,578.5 1251.9,1349 1130.4,367.5 1299.4,17.4 1240.9,1531.2 1249,1156.9 1299.4,780.1 1224.3,1271 1208.5,442.3 1247.4,998 1267.3,352.4 1213.4,730 1284.7,319.3 1118.6,76.5 1292.5,174.9 1294.4,1471.5 1045.8,434.9 1299.4,220.6 1194.9,1069.4 1278.5,584.8 1176.8,948.3 1174.8,89.1 1293.6,549.7 995.3,209.7 1245.8,1173 1140,470 1135.4,47.2 1266,1343.8 1299.4,696.7 1275.8,578.8 1257.8,9.9 1229.9,277.4 1137.7,1527.2 1268.3,153 1215.1,1190.9 1177.2,157.5 1226.9,321 1100.9,1516.9 1166,677.5 1212.8,308.1 1245,431.1 1084.3,437.3 1290.2,397.1 1241.1,1124 1294.4,194.2 1236.6,985.4 1293.4,223.5 1254.5,1548.6 1299.4,992.8 1248.3,1156 1292.8,39.2 1283.8,1449.6 1282.9,374.7 1284.4,1172.3 1299.4,1352.9 1282.4,1335.8 1285.7,1172.7 1279.5,706 1191.9,1023.3 1248.9,313.9 1192.3,604.8 1197.6,13.2 1266.2,374.6 1281.2,1456.2 1232.9,1584.1 1276.7,472.9 1187.4,1218.4 1274.1,434.3 1250.7,1503 1209.1,594.6 1278.4,1363.2 1216.8,314.3 1273.7,1585.8 1289.2,749.6 1267.4,896.5 1299.4,1333.1 1281.4,1173.3 1257.6,406 1286.4,376.1 1210.3,1189.2 1251.1,592 1215.6,21.1 1162.3,555.2 1282.3,1598 1270.6,1175.8 1291.5,1156.1 1263.2,712.4 1262.6,401.5 1299.4,1547.3 1294.1,572.6 1296.7,484.6 1299.4,560.1 1177.6,1197.6 1200.9,1557.9 1248.2,725.3 1290.1,1146.3 1230.4,274.3 1178.2,1533.5 1225.7,979.6 1293.7,1385.5 1168.5,13.8 1135.2,458.1 1293.4,356.1 1204.3,754.7 1282.7,182.8 1285.7,1163.7 1268.4,156.6 1299.4,565.9 1299.4,1366.4 1121.1,598.8 1272.8,1271.2 1266.3,133.3 1292.8,397.4 1290.5,491.5 1249.1,1564 1299.4,405 1159.1,241.1 1263.7,293.8 1258.8,693.9 1248.8,564.6 1299.4,1311.9 1292.9,762.3 1294.4,740.7 1279.3,397.8 1246.8,34.4 1226.4,461.5 1264.4,317.8 1286.5,949.2 1290.1,279.6 1180.1,1073.9 1215.9,1535.2 1299.4,895.8 1283.3,412 1103.1,1520 1299.4,884.6 1253.9,334 1251.9,1407.9 1283.2,711.1 1259.8,930 1146.1,1117.6 1227.4,725.4 1220.4,89.9 1299.4,211.1 1299.4,247.9 1299.4,203.9 1299.4,1083.5 1238.7,113.8 1277.7,1007.8 1195.6,1176.4 1288.4,737.8 1091.9,546.6 1251.5,1304.4 1294.4,1597.1 1110,489.8 1162.8,1532.6 1123.8,30.6 1254.9,590.3 1205.1,1121.4 1220.2,1352.6 1299.4,863.9 1293.3,126.1 1253.8,315 1240.3,61.6 1214.6,266.9 1175.6,1268.6 1283.9,1528.1 1171.7,1198 1266.2,68 1296.1,354 857.7,491.3 1177.8,553.9 1141.9,72.2 1264,553.6 1280.8,1381.4 1256.9,662.7 1088,85.8 1261.9,679.1 1201,1179 1268.6,1557.6 1296.5,1148.6 1154.8,175.2 1262.4,1094.1 1231.7,144.1 1289,606.7 1294.4,861.4 1289.1,87.4 1049.2,1112.1 1065.6,905.7 1258.5,147 1193.1,91 1246.5,242 1293.4,651.8 1194,1115.2 1299.4,1135.5 1291.1,487.9 1270.3,837.7 999.2,742.8 1299.4,133.7 1291.3,761.6 1212.9,1269 1299.4,580.7 1276,1213.4 1289.8,317.5 1282.4,151.4 1293.4,39.8 1105.3,1123.6 1134.6,84.1 1240.8,174.8 1232.1,605.1 1292.4,327.8 1189,565.4 1148.1,483.3 1197.9,1271.9 1163.6,272.7 1221,1328.8 1282.5,1355.3 1294.4,1459.3 1299.4,371.9 1299.4,141.8 1282.4,1104.5 1251.1,1042.1 1266.3,56.8 1092.6,1019.1 1273.4,1110.5 1280.7,475.3 1234.2,348.4 1094.1,1520.7 1286.8,17.2 1150.9,1078.6 1215.3,906.9 1152.9,1103.5 1293.2,369.3 1192,1594.9 1288.1,301.6 1271.4,1009.2 1294.4,154.6 1146.9,1091.8 1191.2,962.5 1191.5,272.6 1056,60.7 1299.4,1117.1 1212.2,165.9 1296.7,48.3 1258.5,234.4 1178.1,1026.2 1131,94.1 1269.5,730.1 1275,415 1237,993 1247.1,157.5 1245.5,1530.5 1295.9,1423.8 1278.5,438.8 1299.4,1517.1 1279.2,1250.7 1210.8,1269.8 1284.1,603.1 1192.7,924.3 1050.2,271.2 1286.7,282.5 1271.1,108.5 1252.5,292 1140.9,683.2 1263.5,945.7 1295.9,1409.7 1299.4,704.8 1192.4,692 1265.5,121.4 1270.2,1104.9 1240.5,853 1077.2,1221.3 1299.4,1431.6 1217.8,764.8 1293.4,1429.6 1280.3,597.5 1113.2,1098.6 1253.3,1201.4 1296.8,790.8 1274.6,1463.9 1221.3,165.2 1281.3,1126.8 1239.2,154.1 1295.9,344.9 1124.9,558.4 1294.4,725.4 1296.4,1565.4 1224.3,1175.9 1103.9,1026.2 1278.9,381.9 1285.6,69.8 1285.6,836.6 1299.4,362.9 1222.9,33.1 1228.2,942.1 1195.7,165.3 1276.9,326.5 1271,1366.9 1281.6,1620.6 1189.3,367.6 1295.6,733.4 1265.9,1305.1 1279.1,128.2 1187.1,321.7 1295.9,1415.5 1050.5,1517.7 1130.8,91.9 1187.3,1572.4 1206.1,1197.2 1250,1073 1199.2,333.3 1242,964.1 1178.1,566.5 1214.4,923.6 1284.1,1543.7 1129.1,24.8 1272.8,255.9 1299.4,1245.7 1182,231.9 1254.7,1291.5 1154.9,1543.9 1253.6,258.8 1291.2,1448 1204.2,603.1 1292.6,442.1 1299.4,1347.9 1280.9,769.4 1272.6,429.8 1133.7,1097.1 1299.4,1393.4 1273.4,459.7 1296.2,606 1277.7,1260.2 1169.9,951.6 1204,1186.3 1214.7,733.5 1293.2,1173.2 1259.8,541.9 1295.5,937.1 1278.9,70.9 1232.2,81.5 1181,986.3 1180,1117.7 1295.9,1413.9 1204.2,718 1212.8,51.2 1248.4,48 1268.6,1282.9 1293.9,766.6 1289.8,1558.2 1272.2,1588.9 1243.7,1067.7 1299.4,1456.8 1071.2,946.6 1265,74.1 1299.4,1075.8 1249.7,1118.6 1233.8,900 1292.4,38 1124,33.3 1286.7,1096.7 1169.6,561.6 1175.1,77.6 1165.7,1609 1240.8,153.5 1183.8,113.5 1299.4,603.8 1283.5,346 1262.3,1259.4 1204.2,602.2 1293.3,206.7 1235.3,333.6 1284.4,1466.5 1277.6,77.1 1264.3,839 1183.5,1022 1296.1,1405.4 1229.3,269.5 1176.5,1543.7 1212.7,406.6 1279.8,22.7 975,985 1262.7,1379.1 1276.6,743.5 1299.4,1153 1145.3,1074.2 1272.3,102.7 1113.6,93.1 1129.4,77.2 1296.6,1293.6 1283.8,664.9 1267.3,1461.2 1286.4,1008.5 1023.8,34.3 1290.9,151.1 1285,36.7 1253,159.7 1238.7,1200.7 1299.4,1210.5 1264.6,132.2 1295.9,651.2 1260.1,1073.8 1278,350.3 1236.4,1186.5 1211.5,1606 1280.8,1098.2 1220.7,1583.6 1265.7,99 1253.2,401.4 1270.6,894.6 1299.4,736.9 1227.4,1372 1086.8,569.6 1197.9,995 1269.3,695.7 1187.3,146.5 1299.4,1293.9 1218.9,61 1263.8,1188.6 1216.2,1121.3 1264.1,381.7 1192.9,1067.2 1264,1102.7 1286.3,255.2 1115.2,707.6 1231.8,570.1 1276.4,1456.5 1295.7,417.3 1292.7,1501.8 1299.4,52.2 1040.6,862 1293.4,103.1 1290.8,1374.3 1253,34.8 1159.7,263.9 1258.7,602.2 1129.1,1524.6 1241.8,417.9 1175.6,1028 1283.6,909.2 1074,1134.4 1077.8,168.9 1275.4,1609.8 1295.9,1508.1 1095,1087.3 1133.2,1561.4 1299.4,870.6 1299.4,959.4 1067.2,288.7 1198.7,1527.1 1228.4,356.6 1207.1,1140.3 1256.7,931.8 1065.8,1060.9 1251,1183.5 1202.7,1024.4 1064.2,1082.2 1257.1,1491.2 1279.8,1194.1 1280.7,341.9 1275.6,319.6 1086.4,992.5 1057.7,904.7 1263.7,746.1 1131.8,1097.1 1279.8,1259.7 1293.4,1164.6 1288.3,1608 1271,119.9 1237.9,386.7 1294.4,687.6 1278.3,208.1 1244.5,1079.2 1225.3,387.6 1290.6,350.2 1274.3,481.9 1256.7,102.3 1239.1,14.8 1272.2,356.7 1231.5,853.5 1228,791.9 1293.8,1245.5 1269.1,587.4 1264,933.4 1239.9,718.9 1295.9,1434.3 1294.4,224.8 1280.1,788.5 1260.7,1264.9 1293.8,88.2 1280.4,685.7 1264.3,415.4 1169.8,1554.1 1235.6,15.5 1271.8,101.7 1268.8,922 1214,50.5 1229.6,939.6 1197.7,1135.6 1273.8,248.9 1271.9,1113.2 1294.4,749.2 1293.4,473.8 1295,300.5 1285.4,791.2 1167.5,176.4 1273.5,707.8 1299.4,1420.8 1299.4,1009.4 1294.4,865.7 1275.3,912.8 1264.5,731.8 1137.5,561.2 1293.6,1013.5 1254.2,1072.5 1278.5,236.2 1266.1,436.4 1259.7,114.3 938.3,562.7 1284.5,289.1 1299.4,1587.9 1065.9,557.1 1269,317.9 1256.8,1069.4 1294.4,1292.3 1231.2,956.9 1246,145.7 1286.5,679.7 1256.9,362 1295.3,227.3 1272.1,11.3 1288.4,1374.8 1275.2,1111.4 1218.3,1538.1 1283.9,373.7 1299.4,330.3 1180.9,148.9 1126.6,1106.6 1281.6,667.7 1172.1,1074.2 1243.3,1489.1 1171.8,567.4 1299.4,682.6 1295.9,1622.4 1139.2,909.8 1299.4,968.5 1245.7,425.7 1246.2,310.6 1276.7,1054.2 1293.2,903.9 1289.7,1051.1 1299.4,64.4 1287.9,454.8 1244.7,150 1299.4,909.4 1299.4,1284.9 1144.8,894.1 1210,241.9 1250.3,709 1175.6,256.5 1292,202.2 1258.4,1258.6 1293.2,660.3 1284,324.7 1073.8,1557.7 1146.5,1534.9 905.8,10.6 1299.4,1523.8 1201.6,159.3 1269.5,1426 1273.9,424 1268.6,430.3 1232.9,428.7 1253.4,237.7 1205,1572.8 1281.6,1260.9 1232.1,1264 1206.3,87.7 1193.6,732.6 1299.4,715.8 1280.3,745 1195.9,1541.8 1244,960.8 1293.4,1033.9 1288.4,1317.7 1262.1,209.5 1241.4,1085.1 1153.1,920.2 1259.8,1579.9 1284.8,357.9 1284.2,1511 1299.4,1061.4 1295.9,224.4 1282.3,965.1 1263.3,1280 1235.3,1511.6 1139.9,162.5 1267.7,1560.4 1278.5,1254.2 1149.1,1070 1063.1,1057.4 1284.9,1286.9 1204.9,303.1 1080.6,231.3 1244.9,186.6 1290.7,138 1254.2,302.8 1282,560.3 1299.4,193.4 1241,26.9 1148.6,440.9 1254.7,1490.8 1272.9,1037 1130.8,75.6 1299.4,84.5 1254.2,251.4 1299.4,925.1 1241.7,993.9 1250.8,1483.3 1139.6,43.1 1257.8,372.5 1264.6,143.1 1214.4,1617 1171.8,47.1 1276,1037.5 1198.9,232.5 1262.9,1488.6 1251.5,158.3 1087.6,40.9 1266.7,1575.3 1299.4,1032.4 1226.5,1597 1187.3,234 1164.6,688.1 1294.4,1588.1 1179.9,1138.9 1295.9,1413.1 1288,462.2 1280.1,1488.4 1295.9,1444.3 1223.6,1044 1129.7,1538.5 1131.7,89.2 1127.2,1073.2 1262.7,1519.7 1299.4,369.6 1215.1,742.9 1259.9,1388.4 1268.4,1357 1211.2,909 1247,481.5 1246.2,475.8 1281.5,1143.5 1259.1,851.4 1299.4,167.3 1274.4,696.3 1183.4,88.2 1200.1,593.5 1294.5,348.1 1055.1,234.4 1200.6,1509.6 1271.1,321.3 983.6,415 1263.7,1312.2 1235,448.1 1291,1550.3 1268.3,840.6 1240,393.6 1185.1,119.7 1264.1,470.6 1276.4,1050.2 1295.9,1413 1123.4,993.5 1141.9,997.5 1233.8,1020.4 1232.3,907 1275.1,1512.6 1263.4,162.3 1102.4,86.8 1299.4,406.3 1129.9,259 1267.5,66.3 1212.3,1101.9 1216.5,1291.7 1295,651.5 1287.7,319.4 1296.5,684.1 1093.9,1056.6 1101.4,92.7 1299.4,996.4 1281.6,11.5 1157.9,918.8 1272,1450.7 1285.5,1200.9 1277.1,971.5 1132.3,580.3 1266.6,449.4 1250.2,1319 1236.5,1490.1 1246.2,475.6 1254.2,1535 1242.2,104.4 1223.4,1091.1 1172.7,272.6 1122.5,227.8 1290.1,1504.6 1268.4,362.6 1250.1,1527.4 1299.4,885.5 1291.1,1053.5 1286.2,722.7 936.4,952.5 1295.9,1234.2 1299.4,1104.8 1283.2,303.9 1295.6,718.3 1289,1170.9 1164.6,1070 1296.8,1158.6 1299.4,541.5 1256.6,1201.7 1263.7,1529.9 1243.2,1281.7 1221.7,983.8 1245.2,977.2 1290.2,317.5 1209.3,1598.7 1294.4,867.3 1281.8,351.6 1299.4,107.5 1147.9,1076.4 1276.4,354.4 1126.2,946.8 1277.4,1038 1295.9,1145.1 1282.9,1182 1118,959 1290.5,1331 1183.9,1507.7 1255,1610.7 1176.4,1303.9 1295.9,1409.1 1252.7,1097.1 1299.4,1474 1252.8,144.4 1238.8,593.2 1192.8,266.3 1285.1,1333.9 1282.7,1053.1 1261.7,1343.3 1221.8,1187.1 1293.1,977.6 1291.6,898.8 1294.4,1468.3 1276.2,458.3 1283.8,250.6 1250.9,1536.7 1272.9,1113.9 1278.3,1258.2 1142.3,1267.5 1211.9,912 1276.5,713.7 1264.7,957.9 1228.7,596.6 1243.1,1604.3 1221.3,231.1 1175,894.7 1079.3,1100.2 1237.9,268.3 1279.5,301.3 1295.9,864 1234.7,1264.7 1283.4,1137.3 1234.9,608.1 1167.7,892.2 1218.2,77.8 1299.4,197.9 1123.3,709.4 1275.9,482.7 1227.5,1594.2 1299.4,838.2 1294.4,94.2 1231.1,955.3 1170.5,557.3 1279.4,1595.1 1293,1096.9 1162.8,294.6 1299.4,1208.7 1254.6,99 1219.8,171.6 1158.8,442.3 1299.4,1058.7 1155.3,1077.6 1266.7,479 1232.9,419.6 1146,114.5 1299.4,1395.2 1294.3,139.3 1299.4,1330.4 1273.7,1265.7 894.3,91 1187.2,366.8 1299.4,1206 1214.2,174.4 1267.3,65.8 1293.4,1101.8 1284.4,65.2 1199.2,604 1286.1,748.9 1299.4,938.6 1299.4,53.1 783.6,119 1219.9,947.9 1264.9,280.2 1282.4,1611.8 1284.8,1545.7 1288.5,1348.2 1279.4,690.2 1286.6,1507.6 1295.9,1145.3 1280.1,1254.6 1132.8,957.6 1119.4,91.6 1299.4,749.5 1177,268.5 1299.4,432.2 1189,236.7 1236.5,1599.4 1250.2,275 1234.6,745.2 1234,1150.2 1263.5,552.6 1275.6,662.6 1251.2,1307 1287.5,852.4 1263,1320.5 1216.8,1595.2 1274.1,1342.2 1168.5,265 1261.9,1044.3 1287.5,1616.5 1287.2,687.6 1295.9,205.3 1278.1,1161.5 1196.6,1153.1 1181.8,690.4 1205.5,744.1 1287.1,938.7 1278.7,1145 1225.8,47 1184,564.7 1175.9,1154.6 1141.8,943.8 1209.1,86.3 1232.9,1079.7 1285.2,1363.9 1281.9,1602 1299.4,33.7 1219.2,1027.3 1281.4,637.6 1274,1338.1 1193.4,1098.2 1263.5,244.4 1125.5,389.5 1245.5,1523.7 1129.8,303.9 1271.4,1403 1205,104.5 1295,1149.7 1161.4,76.4 1299.4,427.2 1196.5,1199.1 1231.2,785.4 1295.6,1453.1 1299.4,1339.4 1265.2,1358.7 1270.3,569.3 1295.9,222.6 1262.7,227.3 1288.5,26.9 1192.1,165.8 1262.2,1047 1268.1,1580.9 1293,242.1 1221.4,855.4 1199.4,315.4 1226.4,679.6 1292.6,1565.9 1260.7,228.3 1234,1185.9 1081.3,1086 1266.5,433.4 1246.3,942 1234,1108.5 1037.6,367.4 1244.5,1103.1 1220.5,103.8 1290.4,333.7 1191.2,482 1245.6,244.4 988.7,940.6 1295.9,757.8 1215.3,1595.2 1224.4,261.1 1294.4,284.8 1273.4,1536.3 1283.9,1218.9 1110.3,996.2 1186.6,1126.9 1247.8,991.9 1293.3,1576.9 1197.5,580.6 1247.7,428.4 1161,1022.6 1278,720.4 1222,238.9 1207.1,1187.7 1299.4,712.6 1198.8,1177 1264.7,1362.6 1264.3,1043.8 1146.9,1524.8 1245.4,33.5 1227.5,453.9 1196.4,445.2 1299.4,1568.9 1260.5,290.1 1051.9,932.1 1295.9,1407.5 1282.9,660 1267.6,930.4 1278.3,1267.6 1188.1,47.4 1274.7,269.9 1162.5,563.6 1173.4,891.1 1255.6,187.8 1167.9,443.9 1267,1173.2 1269,293.6 1268.9,482.5 1299.4,111.5 1233,148.2 1193,77.3 1195.4,1182.6 1112.9,1101.7 1271.9,353.3 1299.4,574 1237.9,311.7 1248.7,782.5 1209.9,784.3 1276.7,886.2 1257.1,1336.6 1207.4,1153.5 1299.4,873.4 1237.1,18.4 1295.9,1433 998,931 1275,1039.3 1094.5,1021 1230.9,106.7 1237.2,1049.8 1299.4,386.9 1274.1,449.8 1221.5,105.1 1264.4,358.9 1285.3,119.9 1261.4,160.5 1258.1,1024.9 1162.3,923.2 1285.7,1256.4 1097.1,31.2 1292.8,1512.1 1260.1,1341.7 1220.6,406.6 1250.6,1043 1295.9,1243.1 1292,23.1 1215.9,446 1217.9,280.8 1260.2,664.5 1232.9,572 1276.8,1053 1270,1285.9 1244.6,14.9 1192.2,161.5 1294.4,1422.6 1138.7,944.6 1266,971.2 1127.7,680.3 1293.9,1456.6 1268,231.8 1299.4,1343.9 1123,83 1189.6,580.8 1181.4,678.8 1196.3,1530.1 1256.6,8.4 1293.6,938.3 1263,1399.2 1268.3,1529.5 1233,1169.6 1194.2,1568.6 1295.9,1614.3 1091.8,1104.1 1299.4,559.2 1295.9,1432.8 1290.4,1106.5 1292.2,1092.5 1287.3,656.9 1291.5,938.9 1236.9,1558 1242.7,102.3 1262.7,1317.7 1299.4,200.6 1163,1169.3 1299.4,596.6 1093.5,154.3 1295.9,1615.2 1144.1,946.1 1299.4,792.3 1294.4,1057.6 1269.9,1544.2 1296.4,1315.2 1294.4,1354.5 1215.1,323.8 1184.6,79.4 1299.4,907.6 1095.1,390.7 1293.8,927.7 1224.2,52.8 1223.3,455.3 1118.2,43.3 1206.2,948.1 1253.7,1571.6 1295.9,1237.8 1294.4,1031.7 1281.2,1448 720,218 1248,1492.7 1271.2,1490.9 1299.4,791.8 1261.4,591.3 1275.2,317.4 1153.9,835.4 1255.9,1094.5 1192.5,368.2 1280.9,1072.8 1215.3,254.6 1223.6,280 1195.4,886.2 990,1056.8 1293.4,753.2 1132.9,973.7 1299.4,1521.1 1148.2,1152.8 1291.4,484.7 993.5,129.7 1291.8,139.6 1275.6,1400.5 1299.4,1182 1262.1,743.8 1293.3,1601.6 1046.3,706.4 1232.2,769.1 1057.8,236.4 1267.5,1608.7 1094.3,726.8 1286.8,1480.6 1293.4,1325.5 1197.5,95.2 1260.6,458.9 1280.3,216.1 1257.7,361.5 1257.5,779.4 1285.3,1198.2 1282.2,1225.8 1267.1,246.8 1194.1,368.2 1193.5,1574 1282.4,1159.6 1202.7,246.6 1122.5,24.9 1299.4,915.7 1279.8,1157.4 1266.4,594.1 1294.4,193.7 1243.2,908.5 1291,640.9 1164.2,1291.6 1260.5,404.7 1257.6,187.3 1134.9,961.3 1252,100.1 1196.9,248.8 1157.3,925.6 1138.3,1093.7 1251.5,833.5 1195.8,1529.5 1264.8,1081.2 1121.7,1096.7 1271.6,1607.3 1296.2,906.4 1272.1,1028.5 1187.2,559.5 1299.4,65.7 1295.9,1427.2 1196.7,597.9 1220.6,997.7 1161.2,48 1241.4,1526 1291.7,451.4 1299.4,1489.7 1282.5,873.2 1106.9,364.7 1272.3,898.6 1119.2,559.8 1228.3,931.4 1193.9,365 1032.4,999.5 1292.2,95.4 1276.7,779.4 1039.7,1059.3 1212.8,263.3 1188.3,968.2 1294.4,135.7 1286.4,132.1 1261.6,939.1 1205.2,990.9 1286.1,123.8 1271.2,29.7 1278.6,368.5 1242.8,1600 1152.7,564.8 1283.5,1255.2 1291.9,1336.8 1246.6,146.8 1260.9,1584.5 1219,1606.4 1232.1,933.3 1251.1,1283.6 1295.9,1425.5 1029.6,715.9 1203.5,992.9 1290.5,346 1288.5,202.7 1187.9,1529.8 1264.7,1370.9 1281,1309.5 1299.4,1187.4 1259.1,171.2 1237.1,280.1 1294.6,1442.6 1224.9,1571.9 1080.7,909.8 1252.7,1598.9 1285.8,700.6 1254.4,1544 1178,166.9 1299.4,288.9 1229.5,427.1 1133.4,460.6 1274.5,328.7 1283,1228.4 1120.9,76.2 1141.8,941.9 1246.4,104.6 1290.2,329.2 1268.4,238.4 1235.1,1024.5 1080.1,1515.5 1239.3,1600.3 1253.3,890.6 688.7,128.4 1251.2,1156.3 1283.8,835.9 1299.4,1316.8 1207,952.7 1273.8,130.3 1198.5,47 1225.6,103.7 1269,1112.2 1299.4,221.9 1196.2,305.4 1291.8,688.8 1255.9,408.7 1124.4,160.9 1200.9,79 1275.9,1382.4 1130.1,1087.3 1225,1226 1176.6,1019.4 1299.4,133.2 1156.9,840.9 1295.9,1622.2 1281.7,1367.1 1161.6,947.8 1243.2,1124.3 1145.1,20.6 1269.3,400.6 1237.2,1378.9 1269.9,339.9 1244.2,66.6 1168.2,910.5 1299.4,1286.2 1159.1,561.5 1293,773.2 1294.4,789.4 983.9,29.6 1299.4,871.5 1264,1297.8 1234.5,1559.3 1211.4,1467.6 1291.4,1488 1265.4,846.1 1281.4,585.4 1232.9,720.8 1249.8,177.6 1283.4,862 1277.6,190.1 1291,1153.6 1264.2,1041.5 1279.6,877.3 1278.1,193.5 1295.9,863.7 836,449.9 1187.8,888.4 1248.8,544.8 1299.4,39.5 1273.4,782.5 1244.7,77.5 1230.6,1075.2 1286,775 1198,1048.2 1144.4,163.5 1204.3,407.3 1213.4,1533.6 1187.8,1550.6 1261.5,665.2 1299.4,677.2 1120.3,1279 1299.4,720.2 1299.4,1007.6 1287.2,762.1 1250.1,15.7 1162.2,1597.6 1234.2,1610.5 1269,664.4 1291.4,1064.3 1231.3,160.2 1288.6,464.8 1219.6,1540.6 1136.5,74.6 1214.6,243.2 1194.9,1020 1174.3,1171.9 1158.8,119.1 1277.3,719.3 1295.2,1564.9 1217,608.1 992.8,970.3 1263,1281.5 1056.2,723.2 1203.8,1073 1155.8,1118.5 1294.4,638.2 1278.7,974.3 1283.6,116.3 1128,1138.9 1224.3,110.9 1199.7,731.6 1181.8,90 1259.4,943 1036.5,1062.6 1271.7,1569.8 1241.5,391 1219.9,248.5 1152.7,1090.5 1266.5,258.7 1288.5,491.1 1294.4,1543.1 1299.4,1211.4 1144.8,1313.8 1289.2,1494.4 1239.1,793.9 1295.9,1431.4 1255.1,1375.8 1195.9,562.9 1112.8,24.9 1299.4,268.4 1147.6,923.8 1220.9,483.6 1286,203.6 1238.7,1511.9 1295.9,879.5 1273.1,669.9 1264.9,1087 1299.4,1513 1112.8,596.3 1296.5,1389.9 1155.5,329.2 1290.1,1356.4 1263.7,892 1130.9,1090.4 1295.9,283.6 1299.4,395.4 1061.7,1116.3 1152,1540.2 1077.6,458.1 1100.6,914.4 1299.4,1116.6 1291.7,1569.1 1299.4,1593.7 1299.4,1398.4 1239.3,1529.6 1293.5,1265.3 1187.5,643.5 1250.8,338 1299.4,1506.1 1271.4,1377 1281.5,79.9 1275.9,436.5 1194.3,147.1 1278,851 1290.9,1304.6 1152.3,447.2 1222.4,10.4 1277.3,594.8 1265.7,312.9 1230.7,1052.3 1255.2,120.7 1293.8,1006.4 1283.9,1259.4 1295.9,751.5 1299.4,1080.8 1278.6,1518.6 1278.5,1613.7 1252.1,888.6 1295.9,1385.1 1128.9,249.8 1283.3,729.2 1227.6,1135.9 1073.1,96.7 1293.1,297.7 1263.8,10.4 1225.2,1091.8 1288.2,259.3 1260.8,1318.3 1299.4,316.4 1284.2,1330.6 1294.9,1050.7 1236.9,1375.2 1238.3,172.7 1268.8,1167.6 1117.5,1525.1 1096.8,1071.2 1274.9,556.9 1133.1,994.8 1266.8,661.6 1145,369.7 1275.3,1252.8 1252.4,1590.4 1299.4,1466.8 1234.9,1331.4 1265.9,601 1235.7,1611.5 1190,960.1 782.7,368.5 1250.7,1211.2 1263.3,1267.8 1221.9,1100.9 1281.3,1045.1 1231.1,1021.7 1290.3,40 1274.9,1575.4 1075.3,1062.4 1256.5,978.6 1124.3,1020.5 1262.5,1197.3 1293.2,1348.9 1253.9,1388.2 1202.2,1070.7 1122.8,1526 1147.2,1077.4 1260.8,148.3 1226.6,1580.7 1276.1,921.3 1033.7,939.8 1098.4,879.8 1210.6,733.2 1008,928.9 1096.8,873.6 1299.4,277.9 1274.5,780.8 1203.6,596.9 1263.5,162.8 1097.4,1545.8 1238.3,416.3 1260.4,1029.3 1295.9,1436.8 1270.7,1617.5 1269,597.2 1299.4,239.8 1194.3,11.1 1296.4,1499.8 1293.6,69.1 1244.4,246.8 1252.1,1112.3 1290.9,69.6 1278.7,736.5 1299.4,1484.3 1299.4,1365.5 1290.6,1206.8 1229.6,571.4 1290.4,981.7 1231.4,1008.4 1072.2,1542.8 1292.2,1273.9 1255.3,247.9 1299.4,876.6 1138.6,558.1 1209,920.9 1106.3,957.1 1221.1,767.5 1293.3,1247 1269.3,946.5 1247.5,442.1 1206,325.3 1182.1,892.4 1290,486.5 1205.1,378.9 771.2,404.9 1285.5,1295.7 1265.6,171.2 1267.8,893.8 1287.2,1281.6 1269.2,683.8 1257.1,1611 1267.5,663 1299.4,1331.7 1134.8,909.9 1274.5,553 1271.2,138.3 1194.9,1268.2 1285.1,1355.8 1283.9,770.1 1295.9,1439.5 1152.6,1116.2 1278.4,1056 1280.6,1189.2 1286,1029.8 1256.8,723.6 1284.9,584.6 1299.4,1551.8 1256.7,1372.5 1299.4,259.8 1289.1,870.7 1287.7,575.1 1067.5,391.2 1278.8,1102.1 1299.4,100.7 1209.3,904.6 1284.7,1063.4 1259.7,391.4 1281.3,1111.3 1282.1,307.6 1289.1,376.5 1272.5,1076 1246,1046.9 1203.7,1284.3 1299.4,1305.6 1159.6,560.3 1162.7,241.2 1255.4,679.3 1193.9,271.1 1155.7,1302.8 1299.4,1498.4 1266.1,547.3 1181.4,960.6 1271.4,1266.9 1206.7,958.7 1299.4,1591.9 1291.7,377.9 1296.6,1591.2 1156.1,708.6 1131.7,366.6 1194.7,227 1200.4,109 1294.4,1420.4 1245,1270.5 1238.5,1303.4 1270,30.2 1252,105.7 1265.7,664.6 1180.2,1136.4 1281.2,467.9 1246.2,1362.5 1186.4,1563.2 1289.7,1305.2 1188.9,593.2 1252.6,1065.7 1295.9,1499 1215.4,1154.9 1203.4,86.5 1207.1,911.6 1262.4,1378.4 1286.2,850 1251.1,243.9 1260.1,901.3 1156.6,925.5 1067.5,1539.9 1271.1,179.5 1283.9,879 1299.4,1015.3 1269.4,1071.9 1194.4,246 1173.2,44 1276.4,1111.3 1299.4,387.8 1130.4,559.5 1296.1,447.5 1230.3,893.7 1148.8,1283.8 1274.5,1041 1252.3,705.8 1173.1,447.9 1155.3,998 1273.5,843.2 1186.2,1098.7 1225,1571.6 1159.1,262 1175.5,1551.9 1250.4,230.4 1242.3,394.1 1107.8,42.7 1277.6,778.5 1273.7,1353.1 1299.4,1422.2 1012.4,119.7 1279.8,1390.9 1260.1,1094.1 1277.8,474.7 1246.2,775 1299.4,637.5 1260.4,1116.1 1260.1,1062.6 1182.6,1180.2 1249.7,1167.1 1217.8,1513.6 1264.1,915.8 1132,1097.2 1273,261.7 1288.6,123.8 1293,1100 1266.7,1026.7 1299.4,943.5 1156.3,492.7 1129.5,1081.7 1299.4,364.6 1232.6,1185.2 1186.4,1563.9 1279.9,1287 1279.2,910.2 1285.5,1147.5 1287.2,869.1 1244.3,1228.8 1299.4,1202.9 1293.4,1208.1 1299.4,1328.1 1299.4,747.2 1222.4,1579.8 1273.9,120.3 1299.4,1344.8 1274.2,78.3 1218.4,1188.3 1223.8,1511.1 1185.9,1535.3 1272.8,1288.6 1074.1,569 1269.9,851.9 1274.5,353.9 1288.5,1334.8 1215.8,1566.5 1244.1,120.1 1299.4,308.7 1213.9,265.7 1255.8,830.1 1273.1,966.1 1235.8,359.8 1299.4,13.6 1264.7,1556.7 1093.9,1061.3 1287.4,606.5 1288.1,68.7 1284.5,1012.2 1242.1,874.6 1294.4,1437.7 1278.3,162.2 1248,267.5 1294.4,723.6 1230.6,1609.2 1095.2,995.6 1283.9,1265.7 1210,905.1 1222.8,919.5 1211.9,1028.9 1256.5,838.7 1289.1,39 1272.1,215 1291.7,650.6 1230.6,15.2 1252.5,660.1 1296.7,290.1 1187.4,1268 1233,1565.4 1278.7,572 1299.4,1052.7 1288.9,607.5 1162.1,742.3 1264.2,1592.8 1277.5,1548.2 1280.8,441.1 1224.2,913.2 1115,462.6 1123.6,996.8 1271.4,1345.5 1285.3,983.3 1066.3,456.3 1295.9,1576.8 1226.9,715.5 1152.9,225.6 1273.2,1199.8 1164.8,887.6 1299.4,223.7 1274,864 1294.2,1178.4 1276.1,1563.8 1288.8,1011 1237.2,103.2 1191.6,101.6 1125.5,549 1240.3,1542.1 1284,74.9 1267.9,1533 1113.8,24.5 1287.7,1586.7 1254.8,179.6 1183.9,907.5 1199.3,1178.5 1252.3,1271.7 1194.5,595 1299.4,662.8 1248.1,1092.9 1253.4,384.4 1285.3,1444.7 1271.7,1068.3 1284.5,940 1283.4,1035.7 1176.5,957.3 1270.5,132.5 1258.1,45.1 1224.9,1289.5 1252.1,1257.5 925.7,395.3 1293.1,1394 1227.5,1609.2 1295.9,1418.4 1197.9,323.1 1243.3,1580.8 1225,288.5 1257.6,1196.6 1294.3,191.5 1299.4,99.4 1275.7,428.4 1246.7,305.7 1157.7,960.1 1299.4,982.4 1293.1,349.9 1059.6,1008.2 1205.4,163.5 1223.9,30.1 1243.7,694 1216.1,337.2 1283.3,413 1299.4,781.5 1286.8,1470.7 1282.7,1590 1284.6,142.9 1264.9,1054.5 1275,121.7 1299.4,195.6 1293.1,82.9 1267.1,1354.5 1259.6,1287 1266.5,1289.1 1120.1,86.5 1273.9,1079.7 1245,213.3 1294.4,1310.3 1253.6,1378 1299.4,1269.6 1269.2,1528.1 1264.8,554.5 1289.2,296.8 1222.2,778.7 1131.5,79 1043.1,451.2 1277,215.2 1299.4,941.3 1127.4,109.6 1295.8,206 1172,916 1288.3,183.8 1283.2,466.1 1235.6,1503.5 1299.4,569 1223.2,892 1092.7,248.6 1293.8,791.4 1208.7,1503.3 1244.7,987.2 1167.7,558.6 1284.3,378.8 1232.3,1367.1 932,534.7 1106.8,1088.3 1010.4,88.1 1284.7,1140.7 1282.7,1204.5 1201.2,162.4 1299.4,899 1265,1106.4 1109.1,1266.2 1248.6,228.2 1254.5,254.8 1160.8,1111.4 1195.5,995 1299.4,142.7 1225.4,383.5 1046.6,237.4 1219.4,1345.8 1295.8,206.7 1256.5,395.5 1281.4,549.6 1272.7,288.1 1240,661 1282.8,1037.1 1152.2,1553 1299.4,958 1291.7,1324.2 1213.8,234.7 1259.5,961.4 1223.6,315.6 1168.7,78.4 1238.7,1605.7 1271.1,1533.9 1290.6,1220.2 1276.1,914.6 1016.7,1529.4 1195.2,48.8 1279.1,187.8 1181.4,895.9 1299.4,1050 1038.3,80.7 1293.6,69.5 1275,74.3 1276.5,1002.1 1294,313.1 1299.4,1001.3 1299.4,156.1 1280.9,1171.6 1242.2,921.6 1234.6,1090.9 1044.8,1516.2 1267.9,137.7 1266.6,646.7 1262.3,212.7 1233.2,1573.5 1087.3,1059.2 1277,1548.9 1178.9,500.5 1259.2,94.1 1262.6,981 1295.9,752.4 1292.7,850 1226.3,166.5 1238.9,322.1 1114.7,1524.5 1258.3,1021.4 1199.7,376.8 1289.8,714 1288.6,8.1 1182.4,1110.5 1269.8,1341.4 1081.3,70.1 1299.4,247 1299.4,922.4 1295.8,828.1 1164.6,567.5 1285.9,557.8 1299.4,378.6 1268.2,1452.5 1283.2,1472.4 1245.3,1150.7 1299.4,956.7 1072,675.9 1294.4,584.1 1257.5,1100.3 1185.7,1533.2 1224,25.7 1156.6,1086.6 1281.2,1580.4 1287,490.4 1267.9,1586.3 1128.9,1082.5 1268.6,142.6 1270.6,1397.7 1227.5,1087.5 1253.6,654 1226.3,1538.5 1294.5,756.3 1248.2,77.9 1177.6,269.6 1299.4,714.4 1251.8,720 1276.4,943.6 1288.7,922 1270,940.8 1269.5,1271.3 1299.4,1419.5 1286,1602.4 1277.7,1161.5 1280.9,1395.2 991.5,609.7 1288.2,1491 1293.8,185.2 1083.3,710 1273.3,1452.6 1159.9,1113.5 1253.8,451.1 1293.4,1461 1272.1,364.2 1299.4,101.6 1282.8,1543.8 1234.1,781.9 1268.3,674.8 1190.4,108.2 1270.8,1604.4 1269.6,692.3 1211.9,309.7 1244.6,453.3 1261.4,638.9 1280,1195.5 1204.4,1545.3 1169,955.1 1299.4,770.6 1184.2,1556.3 1299.4,1063.2 1299.4,1077.1 1299.4,1314.1 1081.6,545.3 1232.4,16.5 1265.6,418 1212.1,167.3 1286.5,1354.8 1299.4,225.1 1258.5,432.4 1284.5,299.3 1283.6,196.1 1220.4,1105 1274.6,397.2 1222.5,924.8 1129.8,315.6 1287.1,1189.2 1246.1,405.6 1282.7,1376.7 1295.9,1438.1 1147.4,1071 1292.1,315.3 1142.1,907.5 1251.9,34 1261.3,1283.2 1261.3,1068.7 1241.5,1256.5 1295.6,1393.6 1242,1530.6 1276.7,97.7 1234.8,160.8 1285.7,689.7 1293.4,345.3 1256.6,24.9 992.8,1488.3 1108.9,393.8 1141.1,1105.5 1299.4,53.6 1294.2,987.5 1299.4,695.8 1295.8,1246.5 1279.1,401.1 1255.3,386.3 1293.2,605.7 1154.5,1107 950.5,430.8 1289.2,570.6 1288.1,1171.1 1299.4,711.2 1299.4,416.3 1227.2,964.6 1225.6,1569.2 1095.3,1143.5 1279.1,841.2 1299.4,121.5 1244.6,1303.5 1258.8,1178.6 1224.2,993.4 1175.7,1334.4 1286.9,737.1 1299.4,1070.8 1286.2,1486.5 1240.7,906.4 1261,555 1279.8,1007.4 1243.9,838.9 1284,218.6 1287.5,397.6 1228.9,104.4 1204.1,256.6 1248.8,544.2 1261.5,659 1268.8,542.5 1249.7,1148.3 1285.3,1334.5 1294.4,848.8 1289.3,70.2 1250.2,659.2 1273.6,1505.8 1273.9,785.7 1237.6,261.5 1072.5,1097.3 1268,877.6 1113.6,1516.5 1233.2,484.8 1269.3,496.8 1294.4,855.3 1265.5,1331.4 1284.8,168.5 1238.3,1370.5 1234.4,902.7 1285.7,574.6 1141.5,1151.3 1291,356.6 1099.6,1523.8 1276.2,1109.7 1284.1,407.7 1247.7,777.4 1212.2,1060.8 1256.6,280.4 1299.4,309.6 1293.2,98.7 1207.5,1059.9 1218.9,1302.8 1294.4,1233 1134.6,921.3 1264,276.2 1278.3,107.7 1299.4,1136.8 1273.1,1453.9 1276.3,1186.4 1231.8,567.4 1288.3,988.3 1252.3,1194.9 865.3,415.8 1225.1,953.2 1282,934.8 1287.8,196.3 1267.7,1196.1 1293.4,1207.6 1218,152.3 1299.4,1285.3 1217.5,963.8 1198.8,144.8 1282.5,1096.6 1276.8,866.9 1184.8,1114.8 1283.7,1337.3 1278.5,173.1 1132,82.4 948.4,1234 1299.4,545.6 1082.5,1564 1190.7,454.5 1299.4,1096.2 1157.2,912.3 1274.5,262.2 1261.3,1139.1 1258.8,883.2 1212.3,86 1124,128.6 1248.9,340 1275.9,1404.9 1131.1,1085.7 1259.2,20 1242.8,916.8 1208.9,371.3 1299.4,946.7 1101.8,1249.2 1083.3,1492.9 1278.5,53.8 1214,454.3 1291.8,912.3 1249.6,931.2 1259.9,274.7 1280.6,848.6 1169.5,1584.5 1238.4,1170.4 1281.6,140 1195.3,714.3 1219.1,425.6 1269.3,123.9 1299.4,264.8 1280.4,1225.1 1160.3,393.9 1294.4,1295.9 1285.3,69.4 1294.4,1196.8 1296.2,42.9 1249.9,1387.2 1164.1,1070.3 1039.3,541.8 1232.3,151.4 1283.9,945.1 1272.8,794 1288.5,641.3 1294.4,1370.7 1299.4,219.2 1296.1,279.9 1285.4,1026.8 1125,27.8 1245.7,407.7 1195.6,1296.4 1256.4,1397.6 1260.9,890.4 1209.1,272.8 1012.6,388.5 1188.8,171.9 1200.9,1061.6 1262.9,1582.1 1163.9,1122.4 1255.6,564.5 1238.9,957.8 1285.6,1505.9 1292.1,1376.6 1299.4,204.8 1292.8,701.9 1269.3,1087.8 1271,1200.1 1285.5,661.2 1282.2,342.5 1295.9,1242.8 1299.4,782.8 1157.4,1532.9 1295.9,1205.5 1066.1,63.3 1293.8,385.7 1125.2,393.5 1293.4,40.2 1001.3,1550.9 1253.8,77.3 1266.6,918.8 1299.4,785.5 1291,330.2 1225.7,1304 1260.3,1090.6 1237.4,770.3 1299.4,185.3 1216.8,787 1112.3,254.3 1120.8,1067.4 1282,289.5 1297,1086.2 1249.4,29.1 1152,1541 1247.4,1600.7 1172,983.6 1276.2,217 1269.5,656.6 1182.3,604.4 1278.9,880.3 1292.3,574.2 1299.4,1558.7 1296.7,566.2 1188.3,907.1 1221.1,1086.4 1249.5,1117 1295.9,764.1 1227,680.7 1245.2,199.5 1289.3,838.9 1266.1,235.4 1249.3,299.9 1283.7,972 1239.1,1197.2 1049.8,941.9 1129.3,1526.7 1197.2,1116.4 1281,313.6 1299.4,1025.2 1264,660 1212.2,1343.9 1278.2,343.4 1261,1001.2 1299.4,679 1182.1,295.3 1287.1,1293.4 1284.1,464.5 1287.5,1191.4 1292.3,596.1 1264.2,991.4 1214.9,1504.2 1180.5,1120.6 1275.6,232.9 1276.6,68.6 1174.5,444.2 1196.3,461.1 1142.6,1118.8 1295.9,1205.8 1131.6,951.4 1294.4,1242.4 1276.6,1116 1239.8,84.4 1289.6,958.3 1296.1,195.6 1246.6,556.3 1275.9,934.2 1271.3,436.9 1249.3,1025.6 1299.4,936.8 1285.8,1055.9 1299.4,680.8 1278,700.1 1232.2,1372.8 1287.5,1285.6 1206.8,250.7 1164.3,1126 1296,32.5 1114.2,127.7 1294.4,761 1136.6,72 1294.2,1562.5 1299.4,1200.2 1284,849.4 1279.7,1162 1181,1138.4 1197.1,1156.8 1292.3,1354.3 1271.1,1200.4 1296.7,685.7 1116.6,1026 1260.4,174.9 1288.1,1219.9 1190.5,1077.6 1281.7,686 1279.6,1004.3 1283.4,674.3 1299.4,1264.3 1260.9,1346.8 1280.6,429.6 1259.1,1183.7 1198.7,965.7 1095.1,101.6 1247.3,104.8 1279.9,1300 1082.4,176.8 1193.3,1302.9 1294.6,260.9 1276.5,381.2 1269.2,885.2 1280,843.3 1212.7,114 1270.2,241.3 1240,710.8 1287.2,1277.3 1279,465.9 1172.3,959.6 1293.4,1327.1 1176.5,279.1 1264.8,1485.9 1292.9,858.8 1295.9,861 1108,294.3 1244.1,858.2 1257.3,921.6 1189,149 1236.1,1192.5 1226.1,959.4 1294.4,884.4 1299.4,87.7 1116.4,904.7 1249.1,716.3 1242.8,1518.8 1284.8,587.8 1287,389.4 1293.2,1349.1 1183.5,731.9 1275.1,1084.7 1273,212.6 1262,706.2 946.4,30.1 1293.4,1475.1 1268.9,1595.3 1242.5,1180.3 1299.4,344.3 1270.5,96.3 1299.4,1240.8 1293.7,209.8 1213.6,86.1 1279.7,1527.9 1022.3,568 1174.3,1026 1218.9,420 1299.4,1595.1 1245.5,571.3 1236.3,1300.1 1294.7,1140.8 1284.9,413.3 1250.6,243.7 1141.4,254.6 1286.7,1066.6 1299.4,1329.9 1299.4,1249.9 1292.9,217.2 1139.2,1076.8 1274.9,1160.9 1277.4,1602.4 1294.4,285.5 1255.5,236.8 1206.2,93.7 1290.6,239.4 1281,344.9 1200.8,1142 1087.8,941.2 1299.4,872 1151.6,266.2 1222.9,1050.8 1299.4,245.6 1268.6,213.1 1088.2,1100.9 1294.4,688.1 1292.6,95.5 1271.7,44.7 1288.6,204.4 1280.6,902.5 1294.4,943.8 1273.8,404.6 1274.5,891.2 1287.7,1252.8 1280.2,48.1 1258.3,365.4 1238.9,76.9 1299.4,260.7 1299.4,775.2 1295.4,1311.2 1299.4,1160.3 1213.5,457.2 1294.4,1235.1 1279.7,453.3 1265,918.5 1233.4,172.3 1261.3,1383.7 1275,1339.3 1256.2,160.2 1290.4,1340.8 1259.4,175.2 1280,78.2 1243.9,1585.8 1299.4,1529.8 1067.3,1584.4 1207.5,195.2 1292,757 1124,558.5 1250.4,172.6 1233.9,776.7 1299.4,1098.9 1290.8,589.4 1288.5,293.3 1217.1,1058.4 1272.8,52.5 1268.3,69.7 1246.8,646 1277,975.4 1095.3,955 1276.7,22.6 1266.6,17.7 1094.1,1518.6 1299.4,1031.9 1249.8,692.6 1176.6,105.1 1273.8,1618.4 1299.4,647.4 1189.5,988.8 1220.9,21.1 1142.3,1287.7 1190.9,272.3 1244.1,694.8 1228.4,895.8 1217.5,116.1 1207.2,1136.2 1216.8,14.1 1284.7,1621.1 1158.1,172.5 1118.7,1535.6 1231.1,652.5 1257.1,1552 1175.7,560.3 1260.8,932 1247.9,1530.9 1294.4,1204.4 1281.8,415.1 1192.4,265.6 1288.8,646.2 1287.6,162.7 1251.6,1341.6 1269.1,554.6 1265.9,705.9 1260.7,180.8 1247.8,252.6 1296.1,1222.5 1079.6,1561.3 1201.5,950.4 1280.2,1463.8 952.8,583.8 1268.9,1265.2 1201.9,902.9 1217.5,405.1 1142.9,175.8 1292.9,1311.5 1276.3,308.2 1294.4,840.2 1191.2,115.2 1217.5,1105 1259.3,1534.5 1271.2,262.7 1290.8,1079.5 1181.4,228.2 1268,1401.5 1137,892.6 1242.6,1346.5 1114.2,230.6 1269.8,36.3 1208.4,1379.5 1246.2,209.6 1273.1,56.2 1276.7,702.5 1256.5,406.5 1174.5,1116.6 1295.9,865.5 1117.6,1067.4 1248.8,1297.2 1193.8,1062.2 1117.9,1074 1282.8,964.2 1299.4,555.6 1211.9,118.7 1206.9,966.7 1224.9,61.2 1252.7,391.8 1299.4,1421.3 1208.3,347.2 1284.2,1166.4 1291.5,782.5 1282,1274.6 1216.4,1287.2 1299.4,1457.8 1270.6,1177.7 1182.8,392.9 1252.2,1330.6 1253.5,997.4 1208.5,165.6 1285.8,235.9 1194.5,11.8 1217.7,171.7 1299.4,459.2 1062.2,1541.3 1137.8,1116.8 1211.6,444.7 1299.4,1460.5 1242.4,291.3 1273.4,777.5 1299.4,1380.4 1277,953.3 1282.8,1346.2 1255.8,244.9 1281,24.2 1163.9,494.5 1272,1283.5 1177.7,1079.1 1276.2,1589.2 1276.1,1111.7 1263.4,22.1 1205.1,580.4 1299.4,1194.6 1274.9,1584.1 1192.4,269.7 1280.5,1167.3 1288.2,436.9 1286.6,1118.2 1299.4,1532 1291.7,216.2 1285.1,1032 1289.3,1469.4 1234.8,452.8 1299.4,272.5 1293.7,1577.8 1281.4,715.5 1037.3,59 1271,1066.7 1220.6,1369.3 1249.2,1300.3 1183.4,916.5 1299.4,351.9 1283.5,444.7 1285.3,1147.4 1181,744.9 1024.4,930.6 1235.1,775.3 1299.4,1163 1299.4,1281.3 1279.8,1066.7 1205.4,471.6 1248.6,1375.9 1299.4,1416.8 1266.5,1550.2 1288.6,471.5 1116.7,307.5 1151.4,119.7 1119.9,1492.3 1282.5,1466.1 1263.8,1287.2 1108.9,916.3 1281.6,392.1 1273.8,682.7 1203.1,253 1229.4,1195.4 1295.9,687.8 990.4,58.6 1284.9,1168.5 1256.8,1005.2 1277.4,1605.3 1288.7,1111.9 1293.9,1257.3 1299.4,752.2 1157.7,92.2 1209.2,1285.9 1262,1564.1 1258.5,1101.5 1249.5,1332 1270.9,913.3 1126.9,75.4 1299.4,1193.3 1267.7,729.6 1295.9,1407.1 1266.9,1279.6 1223.3,896.4 1247.1,1047.9 1274.7,1132.5 1273,57.4 1177.2,1540.5 1220,385.5 1287.1,1141 1231.4,776.1 1030.1,59.6 1280.3,1336.7 1291,1336 1277.9,99.6 1288,1339.6 1289.5,1143.3 1033.9,567.5 1161.1,227.7 982.8,19.9 1142.9,942.3 1262.3,877.8 1278.7,407.4 1192.2,1223.5 1180.6,910.7 1109.3,95 1290.2,96.4 1130.5,1265.2 1276.9,249.4 1157.5,112.7 1299.4,1448.3 1214.6,170.1 1261.3,447.5 1069.8,1516.9 1264.8,1350.9 1299.4,109.3 1107.5,591.7 1283.1,459.5 1204.3,890.3 1236,976.3 1245,1079.6 1085.1,99 1294.6,1134.9 1285,231 1270.7,1457.5 1299.4,266.1 1179.5,561.2 1273.5,1311.6 1228.4,318.2 1271.4,1394.9 1276.1,18.8 1299.4,1191.9 1294.4,542.2 1269,576.9 1152.9,423.3 1002.4,702.9 1185.4,47.4 1145.7,1112.7 1182.1,19.3 1299.4,569.5 1291.6,1601.7 1299.4,191.6 1295.9,1012.8 1280.9,1250.1 1284.7,1224.4 1247.2,658.5 1283.6,690.7 1250,1592.1 1191.6,156.5 1218.8,1237.2 1277.7,428.9 1269.2,1317.7 1016.3,777 1264,1370.1 1242,1172.5 1183.4,1210 1295,1496.8 1184,926 1150.8,1491.9 1263.4,1483.2 1293.4,652.4 1260.3,1589.8 1271,131.2 1227.4,1242.4 1260.4,324.3 1268.6,641.4 1287.7,1203.1 1280.4,1463.5 1273.9,972.3 1282.8,1460.8 1275.4,987.5 1285.3,1394.8 1249.4,778.7 1244.6,1118 1258.9,384.7 1266.7,929.8 1185.2,894.9 1108.9,459.5 1199.8,476.4 1287.9,785.3 1244.9,480.2 1239.9,1039.7 1291.3,700.5 1290.1,1394.4 1258.8,728.9 1230.3,452.7 1299.4,1019.3 1076,725.2 1169.5,900.6 1257,1477.4 1299.4,324 1211.8,885.7 1176.9,479.1 1295.9,1326.5 1264.8,1090.9 1264.8,25.2 1299.4,452.9 1299.4,216.1 1206.1,900.4 1223.7,1582.7 1263,1540.2 1294.4,1414.5 1272.8,272.3 1168.3,466.7 1256.7,587.9 1299.4,994.6 1153.6,1115.9 1295.9,1325.6 1172.6,1214.2 1294.4,1322.9 1264,115.8 1267.1,1583.9 1286.6,382 1290.5,184.2 1238.3,1580.3 1287.2,1187.2 1299.4,153.4 1295.9,1444.7 1277.1,268.6 1295.9,1231.5 1299.4,21 1270.8,1213.3 1284.2,1205.9 1293.9,765.8 1245.2,1125.4 1177.6,1116.6 1270.9,124.9 1264.2,570.9 1215.2,267.8 1221.6,572.8 1249.6,276.8 1203.2,1547.6 1185.9,566 1186,281.8 1262.7,1318.4 1026.4,92.3 1270.1,603.5 1256.2,999.8 1252.6,485.1 1294.4,44.7 1261.1,442.8 1093.6,1057.7 1190.9,1045.6 1290.7,688.6 1244.3,30.7 1271.6,338.3 1262.6,685.7 1295.9,758.7 1236.8,592.2 1201.6,1108.9 1171.9,238.1 1299.4,1467.7 1281,102.1 1287.9,905.9 1201,733.2 1216.5,945.9 1149.3,409.4 1299.4,183.1 1292.4,1547.6 1288.5,1244.2 1293.8,417 1218.5,73.1 1292.4,571.1 1254,1128.6 1223.5,80.4 1278.6,1556.4 1250.8,104.4 1137.2,1107.3 1260.5,1281.9 1233.5,446.9 1296.6,1509.5 1212.8,1112.9 1279,293.9 1212.6,305.8 1282,1028.5 1270.6,271.9 1199.5,605.8 1299.4,1252.6 1216.9,1349.2 1177,1300.3 1277.8,1362.2 1285.7,146 1195.5,1124.5 1255.5,66.2 1231.2,1044.9 1149,1077.8 1258.5,1514.3 1246.5,291.8 1295.9,737.1 1237.4,1524.6 1265,33.1 1253,970.4 1295.4,212.9 1274.5,910.1 1190.7,169.6 1282.4,1147.1 1215.2,227 1294.5,1239.4 1264.6,277.2 1299.4,1416.3 1247.3,1392 1294.4,1423.9 1247.4,928.2 1277.3,974.5 1230.7,313.6 1222.3,79.6 1217.1,1557.3 1190.1,483.1 1261.6,842.2 1299.4,1583.4 1196.4,269.6 1198.5,1126 1289.4,1618.7 1159.6,926.1 1247.1,961.8 1239.7,1227.7 1267.4,678.5 1294.1,1173 1283.7,1095.7 1275.8,371.1 1289.7,760.8 1221.5,1527.6 1277.9,471.9 1299.4,592.5 1093.2,71.6 1299.4,355.1 1215.7,1571.6 1299.4,93.5 1239.3,484 1265.4,1167.1 1230.9,1552.6 1280.8,194.9 1231.8,447.6 1293.5,1296.1 1299.4,1202 1146.3,957.8 1146.9,1489.5 1147.4,1090.8 1071.6,1129 1260.1,1516.8 1233.1,724.4 1141.9,838.7 1255.8,472.8 1295,24.6 907.6,646.6 1204.4,45.2 1295.9,1410.7 1276.2,420.6 1280.6,747.2 1279,735.6 1221,1064.8 1266.8,1058.1 1237.1,785.8 1228.3,1531.7 1292.2,760.1 1273.9,694 1299.4,314.1 1262.2,1191.7 888.5,391.9 1221.5,254.3 1155,170.7 1223.4,229.8 1252.3,370.1 1290,1461.2 1290.8,233.2 1280.5,649.4 1270.9,999 1293.4,410.3 1272.8,1252.3 1294.4,1450.3 1233.6,36.8 1265,78.2 1299.4,700.8 1282.5,1586.4 1169.7,1527.6 1167.7,896.1 1236.7,725.5 1285.8,201.4 1299.4,1594.2 1289.4,836.3 1299.4,470.3 1283.4,34.3 1289.1,468.5 1175.9,1530.8 1224.3,1194.1 1259.1,44.5 1251.6,330.2 1240.9,1158.6 1292.1,871.2 1295.9,1420 1199.3,253.9 1299.4,1341.2 1261.8,1102.8 1271.4,1486.8 1187.7,561.3 1295.9,221.4 1299.4,1419 1294.4,1473.7 1239.3,713.2 1246.7,1170 1299.4,1256.2 1285.8,1270.7 1299.4,710.4 1299.4,69.3 1270.5,1023.6 1299.4,1500.6 1265,901.3 1299.4,724.8 1299.4,777.4 1295.9,1238.9 1080.7,931.5 1039.9,1514.8 1299.4,1003.1 1295.9,1440.7 1197,1211 1139.9,565.9 1196.3,599.2 1176.4,996.2 1287.5,1175.4 850,468.4 1182.8,1103.4 1277.7,1464.6 1289.8,489.6 1299.4,1139.1 1093.4,1134.7 737.6,374.3 1122.6,1084.8 1276.1,1289.4 1299.4,785.1 1260.2,562.6 1206.6,458.8 1187.2,566.6 1205.2,259.8 1235.3,77.2 1215,387.3 1249.7,420.1 1288,366.1 1299.4,1194.2 1294.4,880.2 1280.3,964.7 1269,1195.3 1294.5,467.4 1261.8,1131.8 1287,770.4 1280.4,915.4 1259,172.7 1141.4,1188.9 1277.6,832.7 1288.9,1222.5 1216.6,1377 1295.9,284.1 1248,1536.1 1295.9,1431.7 1293.7,970.8 1085.8,1522.8 1295.9,1408.3 1258.9,435.8 1128.7,1114.4 1100.6,59.5 1293.4,1324.8 1296.8,790.2 1219.4,593 1253.5,239.6 1229.1,264.4 1299.4,844.5 1214.9,1367.8 1255.5,695.5 1250.9,925.1 1196.5,925 1190,1070.3 1153.4,1199.8 1203.9,1138.3 1236.6,1371.1 1260.3,1279.3 1267.4,716.4 1262.2,1282.5 1154.8,1490.6 1279.1,118.3 1299.4,145.8 1299.4,163.3 1199.5,1533.3 1156.8,1299.1 1272.8,698.5 1266.3,888.1 1287,298.1 1267.6,1310.3 1204.4,924.2 1268.3,459.3 1262.9,1001.9 1235,1370.3 1291.6,378.5 1206.2,1568.7 1167.3,166.8 1294.5,1016 1203.5,255.6 1293.1,337.7 1292.1,747.9 1279.3,1401.2 1299.4,1091.6 1299.4,100.3 1299.4,1518 1269.2,13.8 1290,641.8 1293.7,845.2 1217.3,1141.3 1268.6,970.1 1299.4,1507.5 1198.4,27.5 1226.5,1393.6 1295,1108.3 1128.6,960.4 1260.1,123.3 1230.2,731 1266.2,925.3 1299.4,1604.1 1255.2,1127.5 1285.2,108.6 1282.2,180.7 1299.4,986.9 1273.3,591.7 1218.4,277.9 1297,684.7 1105.8,1095.5 1172.9,906.6 1195.3,1120.2 1299.4,654.1 1266.6,677.3 1245,1046.5 1134.5,31.4 1251,28.5 1284.1,834.5 1275.8,1490.2 1260.7,997 1019,367 1269.8,1036.4 1111.1,72.7 1241.8,27.4 1295,1523.4 1137.4,175.3 1202.4,953.1 1103.3,560 1272.8,1596.4 1220.4,267.3 1299.4,1530.2 1117.8,445.9 1123,1519.3 1246.2,60.1 1238.8,446.5 1290.9,1310.9 1285.2,1226.1 1165.8,173.9 1258.2,245.7 1249.2,304 1265.9,1504.5 1128.2,1075.5 1014.5,930 1051.3,1066.4 1252.1,1505.6 1287.4,101 1267.3,1055.3 1299.4,1134.6 1299.4,242.9 1207.4,1562.1 1050.3,389.8 1157.5,1205.4 1232.6,208.9 1270.6,596 1253.8,113.7 1241.7,594.6 1285.9,493.3 1299.4,354.2 1299.4,412.6 1284.5,790.1 1263.3,706.3 1195.5,264.8 1260.3,966.9 1287.9,448.7 1012.9,699.6 1293.9,765 1299.4,296.1 1291.3,1349.1 1134,1113.6 1193.4,852 996.5,722.2 1266.6,1293.4 1217.8,1106.7 1210.5,1568.2 1296.3,718.6 1292.3,1481.9 1229.2,1607 1225.6,199.9 1267.9,1356.1 1295.9,1413.4 1299.4,493.5 1244.3,1568 1206.5,725.2 1294.4,355.7 1271.4,1384 1282.5,643.1 1299.4,1622.6 1299.4,1056 1101.9,882.7 1179.3,1589.9 1184.2,482.8 1044.8,58.8 1148.3,1538 1110.9,393 1277.8,152.7 1229,479.3 1264,1359.9 1284.8,361.8 1299.4,1472.6 1233.1,1122.5 1280.8,885 1246.8,1504.9 1262.8,1313.8 1281.5,330.8 1267.8,1344.1 1263.9,176.1 1255.2,1104.5 758.3,24.6 1287.5,232.5 1181.1,1157.2 1174.3,558.7 1200.3,365.4 1280.3,1051.1 1284.6,950.6 1253.9,120.3 1290.6,438.5 1171.5,1021.6 974.2,560.9 1248.6,382.6 1065.8,1521.8 1240.1,454 1231.4,910.9 1091.7,1537.1 1184.1,164 1247.3,1046.5 1288,723.2 1299.4,996.8 1273.6,28.2 1098.1,91.2 1170.8,143.2 1198.3,1183.8 1299.4,1163.9 1214.9,1138.9 1264,367.6 1165.1,1300.8 1263.9,212 1283.1,971.4 1064.7,392.1 1222.1,54.9 1281.6,887.8 1181.3,977.8 1213.5,1574.1 1277.6,1449.4 1248.6,214 1281.8,378.4 1241.8,657.4 1145.1,80.6 1023.4,121.2 1019.2,90.3 1283.1,602.3 1218,282 1203.5,1299.6 1249.9,915.4 1246.3,393.4 1295.9,1427.8 1293.4,222.2 1266.1,398.8 1269.3,1124.6 1266,898.8 1266.3,1570.6 1299.4,1401.5 1266,1002.6 1292.8,1259.5 1287.8,1068.5 1285.7,1386.1 1195,1566.3 1284,1506.6 1153.6,1562.1 1069.4,932.9 1194.4,1561.9 1131.5,229.3 1299.4,207.5 1299.4,1406.9 1136.1,721.2 1289.2,741.9 1231.1,1192.8 1236.1,385.7 1244,273.6 1289.7,1087.8 1246.8,143.9 1163.1,258.8 1294.4,648 1293.4,1444.2 1299.4,1487 1242.6,1340.3 1192.3,370.1 1144.4,1117.9 1275.8,1515.6 1282.2,111.3 1284.7,18.1 1246,1178.8 1283,1457 1279.6,463 1294.4,1040.7 1270.1,1391.9 930.6,1154.9 1177.5,955.6 1295.9,1419.7 1295.9,598.4 1238.4,264.9 1299.4,1614.5 1212.4,1330.3 1273.5,115.9 1192.6,1100.8 1192.8,1077.3 1284,748.1 1295.9,765.9 1227.9,931.1 1005.7,119 1286.5,486.2 1286,547.7 1187.1,175.6 1271.3,249.7 1242.6,1331.5 1235.6,1601.4 1253.3,494.6 1282.4,1162.3 1195.8,342.2 1278.9,550.4 1233.7,1189.8 1299.4,108.4 1299.4,295.7 1285.1,1451.7 1180.4,949.5 1188.6,364.6 1244.3,1141.9 1273.7,1054.2 1150,1075 1269.7,1594.4 1299.4,542.4 1201.5,176.9 1259.5,1398.5 1064,943.9 1112.6,395.6 1293.4,1445.1 1287.6,1051.6 1294.4,106.8 1140.3,1091.3 1294.3,50.4 1285.6,1309.1 1183.3,108.7 1299.4,417.6 1299.4,343.8 1294.9,1426.1 1266.9,1519.5 1262.7,321.4 1295.9,1430.5 1191.1,734.3 1034.9,970.9 1290,1482.7 1299.4,1363.3 1141.9,176 1230.7,1126.2 1102.7,589.5 1245.8,432.5 1299.4,324.9 1187,1292.8 1208.7,23.8 1234.5,874.9 1229.4,1567.5 1203.3,1153.3 1141.8,887 1299.4,1601.9 1299.4,1239.4 1199.5,1540.9 1249.4,744.6 1299.4,1244.8 1210.6,1592.5 783.9,419.3 1286.3,1448.2 1275.4,107.7 1223.1,76.8 1269.4,216.7 1295.9,1411.6 1240.2,476.7 1281.8,715.9 1296.5,772.3 1264.6,160.7 1295.9,1232.9 1299.4,641.5 1299.4,868.8 1290.7,1217.2 1299.4,1106.2 1253.1,418.9 1200.3,1373.2 1151.3,1597.5 1285,309 1299.4,381.8 1282.9,215.8 1256,835.1 1273.7,1520.4 1236.3,416.9 1294.4,1419.4 1110.7,708.4 1109.7,953 1299.4,1350.2 1265.9,496.3 1274.9,1114.2 1231.5,1077 1107.3,1072.5 1294.4,1206 1171.5,444.6 1299.4,422.8 1281.5,1194.4 1236.3,967.5 1295.4,281.9 1225.5,1316.2 1201.2,678.3 1292.6,1171.8 921,105.5 1209.1,1540.3 1289.9,849.7 1256,302.1 1174.9,668.2 1176.3,1554.8 1213,382.4 1281.9,944.8 1268.8,311.7 1250.9,479.4 1258.1,80.2 1255.6,186.2 993.1,84.3 1229.9,479.1 1295,1469.7 1264.1,259.6 1286.7,1510.5 1268.8,1121 1254.2,743 1059.6,568.2 1257.1,1083.5 1210.9,944.5 1208.9,902.6 1271.9,190.6 1178.8,167.3 1252.7,328.3 1295.9,755.9 1129.8,890.8 1299.4,542.9 1048,61.1 1258.1,1004.3 1286.2,1367.3 1289.3,1453.5 1274.5,1369.8 1235.2,1024.4 1089.6,912.2 1299.4,1074 1214.5,760.9 1294.4,1434.7 1279.6,1379.2 1192,468 1157.9,1087.9 1294.6,1268.4 1291.7,1543.6 1262.9,573 1273.8,578.3 1299.4,1451.5 1234.1,546.8 1282.7,1172.5 1286.2,709.3 1151.3,1317.1 1254,481.9 1283.7,1313.4 1273.5,1588.4 1271.5,1367.7 1299.4,1188.8 1222.3,921.3 1163,1080.2 1294.6,637.7 1105.7,590.5 1253.1,1360.2 981.8,1519.4 1299.4,217.9 1217.1,244.8 1295.1,1296.7 1169.9,561 1281.1,1598 1214.9,679 1294.4,1481 1219.6,1582.6 1254.7,1350.2 1224.7,1082.9 1097,1558.7 1202.4,1074.6 1299.4,103 1280.6,924.8 1293.7,1394.7 1269.4,1189.9 1286.5,134.4 1282.2,210.4 1230.6,322.3 1265.1,20.6 1232.3,364.6 1280.4,697.1 1285.8,451.7 1299.4,579.8 1201.8,256.5 1201.8,994.5 1236.5,32.1 1175.5,168.3 1200.2,1072.9 1285.2,868.4 891,37.6 1253.3,1271.6 1192.8,1109.2 1242.3,1202.1 1295.9,1479.7 1224,1370.4 1020.2,62.7 1268.9,571.8 1258.3,1568.7 1149.2,1583.7 1241.9,1550.3 1026.8,571.2 1215.8,998.4 1249.3,1155.1 1206.9,178.8 1241.3,715 1263.1,1418.1 1095.4,238.2 1288.3,1542.2 1291.7,1396.2 1205.7,905.3 1223.2,31.3 1069.4,1095.9 1295.4,1276.6 1287,1493.7 1267.5,546.8 1214.2,1139.4 1287.3,787.1 1187.4,887.2 1148.2,962.8 1299.4,1093.5 1120.3,31.9 1275.5,549.6 1179.5,448.7 1299.4,1502.5 1294.3,261.3 1273,1257.4 1238.6,985.7 1299.4,684.9 1208.6,115.8 1241.3,448.9 1071.1,1084.9 1094.2,1515.2 1299.4,1582.9 1218.5,648.3 1073.7,402.6 1290.8,1224.8 1281.6,957.8 1187,1317.1 1175.7,843.7 1204.1,236.1 1293.9,1487.7 1265.9,415.4 1293.4,758.4 1218.8,788.3 1234.9,1121.8 1234.5,921.9 1285.9,1199.6 1292,264.2 1184.7,960.1 1251.5,597 1290.1,1594 1267.4,598.3 1261.7,247.2 1286.1,1611.1 1299.4,388.6 1136.8,1163.4 1195,566 1283.3,377 1287.3,179.2 1206.2,251.2 1178.4,1122.8 1249.8,1546 1289.5,680.6 1299.4,102.1 1289.5,1340.6 1269.2,1519.2 1290,1101 1133.6,908 1243.5,1177.8 1277.1,1193.4 1274.3,462.8 1269.4,1522.1 1251.4,567.5 1288.4,1014.8 1214.2,556.7 1296.5,1382.8 1126.9,481.2 1269.2,440.5 1259.3,32.7 1299.4,1227.7 1286.8,118.3 1236.1,389.2 1278.6,1600.7 1240.5,483.7 1283.2,127.9 1295.7,1254.7 1211.8,1141.9 1228.5,1291.5 1232.7,962.8 1299.4,836.5 1156.4,1140.3 1280.5,724.4 1109.5,556.7 1289.7,647.7 1259.3,111.5 1279,1528.1 1225.8,145.8 1299.4,933.5 1194,81.9 1213.4,21.9 1280.2,358.3 1278.3,55.2 1228.8,768.3 1217.4,482.2 1268.2,1376.7 1226.7,1594.9 1287,1523.6 1285.1,1622.9 1272.2,460.8 1210.2,47.9 1279.9,147.1 1291.8,1468.7 1299.4,869.3 1090.6,1083.1 1261.9,1587.7 1167.6,911 1261,433 1140.4,1117.8 1057.7,1061.8 1284.1,1399.9 1270.4,1543.8 1278,1405.4 1197.9,1027 1295.6,1203.1 1178.3,710.7 1255,1517.8 1225.8,1066.3 1299.4,980.6 1225.9,995.2 1156.9,78.4 1178.9,1266.3 1190.2,919.8 1273.2,679.6 1113.9,991.6 1299.4,210.2 1299.4,755.3 1206.7,1109.5 1277.3,19 1280,684.2 1259.7,72.1 1299.4,648.7 1133.1,1081.6 1295,1351.5 1177.8,905.7 1153.7,89.4 1276.5,435.2 1282,486.9 1270.1,644.4 1206.7,258.5 1260.6,544.6 1142.9,962.3 1208.2,87.4 1264.1,776.6 1179.9,1570.5 1209.2,1233.6 1294.4,879.4 1299.4,1006.3 1197.6,596.1 1274.3,108.3 1067.3,45 1293.4,859.2 1230.2,309.9 1267.4,980 1114.6,369.1 1291.7,751.5 1266.6,124.4 1272.3,1227.9 1271.1,1201.8 1233.5,1102.1 1299.4,694.9 1283.8,280.3 1153.3,1319.1 1007.7,564.7 1291.2,67.7 1220.4,325.6 1095.4,578.9 1227.7,86.9 1285,1029.9 1127.8,601.2 1279.6,1345.9 1203.5,963.4 1249,1024.9 1274.8,724.3 1299.4,1436.1 1271.5,1172.5 1281.3,737.6 1290.3,293.7 839.1,390.9 1183.5,161.7 1126.9,1086.3 1280.6,683.2 1287.1,604 1195.1,1563.5 1299.4,265.2 1280.7,881.3 1261.4,598.5 1166.7,1135.7 1274,993.2 1293.4,754 1097.1,877.6 1153.2,116.3 1273.1,106.7 1278.3,379.1 1285.2,1031.2 1240,1280.1 1253.6,845.6 1204.2,1288.6 1276.5,61.2 1123.7,250.4 1299.4,270.2 1248.7,146.9 1178.8,1463.2 1282.8,1291.3 1246.3,364.9 1265,1337.4 1299.4,293 1284,842 1271.4,888.3 1234.6,1027.8 1195,1300.2 1299.4,448.5 1293.5,727.2 1295.9,1241.5 1292.3,432 1288.5,120.3 1090.9,1300.6 1263.2,1196.2 1282.8,1510.3 1288.4,154.4 1292.5,1494 1295.1,1127.1 1111.9,86.6 1295.9,1422 1098.1,94.7 1264.8,153.6 1198.4,252.7 1200.6,146.7 1291.1,841.6 1263.3,665.9 1299.4,82.7 1288.6,1171 1113.2,1540 1276.7,148.4 1281.4,379.7 1151.8,997.1 1214.1,263.9 1260.2,971 1264,1384.5 1120.6,1456.4 1268.1,1290.3 1293.4,1475.5 1299.4,1392.1 1282.2,966.6 1299.4,700.3 1251.7,337.3 1210.7,249.6 1263.6,1262.1 1296.7,439.4 1220.5,1099.1 1265.8,184.3 1289.8,101.4 1115.9,1098.7 1299.4,597 1291.4,900.5 1254.1,1357.2 1285.4,1044.7 1138.4,579.9 1214,1385.3 1242.1,339 1265.3,1546.7 1262.9,1549.3 1276,167.2 1252.6,1300.9 1292.9,1276.9 1247,788.1 1279.2,1261.8 1299.4,991.4 1164.8,1562.9 1287.2,18 1249.1,781.9 1285.1,1342.8 1295.8,1576.6 1268.3,1524.2 1294.4,1456.6 1283.9,72.6 1250,546.7 1275.3,1218 1299.4,1253.5 1266.1,719.6 1188.5,1559.5 1245.7,435 1281.6,152.9 1224.4,1191 1267.4,648.5 1299.4,20.1 1292.5,51.3 1252.1,458.4 1299.4,253.9 1289.2,1022.6 1271,398.1 1299.4,301.5 1190.9,1064.9 1291,1255.7 1253.7,720.7 1206.8,365.8 1285.2,1279.4 1203.9,895.4 1286.2,585.5 1278.9,1455.6 1265,1400.1 1287.7,248.9 1186.1,679.8 1272.8,982 1128.7,1535 1295.9,1460.7 1299.4,899.4 1220.1,958.2 1215.1,1542.2 1089.2,712.7 1266.9,720.2 1263,1375.2 1197.7,258.3 1293.2,690 1190.3,580.5 1291.7,221.3 1282.2,1210.7 1236,946.8 1287,1207.8 1197.9,1063.7 1229.7,1190.5 1158.5,1365.6 1247.3,459.3 1262.7,1031.7 1279.7,678.9 1283.5,1455.3 1216.1,51.8 1294.4,1622.9 1199.7,1572.7 1205,915.5 1119,843 1103.1,1097.9 1255.7,1024.1 1232.9,608.4 1296.9,148.3 1079.2,1334.1 1245.3,480.4 1291.9,1535 1294.4,1274.8 1241.2,923.3 1281.3,174.1 1261.4,890.2 1266,1586.5 1275.7,553.5 1299.4,1186.1 1236.1,1546 1260.7,337.3 947.3,1075.6 1292.3,1165.5 1277.3,1219 1299.4,189.8 1276.6,176.4 970.8,557.6 1095.7,84.5 1286.5,482.9 1299.4,903 1247.4,956.7 1158.3,230.3 1259.8,1044 1284.5,1143 1286,676.3 1242.1,234.8 892,474 1194.5,721.7 1161.5,89.7 1241.8,1282.5 1289.3,441 1277.7,1215.6 1252.7,1580.3 1105.9,1029.9 1245.9,594.6 1007.7,61.1 1285.2,743.5 1279.4,579 1219.3,1075.6 1126.6,709.8 1136.6,144.8 1152,1166.5 1269.8,1134.3 1264.3,136.9 1192.1,158.5 1152.7,186.3 1299.4,1172 1299.4,10.1 1299.4,438.6 974.4,583.8 1278.3,982.6 1276.2,83.4 1242.8,787.2 1284.1,888.4 1299.4,746.8 1240.6,1353.1 1158.9,270.5 1162,1536.5 1176.1,234.8 1153.4,1503.6 1239.3,888.4 1173.2,1563.6 1169.2,1527.5 1287.7,1460.2 1084.6,636.4 1201,1555.7 1222.5,1355.9 1051.9,212.7 1299.4,73.3 1260.3,1338.9 1299.4,833.4 1271.2,148.7 1119.7,1041.3 1234.9,1068.5 1243.8,919.1 1292.4,573.9 973.7,231 1291.9,1618.4 1293.8,141.5 1248,146.2 1299.4,433.1 1203.3,594.8 1235.2,906.9 1114.4,711.9 1254.3,328.3 1185.4,1077 1271.9,639.9 1284.4,988.7 993.8,1000 1286.6,1457.2 1299.4,165.6 1282.3,472.3 1266.7,475.2 1243.2,430.8 1267.4,1136.1 1168.1,1556.7 1217.1,1136.9 1299.4,1400.2 1242.6,1372.7 1294.4,1161 1236.1,592.9 1223.7,770 1251.8,1543.7 1293.9,1447.6 1093.1,395.3 1299.4,991.9 1112.4,1037.5 1286.1,604.4 1169.2,711.3 1126,73 1231,1551.2 1284.4,830.7 1255,371.8 1235.1,1056.7 1288.1,118.6 1278.2,73.7 1285.5,75 1241.3,1177.1 1277.7,840.6 1278.8,781.2 1245.7,1092.1 1236.3,233.4 1248.2,165 1228.4,83 1225.3,562.6 1254,158.9 1115,106.7 1146.4,996.2 1265.7,1290.1 1132.7,956.9 823.3,432.8 1294.4,1229.7 1064.4,240.9 1290.1,1566.6 1214.8,261.2 1189.3,1054.6 1279.6,1471.9 1259,469.2 1260.6,275.4 1289.4,875.2 1214.6,1557.8 1186.3,997.7 1292.5,1470.1 1271.3,26.3 1261.8,1526.3 1018.1,710.1 1164.5,146.4 1289.8,1510.9 1142.7,834.9 1088.5,1070.1 1221.4,1136.1 1164.5,559 1260.5,328.3 1299.4,234.3 1235.1,385.7 1265.8,884.7 1169.3,888.5 1203.6,992.5 1286.1,1392.3 1269.8,1184.7 1220.3,386.2 1271.1,399.4 1268.1,151.9 1219.6,1060.4 1284.5,391.8 1274.6,45.4 1189.7,895 1252.5,1290.5 1294.4,856.4 1271.4,572.4 1244.5,1369.3 1269.9,484.1 1178.9,887.6 1249.1,180.8 1202.9,161.2 1119.3,311.2 1285.7,449.9 1210.7,757.9 1212.6,472.5 1214.9,230.2 1226.5,771.8 1291.8,576.9 1278.2,300.7 1289.8,1174.5 1292.6,955.9 1205.8,1561.2 1246,158.9 1163.4,83.1 1259.3,1484.8 1170.9,177.3 1199.7,1211.6 1242.6,109 1272.5,494.7 1299.4,967.1 1282.8,585.9 1289.7,659 1295.9,1414 1212.1,26 1196.2,913 1245.4,888.5 1273.5,601 1252.3,1238.6 1295.9,221.7 1278.6,703.1 1278.3,676.4 1295.9,1221.1 1199.2,1152.6 1284.5,375.6 1253.5,1030.2 1271.7,643.4 1069.4,1124.5 1299.4,721.6 1295.9,1500 1188.8,892 1105.1,1105 1146.8,27.2 1268.1,248.2 1212.4,106.1 1231.4,927.7 1162.2,711.6 1145,365.2 1242.8,989.4 1209.2,445.7 1262.5,440.7 1193,1023.1 1202.7,1329.5 1100,419.2 1093,1058.6 1223.2,1115.1 1282.1,725.1 1271.9,1389.6 1083.1,1255.4 1270.1,167.1 1086.5,1096.8 1231.8,678.3 1049.6,1064.6 1280.9,171.5 1299.4,401.2 1283.7,1135.7 1136.4,30.4 1299.4,885.1 1244,1595.7 1277.7,1153.6 1023.5,817.7 1281.9,219 1256,780.9 1270.2,1380.1 1244.2,175.2 1295.9,1507.3 1283.4,451.2 1252.4,553.5 1260.2,695.5 1289.9,1345 1295.9,1408.5 1177.8,389.2 1284,99 1273.7,1378.9 1175,1555.9 1270.3,372.1 1257.2,903.8 1261.8,1103.9 1115.9,1535 1162.3,560.7 1289.9,1466.8 1286.2,682.8 1260.4,142.3 1248,1269.6 1273.9,1094.2 1271,925.6 1189.7,597 1273.2,1611.1 1299.4,935.4 1100,729.5 1224.5,1559 1168.5,709.1 1171.9,1300.1 899.4,566.5 1159.9,1604.6 1240.5,144.4 1270.8,1527.6 1255,1350.3 1299.4,1498.8 1243.2,405.3 1299.4,935 1270.5,1257.7 1243.5,1588.1 1053.8,30.4 1293.4,1327.8 1280.5,1184.4 1075.7,389.3 1272.6,218.3 1194.2,907.7 1184.3,602.7 1199.8,1104.1 1196.2,185.7 1136.8,112.4 1165.8,951 1192.9,230.3 1275.2,1454.4 1285.9,1097.2 1239.2,151.1 1287.3,742 1245.1,968.7 1187.9,1019 1294.4,1525 1231,694.4 1255.8,473.6 1274.9,782.9 1202.1,14.7 1278.2,745.4 1215.8,79.2 1285.9,1013.4 1251.1,1023.5 1117.2,1101.8 1290.9,345.7 1211.7,477.5 1299.4,18.8 1259,249.3 1284.3,347.9 1224.9,1512.5 1272.2,1520.5 1238,1167.1 1131,388.9 1287.4,197.2 1240.5,787.2 1250.6,322 1204,1553 1283.3,305.3 1288.2,955.4 1281.4,1405.8 1183.6,149.6 1269.7,417.6 1280.9,551.2 1211.9,364.5 1260.9,373 1299.4,589.8 1227,445.5 1096.4,1120 1254.5,938.4 1284.5,496 945,920 1269.6,134.1 1051.5,362.6 1192.6,892.9 1127.6,230.6 1178.6,891.4 1055.2,1062.1 1216.5,1531.9 1261.2,1320 1278.8,681 1222.3,315 1299.4,1361.5 1284.3,1528.2 1290.9,162.7 1207.7,1537.8 1287.3,1336.7 1223.5,173.1 1047.9,1062.9 1275.7,644.9 1181.4,1300 1272.2,386.5 1295.9,1479.3 1244.5,94.8 1290.1,1496.4 1295,641.4 1255.8,647.1 1275.6,985.5 1247.8,1267.9 1126.9,393.9 1288.6,845.9 1194.4,893.5 1274.4,1305.5 1299.4,1599.6 1263.2,1339.8 1079.7,566.1 1284.5,1569.7 1295.4,1539.9 1299.4,30.2 1294.3,941 1086.2,245.6 1155,1534.1 1257.2,257.3 1226.8,30.5 1258.2,834.7 1299.4,1300.2 1248.8,1579 1212.8,1114.4 1039.6,1106 1222.3,910.1 1231,279 1276.9,1619.4 1280.7,21.8 1287.9,277.8 1290.4,1015.7 1245.8,1559.5 1292.6,1567.3 1291.5,214.3 1224.9,154.8 1216.4,160.3 1295.6,1278.4 1290.7,1337.9 1295.9,1434.9 1280.8,662.8 1296.7,1368.4 1231.8,474.6 1282.8,352.2 1291.6,117.3 1280.8,1219.9 1161.1,166.1 1274.4,684.7 1299.4,490.4 1127.8,1148.1 1189.1,1123.6 1255.8,1342.5 1196.2,12.8 1282.4,458.1 1299.4,1125.2 1292,1016.3 1266.7,1019.1 1268.9,1588.8 1077.1,1057.2 1084.6,1059.8 1211.2,959.6 1268.1,708.5 1290.8,653.9 1062.3,67.9 1252,1382.2 1295.9,243 1202.7,148.8 1295.9,1233.2 1280.3,1387.3 1234.7,893.3 1234.2,1157.4 1299.4,1156.3 1103.8,1582.5 1299.4,1606.4 1299.4,394.5 1149.8,710.1 1292.5,1497.1 1291.2,455 1169.1,603.8 1247,719.7 1299.4,1473 1238.7,893 1101.4,1513.2 1284.9,1322.3 1083.9,231.8 1289.7,1143.2 1280.8,717.3 1267.6,1307.6 1224.4,1302.6 1210.2,1594.1 1206.9,309 1247,61.9 1277.1,573.6 1091.7,1062 1280.4,422.7 1145,931.6 1286.2,1172 1166.8,709.6 1225.7,1562 1211.3,1182 1295.9,1235.1 1221.4,324.6 1150,603 1215.1,948.7 1295.9,193.1 1285.3,839.2 1227.5,1158.3 1225.7,240.8 1288,1252.5 1186.4,1174.8 1181.6,72.7 1299.4,1526.1 1242.1,544 1293.9,471.4 1093.2,1060.1 1264,339.3 1247.7,1112.4 1289,42 1288.4,25.5 1299.4,640.2 1234.5,65.7 1294.4,1299.3 1062.5,932.5 1296.2,1511.3 1197.7,306.6 1005.6,392.8 1293.6,153.3 1299.4,294.8 1299.4,1582.5 1109.3,1083.6 1147.1,1593.7 1291.3,1532.4 1189.5,260.1 1299.4,1028.8 1299.4,143.6 1293.1,218 1259.9,1548 1276.6,463.4 1163.9,156.4 1265.8,643.2 1274.3,1118.1 1174.9,1562.1 1077.8,216.5 1179.6,556.3 1261.5,578 1235.6,591 1171.8,82.9 1216.9,1331.1 1217.9,138.7 1299.4,463.7 1287,789.7 1267.5,1067.4 1115.2,1105.8 1076.7,929.4 1215.8,947.2 1122.8,581 1054.8,1519.5 1143.8,1117.1 1266.3,386.6 1299.4,460.1 1270,1531.3 1285.4,777.1 1262.3,1541.8 1288.8,748.2 1299.4,1253 1261.3,477.3 1074.6,933.3 1112.8,392.3 1273.9,638.5 1184.4,1546.9 1201.9,1139.5 1279.3,328.5 1230.7,76.5 1299.4,1578.3 1216.4,235.4 1241.2,180.9 1126.9,30.7 1284.3,414.7 1252.5,1109.7 1299.4,38.6 1295.9,191.4 1263.5,84 1171.1,950.8 1299.4,171.4 1257.7,460.6 1299.4,45.4 1265.4,156.8 1283.8,335.9 1132,1523.7 1294.4,496.4 1264.1,1259.9 1295.9,1324.7 1264.4,861.1 1228.8,949.4 1284.7,460.2 1182.5,712.9 1174.4,902.5 1295.9,1426.6 1283.3,1113.4 1210.1,1156.4 1282.2,416.9 1293.7,1386 1299.4,124.6 1151,230.8 1294.4,1465.6 1198.1,1139.2 1286.3,1222 1294.4,204.1 1267,1154.5 1048.1,1081.3 1299.4,488.1 1225.4,264.5 1299.4,790 1246.5,1019.4 1213,387.7 1214.4,1562.5 1266.6,1365.8 1271.4,10 1294.4,1415.9 1202.4,230.3 1150.5,364.1 1294.4,1404.4 1225.1,110.4 1299.4,353.7 1242.6,937.7 1293,313.8 1133.1,29.1 1277.2,665.5 1204.6,1182.7 1258.4,717.4 969.6,363.4 1257.5,1374.6 1228.4,179.9 1193.8,83.5 1212.6,111.8 1267.4,1485 1249.8,773.6 1248.3,290.9 1299.4,410.8 1299.4,586.2 1215.6,1541.3 1118.1,1521.7 1270.6,1251.5 1207.6,1544.4 1103.4,1059.1 1299.4,1448.8 1264,1338.1 1258,697.8 1226,33.1 1111,1104.1 1226,1573.3 1239.1,1271.7 1239.1,165.6 1221.7,20.4 1276.5,601.3 1299.4,1426.7 1257.7,887.7 1177.8,13 1184.3,909.7 1272.4,1079 1244.3,1561.8 1246,720.9 1240.4,327 1244.9,1064.4 1287.7,384.2 1295.5,611.8 1281.1,878.9 1126.8,456.8 1299.4,877.5 1176,304.7 1255.9,430.4 1291.5,935.2 1129.7,956.4 1285.7,1052.4 1289.6,1251 1195.6,145.4 1294.4,346.7 1292.5,724.5 1252.1,178.8 1299.4,102.5 1230.8,918.4 1254.1,661.3 1295.9,1433.6 1299.4,1144.5 1219.3,45.2 1250.2,477.3 1218.4,595 1276.3,1398.2 1282.3,874.8 1203.3,980.6 1241.7,1300 1273.3,276.3 1154,562.2 1289.6,1218.9 1042.9,66 1286.6,445.2 1293.4,1429.3 1153.9,1560.2 1286.1,586.4 1270.5,1352.8 1293.7,1259.8 1274.8,326.9 1294.4,220.4 1283.6,1578.5 1256.9,936.2 1291.3,660 1286.7,1495.4 1215.5,265.4 1299.4,678.1 1290.9,1218.2 1081.3,932.9 1228.6,1338.7 1154.8,1269 1279.4,1053.9 1261.8,1476.9 1241.7,1191.3 1286.5,17.2 1174.7,557.6 1250.1,833.1 1299.4,591.1 1218.1,1289.8 1179.8,120.2 1223.5,1139.8 1273.5,1001.1 1279,1465.4 1299.4,1469 1286.4,488.2 1278.6,731.9 1295.9,1239.2 1299.4,1450.1 1266.2,147.4 1275.2,1458.4 1284.7,607.4 1232.2,984.9 1293.5,1533.2 1299.4,1467.2 1292.1,860.1 1202.9,266.5 1124.6,46.9 1167.6,711.5 1191.9,1268 1299.4,1337.6 1202.3,1605.5 1185.1,958.2 1292.8,734.6 1259,1596.7 1291.6,1275.2 1195,978.9 1237.1,714.9 1287.5,1131.7 1270.1,437.4 1158.1,1460.3 1156.5,306 1299.4,406.8 1199.2,86.5 1285.6,56.5 1154.8,237.7 1263.2,1095.3 1295.1,1566.9 1258.5,1166.7 1249.4,1083.7 1293.4,218.1 1117.1,86.1 1270.1,496.5 1247.4,837.8 1176.4,1613.3 1264.5,786.2 1255.4,923.9 1230.9,1597.5 1299.4,253.5 1295.9,1420.4 1146.8,712.2 1139.6,1521.8 1287.8,1081.4 1262.3,36.9 1299.4,1584.7 1266,59.6 1166.3,83.4 1299.4,1237.6 1262.5,1152.1 1107.7,388.5 1294.4,1441.3 1281.8,897.6 1119.2,888.7 1294.4,697.4 1241.8,1318.4 1130.5,711.9 1060.9,1079.3 1286.1,98.9 1198.7,960.5 1260.8,1136.9 1296.3,1148.8 1150.9,48.5 1228.7,421.7 1214.2,785.7 1232.9,599.3 1299.4,233.4 947.7,81.4 1299.4,1199.7 1178.2,462.3 1299.4,543.8 1268.3,1073.7 1141.6,1541.3 1276.1,186.7 1280.8,94.9 1299.4,422.3 1252.1,1268.4 1130,1112.7 1288.7,1309.4 1299.4,732.6 1299.4,1176.5 946,485.5 1290.8,776.7 1174.9,241.4 1197.8,281.7 1270.3,13.6 1299.4,453.8 1295.8,973.4 1243.3,85.9 1237.8,977.3 1207.5,157.8 968.7,32 1270.9,131.6 1195.4,1110 1226.7,893 1225.7,899.8 1174.3,88.7 1299.4,1359.2 1295.8,1246.9 1260.8,566.8 1271.5,971.8 1299.4,847.2 1220.2,907.3 1245.8,54.2 1169,239.9 1290.7,470.7 1180.4,1593.9 1154.6,910.5 1266.3,1189.6 1293.4,410.9 1221.1,419.2 1049.9,882 1290.9,1165 1299.4,783.7 1272.7,1312.3 1173.6,1270.8 1294.4,643.4 1280.9,1023.7 1295.8,1576 1292,868.2 1187.9,390.2 1151.3,712.4 1254.5,542.1 1146.5,1107.8 1291.1,845.5 1263.3,1365.4 1267.8,1022.2 1017.6,702.5 1295.9,1440.8 1253.6,894.1 1221.2,1564.1 1276.8,898.1 1296.8,961.8 1294.2,1171.6 1282.5,288.9 1268.1,1108 1149.7,1268.5 1169.2,1141.7 1282.9,855.3 1287,312.3 1109.2,1033.8 1299.4,1337.1 1255.5,1389.1 1276.5,491.6 1138.1,1004.3 1277.4,1601.4 1288.2,435.5 1299.4,883.7 1197.5,1122.1 1173.6,733.4 1226.7,422.1 1293.2,650.2 1299.4,1102.5 1267.7,677 1285.8,1081.4 1288.1,1360.9 1200.8,162.1 1295.9,1441.2 1129.6,255 1189,1121.5 1274.3,1364.4 1295.2,1331.8 1169.6,495.6 1183.3,1057.3 1291.1,1014 1166.2,1557.9 1294.3,737.4 1165.3,1074.5 1256.7,114.2 1245.3,1191.5 1247.5,241.2 1284.3,1275.9 1249,908.7 1293.7,1530 1285.2,1084.3 1299.4,477.2 1294.4,330.1 1294.3,1615.5 1299.4,88.6 759.3,387 1283.6,1163.5 1243.1,1361.7 1234.7,1293.5 1277.8,1524.2 1280,651.1 1160.9,312.9 1257.2,371.4 1269.4,717.7 1283,384.3 1195,1005.5 1276.2,87.8 1276.2,1200.4 1247.5,1083.2 1273.9,475.9 1232.6,1152.8 1180.6,888.6 1295.9,1436.6 1241.4,1547.2 1158.2,906.6 1226,791 1277.1,49.3 1048.8,367.9 1157.8,1098 1294.4,1439.6 1269.1,25.4 1245.4,1334.3 1294.1,1218 1254.6,1055 1286.6,1506.3 1250,10.7 1264.4,462.7 1026.2,736.6 1282.8,1213 1202.2,1569.8 1295,454.4 1160.8,949.8 1250.1,1182.8 1175.7,947.4 1275.8,187.2 1299.4,1461.8 1295.9,1433.6 1207.4,380.7 1271.4,900.1 1299.4,846.3 1278.9,1484.9 1299.4,300.6 1270.4,122 1285.5,1561.6 1293.8,1215.3 1299.4,1592.8 1287,1477.8 1204.8,1556 1276.4,1337.8 1043.3,1515.5 1285,186.3 1160.4,1198.6 1080.7,1101.6 1213.7,85.5 1001.9,86.3 1250.1,184.5 1283.9,1361.8 1274.1,1396.8 1229.8,1332.8 1236.6,1246.1 1106.8,905.2 1289.5,374.8 1255,95.7 1294.4,383.3 1299.4,1608.2 1281.7,735.5 1266,883.2 1260.9,1560.1 1276.5,336.3 1262.7,1194.5 1293.8,1276.5 1224.3,894.6 1275.5,438.3 1268.9,898.1 1222.6,908.2 1108.2,1060.7 1258.4,323.8 1208,1576.6 1233,256.1 1259.9,1074.9 1223.6,1153.1 1142.1,1501.1 1288.5,46 1124.8,257.8 1120.5,74.1 1289.9,261.8 1170.8,167.7 1233,471.2 1287,577.8 1162.5,306.7 1294.4,120.8 1197.6,114.7 1290.4,932.4 1295.9,1426.9 1180.8,555.2 1268.9,284.5 1295.9,409.6 1130.1,439.6 1270.8,106.9 1059,139.9 975.7,643.5 1286.9,740.4 1260.4,1595.1 1286.8,299.5 1227.5,994.5 1228.1,49 1279,1539.8 1045.5,931.6 1189.4,1067.1 1288.8,1122.4 1179,1264 1299.4,859.8 1241.8,104.2 1212.8,61.5 1203.7,456 1299.4,1524.3 1299.4,1470.3 1293.6,571.9 1262.8,1045.9 1240.4,1557.6 1286.1,1034.6 1263.6,1131.7 1217.4,1368.6 1241.4,1592.2 1294.4,855.7 1290.9,1361.3 1269.3,1130.2 1282.7,896.1 1268.9,845.9 1285.7,354.9 1212.2,731.9 1272,63.6 1270.8,86.1 1274.2,328.2 1217,951 1293.5,435.7 1293.8,1245.1 1078.6,1139.1 1234.9,1544.2 1299.4,841.3 1242.9,270.7 1204.1,597 1281.9,1133.9 1257.8,388.4 1193.9,270.1 1262,1395.7 1270.5,480.2 1279.6,151.4 1285.1,1316.9 1256.9,1009.8 1282.2,1117.3 1229.6,404.9 1228.2,984.3 1295.9,753.6 1299.4,1152.1 1291.8,438.6 1145.5,952.9 1299.4,848.1 1278.8,1543 1137.4,31.7 1290.2,364.7 1226.8,577.9 1210.8,173 1237.3,110.4 1173.2,170.1 1271.6,246.3 957.9,1400.5 1285.5,1034.8 1294.2,750.6 1214.2,917.4 1299.4,346.1 1271.2,401.5 1138.9,253.9 1279.1,1256.2 1258.8,732.7 1144.8,1526.7 1296.4,957.2 1290.6,884.8 1299.4,303.3 1165.7,593.7 1109.5,1517.7 1277.7,1351 1142.6,888.6 976.9,56.6 1294.8,1127.5 1033.6,254 1198.5,692.7 1273.1,1027.6 1103.9,834.2 1280.3,1363.9 1106.1,103.8 1189.8,255.1 1149.4,238.8 1123.7,174.3 1259.9,7.2 1289.6,1340.9 1277.5,1290.1 1231.1,406.1 1278,284.1 1261,1280.6 1299.4,985.5 1282.7,1062.2 1251.7,1543.3 1194.1,108.3 1276.2,1448.9 1294.9,1557.4 1278.6,1131.6 1278.9,218.1 1255.8,733.2 1269,42.9 1299.4,99.8 1240.7,1148.6 1279.6,1355.2 1185.7,1265.5 1229.3,246.8 1075.7,368.4 1224.2,1089.3 1267.2,771.4 1020.1,1050 1167.9,59.1 1191.7,565.3 1295.7,689.5 1299.4,1574.8 1248.9,164.7 1295.9,1507.8 1267.5,900.9 1150.8,562.4 1200.7,457.9 1172.7,1266.6 1216.7,99.8 1299.4,304.2 1190,978.4 1283.1,1180.1 1252.5,1475.9 1239.3,1047.4 1290.5,409.4 1265.4,892 1288.9,1464.7 1239.3,925.5 1264.5,17.9 1251.7,968.1 1198,88.3 1113.8,182.5 1212.8,33.9 1282.6,375.1 1291.7,987.9 1220.9,1543.9 1197.6,554.8 1221.1,187.7 1293.4,1500.7 1293.4,1093.6 1299.4,390.4 1287.7,992.4 1140.8,1082.4 1125.8,565.5 1242.7,1228.4 1255.2,911.8 1238.8,967.4 1284.9,133.5 1159.1,993.6 1254.7,1311.8 1223.9,103.7 1242.7,420.1 1276.3,1299.1 1118.4,1089.3 1294,738 1081.6,1256.2 1277.2,1548.9 1276.2,18.5 1293.4,759 1258.7,1000.6 1299.4,945.4 1283.8,312.6 1260.8,1376.1 1261.5,1485.4 1147.1,1096.6 1225.1,717.7 1235.6,1518.3 1090.7,1548 1259.7,980 1279,1528.7 1294.3,1614.3 1245.6,113.5 1261.7,75.3 1248.1,1082.5 1287,400.1 1134.8,1114.4 1273.4,314.4 1140.4,912 1299.4,1162.1 1255.8,1484 1296.5,360 1293.4,186 1267.9,1558.1 1269.1,449 1290.2,1128.4 1282.6,728.2 1288.1,289.5 1225.6,171.8 1192,1181.4 1253,52.3 1280.5,699.3 1299.4,120.2 1208.7,782.5 1261.3,882.6 1195.6,145 1257.6,1082.6 1250.7,1331.9 1190.4,1028.1 1263.5,435.7 1281.9,1064.2 1143.9,1124.8 1206.7,963.4 1206.2,1114.6 1101,89.7 1246.7,1357.1 1265,1090 1206.3,598.9 1299.4,1225.4 1204.3,1169 1126.2,1070 1227.2,1577.6 1295.9,689.2 1142.9,907.9 1254.5,68.3 1266.4,1450.7 1284.7,253.7 1122.8,31.6 1278.7,714.2 1283.4,1380.1 1296.6,1576.9 1179.5,553.3 1182.1,245.6 1288.3,426.1 1106.9,87.7 1290.4,255.5 1123.6,103.7 1035.6,574.9 1209.5,367.4 1277.7,1551.6 1268.4,293 1259.5,211.1 1246.2,308.5 1245.6,17.3 1204.5,891.6 1223.1,317.5 1166,550.8 1255.9,71 1238.7,162.9 1263.3,977.6 1181.3,1265.7 1264.8,1355.4 1269.7,932 1299.4,942.2 1287.1,351.2 1217.5,1504.8 1299.4,706.6 1049.9,1481.8 1258.1,542 1226.7,236.4 1190.3,413.2 1299.4,71.6 1299.4,1535.7 1286.9,768.7 1299.4,1262 1266.6,24.7 1147.2,78.5 1235.5,1018.7 1299.4,1405.1 1228.8,1584 1244.3,576.9 1287.8,19.9 1056.2,95.1 1295.9,766.3 1299.4,874.3 1275.8,21.5 1299.4,1034.2 1034.5,1517.7 1282.9,1283.3 1197.1,1595.7 1299.4,583 1201.7,1070.6 1239.6,1087.5 1210.8,1294.3 1299.4,430.4 1199.3,1139 1268.4,1284.7 1247.2,230.5 1232.2,174.6 1299.4,1207.8 1259.9,1594.9 1248.3,1597.5 1206.3,906.7 1294.4,1350.4 1263.2,683.5 1188.9,150.1 1255.8,956 1202.4,961.1 1132.8,161.7 1294.4,857.8 1088.7,710.8 1163.5,1080.4 1234.3,480.5 1289.1,1481.4 1281.8,1572.7 1280.8,681.5 1169.1,559.2 1243.5,1096.1 1270.3,1337.2 1290.4,955.3 1190.7,19 1275.4,436.7 1210.9,1155.6 1294.6,870.9 1180.5,917.9 1299.4,143.1 1257,644.6 1294.1,969.6 1271.1,840.5 1254.5,696.8 1276.1,182.5 1289.6,331 1258.7,1590.5 1171.8,1116.9 1123.9,1521.8 1295.9,206.3 1156.2,1322.7 1295.8,142.1 1090.9,171.2 1266.5,492.9 1267.5,1302.8 1270.5,61.1 1264.4,1347.4 1202.6,1575.4 1291,416.5 1139.1,262 1288.6,741 1250,387.9 1267.7,703.2 1284.6,686.2 1294.4,1440.4 1207,607.1 1294.2,739.8 1228.6,245.8 1249.6,1525.3 1294.7,1126.4 1242.6,1554.1 1291.3,341.3 1124.1,33.5 1266.7,1486.2 1198.5,594.3 1268.2,717.1 1276.1,199.8 1029.1,64.3 1263.6,547.8 1242.5,705.1 1207.8,891.9 1195.2,714.8 1251.4,1605.1 1237.2,115.8 1215,350.9 909.3,444.8 1299.4,551.5 1149.3,685.4 1299.4,771.1 1273.5,29.5 1243.2,901.9 1299.4,147.2 1245.5,1600.4 1247.6,877 1265.6,1081 1293.4,1499.9 836.2,161.5 1299.4,370.5 1299.4,321.8 1291.8,1474.4 1272.6,33.1 1222.3,1307.9 1284.1,198.1 1270.7,985.7 1182.5,1294.6 1154.6,1110.2 1200.3,1199.5 1299.4,240.7 1217.7,1154.2 1299.4,21.6 1025.7,712.9 1246,278.5 1291,72.7 1257.3,1119.5 1126,256 1253,675.3 1187.5,443.7 1265.1,112.2 1294.4,1617.5 1119.9,390.1 1299.4,213.3 1269.4,244.1 1057.9,1517.7 1256.6,933.3 1288.5,1601.1 1264.4,123.8 1274.1,1106 1284.9,300.4 1277.4,1306.7 1272.8,1122.5 1264.2,791.5 1282.8,1529.1 1170.9,908.9 1299.4,222.8 1250.1,1363.8 796.8,50.9 1083.4,566.5 1295.7,1092.4 1248.7,955.5 1072.9,161.6 1260.4,1093.2 1262.6,900.6 1130.9,173.3 1110.2,593.6 1287.1,28.4 1052.1,1518.5 1200.1,147 1134.9,952.4 978.4,1484.9 1068.1,930.7 1281.5,428.4 1226,1287.5 1189.7,407.6 1215.5,30.4 1230,711.9 1193.1,1112.4 1292.1,1348.5 1187.9,462.3 1295.4,761.9 1218.3,443.9 1266.1,52.2 1244.3,1347.5 1222,1598.8 1202.2,229.6 1200.5,1019.3 1265.8,311.5 1277.9,1257.5 1276.8,465.2 1232.3,1595.5 1267.1,1240.1 1251.1,157.7 1236.6,1083.1 1299.4,1072.6 1161,1005.1 1210.1,678.5 1278.5,24.6 1236.5,470.5 1171.7,147.7 1299.4,1374.1 1260.1,282.1 1263.5,387 1203.4,1179.4 1185.9,148.3 1266.8,213.4 1229.1,966.9 1042.7,1060.2 1050.8,1082.4 1294.4,1620.2 1247.4,144.4 1283.8,1359 1286.5,842.5 1117.9,71.8 1270.3,1190.8 1258.7,663.7 1153.5,1020.8 1211,1056.2 1239.8,833.4 1286.8,1064 1299.4,890.9 1270.9,883.1 1226.5,1113.8 1255.1,1089.1 1065,1537.4 1269.2,1141.1 1284.2,1140.3 1256.5,35.5 1292,1239.5 1294.5,1238.6 1204.7,472.4 1236.7,1607 1291.6,741.8 1201.6,1017.8 1292.1,454.3 1289.8,180.3 1299.4,1325.4 1299.4,373.2 1114.8,558.7 1294.1,1015.1 1244.1,745.9 1299.4,1039.6 1196.6,46.8 1299.4,453.4 903.5,371.3 1259.8,916.8 1271.7,1130.3 1275.8,182.4 1267.6,1129.9 1181.3,280.3 1060,405.6 1299.4,597.9 1282.7,697.7 1236.4,1357.6 1232.6,783.2 1255.8,387.1 1219.2,406.9 1272.1,134.7 1277.3,716.2 1104.5,251.6 1299.4,208.4 1280.1,1064.5 1249.1,695.1 1213.4,1604 1289.7,876.4 1293.2,721.4 1202.9,304.9 1248,929.4 1049.9,1493.8 1299.4,1320 1288.5,1333.7 1203.6,1366.9 1198.6,1022.6 1231.5,1525.9 1184.8,946.1 1296.5,22.5 1288.5,1274.6 1295.9,39.3 1286.2,62.7 1264.6,283.3 1199.7,557.2 1145.7,1537.8 1299.4,697.2 1029.4,1094.4 1139,1590.1 1299.4,1410.5 1299.4,1578.8 1279.9,412.5 1295.9,1013.1 1274.3,97.1 1117.4,254.9 1214.3,10.6 1227.6,778.1 1207.2,22.4 1277,1253.5 1224.8,1173.2 1289.2,1323.6 1189.1,578.8 1198.7,1121 1201.1,169.8 1198,11.6 1255.2,1393.1 1274.3,1158.3 1294.4,1495.8 1294.4,1410.2 1235,46.1 1242.3,939.6 1278.7,869.5 1083.7,1102.9 1079.9,243.5 1295.5,241.8 1299.4,1374.5 1292,137.1 1285.3,1543.4 1252.5,158.6 1242.5,305.2 1275.7,877 1242.5,1067 1283.2,268.8 1279.7,1050.6 1062.4,123.1 1299.4,1569.4 1288.9,296.5 1230.2,1349.3 1281.1,861 1299.4,1026.5 1257.4,65.5 1213.9,1532.7 1278.3,57 1172.4,1301.9 1267.1,380.9 1289.3,190.5 1234.8,338.1 1299.4,728.9 1282.3,1292.6 1133.7,394.1 1227.1,1560.7 1277.9,913.2 1287.1,986.2 1287.1,481.5 1299.4,431.8 1270.8,1453.2 1155,315.2 1261.7,1186.2 1268.9,301.8 1275.6,18.6 1293.3,257.5 1156.4,732.2 1299.4,945.8 1256.4,1153.2 1158.9,1537.3 1064.6,1571.4 1239.7,479.4 1161.8,955.8 1272.5,125.2 1299.4,1438.8 1244,1153 1224.7,784.4 1074,833 1248.2,851.8 1248.1,1370.5 1262.9,717 1153.6,306.7 1170,443.2 1264.8,1188.3 1234.3,1172.4 1299.4,1093 1210,1611.2 1221,789.6 1229.5,234 1258.5,1375.7 1282.6,199.4 1206.7,561 1288.8,591.4 1191.4,1562.1 1276.3,94.5 1278.2,935.5 1247.4,258.8 1214.8,1611.9 984.6,683.5 1270.4,744 1293.4,217.8 1290.2,897 1299.4,379.9 1228,1537.5 1273.1,974.8 1260.9,839.9 1105.7,1082.7 1275.3,791.2 1212.7,93.2 1294.8,1359.9 1294.4,1243.3 1270.1,1131.3 1207.3,967.7 1299.4,1403.3 1256.8,393 1294.4,864.3 1226.1,926 1170.6,889.1 1135.6,93.3 1104.9,556.6 1143.5,263.9 1288.6,439.6 1295.9,1231.9 1239,33.7 1295.9,878.6 1275.7,1623.4 1265,257.7 1075.3,1498.2 1282.6,234.3 1293.6,215.2 1285.3,1403.4 1249.4,169.4 1063.7,145.9 1249.7,448.3 1230.6,930.8 1106.5,1523 1299.4,561 1283.7,591.1 1174.4,991.2 1271.9,1101.4 1183.2,314.1 1299.4,429.1 1294.9,1586.2 1148.5,1090.9 1254.1,768.5 1295.9,864.7 1151.6,90.7 1284,1062.6 1291.8,1289.1 1225.7,323.2 1289.9,275.3 1299.4,275.7 1262.5,114.8 1276.1,1062.5 1285.5,1602.3 1296.1,297.2 1277.4,1337.8 1299.4,1582 1277.8,1045.5 1245.1,319.8 1286.2,1322.9 1285.9,1181.3 1299.4,1319.5 1232.9,1268 1244.4,312.4 1117.1,47.7 1246.7,11 1241.6,404.1 1288.3,975 1196.4,1116.7 1289.7,1590.4 1284.9,856.2 1273,59.6 1279.5,1527 1121.8,1264.3 1248.5,718.9 1281.4,381.2 1292.3,437.9 1139.7,29.4 1299.4,864.8 1258.5,158.9 1200.3,994.7 1077.3,1081 1281.7,398.1 921,794.5 1293.2,1275.7 1282.5,182.2 1295.8,1224.8 1267.4,184.9 1284.5,1072.2 1289.5,1008.9 1287.3,490 1160,12 1267.2,155.3 1274.6,1536.6 1239.3,328.9 1299.4,1245.3 1201.1,370 1231.3,155 1293.7,1050.4 1170,418.3 1192.5,566.1 1242,1123.8 1181.6,172.8 1266.4,666.3 1161.7,977.1 876,419.3 1265.5,1124.7 1299.4,1079.4 1299.4,1450.5 1162.6,502.8 1169.1,1604.8 1295.4,397 1272.5,879.1 1253,1555.8 1175.5,1268.6 1299.4,1536.5 1208.2,100 1299.4,574.4 1276.6,126.5 1098.9,707.1 1097.1,88.4 1237.7,1306.3 1299.4,718.9 1271,911.4 1248.8,325.2 1299.4,60.8 1295.8,1577.1 1292.4,143.9 1212.1,1154.7 1230.2,358.2 1228.8,947.2 1268.7,311.5 1288.1,969.8 1293.5,710.8 1183.3,890.1 1294.4,489.2 1282.4,1484.1 1283.7,1520 1165.4,1178.3 1280,54.4 1289.8,241.5 1287.8,1403 1279.6,1149.6 1257,1548 1152.1,924.7 1111.5,1099.3 1299.4,315 1219.5,1570.5 1299.4,299.7 1151.6,81.1 1160.9,898.3 1241.2,1139.9 1264.9,1106 1048.3,1516.9 1266.6,1035.5 1196.9,1339.2 1264.2,351.3 1285.7,343.4 1295.9,1417.3 1293.4,752.4 1231,262.7 1292.8,52.4 1290.5,858.3 1176.7,444.4 1276.1,584 1299.4,651 1299.4,1098 1283.7,1383.3 1299.4,1161.7 1262.7,961.4 1267.4,950.2 1159.9,567.8 1263.6,307.2 1117.7,918.1 1285.5,290 1029.1,704.8 1220.6,45.2 1278.1,723.6 1280.7,466.4 1294.3,1614.9 1258.6,931 1287.2,990.8 1293,260.8 1223,1265.3 1268.8,1032.4 1210.8,1098.5 1299.4,177.2 1095,1115.1 1260.2,1344.3 1286.3,317.8 1126.2,90.6 1075.1,1098.7 1287,1253.7 1243.3,1193.2 1295.9,1423.4 1299.4,336.2 1216.8,1028.3 1283.8,736.5 1290.7,495.1 1212.1,452.9 1275.1,191.8 1240.9,117.4 1193.2,1210.6 1265,893.8 1278.8,579.1 1282.4,831.6 1299.4,1111.2 1299.4,262.5 1248.7,469.2 1280.6,192.1 1234.3,1550.1 1194.9,253.8 1277.8,898.3 1295,1480.3 1286.2,1168.3 1299.4,68.4 1285.5,1399.5 1227.9,678.9 1299.4,657.4 1173,1535.4 1294.4,847.9 1256.3,1319.6 1256.7,52.3 1299.4,842.7 1294.4,1133 1211.1,1071.5 1271.2,645.2 1287.3,81 1126.3,28.2 1271.5,940.7 1247.9,200.2 1168.7,391.1 1254.1,1189.1 1254.9,771.9 1262.8,1169.1 1299.4,664.2 1254.4,1362.6 1185.5,295.8 1202,1073.3 1206.8,1600.2 1285.8,1608.3 1264.1,791 1063.7,1534.8 1288.7,1085.9 1277.2,1224.2 1270.5,162.4 1263,50.7 1279.2,293 1122.1,1062.6 1292,467.7 1258.4,1537.6 1294.4,1402.6 1268.1,1352.4 1202.2,12.5 1246.1,1380.4 1186.3,471.5 1164.3,1328.4 1241.8,1546.5 1275,1433.7 1299.4,366.5 1248.4,588.4 1256.7,1284.4 1114.6,1274.9 1299.4,161.5 1299.4,1109.9 1132.5,86.6 1244.7,1573.8 1153,1073.4 1267.1,691.4 1251.5,99.4 1202,591.2 1123.2,1101.5 1190.8,891.8 1175.5,1005.9 1240.8,1503.1 1193.1,951.5 1283.8,440.7 1218,1184.9 1279.8,446 1081.7,558.5 1250.5,434 1098.1,557.9 1121.6,1485.7 1136.9,1119.4 1258.4,901.6 1295.4,1602 1275.9,591 1286.3,347.1 1271.3,567.2 1277.9,287.7 967.8,934.4 1144.8,923.1 1267.4,1587.1 1281,1146.4 1299.4,1086.6 1245.1,904 1285.6,295.5 1299.4,1284 1291.7,1376.8 1100,73.8 1299.4,1533.8 1222.2,953 1201.1,1306.2 1273.7,728.4 1247.2,70.3 1146.6,464.7 1299.4,1418.1 1299.4,1412.3 1299.4,1395.7 1295.9,1207.2 1260.2,1101.1 1287,1282.2 1253,1227 1257.9,1046 1278.6,40.8 1187,953.6 1180.4,1542.3 1284.9,381.6 1219,262.9 1294.4,1145.8 1290.2,108.8 1294.4,234.1 1276.3,360.4 1231.1,54.5 1069.8,561.4 1176.7,562.9 1211.1,257.7 1237.1,1279.1 1264.6,470.6 1268.7,34.8 1290.2,1562.1 1246.9,1089.5 1268.2,1379.7 1286,639.5 1265.4,994.9 1252.9,301.3 1295.9,879.8 1245.6,1302.1 1296,1137.8 1283.5,1521.3 1261.3,181 1275.8,1215 1264.1,921.4 1285.5,680 1246.2,298.4 1240.8,1569.6 1211.6,563.3 1299.4,1315.9 1235.8,230.3 1276,560.3 1180.2,1526.9 1188.7,369.6 1190.5,256.3 1279.1,572.4 1141.5,1018.6 1290.4,261.6 1269.7,287.6 1253.3,1082 1299.4,1556.9 1232.7,409.1 1282.7,682.1 1270.4,255.7 1238.1,475.2 1160.8,306 1281,352.6 1283.6,772.2 1244.1,1333.4 1272.4,1303.6 1232.2,270.4 1299.4,1240.3 1277.6,20.2 1258.4,1125.8 1201.1,718.8 1249.7,1052.5 1258.2,842.7 1238.7,445.6 1243.8,429.5 1236.4,77.8 1170.9,92.5 1285.3,196.7 1202,1300.8 1299.4,1132.3 1093.4,1550.2 1095.2,403.3 1137.3,1488.1 1264.9,1368.9 1296.1,312.8 1164.6,163.4 1098.5,125.5 1270.7,327.6 1285.2,999.3 1260.3,294.9 1257.9,1066.4 1294.3,780.7 1283.2,662.2 1271.3,899.7 1242,359.3 1279.2,65.5 1209.3,323 1290.3,1505.1 1221.7,63.3 1281.2,550.5 963,613.5 1293.1,359.2 1272.6,1289 1238.7,1107.9 1299.4,687.6 1295.9,1535.4 1289.7,309.1 1142.4,1075.2 1111.8,172.5 978.8,603.9 1232.8,478.3 1284.7,1451.7 1288.5,568.8 1159.4,1209.3 1225.7,650.5 1262.8,144.3 1187.7,1298.3 1256.5,1359.3 1241.2,470.1 1154.5,1601.1 1278.9,1174.3 1265.6,1374.1 1122.5,231.1 1199.4,676.6 1236.9,1042.3 1278,475.1 1283.3,894.9 1278.4,386.8 1082.2,1015.6 1279.1,337.2 1125.8,1283.4 1241.7,1261.5 1280.3,885 1294.3,1613.6 1153.2,164.7 1246.8,987.1 1299.4,54 1270.7,598.2 1287.7,345 1287,1127.9 1222.8,353.5 1272.6,27 1149.9,1119.6 1250.3,1067.4 1181.4,891 1277.1,1562.7 1264.2,303.4 1263.9,1182.6 1299.4,1573 1278.1,323.2 1295.1,1565.6 1258.7,1394.3 1288,9.8 1294.4,782.1 1290.2,1343.2 1197.6,953.3 962,1316 1288.8,136 1234,1052.8 1235.7,1350.4 1199.9,994 1279.3,1368.9 1287.8,486.4 1195.2,1125.1 872.2,21.4 1299.4,1014.8 1264.7,1053 1277.4,685.3 1033.8,846.8 1299.4,1287.1 1148.7,176.8 1295.9,1235.5 1209.3,1119.6 1233.9,1046 1274.1,468.6 1241.3,914.4 1290.7,157.6 1268.2,1605.3 1252.6,1564.5 1274.8,59.4 1209.3,325.9 1100,219.6 1059.6,707.8 1299.4,709.5 1095.2,1095.8 1295.1,1300.7 1221.1,316.2 1173,276.7 1143.3,93.8 1261.2,547.2 1269.1,210.7 1294.4,1438.9 1299.4,144.9 1293.2,583.2 1111.8,79.5 1157.6,1538.2 1206.3,1538.6 1105.1,885.1 1295.9,1420.9 1049.1,1004 1279,944.3 1290.6,589.6 1216.2,1291.2 1260.8,575.6 1205.8,1610.5 1270.7,41.4 1097.6,90.8 1214.4,266.1 1299.4,723.9 1198.9,1106.3 1284.7,575.3 1171.6,411.3 1299.4,1043.6 1283.6,1057.9 1299.4,1573.9 1133.9,1104.2 1276.8,847 1199.3,956.3 1279.6,1611.4 1276.2,402.6 978.3,76.5 1292.3,63.2 1241.6,144.7 1194,1076.1 1283.7,372 1247.1,274.9 1251.1,1151.4 1293.4,762.8 1228.4,87.6 1235.7,899.6 1299.4,1011.7 1280.9,1223.4 1246.2,907.7 1218,318.7 1147,1088.3 1277.2,1279.3 1287.4,356.3 1212.8,1307.1 1149.4,895.9 1196,778.5 1294.4,194.5 1153.1,1119.1 1236.3,1050.7 1231.5,420.7 1259.2,1033.6 1272.4,1098.6 1287.6,369 1179.6,168.8 1265,544.4 1220.8,1593.5 1272.3,1141.6 1299.4,390.9 1197.6,85.6 1277.4,974.6 1204.1,50.6 1299.4,1174.3 1289.7,133.9 1294.4,1128.1 1135.3,260.4 1285.3,970.5 1243.2,1555.3 1203.1,324.3 1127.6,1116.3 1291.6,339.5 1257.5,1307.2 1295.9,68.6 1295.9,1144.8 1272,1293.8 1299.4,578 1278.4,783.9 1262.3,774.5 1293.4,223.1 1200.4,1185 1291.8,342.7 1248.8,1363.1 1273.8,846.4 1248.4,1091 1216.9,89.7 1281.7,781.3 1188.7,1597.6 1273.5,647.1 1299.4,170.9 1230.1,1106.9 1291,1211.8 1299.4,480.4 1099.6,547.5 1274.4,1094.3 1248.2,1151.1 1204.6,780.8 1116.8,249.1 1287.5,154.9 1224,1158 1256.7,1133.6 1285.9,322.9 1280.7,401.5 1072.9,995.1 1212,24.5 1293.3,440.1 1270.7,248.4 1288.4,673 1291.3,1246.1 1151.4,1527.6 1274.1,660.4 1256.8,1378.6 1295.9,1575.4 1294.3,74 1253.7,98.6 1299.4,911.6 1299.4,1271.9 1246.2,240.2 1273.2,1404.1 1111.1,79.3 1294.4,1508.1 1203.5,1020.1 1292.7,353.5 1242.7,1330.1 1274.2,1472.5 1284.7,871.4 1299.4,458.8 1295.9,1407.4 1299.4,128.1 1182.7,1560.9 1299.4,716.2 1168.3,1533.5 1153.8,1096.5 1157.9,980.4 1180.2,1139.8 1258.6,706.7 1231.4,788.9 1299.4,32 1140.5,943.2 1256.3,369.3 1164.1,960.4 1299.4,1443.8 1279.6,575.2 1214.1,1086.3 1178.5,596.3 1295.9,1506.8 1221.1,914.8 1283.3,433.6 1159.3,261.4 1084,684.4 1199.8,16.8 1279.7,477 1237.2,949 1262.6,1272.1 1292.6,999.2 1261.8,935.2 1167.5,995.2 1299.4,675.4 1258.4,112.5 1167.8,445.9 1183.9,281.3 1275.3,1320.2 1299.4,943.1 1265.4,441.4 931.4,479.9 1299.4,372.3 1062.7,577.1 1299.4,1054.5 1213.3,895.9 1246.6,389.1 1293.1,1111 1257.6,161 1189.7,963.2 1268.2,943.6 1273.8,1173.6 1275.8,569.1 1183.5,1126.7 1279.8,975 1299.4,1151.2 953.5,1310.2 1258.2,1199.5 1286.4,885.1 1213.8,1553.6 1210.3,592.3 1295.2,1061.7 1277.6,979.8 1231.2,1359 1299.4,980.1 1088.7,247.1 1292.9,331.4 1267.7,1170.1 1201.2,578.6 1299.4,1149.4 1269.7,1090.5 1287,375.1 1251.8,712.3 1193.2,164.4 1280.2,1175.8 1277.6,853.3 1207.9,1550 1134.1,223.4 1265.4,404.1 1226,407.4 1262.4,547.7 1248.4,1041.8 1132.1,31.3 1255.2,1602.1 1243.5,1513.6 1273.3,957.7 1294.4,1103.2 1294.5,1091.1 1164.5,239.2 1263.6,1573.7 877.3,520.6 1248,1180.7 1274.9,184.3 1299.4,1539.7 1270.6,590.9 1192.7,747.7 1275.9,649.1 1215.6,88.7 1282.5,174.6 1237.9,22.9 1101,1061.2 1275.6,784.3 1280.5,1022.4 1299.4,906.7 1244.3,75.7 1110.6,82.6 1155.9,259.1 1292.7,656.2 1179.8,236.9 1287.5,549.9 1235,923.7 1299.4,436.8 1270.7,211.3 1265.9,493.8 1291.7,840.6 1299.4,1260.7 1292.5,1460.5 1269.6,1588.3 1226.7,236.6 1279.2,1308 1236.5,1111.2 1285.9,158 1280.9,1110.1 1239.6,1360.5 1296.3,1513.9 1163.4,707.3 1143.5,1044 1270.9,1094.6 1294.4,1236 1271.8,935.9 1061.5,1083.7 1276.5,110 1003.4,928.3 1295.9,865.9 1299.4,757.6 1135.2,581.8 1180.5,87.3 1237,1518.6 1050.4,394.9 1172.9,1024.3 1204,370.3 1240.2,1090.9 1282.4,58.8 1157.3,86.4 1288.8,550.9 1205.3,232.4 1198.4,27.9 1247.1,679.2 1278.7,1448.4 1268.7,1040.9 1299.4,1567.2 1232.2,171 1194.8,1538.1 1223.6,607.7 1224.4,1180.4 1279.3,1045.1 1299.4,1405.5 1293.1,49.9 1293.3,653.4 1277.4,109 1174.6,496.7 1274.6,732.9 1293.4,690.5 1257.9,746.1 1162.2,331.1 1292.1,58.7 1299.4,92.6 1299.4,1356.5 1279.6,1620 1204.7,1059.7 1250.6,419.3 1285.1,332.8 1256.8,1383.1 1261.7,1350.7 1289.8,101.2 1299.4,767.9 1295.9,765 1194.3,1063.8 1109.5,886.9 1196.1,910.5 1296.7,118.1 1277.8,1461.1 1186.8,1592.9 1182.4,468.1 1249.3,953.7 1158.4,336.6 1206.4,81.6 1268.8,1601.6 1292.4,1427.7 1194.5,1594 1252.5,1142.4 1214.2,14.7 1290.1,296.6 1225.8,1078.4 1258.8,175.7 926.8,1054 1292.3,1400.8 1162.2,875.3 1299.4,1477.1 1281.4,987.8 1243.6,392 1271.9,965.4 1290.5,309.9 1164.5,1505.5 1295.9,1444 1252,182.5 1234.1,1304.1 1299.4,1046.3 1294.9,1427.4 1296,793.2 1119.2,252.1 1294.4,861.9 1284.8,1109.2 1299.4,1525.2 1283.8,1184 1290.7,28.5 1162.8,110.4 1294.4,113.1 1261.8,557.6 1287.9,1468.4 1174.9,554.3 1274.2,1121.5 1138.1,886.7 1278.9,988.7 1239.3,426.6 1253.9,383.2 1299.4,77.7 1203.4,977.1 1292.2,1033.6 1296.8,1313.7 1289.1,867.7 1286.3,1106.2 1278.2,271.6 1267.7,437.4 1113.6,94.4 1269.4,974.2 1219,724.7 1243.3,1371.6 1289.1,1133.4 1199.4,1061.8 1294.9,1136.4 1214.1,261.6 1145.3,977 1247.7,563.7 1290.4,1467.4 1218.4,721.4 1290.6,1509.5 1251.8,1058 1231.4,1117.5 1281.8,27.2 1259.8,350.3 1246.9,898.4 1098.8,1260.2 1235.2,1028 1260.2,457.7 1272.1,107.6 1269.5,978.2 1286.9,122.8 1053.3,655.5 1285.5,1489.4 1251.2,178.4 1133.6,904.2 1034.6,93.4 1239.3,1084.2 1282,700.9 1286.8,1314 1102.6,1086 1260.9,1130.2 1217.2,34 1294.4,1421.7 1253.3,1282.4 1067.3,393.7 1265.4,600.5 1255.2,331.1 1217,1305.3 1240.9,1022.7 1202.6,161.3 1299.4,1415 1259.8,1486.7 1057.4,453.7 1217,479.9 1299.4,1563.6 1295.9,1500.3 1295.6,1113.2 1295.9,1437.1 1282.2,1082.4 1283.6,1530.7 1295.9,643.1 1244.4,1546.1 1288.2,151.9 1247.9,916.3 1168.7,274.6 1294.4,100.5 1183.9,1104 1291,1498.5 1143.2,390.7 1255.3,404.2 1283.9,1117.9 1264.9,435.7 1248.5,8.5 1078.2,393.3 1291.9,205.4 1273.9,155.1 1295.9,1410.3 1240.9,430.4 1281.1,702.8 1299.4,913.4 1264.8,917.7 1265.1,260.5 1224.9,852.6 1292.3,240.8 1299.4,72.5 1290.1,1098.8 1290.1,124.1 1277,398.1 1295.9,1612.9 1299.4,46.3 1299.4,27.5 1256.1,1606.6 1251.2,733.4 1216.7,480.4 1211.3,962.9 1181.3,913.5 1299.4,1230.4 1252.6,210.3 1202,280.5 1273.9,646 1128.3,1517.9 1240.4,947.9 1217.5,1075.9 1265.8,1333 1272.9,490.8 1224.1,1332.2 1288.6,201.1 1261.7,239.5 1058.7,1520.7 1189.6,957.3 1299.4,413.1 1170,606.5 670.2,76.3 1246.1,1193.5 1258.7,1122.7 1277,780.3 1153.3,1108.3 1099.1,1062.7 1288.1,1076.9 1220.7,52.3 1289.4,1011.9 1232.9,105.8 1249.7,1007.1 1293.4,654.3 1295.9,755.6 1211.8,320.3 1234.4,654.4 1288.6,1002.5 1201.1,1561.6 1273.4,1602.8 1294.4,1479.8 1299.4,347.9 1220.8,14.7 1290,1180 1152.2,364.9 1299.4,705.7 1218,1100.3 1264.6,572.7 1242.3,1179 1264.9,146.5 1299.4,94 1299.4,1083 1244.2,719.3 1152.5,322.2 1275.4,102.4 1248,1602.8 1299.4,24 1067.1,1068.2 1248.8,46.1 1281,544 1291.4,1214.4 1259.8,1176.3 1294.4,954.6 1049.9,231.2 1283.9,1095.8 1176.1,456.3 1294,873.8 1284.4,725.8 1233.5,1471.3 1299.4,1333.5 1264.5,89.7 1295.9,1434.5 1278.5,790.8 1132.9,1583.1 1257.8,105.7 1294.4,1204.1 1299.4,1010.8 1285.1,770.2 1285,976.6 1152.4,1101.1 1120.1,74.8 1131,1298.2 1240.9,1534.1 1194,113.9 1060.6,238.8 1265.7,250.9 1124.1,86.7 1252.3,421.3 1299.4,1560.5 1224.7,1151.1 1294.4,357.5 1273.1,1542.7 1156.3,268.5 1299.4,1223.6 1258.3,10.8 1243.2,1123.6 1284.3,1060.8 1134.6,79.5 1264.7,1449.8 1178.2,1301.7 1295.9,1409.8 1260.2,1313.3 1197.4,1059.6 1180.5,19 1181.4,998 1278,916.8 1182.2,496.7 1260.6,300.5 1286.7,665.3 1287.3,152.3 1299.4,461.9 1236.8,1331.3 1243.8,657.9 1295.9,1417 1147.2,369 1280.7,713.3 1243.5,982.8 1203.3,887.9 1287.2,459.9 1188,284 1246.4,416.5 1272.4,1217.2 1299.4,1077.6 1256,90.6 1294.4,1423.3 1232.1,96.8 1223.4,281.8 1111.2,1269.6 1239.7,1197.9 1249.4,314.4 1226.4,1051.7 1195.7,90.9 1211.1,958.2 1290.3,769.1 1260.8,1534.7 1110.2,1069.1 1250.3,1260.9 1278.4,1489.8 1299.4,1162.6 1177.4,709.7 1299.4,1408.2 1148.3,1315.8 1178.9,563.4 1299.4,651.4 1187.5,596.7 1255.7,787.5 1208.4,996.6 1252.8,907.4 1273.6,891.8 1053,233.1 1266.5,415.1 1155.8,244 1130.8,562 1287.2,569.5 1285.4,373.9 1120.9,1532.1 1170.5,842.8 1181.9,1538.9 1198.2,894.5 1221.8,14.7 1025.7,400.7 1253.4,774.1 1143.3,72.1 1261.6,151.1 1248.1,933.1 1275.8,1293 1281.4,993.3 1272.9,458.5 1266,561.4 1280.1,600 1299.4,414.9 1200,1229.8 1127.9,559.3 1283.8,1046.4 1247.2,181.4 1275,966.5 1294.4,191.7 1295.9,1622.8 1281.4,18.8 1187.9,1119.7 1179.6,239.5 1232.3,423 1191.3,1022.8 1231.2,1531 1294.4,973.6 1272.8,483.2 1296.1,971.2 1239.4,1072.3 1172.8,229.8 1299.4,562.3 1197.3,456.6 1253.2,348.1 1214.4,1040.9 1207.4,270 1299.4,399.9 1299.4,756.7 1286.4,330.5 1202.3,147.4 1193.9,941.5 1247.9,1580.8 1277.6,225.2 1218.1,227.2 1286.5,1505.9 1098.5,363.3 1276.4,1604.8 1253.9,931 1273.9,279.1 1281.4,186.7 1277.1,849.4 1245.3,1620.5 1295.9,652.1 1237.8,1351.7" fill="none" stroke="none" marker-start="url(#n)" marker-mid="url(#n)" marker-end="url(#n)"/>
<polyline points="1290.8,636.6 1060.2,516.5 1138.6,804.7 1248.6,810.5 1253.8,802.2 1299.4,634.3 1299.4,629.8 1275,799 1253.3,620.2 1225.8,507.5 1217.5,797.7 1157.4,513.8 1242.7,608.8 1279.1,631.8 1257.4,808.6 1227.7,511.7 1260.3,604.4 1127.1,803.1 1284.7,627.6 1229.2,511.4 1287.7,501.2 1170.9,421 1162.2,824.5 1299.4,522.9 1232,802.8 1196.6,818.7 1094.4,425 1066,418.9 1195.6,800 1171.3,427.2 1268.3,622.7 1299.4,804.2 1262,509.9 1199.8,803 1245.4,828.3 1086,499.8 1274,802.4 1186.8,516.6 1164,812.4 1171.7,798.6 1244.2,817 1265.9,802.5 1282.4,627 1267.7,610.7 1278.3,632.7 1226.4,829.4 1299.4,831.6 1169,812.2 1278,635.5 1295.7,509.9 1151,808.8 1283.8,531.2 1258.7,428.5 1299.4,620.7 1173.4,625.1 1299.4,629.3 1195.5,817.5 1294.4,524 1299.4,505.7 1283.6,820.6 1204.4,796.1 1270.8,618.8 1035.2,422.8 1077.5,809.2 1243.9,791.8 1288.4,533.7 1207.7,613.4 1285.6,502 1139.9,797.6 1285.7,608.8 1218.5,518 1104.1,813.6 1295.6,616.2 1184.4,512.4 1286.9,624.1 1182.8,826.4 1251.3,795 1223.7,816.8 1121.7,421 1249,503.3 1186.6,825.8 1231.9,812.1 1138.5,515.4 1213.4,425.5 1264.7,795.6 1116.7,815.5 1189.8,814.4 1247,818.8 1283.7,795.1 1279.4,616 1095.1,807 1261.1,514.9 1005.9,421.9 1169.9,814.3 1155.8,506.1 1180.1,828.3 1299.4,823.9 1140.6,616.2 1267.7,506.3 1273.8,831 1299.4,822.1 1057,793.6 1282.9,506.4 1276.6,632.3 1170.9,826.5 1198.4,823.8 1254.2,623 1188.6,805.3 1261,808.9 1112.3,502.1 1288,815.6 1272.8,613.7 1238.9,631.3 1091.8,500.6 1221.5,668.4 1139.8,504.6 1295.1,523.8 1259.1,813.8 1056.2,423.7 1191.7,812.7 1193.5,808.4 1281.8,501.5 1220.5,823.6 1259.4,513.3 1277.9,812 1128,423.7 1255.8,827.7 1251.9,819.2 1276.7,821.6 1299.4,522 1269.7,631.6 1283.6,429.3 1059.3,801.7 1068.6,419.8 1287.4,628.1 1252.7,605.7 1294.4,815 1294.1,520.7 1145.9,803.4 1245.5,625.7 1236.6,827.7 1299.4,627.5 1299.4,630.7 1293.1,499.6 1082.6,421.1 1199,805.6 1219,625.5 1299.4,823 1271.6,621 1287.7,615.9 1245.9,828.7 1093.4,423.7 1299.4,621.2 1260.9,505.1 1254.4,633.1 1230.4,805.4 1299.4,670.2 1295.9,520.4 1299.4,530.1 1299.4,513.4 1250.2,626.9 1270.1,515.9 1126.9,503.5 1210.2,826.3 1291.8,539.2 1291.6,540.9 1277.8,615.2 1299.4,539.5 1292,528.1 1282.5,534.8 1137.2,513 1192.1,509.5 1272.5,612.6 1181.5,516.1 1025.1,419.3 1045.2,423.2 1117,802.3 1188.1,511.1 1299.4,814.5 1299.4,828.4 1231.5,823.9 1272,538.8 1277,529.9 1282.1,537.4 1180.1,423.2 1250,609.5 1263.4,671.6 1056.5,798.3 1203.7,515.5 1274.6,824.4 1263.8,817.9 1142,617.5 1279,536.8 1106.1,501.7 1212.4,795 1203.6,830.5 1221.4,834.3 1114.2,809.3 1152.1,517.4 1272.2,522.5 1286.8,830 1295.9,635.8 1273.6,633.6 1212.6,835.3 1244.4,509.8 1264.3,624.7 1243.8,794.8 1233.8,819.4 1206.1,834.1 1187.4,509.3 1207.8,829.4 1208.5,421.9 1012,611.7 1214.9,801.5 1204.9,669.5 1071,499.5 1128.9,530.6 1257.1,625.9 1277.3,806.1 1224.6,623.8 1204.4,806.1 1163.4,507.1 1168.8,616.2 1299.4,801.1 1144.8,500.8 1215.1,810.7 1299.4,532.8 1269.5,804.1 1281.1,808 1275.6,514.3 1168.8,808.5 1190.3,807.8 1141.1,820.3 1246.5,626.5 1062.3,805.8 1247,791.6 1167.5,618.8 1135.3,807.8 1115.9,419.9 1021.6,418.6 1091.3,419.5 1193.6,618.2 1296.3,537.8 1188.6,825.6 1294.4,630 1292.4,534.3 1268.7,609.8 1271.6,428.9 1199.3,821.5 1266.3,512.8 1138.7,419.9 1066.9,422.3 1189.5,807.3 1260,612 1268.9,619.1 1248.2,792.9 1283,500 1286.6,622.3 1254,814.2 1174.4,617 1133.6,504 1084,516.5 1183.3,813.6 1266.5,616.7 1299.4,526.5 1235.7,827.1 1258.1,521.7 1263.1,525 1176.2,422.9 1267.9,827.9 1230.7,828.4 1277.1,829.9 1275.9,820.6 1108.7,425.5 1189.5,825.8 1274.1,828.6 1169.3,424.2 1283,809.6 1283.2,827.8 1282.3,506.3 1144.5,805.7 1276.8,823 1132,815.3 1268.3,672.1 1265.9,799.3 1299.4,673 1253.9,513.8 1289.4,506.2 1282.4,518.9 1280.5,634.5 1276.2,614.6 1236.4,823.4 1285,626.4 1016.7,419.8 1263.3,617.3 1259.4,677.5 1289.4,538.4 1260.6,799.7 1299.4,827.1 1258.6,508.4 1234.9,830.2 1109.7,423.9 1081,424.6 1122.2,426.1 1286,521.1 1243.5,617.2 1299.4,517 1224.9,833.8 1257.2,671.2 1284.4,501 1299.4,793 1276.4,424.7 1251.4,823.2 1299.4,668.4 1293.1,508.5 1213.7,825.4 1244,521.3 1280.5,530.5 1283.6,528.2 1193.4,814.7 1277.8,822.8 1197.3,814.7 1223.4,799.7 1274.8,510 1295.9,635.4 1169.2,423.8 1169,808.7 1285.3,531.7 1197.4,818.3 1013.7,418.5 1217.5,797.3 1219.4,815 1246.4,604.2 1205.9,806.5 1174.8,512.8 1262.6,611.5 1143.8,517.3 1286.3,826.9 1271.9,512.2 1299.4,818.6 1228.9,799.3 1289.8,537.1 1251.5,819.2 1275.6,536.1 1205.2,817 1241.7,511.9 1266,821.1 1261.4,610.1 1268.9,803.3 1178.4,811.2 1249.8,670.7 1199.4,543.8 1240.2,669.8 1299.4,799.7 1296.8,618.6 1254.2,813.8 1243.7,816.5 1210.4,625 1223.5,797.1 1244.2,428.1 1222.7,798.8 1174,822.4 1277.2,512.8 1285,536.2 1286.5,611.2 1276.6,526.7 1154.7,615 1187.1,820.9 1299.4,808.2 1135.1,424 1299.4,826.2 1218.1,831 1276.6,823.7 1299.4,508.9 1198.6,831.7 1025.3,615.5 1272.4,672.5 1249.8,800.8 1038.2,805 1203.7,828.6 1202.5,619.9 1238.1,813.1 1067.3,512.8 1267.9,610.6 1291,627.7 1215.2,424.1 1099.8,420.8 1299.4,509.8 1267.7,510.9 1278,524 1136.8,804.4 1270.4,829.6 1280.8,809.6 1138.7,426.7 1190.8,830.1 1288.9,527.6 1199.4,833.3 1201.3,822.2 1156.3,623.2 1293.1,522.6 1234.7,669.3 1296.8,518.5 1202,619.1 1266.3,523.8 1289.6,509.1 1276.4,630.9 1165.1,819.2 1150.6,822.2 1189.1,816.3 1249.9,520.8 1164.5,806.8 1288.7,541.2 1216,817.4 1276.7,827.2 1299.4,798.8 1245.1,670.2 1147.3,621 1279.5,798.1 1280,524.7 1185.4,806.9 1224.6,803.8 1270.7,511.2 1266.9,506.7 1212.2,427.7 1299.4,811.4 1167,776 1174.4,514 1299.4,505.2 1286.7,810.6 1299.4,614 923.8,421.9 1261.5,513.6 1117.8,502.6 1281.2,817.6 1227.4,668.9 1170.4,516.1 1226.5,512.6 1147,809.9 1269.5,539.2 1284.2,505.5 1295.9,532.6 1148.5,505.2 1211.5,422.5 1299.4,824.8 1133.5,807.2 1066.3,520.1 1261.8,798.2 1235.4,800.3 1292.7,799.1 1202.2,798.9 1299.4,531.9 1271.4,506.5 1232.7,824.1 1250,608.5 1279.6,523.4 1232,818.9 1128.2,817.8 1121.2,503 1266.1,822.7 1263.3,513 1263.9,513.9 1299.4,812.3 1264.3,825.9 1260.1,822.1 1241.2,794.7 1270.2,810.3 1270.2,634.6 1299.4,608.5 1299.4,805.1 1102.6,793.2 1227.2,831.3 1140.8,805.2 1251,605.3 1022.5,422.3 1264.8,624.5 1218.9,619.6 1278.7,534.3 1299.4,667.5 1262.1,817.2 1187.2,820.7 1069,424.1 1235.1,802.9 1269.4,518.9 1234.7,623.5 1219.9,809.2 1289.3,530.8 1271.4,509.6 1285.3,524.3 1285.9,612.2 1288.4,795.5 1237,612.8 1245,614.4 1278.5,672.9 1179.4,803.1 1228.6,508.5 1247.4,812.6 1246.5,510.3 1129.4,810.3 1090.6,811.5 1162.3,616.8 1088,423.8 1290.6,539.2 1192.7,627.1 1299.4,517.5 1262.7,799.9 1234.1,811.2 1158.3,533 1288.7,508.2 1292.3,621 1211.3,821.3 1253.5,810.8 1227.2,804.6 1242.2,824.3 1210.7,823.1 1194,619.4 1263.7,810.2 1173.6,808.4 1240.7,606.9 1244.7,818.6 1137,618.9 1217.1,667.9 1260.7,511.7 1163,512.8 1103.9,501.2 1269.5,795.6 1091.2,423.2 1299.4,615.8 1210.9,619.4 1299.4,812.7 1075.3,523.7 1283.7,520.4 1285.4,512.6 1299.4,508.5 1290.9,533.3 1246.9,522.2 1158.8,613.4 1136.2,423.9 1045.6,419.8 1248.4,815.5 1162.4,506.3 1272.7,526.3 1260.9,508.9 1262.8,503.5 1265.3,802.8 1295.9,629.1 1293.5,624.8 1294.4,636.2 1296.3,825 1159.8,817.6 1244.1,817.5 1296.8,531.1 1299.4,622.5 1254.6,604.4 1190.5,826 1270.7,828.6 1235.3,808.9 1299.4,798.4 1294.4,527.2 1261.5,820.2 1283.6,673.3 1261.5,822.4 1299.4,793.9 1140.1,807.6 1180.4,809.1 1247.5,503.6 1299.4,822.6 1262.4,828.1 1179.2,809.4 1140.1,810.1 1130.7,804.1 1170,518.1 1240.3,520.3 1257.9,829.7 1185.9,537.9 1259.8,624.3 1240.9,795.6 1197.7,539.6 1029.4,790.4 1024.6,419.6 1299.4,811.8 1171.2,613.7 1240.6,610.5 1217.1,629.1 1219.4,812.2 1299.4,628 1204.8,621.3 1225.8,813.5 1077.2,512.1 1151.6,810.3 1156.6,513.5 1273.3,809.3 1098.9,421.1 1237,519.6 1143.6,811.8 1144.8,619 1253,810.7 1239.9,517.2 1181.6,807.1 1241,607.6 1174.8,536.1 1157,820 1091.5,527.8 1245.3,677.9 1217.1,800.5 1294.4,529.9 1039.8,508.7 1239.7,806.7 1223.1,827.3 1154.3,517.7 1295.5,819.5 1122.1,421.4 1293.6,532.9 1253.2,604.1 1269.2,524.8 1242.3,511.4 1166.4,820.3 1294.4,629.5 1247.9,619.7" fill="none" stroke="none" marker-start="url(#m)" marker-mid="url(#m)" marker-end="url(#m)"/>
<polyline points="479.6,20.6 210.7,30.4 97.4,20.4 319.4,48.4" fill="none" stroke="none" marker-start="url(#w)" marker-mid="url(#w)" marker-end="url(#w)"/>
</svg></body></html>
